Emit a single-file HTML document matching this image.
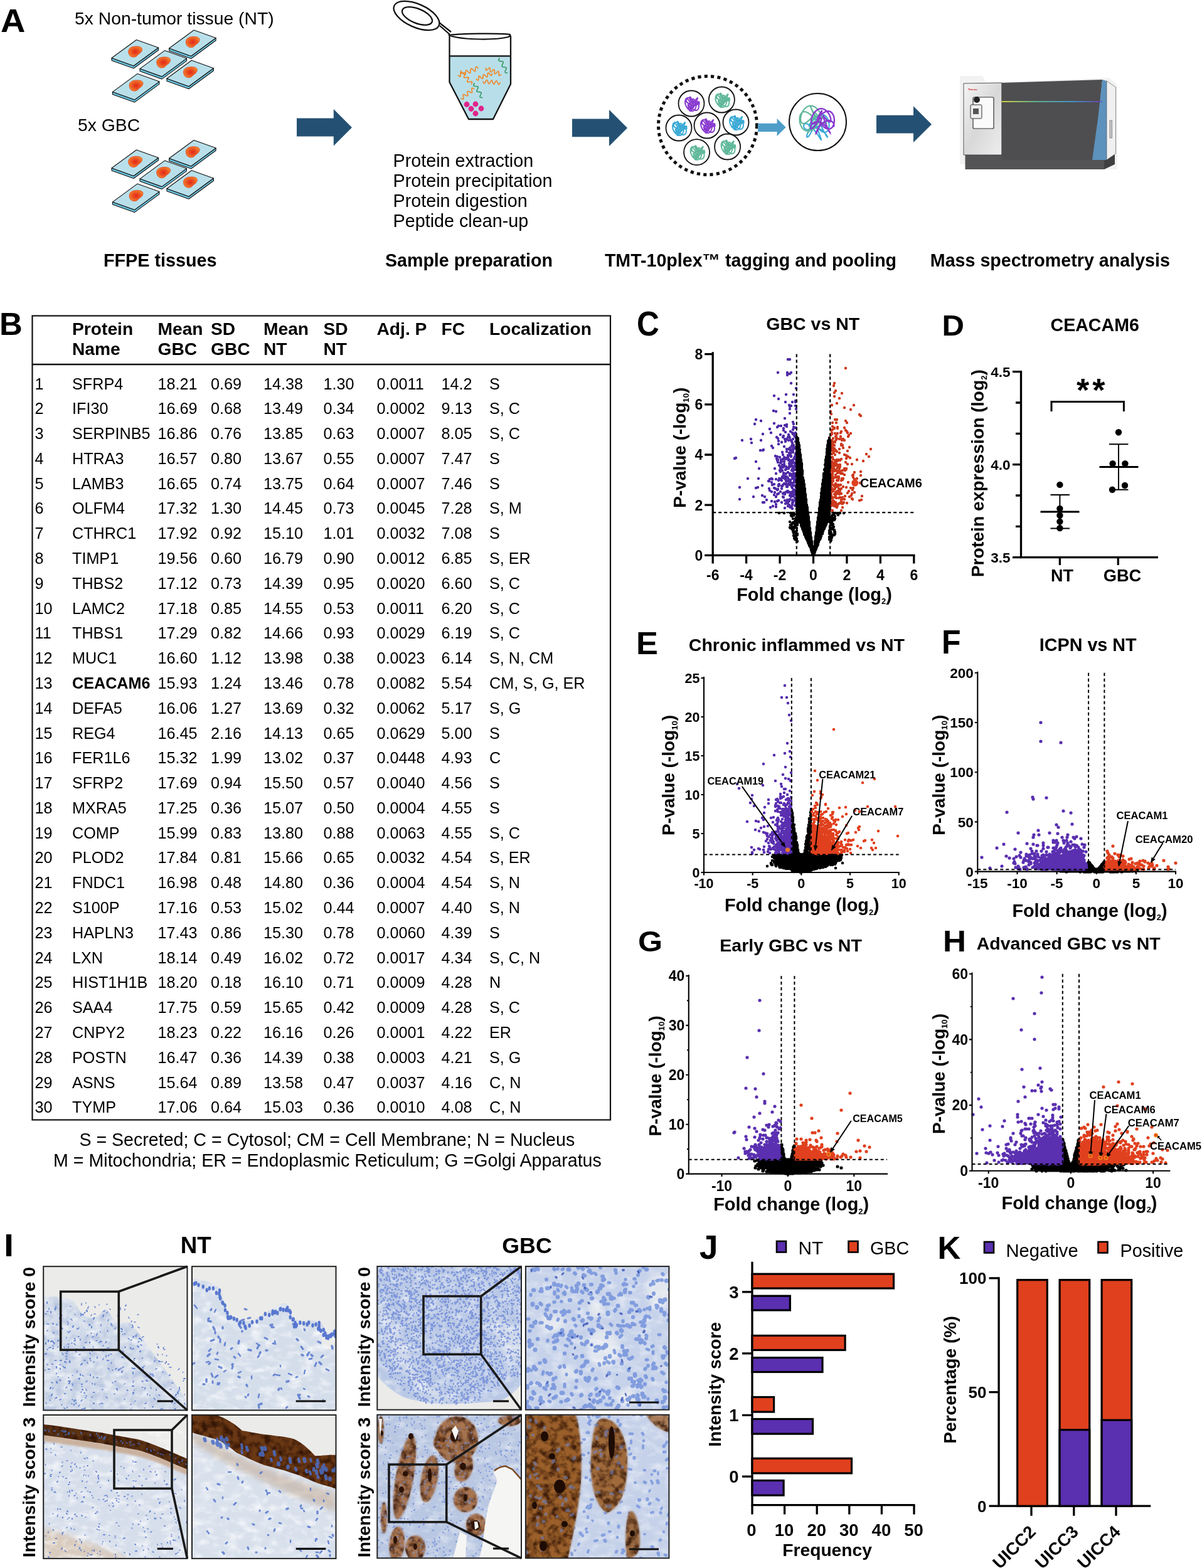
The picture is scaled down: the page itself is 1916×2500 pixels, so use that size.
<!DOCTYPE html>
<html><head><meta charset="utf-8"><title>Figure</title><style>html,body{margin:0;padding:0;background:#fff;}svg{display:block;}text{font-family:"Liberation Sans",Arial,sans-serif;}</style></head><body>
<svg width="1916" height="2500" viewBox="0 0 1916 2500" font-family="Liberation Sans, Arial, sans-serif">
<rect width="1916" height="2500" fill="#fff"/>
<text transform="translate(1.0,51.2) scale(1.071,1)" font-size="50.9" font-weight="bold">A</text>
<text x="119" y="38.6" font-size="28.3">5x Non-tumor tissue (NT)</text>
<text x="124" y="208.6" font-size="28.3">5x GBC</text>
<defs><radialGradient id="blobg" cx="0.5" cy="0.5" r="0.6"><stop offset="0" stop-color="#e3261c"/><stop offset="0.55" stop-color="#ec5a22"/><stop offset="1" stop-color="#f39a35"/></radialGradient></defs>
<polygon points="178.0,92.5 213.0,105.0 252.5,76.0 252.5,80.0 213.0,109.0 178.0,96.5" fill="#6cc3de" stroke="#111" stroke-width="1.1" stroke-linejoin="round"/>
<polygon points="178.0,92.5 217.5,63.5 252.5,76.0 213.0,105.0" fill="#b9e0ea" stroke="#111" stroke-width="1.1" stroke-linejoin="round"/>
<path transform="translate(215.8,82.5)" d="M-11,1 C-12,-6 -5,-9 3,-8.5 C10,-8 12,-5 10,-1 C8,3 5,3 3,6 C0,10 -10,10 -11,1 Z" fill="url(#blobg)" stroke="#e8401c" stroke-width="0.9"/>
<polygon points="269.6,77.0 304.6,89.5 344.1,60.5 344.1,64.5 304.6,93.5 269.6,81.0" fill="#6cc3de" stroke="#111" stroke-width="1.1" stroke-linejoin="round"/>
<polygon points="269.6,77.0 309.1,48.0 344.1,60.5 304.6,89.5" fill="#b9e0ea" stroke="#111" stroke-width="1.1" stroke-linejoin="round"/>
<path transform="translate(307.4,67.0)" d="M-11,1 C-12,-6 -5,-9 3,-8.5 C10,-8 12,-5 10,-1 C8,3 5,3 3,6 C0,10 -10,10 -11,1 Z" fill="url(#blobg)" stroke="#e8401c" stroke-width="0.9"/>
<polygon points="223.0,109.6 258.0,122.1 297.5,93.1 297.5,97.1 258.0,126.1 223.0,113.6" fill="#6cc3de" stroke="#111" stroke-width="1.1" stroke-linejoin="round"/>
<polygon points="223.0,109.6 262.5,80.6 297.5,93.1 258.0,122.1" fill="#b9e0ea" stroke="#111" stroke-width="1.1" stroke-linejoin="round"/>
<path transform="translate(260.8,99.5)" d="M-11,1 C-12,-6 -5,-9 3,-8.5 C10,-8 12,-5 10,-1 C8,3 5,3 3,6 C0,10 -10,10 -11,1 Z" fill="url(#blobg)" stroke="#e8401c" stroke-width="0.9"/>
<polygon points="265.9,125.2 300.9,137.7 340.4,108.7 340.4,112.7 300.9,141.7 265.9,129.2" fill="#6cc3de" stroke="#111" stroke-width="1.1" stroke-linejoin="round"/>
<polygon points="265.9,125.2 305.4,96.2 340.4,108.7 300.9,137.7" fill="#b9e0ea" stroke="#111" stroke-width="1.1" stroke-linejoin="round"/>
<path transform="translate(303.6,115.2)" d="M-11,1 C-12,-6 -5,-9 3,-8.5 C10,-8 12,-5 10,-1 C8,3 5,3 3,6 C0,10 -10,10 -11,1 Z" fill="url(#blobg)" stroke="#e8401c" stroke-width="0.9"/>
<polygon points="179.4,146.6 214.4,159.1 253.9,130.1 253.9,134.1 214.4,163.1 179.4,150.6" fill="#6cc3de" stroke="#111" stroke-width="1.1" stroke-linejoin="round"/>
<polygon points="179.4,146.6 218.9,117.6 253.9,130.1 214.4,159.1" fill="#b9e0ea" stroke="#111" stroke-width="1.1" stroke-linejoin="round"/>
<path transform="translate(217.2,136.5)" d="M-11,1 C-12,-6 -5,-9 3,-8.5 C10,-8 12,-5 10,-1 C8,3 5,3 3,6 C0,10 -10,10 -11,1 Z" fill="url(#blobg)" stroke="#e8401c" stroke-width="0.9"/>
<polygon points="178.0,268.0 213.0,280.5 252.5,251.5 252.5,255.5 213.0,284.5 178.0,272.0" fill="#6cc3de" stroke="#111" stroke-width="1.1" stroke-linejoin="round"/>
<polygon points="178.0,268.0 217.5,239.0 252.5,251.5 213.0,280.5" fill="#b9e0ea" stroke="#111" stroke-width="1.1" stroke-linejoin="round"/>
<path transform="translate(215.8,257.9)" d="M-11,1 C-12,-6 -5,-9 3,-8.5 C10,-8 12,-5 10,-1 C8,3 5,3 3,6 C0,10 -10,10 -11,1 Z" fill="url(#blobg)" stroke="#e8401c" stroke-width="0.9"/>
<polygon points="269.6,252.5 304.6,265.0 344.1,236.0 344.1,240.0 304.6,269.0 269.6,256.5" fill="#6cc3de" stroke="#111" stroke-width="1.1" stroke-linejoin="round"/>
<polygon points="269.6,252.5 309.1,223.5 344.1,236.0 304.6,265.0" fill="#b9e0ea" stroke="#111" stroke-width="1.1" stroke-linejoin="round"/>
<path transform="translate(307.4,242.4)" d="M-11,1 C-12,-6 -5,-9 3,-8.5 C10,-8 12,-5 10,-1 C8,3 5,3 3,6 C0,10 -10,10 -11,1 Z" fill="url(#blobg)" stroke="#e8401c" stroke-width="0.9"/>
<polygon points="223.0,285.1 258.0,297.6 297.5,268.6 297.5,272.6 258.0,301.6 223.0,289.1" fill="#6cc3de" stroke="#111" stroke-width="1.1" stroke-linejoin="round"/>
<polygon points="223.0,285.1 262.5,256.1 297.5,268.6 258.0,297.6" fill="#b9e0ea" stroke="#111" stroke-width="1.1" stroke-linejoin="round"/>
<path transform="translate(260.8,275.1)" d="M-11,1 C-12,-6 -5,-9 3,-8.5 C10,-8 12,-5 10,-1 C8,3 5,3 3,6 C0,10 -10,10 -11,1 Z" fill="url(#blobg)" stroke="#e8401c" stroke-width="0.9"/>
<polygon points="265.9,300.7 300.9,313.2 340.4,284.2 340.4,288.2 300.9,317.2 265.9,304.7" fill="#6cc3de" stroke="#111" stroke-width="1.1" stroke-linejoin="round"/>
<polygon points="265.9,300.7 305.4,271.7 340.4,284.2 300.9,313.2" fill="#b9e0ea" stroke="#111" stroke-width="1.1" stroke-linejoin="round"/>
<path transform="translate(303.6,290.6)" d="M-11,1 C-12,-6 -5,-9 3,-8.5 C10,-8 12,-5 10,-1 C8,3 5,3 3,6 C0,10 -10,10 -11,1 Z" fill="url(#blobg)" stroke="#e8401c" stroke-width="0.9"/>
<polygon points="179.4,322.1 214.4,334.6 253.9,305.6 253.9,309.6 214.4,338.6 179.4,326.1" fill="#6cc3de" stroke="#111" stroke-width="1.1" stroke-linejoin="round"/>
<polygon points="179.4,322.1 218.9,293.1 253.9,305.6 214.4,334.6" fill="#b9e0ea" stroke="#111" stroke-width="1.1" stroke-linejoin="round"/>
<path transform="translate(217.2,312.1)" d="M-11,1 C-12,-6 -5,-9 3,-8.5 C10,-8 12,-5 10,-1 C8,3 5,3 3,6 C0,10 -10,10 -11,1 Z" fill="url(#blobg)" stroke="#e8401c" stroke-width="0.9"/>
<polygon points="473,188.6 531.8,188.6 531.8,174 561,203.25 531.8,232.5 531.8,217.5 473,217.5" fill="#245173"/>
<polygon points="912,189.6 971,189.6 971,175 1000,204.0 971,233 971,218.2 912,218.2" fill="#245173"/>
<polygon points="1397,183.7 1456,183.7 1456,169.3 1485,198.15 1456,227 1456,212.5 1397,212.5" fill="#245173"/>
<g fill="none" stroke="#111" stroke-width="2.3"><ellipse cx="664" cy="25" rx="39" ry="18.5" transform="rotate(24 664 25)"/><ellipse cx="665" cy="25.5" rx="25.5" ry="11.5" transform="rotate(22 665 25.5)"/><path d="M700,36 L719,51 M701,41 L717,55" /></g>
<path d="M716.5,89 L814,89 L814,134 L786,190 L747,190 L716.5,131 Z" fill="#b8dfe9"/>
<path d="M716.5,56 L716.5,131 L747,190 L786,190 L814,134 L814,57" fill="none" stroke="#111" stroke-width="2.3" stroke-linejoin="round"/>
<path d="M716.5,56 C740,53 800,53 813,55 C814,57 812,58 810,59 C790,64 740,64 718,57 Z" fill="#fff" stroke="#111" stroke-width="2.2"/>
<line x1="716.5" y1="89.3" x2="814" y2="89.3" stroke="#111" stroke-width="2.2"/>
<path d="M730.3,120.0 732.1,121.8 733.4,122.3 734.0,121.1 734.3,118.6 734.5,116.1 735.2,114.9 736.5,115.4 738.2,117.2 740.0,118.9 741.3,119.4 742.0,118.2 742.2,115.7 742.4,113.2 743.1,112.0 744.4,112.5 746.1,114.3 747.9,116.1 749.2,116.6 749.9,115.4 750.1,112.9 750.3,110.4 751.0,109.2 752.3,109.7 754.1,111.4 755.8,113.2 757.1,113.7 757.8,112.5 758.0,110.0 758.3,107.5 758.9,106.3 760.2,106.8 762.0,108.6" fill="none" stroke="#ee8a2e" stroke-width="1.7" stroke-linecap="round" stroke-linejoin="round"/>
<path d="M735.0,113.0 734.0,115.2 734.0,116.6 735.4,116.9 737.7,116.5 740.1,116.1 741.5,116.4 741.5,117.8 740.5,120.0 739.5,122.2 739.5,123.6 740.8,123.9 743.2,123.5 745.6,123.1 746.9,123.4 746.9,124.8 745.9,127.0 744.9,129.2 744.9,130.6 746.3,130.9 748.7,130.5 751.0,130.1 752.4,130.4 752.4,131.8 751.4,134.0" fill="none" stroke="#ee8a2e" stroke-width="1.7" stroke-linecap="round" stroke-linejoin="round"/>
<path d="M759.3,126.0 760.9,127.7 762.1,128.2 762.7,127.0 762.9,124.7 763.0,122.4 763.6,121.2 764.8,121.8 766.4,123.4 768.1,125.1 769.2,125.6 769.8,124.5 770.0,122.1 770.2,119.8 770.8,118.7 772.0,119.2 773.6,120.9 775.2,122.5 776.4,123.0 777.0,121.9 777.2,119.6 777.3,117.3 777.9,116.1 779.1,116.6 780.7,118.3 782.3,120.0 783.5,120.5 784.1,119.3 784.3,117.0" fill="none" stroke="#ee8a2e" stroke-width="1.7" stroke-linecap="round" stroke-linejoin="round"/>
<path d="M774.3,108.6 774.4,110.9 774.9,112.1 776.1,111.6 777.8,110.0 779.4,108.4 780.6,108.0 781.2,109.1 781.2,111.5 781.3,113.8 781.8,114.9 783.0,114.5 784.7,112.9 786.4,111.3 787.6,110.8 788.1,112.0 788.2,114.3 788.2,116.6 788.8,117.8 790.0,117.3 791.7,115.7 793.3,114.1 794.5,113.7 795.1,114.9 795.1,117.2 795.2,119.5 795.7,120.7 796.9,120.2 798.6,118.6" fill="none" stroke="#ee8a2e" stroke-width="1.7" stroke-linecap="round" stroke-linejoin="round"/>
<path d="M770.0,130.0 770.8,132.2 771.7,133.1 772.7,132.3 773.9,130.3 775.0,128.2 776.0,127.4 776.9,128.4 777.7,130.6 778.5,132.8 779.4,133.7 780.5,132.9 781.6,130.9 782.7,128.8 783.7,128.0 784.6,129.0 785.4,131.1 786.2,133.3 787.1,134.3 788.2,133.5 789.3,131.4 790.4,129.4 791.4,128.6 792.3,129.5 793.1,131.7 794.0,133.9 794.8,134.8 795.9,134.0 797.0,132.0" fill="none" stroke="#ee8a2e" stroke-width="1.7" stroke-linecap="round" stroke-linejoin="round"/>
<path d="M735.0,157.0 737.1,158.0 738.5,158.1 738.9,156.7 738.5,154.4 738.0,152.1 738.4,150.7 739.8,150.8 741.9,151.8 744.0,152.8 745.4,152.9 745.8,151.5 745.4,149.2 744.9,146.9 745.3,145.5 746.7,145.6 748.8,146.6 750.9,147.6 752.3,147.7 752.7,146.3 752.2,144.0 751.8,141.7 752.2,140.3 753.6,140.4 755.7,141.4" fill="none" stroke="#ee8a2e" stroke-width="1.7" stroke-linecap="round" stroke-linejoin="round"/>
<path d="M796.0,93.0 795.0,95.0 795.0,96.6 796.3,97.4 798.5,97.7 800.8,98.0 802.1,98.8 802.0,100.3 801.0,102.4 800.1,104.4 800.0,105.9 801.3,106.7 803.6,107.0 805.8,107.3 807.1,108.1 807.1,109.7 806.1,111.7 805.1,113.8 805.1,115.3 806.4,116.1 808.6,116.4" fill="none" stroke="#3d9a6a" stroke-width="1.7" stroke-linecap="round" stroke-linejoin="round"/>
<path d="M756.0,133.0 755.0,135.0 755.0,136.5 756.3,137.3 758.5,137.5 760.8,137.8 762.1,138.5 762.0,140.1 761.0,142.1 760.1,144.1 760.0,145.6 761.3,146.4 763.6,146.6 765.8,146.9 767.1,147.6 767.1,149.1 766.1,151.2 765.1,153.2 765.1,154.7 766.4,155.5 768.6,155.7" fill="none" stroke="#3d9a6a" stroke-width="1.7" stroke-linecap="round" stroke-linejoin="round"/>
<circle cx="744" cy="166.5" r="4.4" fill="#e0248a"/>
<circle cx="758" cy="166" r="4.4" fill="#e0248a"/>
<circle cx="751" cy="173.5" r="4.4" fill="#e0248a"/>
<circle cx="767" cy="173" r="4.4" fill="#e0248a"/>
<circle cx="758" cy="181" r="4.4" fill="#e0248a"/>
<text x="626.5" y="266.2" font-size="28.75">Protein extraction</text>
<text x="626.5" y="297.9" font-size="28.75">Protein precipitation</text>
<text x="626.5" y="330" font-size="28.75">Protein digestion</text>
<text x="626.5" y="362" font-size="28.75">Peptide clean-up</text>
<circle cx="1128" cy="200" r="78.5" fill="none" stroke="#111" stroke-width="5" stroke-dasharray="5.2 5.2"/>
<circle cx="1102" cy="165" r="20.5" fill="#fff" stroke="#111" stroke-width="1.8"/>
<path d="M1111.1,161.2 1111.9,162.2 1112.6,163.4 1113.2,164.8 1113.6,166.4 1113.9,168.0 1113.9,169.7 1113.8,171.2 1113.4,172.6 1112.9,173.9 1112.2,174.8 1111.3,175.5 1110.2,175.9 1109.1,175.9 1107.9,175.7 1106.6,175.2 1105.2,174.4 1103.9,173.5 1102.6,172.4 1101.4,171.3 1100.3,170.2 1099.3,169.2 1098.4,168.4 1097.7,167.7 1097.2,167.2 1096.8,167.1 1096.6,167.1 1096.6,167.4 1096.7,168.0 1097.0,168.7 1097.4,169.6 1097.9,170.6 1098.4,171.5 1099.0,172.4 1099.6,173.2 1100.2,173.8 1100.8,174.2 1101.3,174.3 1101.6,174.1 1101.9,173.7 1102.1,172.9 1102.1,171.8 1102.0,170.5 1101.7,169.0 1101.3,167.4 1100.8,165.8 1100.1,164.1 1099.4,162.5 1098.7,161.1 1097.9,159.9 1097.1,159.0 1096.3,158.3 1095.6,157.9 1095.0,157.8 1094.5,158.0 1094.1,158.5 1093.9,159.2 1093.8,160.0 1094.0,161.0 1094.3,161.9 1094.8,162.8 1095.5,163.7 1096.4,164.3 1097.4,164.8 1098.5,165.0 1099.8,164.9 1101.1,164.6 1102.5,164.1 1103.8,163.3 1105.2,162.4 1106.5,161.3 1107.7,160.2 1108.8,159.1 1109.8,158.1 1110.6,157.2 1111.3,156.5 1111.7,156.1 1112.0,156.0 1112.1,156.1 1112.0,156.6 1111.7,157.4 1111.3,158.5 1110.8,159.7 1110.1,161.2 1109.4,162.8 1108.6,164.4 1107.8,166.1 1107.0,167.6 1106.3,168.9 1105.6,170.1 1105.1,171.0 1104.6,171.6 1104.2,171.9 1104.0,172.0 1103.9,171.8 1104.0,171.3 1104.2,170.7 1104.5,169.9 1105.0,169.0 1105.5,168.2 1106.0,167.4 1106.7,166.8 1107.3,166.3 1107.9,166.1 1108.4,166.1 1108.9,166.4 1109.2,166.9 1109.5,167.7 1109.6,168.7 1109.5,169.8 1109.2,171.0 1108.8,172.3 1108.2,173.6 1107.5,174.7 1106.6,175.7 1105.5,176.5 1104.4,176.9 1103.1,177.1 1101.8,177.0 1100.5,176.6 1099.1,175.8 1097.9,174.8 1096.6,173.6 1095.5,172.2 1094.5,170.7 1093.7,169.1 1093.0,167.6 1092.5,166.2 1092.2,164.9 1092.1,163.9 1092.2,163.1 1092.5,162.6 1093.0,162.3 1093.6,162.4 1094.4,162.7 1095.2,163.2 1096.2,163.8 1097.1,164.6 1098.1,165.4 1099.1,166.1 1100.1,166.8 1100.9,167.3 1101.7,167.6 1102.4,167.7 1102.9,167.5 1103.3,167.0 1103.6,166.2 1103.7,165.3 1103.6,164.1 1103.5,162.8 1103.2,161.4 1102.8,159.9 1102.4,158.5 1101.9,157.3 1101.4,156.2 1100.9,155.3 1100.4,154.8 1100.0,154.5 1099.7,154.6 1099.5,154.9 1099.5,155.6 1099.6,156.6 1099.8,157.7 1100.2,159.0 1100.8,160.4 1101.5,161.8 1102.4,163.2 1103.3,164.5 1104.4,165.6 1105.5,166.4 1106.7,167.1 1107.9,167.4 1109.1,167.5 1110.3,167.3 1111.3,166.9 1112.2,166.4 1113.0,165.7 1113.7,164.9 1114.2,164.1 1114.4,163.4 1114.5,162.8 1114.4,162.3 1114.0,162.2 1113.5,162.2 1112.8,162.6 1112.0,163.2 1111.0,164.1 1110.0,165.2 1108.8,166.6 1107.6,168.0 1106.4,169.6 1105.3,171.1 1104.2,172.6 1103.1,174.0 1102.2,175.2 1101.4,176.1 1100.7,176.7 1100.2,177.0 1099.8,177.0 1099.6,176.7 1099.6,176.2 1099.7,175.3 1099.9,174.3 1100.3,173.1 1100.7,171.8 1101.2,170.6 1101.7,169.4 1102.2,168.3 1102.6,167.4 1103.1,166.7 1103.4,166.3 1103.7,166.2 1103.8,166.3 1103.8,166.6 1103.6,167.1 1103.3,167.9 1102.9,168.7 1102.3,169.5 1101.6,170.4 1100.7,171.1 1099.8,171.7 1098.9,172.0 1097.8,172.2 1096.8,172.0 1095.9,171.6 1094.9,170.8 1094.1,169.8 1093.4,168.6 1092.8,167.2 1092.4,165.6 1092.1,164.0 1092.1,162.3 1092.2,160.8 1092.6,159.4 1093.1,158.1 1093.8,157.2 1094.7,156.5 1095.8,156.1 1096.9,156.1 1098.1,156.3 1099.4,156.8 1100.8,157.6 1102.1,158.5 1103.4,159.6 1104.6,160.7 1105.7,161.8 1106.7,162.8 1107.6,163.6 1108.3,164.3 1108.8,164.8 1109.2,164.9 1109.4,164.9 1109.4,164.6 1109.3,164.0 1109.0,163.3 1108.6,162.4 1108.1,161.4 1107.6,160.5 1107.0,159.6 1106.4,158.8 1105.8,158.2 1105.2,157.8 1104.7,157.7 1104.4,157.9 1104.1,158.3 1103.9,159.1 1103.9,160.2 1104.0,161.5 1104.3,163.0 1104.7,164.6 1105.2,166.2" fill="none" stroke="#8a3ad0" stroke-width="2.0" stroke-linejoin="round"/>
<path d="M1106,164 l9,1.5" stroke="#8a3ad0" stroke-width="2" stroke-linecap="round"/>
<circle cx="1150.4" cy="159" r="20.5" fill="#fff" stroke="#111" stroke-width="1.8"/>
<path d="M1159.5,155.2 1160.3,156.2 1161.0,157.4 1161.6,158.8 1162.0,160.4 1162.3,162.0 1162.3,163.7 1162.2,165.2 1161.8,166.6 1161.3,167.9 1160.6,168.8 1159.7,169.5 1158.6,169.9 1157.5,169.9 1156.3,169.7 1155.0,169.2 1153.6,168.4 1152.3,167.5 1151.0,166.4 1149.8,165.3 1148.7,164.2 1147.7,163.2 1146.8,162.4 1146.1,161.7 1145.6,161.2 1145.2,161.1 1145.0,161.1 1145.0,161.4 1145.1,162.0 1145.4,162.7 1145.8,163.6 1146.3,164.6 1146.8,165.5 1147.4,166.4 1148.0,167.2 1148.6,167.8 1149.2,168.2 1149.7,168.3 1150.0,168.1 1150.3,167.7 1150.5,166.9 1150.5,165.8 1150.4,164.5 1150.1,163.0 1149.7,161.4 1149.2,159.8 1148.5,158.1 1147.8,156.5 1147.1,155.1 1146.3,153.9 1145.5,153.0 1144.7,152.3 1144.0,151.9 1143.4,151.8 1142.9,152.0 1142.5,152.5 1142.3,153.2 1142.2,154.0 1142.4,155.0 1142.7,155.9 1143.2,156.8 1143.9,157.7 1144.8,158.3 1145.8,158.8 1146.9,159.0 1148.2,158.9 1149.5,158.6 1150.9,158.1 1152.2,157.3 1153.6,156.4 1154.9,155.3 1156.1,154.2 1157.2,153.1 1158.2,152.1 1159.0,151.2 1159.7,150.5 1160.1,150.1 1160.4,150.0 1160.5,150.1 1160.4,150.6 1160.1,151.4 1159.7,152.5 1159.2,153.7 1158.5,155.2 1157.8,156.8 1157.0,158.4 1156.2,160.1 1155.4,161.6 1154.7,162.9 1154.0,164.1 1153.5,165.0 1153.0,165.6 1152.6,165.9 1152.4,166.0 1152.3,165.8 1152.4,165.3 1152.6,164.7 1152.9,163.9 1153.4,163.0 1153.9,162.2 1154.4,161.4 1155.1,160.8 1155.7,160.3 1156.3,160.1 1156.8,160.1 1157.3,160.4 1157.6,160.9 1157.9,161.7 1158.0,162.7 1157.9,163.8 1157.6,165.0 1157.2,166.3 1156.6,167.6 1155.9,168.7 1155.0,169.7 1153.9,170.5 1152.8,170.9 1151.5,171.1 1150.2,171.0 1148.9,170.6 1147.5,169.8 1146.3,168.8 1145.0,167.6 1143.9,166.2 1142.9,164.7 1142.1,163.1 1141.4,161.6 1140.9,160.2 1140.6,158.9 1140.5,157.9 1140.6,157.1 1140.9,156.6 1141.4,156.3 1142.0,156.4 1142.8,156.7 1143.6,157.2 1144.6,157.8 1145.5,158.6 1146.5,159.4 1147.5,160.1 1148.5,160.8 1149.3,161.3 1150.1,161.6 1150.8,161.7 1151.3,161.5 1151.7,161.0 1152.0,160.2 1152.1,159.3 1152.0,158.1 1151.9,156.8 1151.6,155.4 1151.2,153.9 1150.8,152.5 1150.3,151.3 1149.8,150.2 1149.3,149.3 1148.8,148.8 1148.4,148.5 1148.1,148.6 1147.9,148.9 1147.9,149.6 1148.0,150.6 1148.2,151.7 1148.6,153.0 1149.2,154.4 1149.9,155.8 1150.8,157.2 1151.7,158.5 1152.8,159.6 1153.9,160.4 1155.1,161.1 1156.3,161.4 1157.5,161.5 1158.7,161.3 1159.7,160.9 1160.6,160.4 1161.4,159.7 1162.1,158.9 1162.6,158.1 1162.8,157.4 1162.9,156.8 1162.8,156.3 1162.4,156.2 1161.9,156.2 1161.2,156.6 1160.4,157.2 1159.4,158.1 1158.4,159.2 1157.2,160.6 1156.0,162.0 1154.8,163.6 1153.7,165.1 1152.6,166.6 1151.5,168.0 1150.6,169.2 1149.8,170.1 1149.1,170.7 1148.6,171.0 1148.2,171.0 1148.0,170.7 1148.0,170.2 1148.1,169.3 1148.3,168.3 1148.7,167.1 1149.1,165.8 1149.6,164.6 1150.1,163.4 1150.6,162.3 1151.0,161.4 1151.5,160.7 1151.8,160.3 1152.1,160.2 1152.2,160.3 1152.2,160.6 1152.0,161.1 1151.7,161.9 1151.3,162.7 1150.7,163.5 1150.0,164.4 1149.1,165.1 1148.2,165.7 1147.3,166.0 1146.2,166.2 1145.2,166.0 1144.3,165.6 1143.3,164.8 1142.5,163.8 1141.8,162.6 1141.2,161.2 1140.8,159.6 1140.5,158.0 1140.5,156.3 1140.6,154.8 1141.0,153.4 1141.5,152.1 1142.2,151.2 1143.1,150.5 1144.2,150.1 1145.3,150.1 1146.5,150.3 1147.8,150.8 1149.2,151.6 1150.5,152.5 1151.8,153.6 1153.0,154.7 1154.1,155.8 1155.1,156.8 1156.0,157.6 1156.7,158.3 1157.2,158.8 1157.6,158.9 1157.8,158.9 1157.8,158.6 1157.7,158.0 1157.4,157.3 1157.0,156.4 1156.5,155.4 1156.0,154.5 1155.4,153.6 1154.8,152.8 1154.2,152.2 1153.6,151.8 1153.1,151.7 1152.8,151.9 1152.5,152.3 1152.3,153.1 1152.3,154.2 1152.4,155.5 1152.7,157.0 1153.1,158.6 1153.6,160.2" fill="none" stroke="#5fb89a" stroke-width="2.0" stroke-linejoin="round"/>
<path d="M1154.4,158 l9,1.5" stroke="#5fb89a" stroke-width="2" stroke-linecap="round"/>
<circle cx="1082" cy="204" r="20.5" fill="#fff" stroke="#111" stroke-width="1.8"/>
<path d="M1091.1,200.2 1091.9,201.2 1092.6,202.4 1093.2,203.8 1093.6,205.4 1093.9,207.0 1093.9,208.7 1093.8,210.2 1093.4,211.6 1092.9,212.9 1092.2,213.8 1091.3,214.5 1090.2,214.9 1089.1,214.9 1087.9,214.7 1086.6,214.2 1085.2,213.4 1083.9,212.5 1082.6,211.4 1081.4,210.3 1080.3,209.2 1079.3,208.2 1078.4,207.4 1077.7,206.7 1077.2,206.2 1076.8,206.1 1076.6,206.1 1076.6,206.4 1076.7,207.0 1077.0,207.7 1077.4,208.6 1077.9,209.6 1078.4,210.5 1079.0,211.4 1079.6,212.2 1080.2,212.8 1080.8,213.2 1081.3,213.3 1081.6,213.1 1081.9,212.7 1082.1,211.9 1082.1,210.8 1082.0,209.5 1081.7,208.0 1081.3,206.4 1080.8,204.8 1080.1,203.1 1079.4,201.5 1078.7,200.1 1077.9,198.9 1077.1,198.0 1076.3,197.3 1075.6,196.9 1075.0,196.8 1074.5,197.0 1074.1,197.5 1073.9,198.2 1073.8,199.0 1074.0,200.0 1074.3,200.9 1074.8,201.8 1075.5,202.7 1076.4,203.3 1077.4,203.8 1078.5,204.0 1079.8,203.9 1081.1,203.6 1082.5,203.1 1083.8,202.3 1085.2,201.4 1086.5,200.3 1087.7,199.2 1088.8,198.1 1089.8,197.1 1090.6,196.2 1091.3,195.5 1091.7,195.1 1092.0,195.0 1092.1,195.1 1092.0,195.6 1091.7,196.4 1091.3,197.5 1090.8,198.7 1090.1,200.2 1089.4,201.8 1088.6,203.4 1087.8,205.1 1087.0,206.6 1086.3,207.9 1085.6,209.1 1085.1,210.0 1084.6,210.6 1084.2,210.9 1084.0,211.0 1083.9,210.8 1084.0,210.3 1084.2,209.7 1084.5,208.9 1085.0,208.0 1085.5,207.2 1086.0,206.4 1086.7,205.8 1087.3,205.3 1087.9,205.1 1088.4,205.1 1088.9,205.4 1089.2,205.9 1089.5,206.7 1089.6,207.7 1089.5,208.8 1089.2,210.0 1088.8,211.3 1088.2,212.6 1087.5,213.7 1086.6,214.7 1085.5,215.5 1084.4,215.9 1083.1,216.1 1081.8,216.0 1080.5,215.6 1079.1,214.8 1077.9,213.8 1076.6,212.6 1075.5,211.2 1074.5,209.7 1073.7,208.1 1073.0,206.6 1072.5,205.2 1072.2,203.9 1072.1,202.9 1072.2,202.1 1072.5,201.6 1073.0,201.3 1073.6,201.4 1074.4,201.7 1075.2,202.2 1076.2,202.8 1077.1,203.6 1078.1,204.4 1079.1,205.1 1080.1,205.8 1080.9,206.3 1081.7,206.6 1082.4,206.7 1082.9,206.5 1083.3,206.0 1083.6,205.2 1083.7,204.3 1083.6,203.1 1083.5,201.8 1083.2,200.4 1082.8,198.9 1082.4,197.5 1081.9,196.3 1081.4,195.2 1080.9,194.3 1080.4,193.8 1080.0,193.5 1079.7,193.6 1079.5,193.9 1079.5,194.6 1079.6,195.6 1079.8,196.7 1080.2,198.0 1080.8,199.4 1081.5,200.8 1082.4,202.2 1083.3,203.5 1084.4,204.6 1085.5,205.4 1086.7,206.1 1087.9,206.4 1089.1,206.5 1090.3,206.3 1091.3,205.9 1092.2,205.4 1093.0,204.7 1093.7,203.9 1094.2,203.1 1094.4,202.4 1094.5,201.8 1094.4,201.3 1094.0,201.2 1093.5,201.2 1092.8,201.6 1092.0,202.2 1091.0,203.1 1090.0,204.2 1088.8,205.6 1087.6,207.0 1086.4,208.6 1085.3,210.1 1084.2,211.6 1083.1,213.0 1082.2,214.2 1081.4,215.1 1080.7,215.7 1080.2,216.0 1079.8,216.0 1079.6,215.7 1079.6,215.2 1079.7,214.3 1079.9,213.3 1080.3,212.1 1080.7,210.8 1081.2,209.6 1081.7,208.4 1082.2,207.3 1082.6,206.4 1083.1,205.7 1083.4,205.3 1083.7,205.2 1083.8,205.3 1083.8,205.6 1083.6,206.1 1083.3,206.9 1082.9,207.7 1082.3,208.5 1081.6,209.4 1080.7,210.1 1079.8,210.7 1078.9,211.0 1077.8,211.2 1076.8,211.0 1075.9,210.6 1074.9,209.8 1074.1,208.8 1073.4,207.6 1072.8,206.2 1072.4,204.6 1072.1,203.0 1072.1,201.3 1072.2,199.8 1072.6,198.4 1073.1,197.1 1073.8,196.2 1074.7,195.5 1075.8,195.1 1076.9,195.1 1078.1,195.3 1079.4,195.8 1080.8,196.6 1082.1,197.5 1083.4,198.6 1084.6,199.7 1085.7,200.8 1086.7,201.8 1087.6,202.6 1088.3,203.3 1088.8,203.8 1089.2,203.9 1089.4,203.9 1089.4,203.6 1089.3,203.0 1089.0,202.3 1088.6,201.4 1088.1,200.4 1087.6,199.5 1087.0,198.6 1086.4,197.8 1085.8,197.2 1085.2,196.8 1084.7,196.7 1084.4,196.9 1084.1,197.3 1083.9,198.1 1083.9,199.2 1084.0,200.5 1084.3,202.0 1084.7,203.6 1085.2,205.2" fill="none" stroke="#3aaad6" stroke-width="2.0" stroke-linejoin="round"/>
<path d="M1086,203 l9,1.5" stroke="#3aaad6" stroke-width="2" stroke-linecap="round"/>
<circle cx="1127" cy="200" r="20.5" fill="#fff" stroke="#111" stroke-width="1.8"/>
<path d="M1136.1,196.2 1136.9,197.2 1137.6,198.4 1138.2,199.8 1138.6,201.4 1138.9,203.0 1138.9,204.7 1138.8,206.2 1138.4,207.6 1137.9,208.9 1137.2,209.8 1136.3,210.5 1135.2,210.9 1134.1,210.9 1132.9,210.7 1131.6,210.2 1130.2,209.4 1128.9,208.5 1127.6,207.4 1126.4,206.3 1125.3,205.2 1124.3,204.2 1123.4,203.4 1122.7,202.7 1122.2,202.2 1121.8,202.1 1121.6,202.1 1121.6,202.4 1121.7,203.0 1122.0,203.7 1122.4,204.6 1122.9,205.6 1123.4,206.5 1124.0,207.4 1124.6,208.2 1125.2,208.8 1125.8,209.2 1126.3,209.3 1126.6,209.1 1126.9,208.7 1127.1,207.9 1127.1,206.8 1127.0,205.5 1126.7,204.0 1126.3,202.4 1125.8,200.8 1125.1,199.1 1124.4,197.5 1123.7,196.1 1122.9,194.9 1122.1,194.0 1121.3,193.3 1120.6,192.9 1120.0,192.8 1119.5,193.0 1119.1,193.5 1118.9,194.2 1118.8,195.0 1119.0,196.0 1119.3,196.9 1119.8,197.8 1120.5,198.7 1121.4,199.3 1122.4,199.8 1123.5,200.0 1124.8,199.9 1126.1,199.6 1127.5,199.1 1128.8,198.3 1130.2,197.4 1131.5,196.3 1132.7,195.2 1133.8,194.1 1134.8,193.1 1135.6,192.2 1136.3,191.5 1136.7,191.1 1137.0,191.0 1137.1,191.1 1137.0,191.6 1136.7,192.4 1136.3,193.5 1135.8,194.7 1135.1,196.2 1134.4,197.8 1133.6,199.4 1132.8,201.1 1132.0,202.6 1131.3,203.9 1130.6,205.1 1130.1,206.0 1129.6,206.6 1129.2,206.9 1129.0,207.0 1128.9,206.8 1129.0,206.3 1129.2,205.7 1129.5,204.9 1130.0,204.0 1130.5,203.2 1131.0,202.4 1131.7,201.8 1132.3,201.3 1132.9,201.1 1133.4,201.1 1133.9,201.4 1134.2,201.9 1134.5,202.7 1134.6,203.7 1134.5,204.8 1134.2,206.0 1133.8,207.3 1133.2,208.6 1132.5,209.7 1131.6,210.7 1130.5,211.5 1129.4,211.9 1128.1,212.1 1126.8,212.0 1125.5,211.6 1124.1,210.8 1122.9,209.8 1121.6,208.6 1120.5,207.2 1119.5,205.7 1118.7,204.1 1118.0,202.6 1117.5,201.2 1117.2,199.9 1117.1,198.9 1117.2,198.1 1117.5,197.6 1118.0,197.3 1118.6,197.4 1119.4,197.7 1120.2,198.2 1121.2,198.8 1122.1,199.6 1123.1,200.4 1124.1,201.1 1125.1,201.8 1125.9,202.3 1126.7,202.6 1127.4,202.7 1127.9,202.5 1128.3,202.0 1128.6,201.2 1128.7,200.3 1128.6,199.1 1128.5,197.8 1128.2,196.4 1127.8,194.9 1127.4,193.5 1126.9,192.3 1126.4,191.2 1125.9,190.3 1125.4,189.8 1125.0,189.5 1124.7,189.6 1124.5,189.9 1124.5,190.6 1124.6,191.6 1124.8,192.7 1125.2,194.0 1125.8,195.4 1126.5,196.8 1127.4,198.2 1128.3,199.5 1129.4,200.6 1130.5,201.4 1131.7,202.1 1132.9,202.4 1134.1,202.5 1135.3,202.3 1136.3,201.9 1137.2,201.4 1138.0,200.7 1138.7,199.9 1139.2,199.1 1139.4,198.4 1139.5,197.8 1139.4,197.3 1139.0,197.2 1138.5,197.2 1137.8,197.6 1137.0,198.2 1136.0,199.1 1135.0,200.2 1133.8,201.6 1132.6,203.0 1131.4,204.6 1130.3,206.1 1129.2,207.6 1128.1,209.0 1127.2,210.2 1126.4,211.1 1125.7,211.7 1125.2,212.0 1124.8,212.0 1124.6,211.7 1124.6,211.2 1124.7,210.3 1124.9,209.3 1125.3,208.1 1125.7,206.8 1126.2,205.6 1126.7,204.4 1127.2,203.3 1127.6,202.4 1128.1,201.7 1128.4,201.3 1128.7,201.2 1128.8,201.3 1128.8,201.6 1128.6,202.1 1128.3,202.9 1127.9,203.7 1127.3,204.5 1126.6,205.4 1125.7,206.1 1124.8,206.7 1123.9,207.0 1122.8,207.2 1121.8,207.0 1120.9,206.6 1119.9,205.8 1119.1,204.8 1118.4,203.6 1117.8,202.2 1117.4,200.6 1117.1,199.0 1117.1,197.3 1117.2,195.8 1117.6,194.4 1118.1,193.1 1118.8,192.2 1119.7,191.5 1120.8,191.1 1121.9,191.1 1123.1,191.3 1124.4,191.8 1125.8,192.6 1127.1,193.5 1128.4,194.6 1129.6,195.7 1130.7,196.8 1131.7,197.8 1132.6,198.6 1133.3,199.3 1133.8,199.8 1134.2,199.9 1134.4,199.9 1134.4,199.6 1134.3,199.0 1134.0,198.3 1133.6,197.4 1133.1,196.4 1132.6,195.5 1132.0,194.6 1131.4,193.8 1130.8,193.2 1130.2,192.8 1129.7,192.7 1129.4,192.9 1129.1,193.3 1128.9,194.1 1128.9,195.2 1129.0,196.5 1129.3,198.0 1129.7,199.6 1130.2,201.2" fill="none" stroke="#8a3ad0" stroke-width="2.0" stroke-linejoin="round"/>
<path d="M1131,199 l9,1.5" stroke="#8a3ad0" stroke-width="2" stroke-linecap="round"/>
<circle cx="1173" cy="195" r="20.5" fill="#fff" stroke="#111" stroke-width="1.8"/>
<path d="M1182.1,191.2 1182.9,192.2 1183.6,193.4 1184.2,194.8 1184.6,196.4 1184.9,198.0 1184.9,199.7 1184.8,201.2 1184.4,202.6 1183.9,203.9 1183.2,204.8 1182.3,205.5 1181.2,205.9 1180.1,205.9 1178.9,205.7 1177.6,205.2 1176.2,204.4 1174.9,203.5 1173.6,202.4 1172.4,201.3 1171.3,200.2 1170.3,199.2 1169.4,198.4 1168.7,197.7 1168.2,197.2 1167.8,197.1 1167.6,197.1 1167.6,197.4 1167.7,198.0 1168.0,198.7 1168.4,199.6 1168.9,200.6 1169.4,201.5 1170.0,202.4 1170.6,203.2 1171.2,203.8 1171.8,204.2 1172.3,204.3 1172.6,204.1 1172.9,203.7 1173.1,202.9 1173.1,201.8 1173.0,200.5 1172.7,199.0 1172.3,197.4 1171.8,195.8 1171.1,194.1 1170.4,192.5 1169.7,191.1 1168.9,189.9 1168.1,189.0 1167.3,188.3 1166.6,187.9 1166.0,187.8 1165.5,188.0 1165.1,188.5 1164.9,189.2 1164.8,190.0 1165.0,191.0 1165.3,191.9 1165.8,192.8 1166.5,193.7 1167.4,194.3 1168.4,194.8 1169.5,195.0 1170.8,194.9 1172.1,194.6 1173.5,194.1 1174.8,193.3 1176.2,192.4 1177.5,191.3 1178.7,190.2 1179.8,189.1 1180.8,188.1 1181.6,187.2 1182.3,186.5 1182.7,186.1 1183.0,186.0 1183.1,186.1 1183.0,186.6 1182.7,187.4 1182.3,188.5 1181.8,189.7 1181.1,191.2 1180.4,192.8 1179.6,194.4 1178.8,196.1 1178.0,197.6 1177.3,198.9 1176.6,200.1 1176.1,201.0 1175.6,201.6 1175.2,201.9 1175.0,202.0 1174.9,201.8 1175.0,201.3 1175.2,200.7 1175.5,199.9 1176.0,199.0 1176.5,198.2 1177.0,197.4 1177.7,196.8 1178.3,196.3 1178.9,196.1 1179.4,196.1 1179.9,196.4 1180.2,196.9 1180.5,197.7 1180.6,198.7 1180.5,199.8 1180.2,201.0 1179.8,202.3 1179.2,203.6 1178.5,204.7 1177.6,205.7 1176.5,206.5 1175.4,206.9 1174.1,207.1 1172.8,207.0 1171.5,206.6 1170.1,205.8 1168.9,204.8 1167.6,203.6 1166.5,202.2 1165.5,200.7 1164.7,199.1 1164.0,197.6 1163.5,196.2 1163.2,194.9 1163.1,193.9 1163.2,193.1 1163.5,192.6 1164.0,192.3 1164.6,192.4 1165.4,192.7 1166.2,193.2 1167.2,193.8 1168.1,194.6 1169.1,195.4 1170.1,196.1 1171.1,196.8 1171.9,197.3 1172.7,197.6 1173.4,197.7 1173.9,197.5 1174.3,197.0 1174.6,196.2 1174.7,195.3 1174.6,194.1 1174.5,192.8 1174.2,191.4 1173.8,189.9 1173.4,188.5 1172.9,187.3 1172.4,186.2 1171.9,185.3 1171.4,184.8 1171.0,184.5 1170.7,184.6 1170.5,184.9 1170.5,185.6 1170.6,186.6 1170.8,187.7 1171.2,189.0 1171.8,190.4 1172.5,191.8 1173.4,193.2 1174.3,194.5 1175.4,195.6 1176.5,196.4 1177.7,197.1 1178.9,197.4 1180.1,197.5 1181.3,197.3 1182.3,196.9 1183.2,196.4 1184.0,195.7 1184.7,194.9 1185.2,194.1 1185.4,193.4 1185.5,192.8 1185.4,192.3 1185.0,192.2 1184.5,192.2 1183.8,192.6 1183.0,193.2 1182.0,194.1 1181.0,195.2 1179.8,196.6 1178.6,198.0 1177.4,199.6 1176.3,201.1 1175.2,202.6 1174.1,204.0 1173.2,205.2 1172.4,206.1 1171.7,206.7 1171.2,207.0 1170.8,207.0 1170.6,206.7 1170.6,206.2 1170.7,205.3 1170.9,204.3 1171.3,203.1 1171.7,201.8 1172.2,200.6 1172.7,199.4 1173.2,198.3 1173.6,197.4 1174.1,196.7 1174.4,196.3 1174.7,196.2 1174.8,196.3 1174.8,196.6 1174.6,197.1 1174.3,197.9 1173.9,198.7 1173.3,199.5 1172.6,200.4 1171.7,201.1 1170.8,201.7 1169.9,202.0 1168.8,202.2 1167.8,202.0 1166.9,201.6 1165.9,200.8 1165.1,199.8 1164.4,198.6 1163.8,197.2 1163.4,195.6 1163.1,194.0 1163.1,192.3 1163.2,190.8 1163.6,189.4 1164.1,188.1 1164.8,187.2 1165.7,186.5 1166.8,186.1 1167.9,186.1 1169.1,186.3 1170.4,186.8 1171.8,187.6 1173.1,188.5 1174.4,189.6 1175.6,190.7 1176.7,191.8 1177.7,192.8 1178.6,193.6 1179.3,194.3 1179.8,194.8 1180.2,194.9 1180.4,194.9 1180.4,194.6 1180.3,194.0 1180.0,193.3 1179.6,192.4 1179.1,191.4 1178.6,190.5 1178.0,189.6 1177.4,188.8 1176.8,188.2 1176.2,187.8 1175.7,187.7 1175.4,187.9 1175.1,188.3 1174.9,189.1 1174.9,190.2 1175.0,191.5 1175.3,193.0 1175.7,194.6 1176.2,196.2" fill="none" stroke="#3aaad6" stroke-width="2.0" stroke-linejoin="round"/>
<path d="M1177,194 l9,1.5" stroke="#3aaad6" stroke-width="2" stroke-linecap="round"/>
<circle cx="1110.6" cy="242.7" r="20.5" fill="#fff" stroke="#111" stroke-width="1.8"/>
<path d="M1119.7,238.9 1120.5,239.9 1121.2,241.1 1121.8,242.5 1122.2,244.1 1122.5,245.7 1122.5,247.4 1122.4,248.9 1122.0,250.3 1121.5,251.6 1120.8,252.5 1119.9,253.2 1118.8,253.6 1117.7,253.6 1116.5,253.4 1115.2,252.9 1113.8,252.1 1112.5,251.2 1111.2,250.1 1110.0,249.0 1108.9,247.9 1107.9,246.9 1107.0,246.1 1106.3,245.4 1105.8,244.9 1105.4,244.8 1105.2,244.8 1105.2,245.1 1105.3,245.7 1105.6,246.4 1106.0,247.3 1106.5,248.3 1107.0,249.2 1107.6,250.1 1108.2,250.9 1108.8,251.5 1109.4,251.9 1109.9,252.0 1110.2,251.8 1110.5,251.4 1110.7,250.6 1110.7,249.5 1110.6,248.2 1110.3,246.7 1109.9,245.1 1109.4,243.5 1108.7,241.8 1108.0,240.2 1107.3,238.8 1106.5,237.6 1105.7,236.7 1104.9,236.0 1104.2,235.6 1103.6,235.5 1103.1,235.7 1102.7,236.2 1102.5,236.9 1102.4,237.7 1102.6,238.7 1102.9,239.6 1103.4,240.5 1104.1,241.4 1105.0,242.0 1106.0,242.5 1107.1,242.7 1108.4,242.6 1109.7,242.3 1111.1,241.8 1112.4,241.0 1113.8,240.1 1115.1,239.0 1116.3,237.9 1117.4,236.8 1118.4,235.8 1119.2,234.9 1119.9,234.2 1120.3,233.8 1120.6,233.7 1120.7,233.8 1120.6,234.3 1120.3,235.1 1119.9,236.2 1119.4,237.4 1118.7,238.9 1118.0,240.5 1117.2,242.1 1116.4,243.8 1115.6,245.3 1114.9,246.6 1114.2,247.8 1113.7,248.7 1113.2,249.3 1112.8,249.6 1112.6,249.7 1112.5,249.5 1112.6,249.0 1112.8,248.4 1113.1,247.6 1113.6,246.7 1114.1,245.9 1114.6,245.1 1115.3,244.5 1115.9,244.0 1116.5,243.8 1117.0,243.8 1117.5,244.1 1117.8,244.6 1118.1,245.4 1118.2,246.4 1118.1,247.5 1117.8,248.7 1117.4,250.0 1116.8,251.3 1116.1,252.4 1115.2,253.4 1114.1,254.2 1113.0,254.6 1111.7,254.8 1110.4,254.7 1109.1,254.3 1107.7,253.5 1106.5,252.5 1105.2,251.3 1104.1,249.9 1103.1,248.4 1102.3,246.8 1101.6,245.3 1101.1,243.9 1100.8,242.6 1100.7,241.6 1100.8,240.8 1101.1,240.3 1101.6,240.0 1102.2,240.1 1103.0,240.4 1103.8,240.9 1104.8,241.5 1105.7,242.3 1106.7,243.1 1107.7,243.8 1108.7,244.5 1109.5,245.0 1110.3,245.3 1111.0,245.4 1111.5,245.2 1111.9,244.7 1112.2,243.9 1112.3,243.0 1112.2,241.8 1112.1,240.5 1111.8,239.1 1111.4,237.6 1111.0,236.2 1110.5,235.0 1110.0,233.9 1109.5,233.0 1109.0,232.5 1108.6,232.2 1108.3,232.3 1108.1,232.6 1108.1,233.3 1108.2,234.3 1108.4,235.4 1108.8,236.7 1109.4,238.1 1110.1,239.5 1111.0,240.9 1111.9,242.2 1113.0,243.3 1114.1,244.1 1115.3,244.8 1116.5,245.1 1117.7,245.2 1118.9,245.0 1119.9,244.6 1120.8,244.1 1121.6,243.4 1122.3,242.6 1122.8,241.8 1123.0,241.1 1123.1,240.5 1123.0,240.0 1122.6,239.9 1122.1,239.9 1121.4,240.3 1120.6,240.9 1119.6,241.8 1118.6,242.9 1117.4,244.3 1116.2,245.7 1115.0,247.3 1113.9,248.8 1112.8,250.3 1111.7,251.7 1110.8,252.9 1110.0,253.8 1109.3,254.4 1108.8,254.7 1108.4,254.7 1108.2,254.4 1108.2,253.9 1108.3,253.0 1108.5,252.0 1108.9,250.8 1109.3,249.5 1109.8,248.3 1110.3,247.1 1110.8,246.0 1111.2,245.1 1111.7,244.4 1112.0,244.0 1112.3,243.9 1112.4,244.0 1112.4,244.3 1112.2,244.8 1111.9,245.6 1111.5,246.4 1110.9,247.2 1110.2,248.1 1109.3,248.8 1108.4,249.4 1107.5,249.7 1106.4,249.9 1105.4,249.7 1104.5,249.3 1103.5,248.5 1102.7,247.5 1102.0,246.3 1101.4,244.9 1101.0,243.3 1100.7,241.7 1100.7,240.0 1100.8,238.5 1101.2,237.1 1101.7,235.8 1102.4,234.9 1103.3,234.2 1104.4,233.8 1105.5,233.8 1106.7,234.0 1108.0,234.5 1109.4,235.3 1110.7,236.2 1112.0,237.3 1113.2,238.4 1114.3,239.5 1115.3,240.5 1116.2,241.3 1116.9,242.0 1117.4,242.5 1117.8,242.6 1118.0,242.6 1118.0,242.3 1117.9,241.7 1117.6,241.0 1117.2,240.1 1116.7,239.1 1116.2,238.2 1115.6,237.3 1115.0,236.5 1114.4,235.9 1113.8,235.5 1113.3,235.4 1113.0,235.6 1112.7,236.0 1112.5,236.8 1112.5,237.9 1112.6,239.2 1112.9,240.7 1113.3,242.3 1113.8,243.9" fill="none" stroke="#5fb89a" stroke-width="2.0" stroke-linejoin="round"/>
<path d="M1114.6,241.7 l9,1.5" stroke="#5fb89a" stroke-width="2" stroke-linecap="round"/>
<circle cx="1159.6" cy="234" r="20.5" fill="#fff" stroke="#111" stroke-width="1.8"/>
<path d="M1168.7,230.2 1169.5,231.2 1170.2,232.4 1170.8,233.8 1171.2,235.4 1171.5,237.0 1171.5,238.7 1171.4,240.2 1171.0,241.6 1170.5,242.9 1169.8,243.8 1168.9,244.5 1167.8,244.9 1166.7,244.9 1165.5,244.7 1164.2,244.2 1162.8,243.4 1161.5,242.5 1160.2,241.4 1159.0,240.3 1157.9,239.2 1156.9,238.2 1156.0,237.4 1155.3,236.7 1154.8,236.2 1154.4,236.1 1154.2,236.1 1154.2,236.4 1154.3,237.0 1154.6,237.7 1155.0,238.6 1155.5,239.6 1156.0,240.5 1156.6,241.4 1157.2,242.2 1157.8,242.8 1158.4,243.2 1158.9,243.3 1159.2,243.1 1159.5,242.7 1159.7,241.9 1159.7,240.8 1159.6,239.5 1159.3,238.0 1158.9,236.4 1158.4,234.8 1157.7,233.1 1157.0,231.5 1156.3,230.1 1155.5,228.9 1154.7,228.0 1153.9,227.3 1153.2,226.9 1152.6,226.8 1152.1,227.0 1151.7,227.5 1151.5,228.2 1151.4,229.0 1151.6,230.0 1151.9,230.9 1152.4,231.8 1153.1,232.7 1154.0,233.3 1155.0,233.8 1156.1,234.0 1157.4,233.9 1158.7,233.6 1160.1,233.1 1161.4,232.3 1162.8,231.4 1164.1,230.3 1165.3,229.2 1166.4,228.1 1167.4,227.1 1168.2,226.2 1168.9,225.5 1169.3,225.1 1169.6,225.0 1169.7,225.1 1169.6,225.6 1169.3,226.4 1168.9,227.5 1168.4,228.7 1167.7,230.2 1167.0,231.8 1166.2,233.4 1165.4,235.1 1164.6,236.6 1163.9,237.9 1163.2,239.1 1162.7,240.0 1162.2,240.6 1161.8,240.9 1161.6,241.0 1161.5,240.8 1161.6,240.3 1161.8,239.7 1162.1,238.9 1162.6,238.0 1163.1,237.2 1163.6,236.4 1164.3,235.8 1164.9,235.3 1165.5,235.1 1166.0,235.1 1166.5,235.4 1166.8,235.9 1167.1,236.7 1167.2,237.7 1167.1,238.8 1166.8,240.0 1166.4,241.3 1165.8,242.6 1165.1,243.7 1164.2,244.7 1163.1,245.5 1162.0,245.9 1160.7,246.1 1159.4,246.0 1158.1,245.6 1156.7,244.8 1155.5,243.8 1154.2,242.6 1153.1,241.2 1152.1,239.7 1151.3,238.1 1150.6,236.6 1150.1,235.2 1149.8,233.9 1149.7,232.9 1149.8,232.1 1150.1,231.6 1150.6,231.3 1151.2,231.4 1152.0,231.7 1152.8,232.2 1153.8,232.8 1154.7,233.6 1155.7,234.4 1156.7,235.1 1157.7,235.8 1158.5,236.3 1159.3,236.6 1160.0,236.7 1160.5,236.5 1160.9,236.0 1161.2,235.2 1161.3,234.3 1161.2,233.1 1161.1,231.8 1160.8,230.4 1160.4,228.9 1160.0,227.5 1159.5,226.3 1159.0,225.2 1158.5,224.3 1158.0,223.8 1157.6,223.5 1157.3,223.6 1157.1,223.9 1157.1,224.6 1157.2,225.6 1157.4,226.7 1157.8,228.0 1158.4,229.4 1159.1,230.8 1160.0,232.2 1160.9,233.5 1162.0,234.6 1163.1,235.4 1164.3,236.1 1165.5,236.4 1166.7,236.5 1167.9,236.3 1168.9,235.9 1169.8,235.4 1170.6,234.7 1171.3,233.9 1171.8,233.1 1172.0,232.4 1172.1,231.8 1172.0,231.3 1171.6,231.2 1171.1,231.2 1170.4,231.6 1169.6,232.2 1168.6,233.1 1167.6,234.2 1166.4,235.6 1165.2,237.0 1164.0,238.6 1162.9,240.1 1161.8,241.6 1160.7,243.0 1159.8,244.2 1159.0,245.1 1158.3,245.7 1157.8,246.0 1157.4,246.0 1157.2,245.7 1157.2,245.2 1157.3,244.3 1157.5,243.3 1157.9,242.1 1158.3,240.8 1158.8,239.6 1159.3,238.4 1159.8,237.3 1160.2,236.4 1160.7,235.7 1161.0,235.3 1161.3,235.2 1161.4,235.3 1161.4,235.6 1161.2,236.1 1160.9,236.9 1160.5,237.7 1159.9,238.5 1159.2,239.4 1158.3,240.1 1157.4,240.7 1156.5,241.0 1155.4,241.2 1154.4,241.0 1153.5,240.6 1152.5,239.8 1151.7,238.8 1151.0,237.6 1150.4,236.2 1150.0,234.6 1149.7,233.0 1149.7,231.3 1149.8,229.8 1150.2,228.4 1150.7,227.1 1151.4,226.2 1152.3,225.5 1153.4,225.1 1154.5,225.1 1155.7,225.3 1157.0,225.8 1158.4,226.6 1159.7,227.5 1161.0,228.6 1162.2,229.7 1163.3,230.8 1164.3,231.8 1165.2,232.6 1165.9,233.3 1166.4,233.8 1166.8,233.9 1167.0,233.9 1167.0,233.6 1166.9,233.0 1166.6,232.3 1166.2,231.4 1165.7,230.4 1165.2,229.5 1164.6,228.6 1164.0,227.8 1163.4,227.2 1162.8,226.8 1162.3,226.7 1162.0,226.9 1161.7,227.3 1161.5,228.1 1161.5,229.2 1161.6,230.5 1161.9,232.0 1162.3,233.6 1162.8,235.2" fill="none" stroke="#5fb89a" stroke-width="2.0" stroke-linejoin="round"/>
<path d="M1163.6,233 l9,1.5" stroke="#5fb89a" stroke-width="2" stroke-linecap="round"/>
<polygon points="1208,196.8 1238.5,196.8 1238.5,189 1252.7,203 1238.5,217 1238.5,210 1208,210" fill="#4f9ec9"/>
<circle cx="1303.5" cy="194.6" r="45.5" fill="#fff" stroke="#111" stroke-width="2"/>
<path d="M1306.9,196.3 1308.1,199.0 1309.6,202.0 1311.0,205.0 1312.5,208.0 1314.0,210.8 1315.4,213.3 1316.6,215.4 1317.6,217.1 1318.4,218.2 1318.9,218.8 1319.1,218.8 1319.0,218.2 1318.6,217.2 1317.7,215.8 1316.6,214.2 1315.1,212.3 1313.4,210.4 1311.4,208.6 1309.2,207.0 1306.8,205.6 1304.3,204.7 1301.8,204.2 1299.3,204.1 1296.9,204.6 1294.6,205.4 1292.5,206.7 1290.6,208.3 1289.0,210.0 1287.7,211.9 1286.8,213.8 1286.2,215.5 1285.9,216.9 1285.9,218.0 1286.3,218.6 1286.9,218.7 1287.8,218.2 1288.9,217.2 1290.2,215.6 1291.5,213.6 1292.9,211.1 1294.3,208.3 1295.7,205.4 1296.9,202.4 1298.0,199.4 1298.9,196.6 1299.5,194.1 1300.0,192.0 1300.1,190.4 1300.0,189.4 1299.7,188.8 1299.2,188.8 1298.4,189.3 1297.5,190.3 1296.4,191.6 1295.3,193.1 1294.1,194.7 1293.0,196.3 1292.0,197.9 1291.0,199.1 1290.3,200.1 1289.8,200.6 1289.5,200.7 1289.5,200.3 1289.9,199.5 1290.5,198.2 1291.5,196.5 1292.8,194.6 1294.4,192.5 1296.2,190.3 1298.3,188.2 1300.6,186.3 1302.9,184.7 1305.4,183.5 1307.8,182.8 1310.2,182.6 1312.5,183.0 1314.6,184.0 1316.5,185.5 1318.2,187.6 1319.5,190.0 1320.6,192.7 1321.2,195.6 1321.6,198.5 1321.5,201.3 1321.1,204.0 1320.4,206.3 1319.4,208.2 1318.1,209.7 1316.7,210.6 1315.0,211.0 1313.3,211.0 1311.5,210.4 1309.7,209.5 1308.0,208.2 1306.4,206.8 1305.0,205.3 1303.7,203.9 1302.7,202.6 1301.9,201.6 1301.4,201.0 1301.2,200.8 1301.2,201.1 1301.5,201.9 1302.0,203.2 1302.6,204.9 1303.4,206.9 1304.3,209.2 1305.3,211.6 1306.2,214.1 1307.1,216.4 1307.8,218.6 1308.4,220.3 1308.8,221.7 1309.0,222.5 1308.9,222.8 1308.5,222.5 1307.9,221.6 1306.9,220.2 1305.7,218.3 1304.2,216.0 1302.4,213.5 1300.5,210.8 1298.4,208.0 1296.2,205.4 1294.0,203.0 1291.8,200.9 1289.6,199.2 1287.6,198.0 1285.8,197.3 1284.2,197.1 1282.9,197.4 1282.0,198.1 1281.3,199.1 1281.0,200.4 1281.1,201.8 1281.6,203.2 1282.4,204.5 1283.5,205.6 1284.9,206.4 1286.6,206.7 1288.4,206.6 1290.4,206.0 1292.6,204.9 1294.7,203.3 1296.8,201.3 1298.9,198.9 1300.8,196.3 1302.5,193.6 1304.1,190.9 1305.3,188.3 1306.4,186.0 1307.1,184.0 1307.5,182.5 1307.7,181.6 1307.5,181.2 1307.2,181.4 1306.6,182.1 1305.9,183.4 1305.1,185.1 1304.2,187.2 1303.3,189.5 1302.4,192.0 1301.6,194.5 1300.9,196.8 1300.4,198.9 1300.2,200.6 1300.1,202.0 1300.4,202.9 1300.9,203.2 1301.6,203.2 1302.7,202.6 1303.9,201.7 1305.4,200.5 1307.1,199.1 1308.8,197.6 1310.7,196.1 1312.6,194.9 1314.4,193.9 1316.2,193.2 1317.8,193.1" fill="none" stroke="#3aaad6" stroke-width="2.1"/>
<path d="M1303.5,189.2 1302.0,192.4 1300.6,195.5 1299.4,198.3 1298.4,200.9 1297.6,203.0 1297.2,204.6 1296.9,205.6 1297.0,206.0 1297.3,205.9 1297.9,205.2 1298.6,204.1 1299.5,202.6 1300.5,200.9 1301.6,199.1 1302.7,197.2 1303.7,195.5 1304.6,194.0 1305.4,192.9 1306.0,192.2 1306.3,192.0 1306.3,192.3 1306.0,193.1 1305.5,194.3 1304.6,195.9 1303.3,197.8 1301.8,199.8 1300.0,201.9 1298.0,204.0 1295.8,205.8 1293.4,207.3 1290.9,208.3 1288.5,208.9 1286.0,208.8 1283.7,208.2 1281.5,207.0 1279.6,205.2 1277.9,203.0 1276.5,200.3 1275.5,197.4 1274.8,194.3 1274.5,191.1 1274.6,188.1 1275.0,185.3 1275.8,182.9 1277.0,180.9 1278.4,179.4 1280.1,178.4 1281.9,178.1 1283.9,178.2 1285.9,178.9 1288.0,180.0 1290.0,181.3 1291.9,182.9 1293.7,184.5 1295.3,186.1 1296.6,187.5 1297.7,188.6 1298.4,189.4 1298.9,189.6 1299.2,189.4 1299.1,188.7 1298.8,187.5 1298.2,185.8 1297.5,183.8 1296.7,181.6 1295.8,179.2 1294.8,176.8 1293.9,174.5 1293.0,172.5 1292.3,170.8 1291.8,169.6 1291.5,169.0 1291.4,168.9 1291.6,169.4 1292.2,170.6 1293.0,172.3 1294.1,174.4 1295.4,177.0 1297.0,179.8 1298.9,182.8 1300.8,185.8 1302.9,188.6 1305.1,191.2 1307.3,193.4 1309.4,195.2 1311.3,196.5 1313.1,197.3 1314.7,197.5 1316.0,197.2 1317.0,196.5 1317.6,195.4 1317.8,194.0 1317.7,192.5 1317.2,191.0 1316.3,189.6 1315.1,188.4 1313.5,187.6 1311.7,187.2 1309.6,187.3 1307.4,187.9 1305.0,189.0 1302.6,190.6 1300.3,192.7 1297.9,195.0 1295.7,197.6 1293.7,200.3 1291.9,203.0 1290.4,205.5 1289.1,207.8 1288.2,209.6 1287.6,211.0 1287.3,211.8 1287.3,212.0 1287.5,211.6 1288.0,210.6 1288.7,209.0 1289.6,207.0 1290.6,204.6 1291.6,202.0 1292.6,199.2 1293.6,196.5 1294.4,193.9 1295.1,191.6 1295.6,189.7 1295.9,188.2 1295.9,187.2 1295.6,186.7 1295.1,186.8 1294.3,187.3 1293.2,188.2 1291.9,189.4 1290.5,190.9 1288.8,192.4 1287.1,193.8 1285.3,195.1 1283.6,196.1 1281.9,196.8 1280.3,196.9 1278.9,196.5 1277.8,195.6 1276.9,194.2 1276.4,192.3 1276.2,189.9 1276.3,187.3 1276.9,184.4 1277.8,181.4 1279.0,178.5 1280.6,175.8 1282.5,173.4 1284.7,171.4 1287.0,169.9 1289.5,169.0 1292.1,168.6 1294.7,168.9 1297.2,169.8 1299.7,171.2 1302.0,173.0 1304.1,175.2 1305.9,177.6 1307.5,180.0 1308.7,182.4 1309.6,184.6 1310.2,186.6 1310.4,188.1 1310.3,189.2 1309.9,189.9 1309.2,190.0 1308.3,189.6 1307.2,188.8 1306.0,187.6 1304.7,186.1 1303.5,184.5 1302.2,182.9 1301.1,181.4 1300.1,180.1 1299.2,179.2 1298.6,178.7 1298.3,178.7 1298.2,179.3 1298.3,180.4" fill="none" stroke="#5fb89a" stroke-width="2.1"/>
<path d="M1327.2,201.8 1328.2,201.8 1329.0,201.4 1329.4,200.6 1329.5,199.5 1329.3,198.1 1328.7,196.7 1327.8,195.3 1326.6,194.1 1325.1,193.0 1323.3,192.3 1321.4,192.0 1319.2,192.2 1317.0,192.8 1314.8,193.9 1312.6,195.4 1310.4,197.2 1308.3,199.3 1306.5,201.6 1304.8,203.9 1303.4,206.2 1302.2,208.3 1301.4,210.1 1300.8,211.5 1300.5,212.4 1300.6,212.8 1300.8,212.6 1301.3,211.9 1302.0,210.7 1302.8,209.0 1303.7,206.9 1304.7,204.5 1305.7,201.9 1306.6,199.3 1307.5,196.8 1308.2,194.4 1308.7,192.3 1309.0,190.6 1309.1,189.3 1308.9,188.5 1308.5,188.2 1307.9,188.3 1307.0,188.9 1306.0,189.8 1304.7,190.9 1303.3,192.2 1301.9,193.6 1300.4,194.9 1298.9,196.0 1297.4,196.8 1296.1,197.3 1295.0,197.3 1294.0,196.8 1293.4,195.9 1293.0,194.5 1292.9,192.7 1293.1,190.5 1293.7,188.1 1294.6,185.6 1295.8,183.0 1297.3,180.5 1299.1,178.2 1301.1,176.3 1303.3,174.7 1305.6,173.7 1308.0,173.2 1310.3,173.2 1312.7,173.8 1314.9,174.9 1317.0,176.5 1318.9,178.4 1320.6,180.6 1322.0,182.9 1323.0,185.3 1323.8,187.6 1324.3,189.6 1324.4,191.4 1324.2,192.8 1323.8,193.8 1323.1,194.3 1322.2,194.3 1321.1,193.9 1320.0,193.1 1318.7,192.1 1317.5,190.8 1316.2,189.4 1315.1,188.0 1314.1,186.7 1313.2,185.7 1312.6,185.0 1312.2,184.7 1312.0,184.9 1312.0,185.6 1312.3,186.7 1312.8,188.4 1313.6,190.4 1314.5,192.8 1315.5,195.4 1316.6,198.2 1317.8,201.0 1318.9,203.6 1320.0,206.0 1321.0,208.1 1321.8,209.8 1322.5,210.9 1322.9,211.5 1323.0,211.6 1322.9,211.1 1322.4,210.1 1321.6,208.8 1320.5,207.0 1319.1,205.1 1317.5,203.0 1315.6,200.9 1313.5,199.0 1311.3,197.2 1309.0,195.8 1306.6,194.8 1304.3,194.2 1302.0,194.1 1299.8,194.4 1297.9,195.1 1296.1,196.2 1294.7,197.5 1293.5,199.0 1292.6,200.6 1292.1,202.1 1291.9,203.4 1292.1,204.4 1292.6,205.1 1293.3,205.3 1294.3,205.0 1295.6,204.2 1297.0,202.9 1298.5,201.1 1300.1,198.9 1301.7,196.3 1303.3,193.6 1304.8,190.7 1306.2,187.9 1307.4,185.1 1308.4,182.6 1309.1,180.5 1309.7,178.8 1309.9,177.6 1310.0,177.0 1309.8,176.8 1309.3,177.2 1308.7,178.1 1308.0,179.3 1307.1,180.9 1306.2,182.6 1305.3,184.4 1304.4,186.2 1303.6,187.8 1302.9,189.2 1302.4,190.2 1302.2,190.8 1302.1,191.0 1302.4,190.7 1302.9,190.0 1303.7,188.9 1304.8,187.5 1306.2,185.9 1307.8,184.1 1309.6,182.3 1311.6,180.7 1313.7,179.2 1315.8,178.1 1318.0,177.4 1320.2,177.2 1322.2,177.5 1324.1,178.4 1325.8,179.7 1327.2,181.6 1328.4,183.8 1329.2,186.4 1329.7,189.2 1329.9,192.1 1329.7,195.0 1329.1,197.7 1328.3,200.1 1327.2,202.2 1325.7,203.8 1324.1,205.0 1322.3,205.6 1320.4,205.8 1318.5,205.4 1316.5,204.6 1314.6,203.5 1312.7,202.1 1311.1,200.5 1309.6,198.9 1308.3,197.4 1307.3,196.1 1306.5,195.1 1306.0,194.5 1305.8,194.3 1305.8,194.5" fill="none" stroke="#8a3ad0" stroke-width="2.4"/>
<polygon points="1530,121 1566,121 1572,132 1768,124 1781,135 1781,270 1597,270 1588,262 1530,262" fill="#f2f2f2"/>
<rect x="1538.5" y="246" width="222" height="24" fill="#545456"/>
<polygon points="1760,246 1777,245 1777,262 1760,270" fill="#3f3f41"/>
<defs><linearGradient id="silv" x1="0" y1="0" x2="1" y2="1"><stop offset="0" stop-color="#f4f4f4"/><stop offset="0.5" stop-color="#d8d8d8"/><stop offset="1" stop-color="#eeeeee"/></linearGradient><linearGradient id="rainb" x1="0" x2="1"><stop offset="0" stop-color="#f0f040"/><stop offset="0.35" stop-color="#60c8a0"/><stop offset="0.7" stop-color="#40a0e0"/><stop offset="1" stop-color="#7040c0"/></linearGradient></defs>
<polygon points="1536,133 1597,132 1597,247 1536,247" fill="url(#silv)" stroke="#333" stroke-width="0.8"/>
<polygon points="1596.5,132 1757,127 1757,129 1745,255 1596.5,255" fill="#4e4e50"/>
<polygon points="1757,127 1764,129 1764,255 1741,255 1750,190" fill="#5d92bd"/>
<polygon points="1764,129 1778.5,139 1778.5,245 1764,255" fill="#f0f0f0" stroke="#444" stroke-width="0.6"/>
<rect x="1769" y="192" width="3.5" height="28" fill="#c8c8c8" stroke="#555" stroke-width="0.6"/>
<rect x="1596.5" y="161.2" width="160" height="1.6" fill="url(#rainb)"/>
<rect x="1551" y="155" width="33" height="50" rx="2" fill="#fafafa" stroke="#333" stroke-width="1.2"/>
<rect x="1547" y="167" width="18" height="22" rx="2" fill="#eee" stroke="#333" stroke-width="1"/>
<rect x="1551" y="173" width="9" height="9" fill="#555"/>
<circle cx="1557" cy="159" r="5" fill="#222"/>
<text x="1543" y="144" font-size="4" fill="#d02020" font-weight="bold">Thermo</text>
<text x="165" y="425" font-size="28.75" font-weight="bold">FFPE tissues</text>
<text x="614" y="425" font-size="28.6" font-weight="bold">Sample preparation</text>
<text x="963.9" y="425" font-size="28.58" font-weight="bold">TMT-10plex™ tagging and pooling</text>
<text x="1482.8" y="425" font-size="28.65" font-weight="bold">Mass spectrometry analysis</text>
<text transform="translate(-1.0,533.8) scale(1.012,1)" font-size="50.4" font-weight="bold">B</text>
<rect x="51.5" y="503.5" width="921.5" height="1282" fill="none" stroke="#111" stroke-width="2.2"/>
<line x1="51.5" y1="581" x2="973" y2="581" stroke="#111" stroke-width="2.4"/>
<text x="115" y="534.3" font-size="28.2" font-weight="bold">Protein</text>
<text x="115" y="566" font-size="28.2" font-weight="bold">Name</text>
<text x="251.5" y="534.3" font-size="28.2" font-weight="bold">Mean</text>
<text x="251.5" y="566" font-size="28.2" font-weight="bold">GBC</text>
<text x="336" y="534.3" font-size="28.2" font-weight="bold">SD</text>
<text x="336" y="566" font-size="28.2" font-weight="bold">GBC</text>
<text x="420" y="534.3" font-size="28.2" font-weight="bold">Mean</text>
<text x="420" y="566" font-size="28.2" font-weight="bold">NT</text>
<text x="515.5" y="534.3" font-size="28.2" font-weight="bold">SD</text>
<text x="515.5" y="566" font-size="28.2" font-weight="bold">NT</text>
<text x="600.5" y="534.3" font-size="28.2" font-weight="bold">Adj. P</text>
<text x="703.5" y="534.3" font-size="28.2" font-weight="bold">FC</text>
<text x="780" y="534.3" font-size="28.2" font-weight="bold">Localization</text>
<g font-size="25.2">
<text x="55.5" y="620.5">1</text>
<text x="115" y="620.5">SFRP4</text>
<text x="251.5" y="620.5">18.21</text>
<text x="336" y="620.5">0.69</text>
<text x="420" y="620.5">14.38</text>
<text x="515.5" y="620.5">1.30</text>
<text x="600.5" y="620.5">0.0011</text>
<text x="703.5" y="620.5">14.2</text>
<text x="780" y="620.5">S</text>
<text x="55.5" y="660.3">2</text>
<text x="115" y="660.3">IFI30</text>
<text x="251.5" y="660.3">16.69</text>
<text x="336" y="660.3">0.68</text>
<text x="420" y="660.3">13.49</text>
<text x="515.5" y="660.3">0.34</text>
<text x="600.5" y="660.3">0.0002</text>
<text x="703.5" y="660.3">9.13</text>
<text x="780" y="660.3">S, C</text>
<text x="55.5" y="700.1">3</text>
<text x="115" y="700.1">SERPINB5</text>
<text x="251.5" y="700.1">16.86</text>
<text x="336" y="700.1">0.76</text>
<text x="420" y="700.1">13.85</text>
<text x="515.5" y="700.1">0.63</text>
<text x="600.5" y="700.1">0.0007</text>
<text x="703.5" y="700.1">8.05</text>
<text x="780" y="700.1">S, C</text>
<text x="55.5" y="739.9">4</text>
<text x="115" y="739.9">HTRA3</text>
<text x="251.5" y="739.9">16.57</text>
<text x="336" y="739.9">0.80</text>
<text x="420" y="739.9">13.67</text>
<text x="515.5" y="739.9">0.55</text>
<text x="600.5" y="739.9">0.0007</text>
<text x="703.5" y="739.9">7.47</text>
<text x="780" y="739.9">S</text>
<text x="55.5" y="779.6">5</text>
<text x="115" y="779.6">LAMB3</text>
<text x="251.5" y="779.6">16.65</text>
<text x="336" y="779.6">0.74</text>
<text x="420" y="779.6">13.75</text>
<text x="515.5" y="779.6">0.64</text>
<text x="600.5" y="779.6">0.0007</text>
<text x="703.5" y="779.6">7.46</text>
<text x="780" y="779.6">S</text>
<text x="55.5" y="819.4">6</text>
<text x="115" y="819.4">OLFM4</text>
<text x="251.5" y="819.4">17.32</text>
<text x="336" y="819.4">1.30</text>
<text x="420" y="819.4">14.45</text>
<text x="515.5" y="819.4">0.73</text>
<text x="600.5" y="819.4">0.0045</text>
<text x="703.5" y="819.4">7.28</text>
<text x="780" y="819.4">S, M</text>
<text x="55.5" y="859.2">7</text>
<text x="115" y="859.2">CTHRC1</text>
<text x="251.5" y="859.2">17.92</text>
<text x="336" y="859.2">0.92</text>
<text x="420" y="859.2">15.10</text>
<text x="515.5" y="859.2">1.01</text>
<text x="600.5" y="859.2">0.0032</text>
<text x="703.5" y="859.2">7.08</text>
<text x="780" y="859.2">S</text>
<text x="55.5" y="899.0">8</text>
<text x="115" y="899.0">TIMP1</text>
<text x="251.5" y="899.0">19.56</text>
<text x="336" y="899.0">0.60</text>
<text x="420" y="899.0">16.79</text>
<text x="515.5" y="899.0">0.90</text>
<text x="600.5" y="899.0">0.0012</text>
<text x="703.5" y="899.0">6.85</text>
<text x="780" y="899.0">S, ER</text>
<text x="55.5" y="938.8">9</text>
<text x="115" y="938.8">THBS2</text>
<text x="251.5" y="938.8">17.12</text>
<text x="336" y="938.8">0.73</text>
<text x="420" y="938.8">14.39</text>
<text x="515.5" y="938.8">0.95</text>
<text x="600.5" y="938.8">0.0020</text>
<text x="703.5" y="938.8">6.60</text>
<text x="780" y="938.8">S, C</text>
<text x="55.5" y="978.6">10</text>
<text x="115" y="978.6">LAMC2</text>
<text x="251.5" y="978.6">17.18</text>
<text x="336" y="978.6">0.85</text>
<text x="420" y="978.6">14.55</text>
<text x="515.5" y="978.6">0.53</text>
<text x="600.5" y="978.6">0.0011</text>
<text x="703.5" y="978.6">6.20</text>
<text x="780" y="978.6">S, C</text>
<text x="55.5" y="1018.4">11</text>
<text x="115" y="1018.4">THBS1</text>
<text x="251.5" y="1018.4">17.29</text>
<text x="336" y="1018.4">0.82</text>
<text x="420" y="1018.4">14.66</text>
<text x="515.5" y="1018.4">0.93</text>
<text x="600.5" y="1018.4">0.0029</text>
<text x="703.5" y="1018.4">6.19</text>
<text x="780" y="1018.4">S, C</text>
<text x="55.5" y="1058.1">12</text>
<text x="115" y="1058.1">MUC1</text>
<text x="251.5" y="1058.1">16.60</text>
<text x="336" y="1058.1">1.12</text>
<text x="420" y="1058.1">13.98</text>
<text x="515.5" y="1058.1">0.38</text>
<text x="600.5" y="1058.1">0.0023</text>
<text x="703.5" y="1058.1">6.14</text>
<text x="780" y="1058.1">S, N, CM</text>
<text x="55.5" y="1097.9">13</text>
<text x="115" y="1097.9" font-weight="bold">CEACAM6</text>
<text x="251.5" y="1097.9">15.93</text>
<text x="336" y="1097.9">1.24</text>
<text x="420" y="1097.9">13.46</text>
<text x="515.5" y="1097.9">0.78</text>
<text x="600.5" y="1097.9">0.0082</text>
<text x="703.5" y="1097.9">5.54</text>
<text x="780" y="1097.9">CM, S, G, ER</text>
<text x="55.5" y="1137.7">14</text>
<text x="115" y="1137.7">DEFA5</text>
<text x="251.5" y="1137.7">16.06</text>
<text x="336" y="1137.7">1.27</text>
<text x="420" y="1137.7">13.69</text>
<text x="515.5" y="1137.7">0.32</text>
<text x="600.5" y="1137.7">0.0062</text>
<text x="703.5" y="1137.7">5.17</text>
<text x="780" y="1137.7">S, G</text>
<text x="55.5" y="1177.5">15</text>
<text x="115" y="1177.5">REG4</text>
<text x="251.5" y="1177.5">16.45</text>
<text x="336" y="1177.5">2.16</text>
<text x="420" y="1177.5">14.13</text>
<text x="515.5" y="1177.5">0.65</text>
<text x="600.5" y="1177.5">0.0629</text>
<text x="703.5" y="1177.5">5.00</text>
<text x="780" y="1177.5">S</text>
<text x="55.5" y="1217.3">16</text>
<text x="115" y="1217.3">FER1L6</text>
<text x="251.5" y="1217.3">15.32</text>
<text x="336" y="1217.3">1.99</text>
<text x="420" y="1217.3">13.02</text>
<text x="515.5" y="1217.3">0.37</text>
<text x="600.5" y="1217.3">0.0448</text>
<text x="703.5" y="1217.3">4.93</text>
<text x="780" y="1217.3">C</text>
<text x="55.5" y="1257.1">17</text>
<text x="115" y="1257.1">SFRP2</text>
<text x="251.5" y="1257.1">17.69</text>
<text x="336" y="1257.1">0.94</text>
<text x="420" y="1257.1">15.50</text>
<text x="515.5" y="1257.1">0.57</text>
<text x="600.5" y="1257.1">0.0040</text>
<text x="703.5" y="1257.1">4.56</text>
<text x="780" y="1257.1">S</text>
<text x="55.5" y="1296.9">18</text>
<text x="115" y="1296.9">MXRA5</text>
<text x="251.5" y="1296.9">17.25</text>
<text x="336" y="1296.9">0.36</text>
<text x="420" y="1296.9">15.07</text>
<text x="515.5" y="1296.9">0.50</text>
<text x="600.5" y="1296.9">0.0004</text>
<text x="703.5" y="1296.9">4.55</text>
<text x="780" y="1296.9">S</text>
<text x="55.5" y="1336.7">19</text>
<text x="115" y="1336.7">COMP</text>
<text x="251.5" y="1336.7">15.99</text>
<text x="336" y="1336.7">0.83</text>
<text x="420" y="1336.7">13.80</text>
<text x="515.5" y="1336.7">0.88</text>
<text x="600.5" y="1336.7">0.0063</text>
<text x="703.5" y="1336.7">4.55</text>
<text x="780" y="1336.7">S, C</text>
<text x="55.5" y="1376.4">20</text>
<text x="115" y="1376.4">PLOD2</text>
<text x="251.5" y="1376.4">17.84</text>
<text x="336" y="1376.4">0.81</text>
<text x="420" y="1376.4">15.66</text>
<text x="515.5" y="1376.4">0.65</text>
<text x="600.5" y="1376.4">0.0032</text>
<text x="703.5" y="1376.4">4.54</text>
<text x="780" y="1376.4">S, ER</text>
<text x="55.5" y="1416.2">21</text>
<text x="115" y="1416.2">FNDC1</text>
<text x="251.5" y="1416.2">16.98</text>
<text x="336" y="1416.2">0.48</text>
<text x="420" y="1416.2">14.80</text>
<text x="515.5" y="1416.2">0.36</text>
<text x="600.5" y="1416.2">0.0004</text>
<text x="703.5" y="1416.2">4.54</text>
<text x="780" y="1416.2">S, N</text>
<text x="55.5" y="1456.0">22</text>
<text x="115" y="1456.0">S100P</text>
<text x="251.5" y="1456.0">17.16</text>
<text x="336" y="1456.0">0.53</text>
<text x="420" y="1456.0">15.02</text>
<text x="515.5" y="1456.0">0.44</text>
<text x="600.5" y="1456.0">0.0007</text>
<text x="703.5" y="1456.0">4.40</text>
<text x="780" y="1456.0">S, N</text>
<text x="55.5" y="1495.8">23</text>
<text x="115" y="1495.8">HAPLN3</text>
<text x="251.5" y="1495.8">17.43</text>
<text x="336" y="1495.8">0.86</text>
<text x="420" y="1495.8">15.30</text>
<text x="515.5" y="1495.8">0.78</text>
<text x="600.5" y="1495.8">0.0060</text>
<text x="703.5" y="1495.8">4.39</text>
<text x="780" y="1495.8">S</text>
<text x="55.5" y="1535.6">24</text>
<text x="115" y="1535.6">LXN</text>
<text x="251.5" y="1535.6">18.14</text>
<text x="336" y="1535.6">0.49</text>
<text x="420" y="1535.6">16.02</text>
<text x="515.5" y="1535.6">0.72</text>
<text x="600.5" y="1535.6">0.0017</text>
<text x="703.5" y="1535.6">4.34</text>
<text x="780" y="1535.6">S, C, N</text>
<text x="55.5" y="1575.4">25</text>
<text x="115" y="1575.4">HIST1H1B</text>
<text x="251.5" y="1575.4">18.20</text>
<text x="336" y="1575.4">0.18</text>
<text x="420" y="1575.4">16.10</text>
<text x="515.5" y="1575.4">0.71</text>
<text x="600.5" y="1575.4">0.0009</text>
<text x="703.5" y="1575.4">4.28</text>
<text x="780" y="1575.4">N</text>
<text x="55.5" y="1615.2">26</text>
<text x="115" y="1615.2">SAA4</text>
<text x="251.5" y="1615.2">17.75</text>
<text x="336" y="1615.2">0.59</text>
<text x="420" y="1615.2">15.65</text>
<text x="515.5" y="1615.2">0.42</text>
<text x="600.5" y="1615.2">0.0009</text>
<text x="703.5" y="1615.2">4.28</text>
<text x="780" y="1615.2">S, C</text>
<text x="55.5" y="1654.9">27</text>
<text x="115" y="1654.9">CNPY2</text>
<text x="251.5" y="1654.9">18.23</text>
<text x="336" y="1654.9">0.22</text>
<text x="420" y="1654.9">16.16</text>
<text x="515.5" y="1654.9">0.26</text>
<text x="600.5" y="1654.9">0.0001</text>
<text x="703.5" y="1654.9">4.22</text>
<text x="780" y="1654.9">ER</text>
<text x="55.5" y="1694.7">28</text>
<text x="115" y="1694.7">POSTN</text>
<text x="251.5" y="1694.7">16.47</text>
<text x="336" y="1694.7">0.36</text>
<text x="420" y="1694.7">14.39</text>
<text x="515.5" y="1694.7">0.38</text>
<text x="600.5" y="1694.7">0.0003</text>
<text x="703.5" y="1694.7">4.21</text>
<text x="780" y="1694.7">S, G</text>
<text x="55.5" y="1734.5">29</text>
<text x="115" y="1734.5">ASNS</text>
<text x="251.5" y="1734.5">15.64</text>
<text x="336" y="1734.5">0.89</text>
<text x="420" y="1734.5">13.58</text>
<text x="515.5" y="1734.5">0.47</text>
<text x="600.5" y="1734.5">0.0037</text>
<text x="703.5" y="1734.5">4.16</text>
<text x="780" y="1734.5">C, N</text>
<text x="55.5" y="1774.3">30</text>
<text x="115" y="1774.3">TYMP</text>
<text x="251.5" y="1774.3">17.06</text>
<text x="336" y="1774.3">0.64</text>
<text x="420" y="1774.3">15.03</text>
<text x="515.5" y="1774.3">0.36</text>
<text x="600.5" y="1774.3">0.0010</text>
<text x="703.5" y="1774.3">4.08</text>
<text x="780" y="1774.3">C, N</text>
</g>
<text x="521.3" y="1827" font-size="28.6" text-anchor="middle">S = Secreted; C = Cytosol; CM = Cell Membrane; N = Nucleus</text>
<text x="521.95" y="1860" font-size="28.62" text-anchor="middle">M = Mitochondria; ER = Endoplasmic Reticulum; G =Golgi Apparatus</text>
<text transform="translate(1014.9,535.1) scale(0.906,1)" font-size="54.8" font-weight="bold">C</text>
<text x="1295.8" y="526" font-size="28.5" font-weight="bold" text-anchor="middle">GBC vs NT</text>
<path d="M1264 736h0m-10 24h0m10-49h0m1 50h0m-9-64h0m10 67h0m-19-14h0m17-29h0m-24 16h0m8-12h0m-3 8h0m14 57h0m-32-8h0m37 19h0m-20-49h0m22-3h0m-1 6h0m-6-96h0m-3 103h0m-25 11h0m36-35h0m-5 32h0m5-88h0m-1 84h0m1-35h0m-1 14h0m-8-19h0m0 41h0m-39 25h0m42-34h0m6-67h0m2 39h0m-2-2h0m-19-31h0m-8-103h0m19 128h0m-18-86h0m20 101h0m-11-1h0m-5-1h0m7 14h0m12 9h0m-7 26h0m-11-5h0m-5-6h0m11 30h0m11-59h0m0 45h0m0-11h0m-11-46h0m4 21h0m-8 20h0m-12 6h0m21-86h0m12 6h0m-15 68h0m-2-126h0m-5 134h0m9-202h0m2 166h0m9 16h0m-4 6h0m-5 9h0m-7-92h0m7 127h0m-53-69h0m58-25h0m1 5h0m-23-8h0m16 39h0m-5 25h0m14-42h0m-4 6h0m-54 41h0m26 12h0m25-141h0m2 80h0m-12 26h0m10-158h0m-25 176h0m29-51h0m2-45h0m-5 110h0m-23-130h0m28 103h0m-50 15h0m35-45h0m1 58h0m-19 20h0m22-31h0m2 22h0m3-33h0m-9-53h0m-11-31h0m-60 115h0m55-165h0m29 117h0m6 54h0m-64-133h0m59 88h0m-1 6h0m2-134h0m-38 135h0m11-33h0m25 55h0m-22-83h0m26 103h0m-23-60h0m-7 58h0m28-14h0m3-149h0m-17 26h0m18 70h0m-3-24h0m-12 33h0m13 52h0m-14-31h0m-26-83h0m3 27h0m36 56h0m-24-25h0m12-65h0m9 32h0m-22-30h0m23 54h0m2 5h0m-18 7h0m-23 22h0m38-77h0m-33 109h0m38-109h0m-10 6h0m10-57h0m-19 56h0m-15 83h0m-21-76h0m31 63h0m25-41h0m-4-14h0m-17 82h0m21-37h0m0-58h0m-47 100h0m48-57h0m-2-45h0m0 29h0m-6-12h0m-1-65h0m-16 32h0m8 82h0m7 7h0m-22-71h0m15 34h0m11 20h0m5-23h0m-51 73h0m37-3h0m1-15h0m-47-20h0m37 12h0m20-10h0m-4-9h0m-9-55h0m15 60h0m-27 37h0m23-28h0m-9 6h0m-1-46h0m13 44h0m-12 23h0m13-12h0m-13-11h0m-27 35h0m38-66h0m-50-25h0m46 24h0m-13 20h0m-15-87h0m5 113h0m12 0h0m-1-48h0m6-8h0m-8 0h0m21-17h0m-5-42h0m-1 138h0m-23-31h0m24-80h0m3-4h0m-21 40h0m20 53h0m-68-83h0m71-54h0m-18 107h0m1-57h0m15 54h0m-18 1h0m5 15h0m-38 29h0m44 8h0m8-105h0m-15 40h0m-16 11h0m20-53h0m-60-2h0m16-29h0m45 72h0m-32 36h0m-34-16h0m63-169h0m12 187h0m1-49h0m-8-44h0m-13 72h0m10 7h0m-74-65h0m81-17h0m-5-112h0m0 125h0m-6-69h0m-7 172h0m13-32h0m-5-49h0m0-40h0m13 62h0m-9 57h0m1-42h0m10 19h0m-6 12h0m6-30h0m-3 24h0m-31-35h0m26-153h0m-4 178h0m2-58h0m-19-15h0m23 7h0m2-25h0m-2 76h0m-7 9h0m-21 34h0m24-27h0m-16-23h0m8 48h0m17-41h0m-65-81h0m9 42h0m56 57h0m-28-42h0m15-137h0m14 153h0m-2 20h0m-4 15h0m-62 8h0m51-103h0m11 113h0m-92-71h0m71 41h0m2-79h0m5-7h0m-6 43h0m16-77h0m-5 64h0m9-75h0m-17 104h0m22 21h0m-29-38h0m30-6h0m-11 23h0m-19-11h0m12 29h0m18 25h0m-7-38h0m-5 49h0m-10-78h0m16 76h0m-21-34h0m7 23h0m-1 1h0m16-95h0m-3 10h0m-17 42h0m19 28h0m-8-174h0m4 198h0m1-58h0m-23 26h0m28 17h0m-9 4h0m13-8h0m-7-66h0m-8-11h0m7 71h0m-4-37h0m12 63h0m-14-51h0m14-21h0m-30 56h0m14-26h0m12 2h0m-6-22h0m-3 68h0m8-83h0m3 74h0m-10-78h0m-4 55h0m-12 16h0m15-61h0m3 29h0m-42-38h0m46 0h0m-22 49h0m0 9h0m18-17h0m8 27h0m-35-71h0m28 52h0m-6 35h0m-10-63h0m-34 9h0m37-4h0m11-21h0m-79 55h0m80-33h0m-24 41h0m12-44h0m15-2h0m-12 3h0m6 30h0m-27-82h0m20-7h0m18 100h0m-7-49h0m-16 50h0m-7 8h0m27-1h0m0-17h0m-4-51h0m0 62h0m0-67h0m-1 90h0m-29-39h0m3-114h0m18 45h0m1 85h0m14-23h0m-1-17h0m-10 38h0m7-79h0m-6 103h0m7-9h0m-90-68h0m89-13h0m-17 46h0m23-7h0m-19 37h0m13 14h0m1-3h0m-17-38h0m7-18h0m-4-4h0m-12 64h0m15-104h0m17 53h0m0-138h0m-43 148h0m35 25h0m-31-8h0m36-16h0m-24 5h0m24-79h0m-5 47h0m-25-14h0m-5 37h0m21-2h0m2-15h0m-49 31h0m25-15h0m24 21h0m7-48h0m-1 52h0m5-72h0m4-34h0m-7 94h0m-46-84h0m52-45h0m-11 85h0m-12 16h0m1-43h0m10 24h0m-17 70h0m22-188h0m5 146h0m3-117h0m-2 142h0m-17-11h0m0-13h0m11-31h0m-3-81h0m-43 144h0m37-26h0m-1 46h0" stroke="#4f2aa6" stroke-width="4.4" stroke-linecap="round" fill="none"/>
<path d="M1344 700h0m5 47h0m17 16h0m-6-6h0m-33-44h0m5 88h0m9-93h0m-18 24h0m36 64h0m-28-91h0m-2 43h0m19-11h0m22 61h0m2-40h0m-1 12h0m-37-9h0m-7-81h0m-1 126h0m34-45h0m-34 23h0m16-82h0m-16 34h0m18 27h0m-11 45h0m-7 6h0m-1-33h0m5-99h0m-6-26h0m4 53h0m0 74h0m2-8h0m18-26h0m-24 39h0m3-28h0m5 29h0m18-61h0m22-65h0m-22 11h0m9 107h0m29-65h0m-44 60h0m-20-16h0m4 33h0m6-20h0m-1 12h0m2-2h0m50-55h0m-42 81h0m6-78h0m-14 10h0m9 61h0m-1-37h0m-9 39h0m-9-53h0m2-45h0m2 13h0m-1 86h0m4-32h0m0-16h0m2-6h0m-10 0h0m22-4h0m8 45h0m-4-104h0m-20 112h0m-6-28h0m0 2h0m2-70h0m6 14h0m9-8h0m-16 30h0m9-71h0m-1 80h0m12 52h0m-15-21h0m5-89h0m-10 87h0m15-23h0m33 42h0m-21-28h0m-25-22h0m3 60h0m-5-44h0m17 0h0m-16-61h0m-1-16h0m1 82h0m6 3h0m0-33h0m9 76h0m-14-140h0m-1 50h0m11 70h0m0-52h0m-4-23h0m5 3h0m-6 39h0m17 16h0m-11 3h0m-4-81h0m3 61h0m10-10h0m-20-39h0m-3-3h0m8 85h0m-6-147h0m32 149h0m-4-82h0m-25 25h0m2 4h0m1 7h0m4 11h0m-12 17h0m10 32h0m8-6h0m-3-52h0m-4 24h0m-8-33h0m15-115h0m4 23h0m-7 132h0m-11-43h0m-2 6h0m7-50h0m37-34h0m-42 102h0m6 44h0m-8-58h0m-1-32h0m-1 12h0m5 15h0m17 52h0m-15-127h0m5 114h0m-5-79h0m15 21h0m-20 57h0m12-35h0m-6 39h0m19-67h0m0 67h0m-21-35h0m0-36h0m3 79h0m-7-104h0m13 51h0m0-7h0m-13-16h0m6 73h0m30-27h0m-36 15h0m-2-64h0m15 71h0m-9 2h0m2 4h0m1-91h0m1-58h0m-9 146h0m5-157h0m5 174h0m-7-8h0m0-66h0m0 70h0m0-35h0m0-16h0m31 7h0m-31 45h0m18-101h0m-21-42h0m15 113h0m3-23h0m10-56h0m3-41h0m-29 108h0m7 5h0m8-66h0m-1-12h0m8 60h0m-12 35h0m-13 17h0m3-43h0m8-11h0m-9 24h0m-3 43h0m14-80h0m2 11h0m-14 12h0m-1 39h0m0-101h0m0 71h0m14-49h0m-11 37h0m16 50h0m-5-15h0m0-153h0m10 36h0m10 69h0m-10-153h0m-18 24h0m1 80h0m-3 8h0m11 103h0m-16-36h0m5-24h0m-1 31h0m0-18h0m-2 2h0m2 57h0m29-123h0m-5 49h0m-26 62h0m5-92h0m26 68h0m-12-64h0m-9-33h0m8 29h0m14 80h0m-31-98h0m11 61h0m35-1h0m-42-126h0m0 57h0m13 72h0m-16-26h0m11 45h0m-9-53h0m23 7h0m-15 75h0m-13-17h0m14-86h0m3 79h0m-8 5h0m-8 1h0m11-34h0m1 35h0m37 5h0m-23-101h0m-10 76h0m-15-50h0m-2 87h0m17-6h0m11-101h0m-21 38h0m4 53h0m-9-76h0m5 93h0m9-108h0m-11-81h0m2 158h0m22 10h0m-22-22h0m6 13h0m-4-34h0m48-16h0m-52 23h0m47-12h0m-52 45h0m36-2h0m1-132h0m-12 80h0m-24-8h0m6 7h0m-5 53h0m3 21h0m4-24h0m2-30h0m1 21h0m22 21h0m-21-24h0m-12 2h0m30-35h0m-24 49h0m1 9h0m7 5h0m11 9h0m-22-56h0m4-123h0m34 110h0m-34-37h0m-7 96h0m3-70h0m4 15h0m-5 57h0m14-62h0m-8 2h0m-8-20h0m9 62h0m12-19h0m-19-72h0m8-2h0m27 102h0m0-32h0m-36-5h0m8-28h0m-1-20h0m2 54h0m-7-36h0m20-32h0m-6 110h0m-17 9h0m15-52h0m-17 20h0m2 27h0m9-67h0m13 58h0m-6 9h0m-17-19h0m16-91h0m-8 52h0m1-68h0m-1 111h0m11 8h0m-17 9h0m9-67h0m-11 69h0m13-25h0m-1-6h0m-6-69h0m16-22h0m-14 90h0m9 15h0" stroke="#cc3a1e" stroke-width="4.4" stroke-linecap="round" fill="none"/>
<path d="M1312 786h0m-10 85h0m6-24h0m-33-108h0m28 106h0m19-113h0m-30 136h0m-16-114h0m45 11h0m-15 53h0m-26-50h0m26 79h0m17-116h0m-42 109h0m34-15h0m-8-22h0m-25 28h0m-2-26h0m41-1h0m-33 23h0m5 45h0m12-19h0m-35-51h0m14 46h0m11 29h0m15-58h0m-8 22h0m-9 24h0m-13-50h0m32 30h0m-32-31h0m28 34h0m-12 37h0m3-17h0m-9-20h0m-9-10h0m-2-26h0m25 35h0m-19-27h0m-14-99h0m9 119h0m39-35h0m-11 46h0m-7 19h0m-10-21h0m22-14h0m-29-42h0m20 43h0m-34-40h0m34 66h0m18-69h0m-14 40h0m-34-27h0m27 58h0m-14-16h0m32-73h0m-48-21h0m-1-55h0m5 35h0m13 109h0m29-42h0m-17 72h0m5-12h0m-33-124h0m7 83h0m11 34h0m13-2h0m7-13h0m-10 23h0m-15-57h0m-6 11h0m13 43h0m-9-60h0m27 22h0m8 11h0m-5-43h0m-37-9h0m36 38h0m-41-96h0m6 28h0m30 92h0m-20-16h0m27-45h0m-7 36h0m-5 33h0m17-132h0m-5 43h0m-43 36h0m51-20h0m-29 99h0m-7-62h0m30-66h0m3 81h0m-8-28h0m-3 31h0m-38-21h0m15 33h0m28-38h0m10-91h0m-38 137h0m25-35h0m-34-23h0m34 21h0m-21 22h0m-15-27h0m5-20h0m21 76h0m-5 9h0m12-63h0m-19 16h0m14 34h0m-12-20h0m21-3h0m-41-129h0m31 155h0m0-9h0m-28-49h0m38 43h0m-7 3h0m17-137h0m-41 128h0m12 23h0m24-46h0m4 7h0m-14 9h0m-17 2h0m21-54h0m-16 83h0m4 5h0m8-54h0m13-25h0m-12 25h0m12-6h0m-29 26h0m-8 4h0m18 17h0m-29-36h0m42 20h0m-17 39h0m9-43h0m6-69h0m-40-24h0m9 42h0m12 66h0m10 13h0m-13-10h0m-4-23h0m-14-102h0m22 137h0m27-92h0m-49 11h0m31 68h0m-21-44h0m41 2h0m-41-34h0m41-23h0m-36 78h0m21 9h0m-23-51h0m1 28h0m-12-98h0m-2 7h0m-1-22h0m0 5h0m47 56h0m-25 84h0m27-77h0m-24 105h0m5-18h0m-10-9h0m21-26h0m-23 20h0m25-62h0m-22 81h0m-14-50h0m15 39h0m-21-47h0m19 35h0m0-2h0m18-15h0m15-120h0m-45 49h0m24 87h0m13-12h0m-9 9h0m-24-58h0m10 89h0m28-127h0m-22 134h0m8-51h0m-20-11h0m26 29h0m-12 22h0m12-21h0m-30-32h0m-3 2h0m23 46h0m-28-108h0m14 92h0m17 0h0m-20-45h0m-1 10h0m-2 23h0m13 44h0m15-50h0m-26-30h0m14 76h0m25-152h0m-26 162h0m-13-49h0m31-20h0m3-18h0m-8 25h0m-23 5h0m0 7h0m32-77h0m-49 58h0m46 13h0m-32-21h0m-6-1h0m37-38h0m-3 24h0m-40-36h0m14 95h0m-11-51h0m35 44h0m8-18h0m-33 22h0m4 12h0m-17-102h0m3 73h0m-2-115h0m35 80h0m-27 11h0m14 70h0m-11-72h0m14 74h0m1-16h0m-11-34h0m-4 19h0m34-118h0m2 74h0m-29 55h0m6 19h0m2-2h0m22-99h0m-28 89h0m-5-21h0m33-21h0m-17 3h0m-27-56h0m22 107h0m15-81h0m-14 71h0m-16-55h0m5 43h0m20-2h0m-9 17h0m-13-33h0m22-31h0m-36-8h0m18 51h0m9 14h0m-14-50h0m20 21h0m-33-58h0m47-63h0m-10 75h0m7-54h0m-19 146h0m-3-10h0m-9-48h0m-11-20h0m22 79h0m-11-23h0m30-122h0m-37 58h0m-7-5h0m40-15h0m10-70h0m-29 154h0m23-101h0m-8 91h0m4-25h0m-11 44h0m-4 15h0m6-26h0m18-121h0m-4-8h0m-8 106h0m10-71h0m-48-32h0m-1 80h0m13-18h0m17 80h0m-20-91h0m37 31h0m-42-32h0m36 13h0m-38-81h0m47 97h0m-31 27h0m-2-24h0m20-3h0m9 24h0m-10 8h0m-29-40h0m13 60h0m6 18h0m-12-77h0m36-87h0m-12 127h0m-1-28h0m-24 11h0m15 50h0m-16-53h0m5 17h0m24-59h0m-28 11h0m23 33h0m-23-30h0m29 5h0m-34-15h0m39 44h0m-44-47h0m8 61h0m24-8h0m-16 15h0m-11-56h0m0-54h0m8 110h0m32-123h0m-8 90h0m-5 40h0m-23-82h0m11 81h0m20-87h0m5-20h0m-40 12h0m33 56h0m-26-17h0m-10-28h0m39 21h0m-38-30h0m30 52h0m-31-70h0m9 44h0m35-9h0m-43-24h0m36 34h0m2-4h0m-26 52h0m11 36h0m14-35h0m-38-112h0m43 79h0m-34-16h0m16 80h0m18-40h0m1-107h0m-46 81h0m47-7h0m-28 66h0m29-144h0m-43 53h0m31 27h0m-5 38h0m16-72h0m-33 50h0m16 27h0m-25-26h0m4-22h0m22 62h0m17-105h0m-49 60h0m45-46h0m-26 87h0m-20-31h0m20 22h0m11 12h0m-13 3h0m24-63h0m8-82h0m-37 78h0m-9-63h0m34 68h0m-20 57h0m-6-20h0m31-46h0m-13 70h0m-10-3h0m14-29h0m5 15h0m-36-41h0m48-53h0m-29 117h0m1 10h0m2 10h0m13-74h0m-14 66h0m-9-29h0m-3-9h0m14 43h0m-21-145h0m-4 30h0m36 36h0m-30 8h0m25 28h0m16-30h0m-5-1h0m-39 19h0m24 47h0m-10-11h0m32-91h0m-6 58h0m-3-23h0m-32 2h0m10 24h0m28-86h0m-48 39h0m48 8h0m-45-63h0m13 97h0m-16-36h0m52-18h0m-1 1h0m-28 84h0m15-37h0m-36-93h0m16 98h0m-2 31h0m19-2h0m-17 10h0m16-15h0m-27-87h0m28 88h0m-25-18h0m24 12h0m5-41h0m3 28h0m11-65h0m-6-3h0m-31 66h0m34-60h0m-28 101h0m-16-82h0m20 93h0m-12-67h0m-6 17h0m9 5h0m34-129h0m-14 121h0m-17 35h0m-5-37h0m-8-66h0m22 106h0m-28-129h0m10 74h0m-2-28h0m-1 35h0m7 6h0m17 18h0m-18-9h0m5-5h0m32-40h0m-1-12h0m-39 28h0m14 76h0m5-14h0m-12-6h0m1 5h0m32-119h0m-1-10h0m-32 100h0m16 0h0m8-10h0m-31-30h0m-9-82h0m41 104h0m4 15h0m-45-129h0m45 99h0m-43 7h0m9-1h0m-4-15h0m19 83h0m25-140h0m-32 109h0m16 8h0m-30-104h0m45-2h0m-5-21h0m-42 3h0m8 98h0m16 51h0m11-89h0m-38-10h0m12 74h0m16 21h0m16-95h0m-45-68h0m37 90h0m-21 15h0m-15 4h0m39 24h0m-25 2h0m-10-119h0m16 132h0m-7-23h0m-3-52h0m20 72h0m-30-117h0m36 104h0m-27-10h0m-9-81h0m44 48h0m-1 4h0m-27 35h0m27-23h0m-33-29h0m-2 24h0m28-2h0m-31-56h0m12 92h0m15-17h0m-34-29h0m48-79h0m-31 135h0m-3-27h0m30 10h0m-2-62h0m10-38h0m-19 106h0m10-47h0m-31 39h0m0-1h0m-7-48h0m7 5h0m31-35h0m8-3h0m-45 71h0m29 10h0m18-92h0m-4 55h0m-38-21h0m20 92h0m5-60h0m-35-109h0m3 35h0m32 92h0m-30-42h0m4 3h0m32 0h0m-1 25h0m-37-86h0m2 8h0m29 93h0m-18 17h0m23-39h0m6 15h0m-33-39h0m26 49h0m-28-5h0m14 52h0m14-67h0m-22 32h0m16 19h0m-19-33h0m19 4h0m-13 16h0m22-48h0m-33 1h0m32 34h0m3-4h0m5-13h0m-22 61h0m2-6h0m17-98h0m-5-5h0m-40-6h0m48 35h0m-29 57h0m18-43h0m-27-18h0m2 9h0m-1 19h0m26-26h0m15-20h0m-6 19h0m4-61h0m-11 82h0m-6 7h0m-18-20h0m5 60h0m31-169h0m-46 133h0m37-4h0m-19 48h0m14-49h0m-34-73h0m24 123h0m9-24h0m-30-51h0m43-51h0m3-16h0m-42 66h0m-7-3h0m19 65h0m29-75h0m-14 27h0m0 1h0m10-81h0m-30 108h0m-11-21h0m7 33h0m18 15h0m-20-57h0m25 46h0m6-77h0m-28 66h0m35-66h0m-9 56h0m-22 7h0m-12-10h0m35-34h0m7-58h0m-44 14h0m45-26h0m-32 115h0m-2-33h0m14 63h0m5-13h0m-14-3h0m31-97h0m-14 39h0m2-1h0m9-13h0m-9 49h0m-2 17h0m-36-59h0m-1-55h0m8 47h0m28 49h0m6-78h0m-40-49h0m9 115h0m25 23h0m-13 20h0m22-38h0m-3-25h0m-7 48h0m-23-60h0m7 44h0m-20-123h0m37 122h0m-33-77h0m-4 46h0m3-93h0m38 133h0m-9 24h0m-13-31h0m32-88h0m-32 101h0m1-2h0m28-114h0m-26 120h0m22-63h0m-33-13h0m2 25h0m28-16h0m-4 39h0m-26 17h0m27-22h0m-21 14h0m20 14h0m-12 25h0m-10-62h0m-14-20h0m1-23h0m22 110h0m18-113h0m9 23h0m-41 42h0m16 49h0m20-107h0m-32 55h0m3 3h0m13 47h0m-6 2h0m21-113h0m-18 114h0m16-119h0m6-11h0m-26 116h0m20-100h0m6 43h0m-8-7h0m-38-49h0m36 77h0m-16 31h0m27-74h0m-11 51h0m2 3h0m-5-14h0m17-103h0m-49-14h0m43 76h0m-42-5h0m12 41h0m16 34h0m-22-50h0m10 40h0m-14-42h0m33-3h0m-33-28h0m-7-70h0m15 127h0m22 10h0m11-88h0m-5 84h0m-4-33h0m-39-65h0m45 25h0m-40 60h0m42 3h0m-26 19h0m13-1h0m-27-48h0m-5-1h0m29 58h0m-7 23h0m-11-78h0m31-25h0m8-58h0m-18 118h0m-24-33h0m-9-15h0m42 16h0m2 16h0m-2-45h0m-33 30h0m40-86h0m-45 104h0m40 2h0m-13 32h0m-1 21h0m-31-175h0m33 162h0m11-65h0m-13 58h0m-8 19h0m18-64h0m-33 10h0m37-20h0m2-61h0m-30 122h0m-3-61h0m23 44h0m0-8h0m15-99h0m-37 72h0m23-10h0m13-33h0m-1-19h0m-26 130h0m16-70h0m-4 14h0m4-9h0m-8 53h0m13-29h0m4-11h0m-45-60h0m1 21h0m15 75h0m-16-54h0m7-41h0m28 35h0m-31-52h0m32 30h0m-3 34h0m-37-16h0m13-11h0m-13-27h0m14 80h0m36-16h0m-1-104h0m-40 106h0m5 20h0m-8-98h0m42 27h0m-43 48h0m48-52h0m-6 12h0m-44 31h0m47-42h0m-26 92h0m19-41h0m-35-51h0m6 47h0m19 39h0m5-48h0m-22-4h0m18 26h0m-1 2h0m3 28h0m-1-20h0m9-4h0m-3 10h0m-1-50h0m-3 24h0m-24 16h0m23 22h0m16-160h0m-11 106h0m10-99h0m-20 161h0m15-72h0m-35-4h0m-10 24h0m11-33h0m35 45h0m-31 8h0m7 33h0m-12-73h0m6 47h0m-17-127h0m31 146h0m-2 10h0m0 3h0m21-118h0m-49-7h0m37 85h0m-29-78h0m-6 69h0m41-61h0m-31 47h0m36 0h0m-31 42h0m0-28h0m25 12h0m0-49h0m7-13h0m-41 59h0m24 7h0m18-40h0m-49 16h0m20 32h0m25-61h0m-45-75h0m14 116h0m-8-23h0m34 9h0m-29-6h0m34-4h0m-37-18h0m40-35h0m-11 79h0m-37-92h0m2 82h0m7 24h0m17 29h0m21-81h0m-3 32h0m5-40h0m-48 4h0m18 74h0m28-75h0m-37 34h0m33-63h0m-3 9h0m-5 92h0m8-119h0m-12 124h0m2-19h0m-4 28h0m22-117h0m-12 27h0m-38-73h0m14 132h0m31-72h0m-34 85h0m30-27h0m2-66h0m-7 63h0m2 16h0m-24 16h0m14 15h0m-28-116h0m41 2h0m-27 87h0m5 5h0m24-96h0m-36 15h0m22 78h0m18-54h0m-2-71h0m-47-20h0m8 62h0m-3 30h0m39 14h0m-24 43h0m31-125h0m-44 94h0m2-4h0m-7-101h0m2 43h0m-5-55h0m42 78h0m-32-11h0m2 81h0m4-42h0m36-28h0m-45-29h0m-3-35h0m45 98h0m-38 32h0m32-43h0m-41 0h0m46-57h0m4 70h0m-2-91h0m-33 85h0m33-21h0m-3 27h0m-39-37h0m28 39h0m-25-51h0m42-52h0m-45 60h0m41-39h0m-5 61h0m-38-74h0m16 137h0m10-13h0m8-18h0m-4 3h0m-31-110h0m11 116h0m27-26h0m6-80h0m-2 79h0m-40-13h0m45 6h0m-18 33h0m9-84h0m6-6h0m-7 60h0m-24 15h0m-9-61h0m-2 34h0m45-58h0m-10 63h0m-35-42h0m30 71h0m-7 27h0m-22-27h0m42-6h0m-41-31h0m39-54h0m-46 34h0m1-20h0m48 0h0m-42-2h0m-4-2h0m11 78h0m34-14h0m-1-8h0m-3 28h0m-7-10h0m13-120h0m-22 157h0m-12-39h0m2 38h0m27-51h0m-11 39h0m8-18h0m-2 0h0m-18 34h0m11-14h0m-1-4h0m-24-51h0m-1 44h0m-2-48h0m-4-20h0m6 6h0m12 87h0m23-75h0m-19 82h0m-6-19h0m32-128h0m-18 139h0m-8 11h0m22-115h0m-45-15h0m0 75h0m50-65h0m-30 104h0m24-115h0m-4 78h0m-39-42h0m17 91h0m0-18h0m8 29h0m-12-50h0m-8-84h0m40-26h0m-15 129h0m-29-135h0m31 124h0m-31-37h0m19 71h0m-19-141h0m48 14h0m-30 106h0m12-4h0m-33-78h0m7-22h0m41 26h0m-4 40h0m-26 39h0m-4-39h0m-12-55h0m-2-43h0m8 117h0m40-29h0m-33 21h0m18 24h0m-18-43h0m-7 16h0m11 43h0m-18-55h0m40 0h0m9-80h0m-15 124h0m6-65h0m-1-1h0m3 17h0m-10 37h0m13-112h0m-41 18h0m26 105h0m-11 13h0m32-67h0m-32 57h0m-14-31h0m0-17h0m9 31h0m-1 15h0m21-37h0m3 15h0m-21 25h0m-10-42h0m13 56h0m-1-31h0m-18-141h0m2 18h0m10 79h0m2 54h0m29-85h0m-45-58h0m8 32h0m-4 2h0m1 4h0m7 39h0m-11 37h0m40-44h0m-18 92h0m21-76h0m-37-54h0m36 56h0m9-4h0m1 0h0m-42 26h0m34-19h0m-32 49h0m2-11h0m4-5h0m-4-27h0m2 50h0m-15-136h0m29 148h0m-13-2h0m13-1h0m-21-22h0m25-18h0m-16 37h0m0 3h0m-8-29h0m6-3h0m-14-3h0m33 4h0m-19-17h0m22 34h0m2-24h0m-35-87h0m41 10h0m-23 125h0m-7-50h0m31-103h0m-48-14h0m23 169h0m6 3h0m12-85h0m-2 46h0m-36-81h0m26 111h0m7-23h0m-2-6h0m-26-86h0m26 105h0m-16-38h0m-12-33h0m1-24h0m-2-16h0m3 2h0m-4-4h0m31 83h0m5-46h0m8 26h0m2 12h0m-19 31h0m2 17h0m-27-46h0m35-1h0m-30-35h0m27 37h0m-37-25h0m46-62h0m-32 81h0m-9-41h0m16 73h0m-13-52h0m40 30h0m-36-9h0m31-45h0m-35 39h0m-4-60h0m-1 3h0m2 74h0m33-24h0m-33-73h0m29 102h0m16-41h0m-44-38h0m6 39h0m-2 30h0m31-18h0m-42-89h0m1 83h0m3-43h0m14 71h0m14 30h0m15-82h0m-39 63h0m41-43h0m-47-66h0m6 66h0m44 7h0m-14-6h0m-36-58h0m40 57h0m-27 37h0m30-80h0m-43 49h0m15 26h0m23-35h0m-16 76h0m22-121h0m-33 38h0m-7 12h0m31 48h0m-26-67h0m-2-2h0m27 64h0m11-47h0m-39 34h0m39 7h0m1-16h0m-7-31h0m2 37h0m-27 0h0m-2-28h0m-14-24h0m20 70h0m28-93h0m-44 80h0m39-22h0m8-27h0m-14 42h0m12-44h0m-41 3h0m45 14h0m-46 22h0m-4-18h0m15 61h0m-16-136h0m49 13h0m-20 133h0m-17-35h0m-3 0h0m21 14h0m7-31h0m-32 12h0m13 2h0m28-87h0m-44 34h0m2 17h0m27 49h0m-18-51h0m31-43h0m7 20h0m-38 73h0m23 6h0m-24-19h0m17 24h0m18-33h0m-10-15h0m-3 21h0m-36-74h0m45 77h0m-38-28h0m-7-66h0m11 65h0m23 56h0m13-36h0m2-78h0m-36 43h0m39-54h0m-9 106h0m-33-42h0m32 43h0m9-72h0m-32 76h0m-5-2h0m-7-98h0m8 86h0m-15-77h0m7-14h0m1 33h0m35 24h0m5-74h0m-15 120h0m-31-44h0m49-79h0m-49 13h0m0 44h0m43 43h0m-25 29h0m-18-139h0m39 80h0m-3 32h0m-28-37h0m31 28h0m-29 36h0m-3-74h0m34 45h0m3-47h0m-11 89h0m-33-101h0m0 13h0m0-61h0m4 61h0m3 68h0m-8-131h0m29 143h0m22-87h0m-15 39h0m-32 11h0m13 18h0m-4-41h0m31-19h0m6 8h0m-5-23h0m-24 104h0m-22-73h0m38 57h0m-27-42h0m4 26h0m27-21h0m5 11h0m-14 38h0m-30-74h0m38 5h0m-37 35h0m15 6h0m0 1h0m11 36h0m22-119h0m-30 118h0m-20-76h0m47 2h0m-42 31h0m5-33h0m18 66h0m11-65h0m-26 29h0m34-84h0m3 5h0m-17 87h0m-32-92h0m13 72h0m19 17h0m-29-24h0m9 24h0m-1 1h0m-12-18h0m5-31h0m35 42h0m-34-8h0m33-27h0m6-13h0m-14 92h0m14-125h0m-2 66h0m-9 33h0m-28-24h0m16 51h0m0 5h0m22-62h0m-32 22h0m38-72h0m-29 111h0m-12-56h0m-10-65h0m50-8h0m-50 34h0m5 21h0m4-35h0m39-15h0m-5 79h0m3-77h0m1 27h0m-5 36h0m-37-81h0m2 49h0m33 46h0m-8 42h0m15-76h0m-39-7h0m0-31h0m-2-14h0m-1 53h0m0-67h0m46-1h0m-39 127h0m-6-41h0m45-13h0m-42-7h0m21 69h0m-21-39h0m36-23h0m-39-27h0m17 94h0m-2-2h0m-18-70h0m-1-11h0m41 32h0m-9 40h0m-3-2h0m14-34h0m-42-94h0m-1-18h0m37 96h0m-23 49h0m31-41h0m-44-19h0m15 51h0m26-12h0m-4-58h0m-38-7h0m1 33h0m1-75h0m47-14h0m-41 76h0m0 16h0m1 1h0m25 51h0m6-28h0m-1-21h0m8-50h0m-45 42h0m7 13h0m7 36h0m-17-29h0m43-44h0m-2 4h0m6-33h0m-41 87h0m2-33h0m27 57h0m10-64h0m-33 63h0m20 12h0m11-105h0m4-33h0m-45 8h0m47-3h0m-51 51h0m45-35h0m-31 78h0m-8-71h0m45-9h0m0-2h0m-14 88h0m9-29h0m-8 26h0m13-124h0m-50 12h0m0 88h0m-1-97h0m49 27h0m1 69h0m-45-42h0m46 56h0m-12 35h0m-23-12h0m-3 8h0m28-52h0m1-9h0m-38 16h0m-2-56h0m1-30h0m11 71h0m25 5h0m-35-7h0m38-15h0m7-59h0m-35 112h0m25-11h0m-38-103h0m41 129h0m-7 19h0m-3-4h0m9-59h0m-9 64h0m-22-29h0m23 1h0m-20-10h0m35 0h0m-42-17h0m42 13h0m3-65h0m-31 105h0m3 5h0m10-24h0m4 4h0m-22 15h0m35-101h0m0 12h0m-43 7h0m14 81h0m-8-18h0m-8-26h0m3-1h0m42-106h0m-36 118h0m1-9h0m-5-4h0m30 11h0m7-75h0m-35 87h0m-3-16h0m-4-53h0m44 2h0m-36 73h0m-5-58h0m45-70h0m-52 3h0m8 93h0m38-28h0m-6-4h0m-21 86h0m18-16h0m8-61h0m4-67h0m-7 66h0m1 57h0m8-31h0m-23 60h0m-26-64h0m8-32h0m33 68h0m0-77h0m-2 69h0m-37-80h0m41-14h0m-14 130h0m-22-97h0m-4 46h0m0-35h0m43-48h0m-4 60h0m-2 24h0m-27 24h0m29-42h0m7-102h0m-6 91h0m-33 39h0m25-23h0m-20 33h0m33-138h0m-10 114h0m-34-57h0m3 61h0m-2-52h0m-2-23h0m-4 32h0m1 47h0m3-45h0m-2 15h0m36-6h0m-32 2h0m36 42h0m-1-64h0m-2 83h0m10-136h0m-48 101h0m23 64h0m23-91h0m-45-10h0m27 89h0m-28-136h0m35 126h0m-33-34h0m-1 8h0m42-17h0m-30-6h0m2 35h0m25-84h0m5 54h0m-2-1h0m-44-11h0m1-61h0m41 65h0m-38-25h0m40 35h0m6-32h0m0-1h0m-43 32h0m4-11h0m-6-68h0m38 51h0m-32 49h0m7 2h0m19-9h0m-32-40h0m29 56h0m-15 25h0m-10-80h0m29-6h0m-29 48h0m-2-33h0m0 29h0m39-17h0m4-93h0m-10 93h0m-41-16h0m8-27h0m11 85h0m25-75h0m6-15h0m-8 50h0m-27 46h0m19-34h0m11-50h0m-13 78h0m-4 10h0m-14-22h0m38-137h0m-42 126h0m7-11h0m-9-49h0m0 37h0m-2 28h0m-4-120h0m46 64h0m-14 48h0m15-96h0m3 77h0m-44-21h0m32 43h0m-34-65h0m44-47h0m-5 39h0m-3 16h0m-31 7h0m-11-8h0m0-28h0m14 104h0m-1-35h0m-13-115h0m44 51h0m-11 86h0m-18-12h0m23-12h0m-27 9h0m-4-18h0m31 14h0m-5 18h0m15-62h0m-42 14h0m9 35h0m16 25h0m5-9h0m5 1h0m-6-16h0m-22 21h0m-3-34h0m-3-9h0m5 32h0m-9-61h0m-3 27h0m42-34h0m-43-40h0m49 67h0m-39 37h0m3-43h0m-3-21h0m38 38h0m-30 48h0m19-36h0m15 6h0m-2 0h0m1-110h0m-47 98h0m43 23h0m-30-18h0m-9-44h0m42-49h0m-40 125h0m23 3h0m3-4h0m-2 19h0m-33-144h0m4 78h0m1 6h0m-2-43h0m44-18h0m-38 25h0m38 39h0m-8-24h0m-35 27h0m27 52h0m18-77h0m-35 23h0m-3-33h0m9 88h0m-14-124h0m26 99h0m13-41h0m-17 70h0m-29-161h0m11 124h0m26 22h0m-13 18h0m29-155h0m-52 89h0m51 21h0m-47-103h0m4 68h0m30 29h0m-30 19h0m43-62h0m-47 53h0m28 21h0m-23-55h0m34-39h0m-6 58h0m-16 57h0m22-86h0m-41-71h0m43 106h0m-10 37h0m-1 4h0m18-117h0m-41 97h0m3 11h0m29-27h0m-36-52h0m33 60h0m-23 20h0m-8-42h0m29 11h0m-24-23h0m-10-65h0m18 144h0m29-118h0m-4 35h0m-7 14h0m-39-16h0m6 2h0m8 40h0m-15-42h0m7-40h0m44-30h0m-48 77h0m5-25h0m36 39h0m-30 13h0m37-93h0m0-21h0m-6 78h0m-41-6h0m-2 7h0m46-54h0m2 6h0m-4 11h0m0 52h0m6 5h0m-3-87h0m-4 83h0m-14 40h0m-18-30h0m35-48h0m-9 41h0m-30 9h0m8 13h0m-4-27h0m33-26h0m0-24h0m-43 20h0m39 64h0m8-13h0m0-107h0m-2-3h0m-29 120h0m16-12h0m-1 18h0m-22-42h0m30 42h0m-11 3h0m12-85h0m-41 4h0m48 46h0m-47 20h0m34 24h0m7-71h0m2 46h0m5-59h0m-40 15h0m0 57h0m-8-90h0m28 112h0m12-89h0m-38-19h0m35 47h0m7 23h0m-45-17h0m39 15h0m-30 22h0m30-10h0m6-15h0m-44-5h0m36 34h0m13-55h0m-49-7h0m14 35h0m-17-99h0m49-11h0m-8 67h0m-33-29h0m39 72h0m-6-4h0m4-55h0m-27 103h0m25-34h0m8-30h0m-6-58h0m-41 70h0m1-33h0m7 31h0m-7-40h0m8 34h0m3 49h0m22-2h0m14-83h0m-11 66h0m7-52h0m-4-32h0m-5 50h0m3 26h0m-3-40h0m11-85h0m-22 168h0m-29-65h0m36 32h0m-14 34h0m-21-150h0m49 6h0m-42 15h0m5 74h0m25 23h0m-26-35h0m35-41h0m-6 79h0m-34-111h0m1 56h0m7 40h0m1 14h0m36-63h0m-28 91h0m12-38h0m-17 7h0m29-76h0m-31 45h0m0 18h0m35-116h0m-6 120h0m-33-8h0m25 32h0m-21-15h0m19 18h0m-17-3h0m-15-125h0m37 98h0m9-48h0m-6 6h0m-40-63h0m9 78h0m38 5h0m2-19h0m-17 25h0m-25 14h0m26 24h0m-1-36h0m-32 8h0m49-60h0m-50-2h0m6 15h0m6 80h0m32-36h0m-41-79h0m33 47h0m-18 78h0m-20-112h0m4 17h0m-4 5h0m10 24h0m1 28h0m-12-83h0m1 4h0m36 60h0m-36-39h0m32 98h0m16-81h0m-4-24h0m-30 91h0m-4-77h0m-7-31h0m9 80h0m40-83h0m-16 88h0m-30 6h0m46-42h0m-16 63h0m-22-1h0m-6-24h0m-6-101h0m43 73h0m4-83h0m-34 92h0m19 31h0m11-18h0m-43-104h0m13 136h0m-5-22h0m7-1h0m24 8h0m-23-17h0m-15-90h0m33 105h0m-37-59h0m2 45h0m17 23h0m-19-62h0m11 28h0m26 23h0m-26 8h0m35-38h0m-44 11h0m2-77h0m14 117h0m-16-159h0m0 8h0m17 139h0m-6-32h0m-5-7h0m-3-92h0m29 115h0m6-36h0m-26 51h0m28-76h0m2 6h0m-25 55h0m30-71h0m-14 103h0m3-45h0m-24-8h0m25 25h0m-5 28h0m16-124h0m-14 112h0m-35-111h0m43 62h0m-8 20h0m-24-24h0m-12 21h0m2-22h0m45-63h0m0 100h0m-44-99h0m45-7h0m-9 117h0m-35-95h0m13 93h0m20-22h0m-31-11h0m38-48h0m-11 73h0m-22-43h0m-1 14h0m36-8h0m-8 23h0m-31-54h0m7 41h0m30-39h0m-40 22h0m0-70h0m35 80h0m-30 24h0m5-5h0m35-50h0m-7 46h0m-31-35h0m-7-18h0m17 94h0m22-100h0m-40-23h0m46 27h0m-7 25h0m-33-27h0m44 1h0m-13 43h0m-33-52h0m36 17h0m-36 25h0m37-25h0m-43-63h0m46 28h0m-6 111h0m2-55h0m8-35h0m-4-4h0m-39 84h0m13 8h0m18-21h0m-28-50h0m29 76h0m-23-23h0m4 23h0m14-30h0m-26-13h0m-1-4h0m-2-27h0m42 13h0m-12 23h0m-29-56h0m39-4h0m-12 108h0m18-66h0m0 22h0m-5-11h0m-19 80h0m10-43h0m-28-77h0m2 70h0m26-25h0m-29-35h0m34 55h0m-36-91h0m20 141h0m25-170h0m-16 141h0m10-11h0m-29-5h0m17 33h0m-24-34h0m35-85h0m4-6h0m-49-25h0m28 156h0m-14-69h0m-9-54h0m10 48h0m-7-51h0m-2 21h0m41 20h0m3-19h0m-49-61h0m10 95h0m-6-8h0m44-42h0m-27 104h0m23-77h0m-10 66h0m-25-9h0m29 9h0m10-53h0m-45-30h0m48-41h0m-4 84h0m-7 18h0m-37-40h0m36 9h0m4 16h0m-40 12h0m44-60h0m3-9h0m-1-44h0m-35 92h0m10 84h0m22-150h0m1 29h0m3-29h0m-1 25h0m-13 57h0m4-30h0m6 31h0m-46-14h0m0-92h0m45 23h0m6 79h0m-6-26h0m-1 6h0m-42-26h0m40 52h0m-42-104h0m39 137h0m1-39h0m-26 9h0m-6-10h0m1-45h0m-3 72h0m29 22h0m14-52h0m-48-52h0m49 53h0m-35 28h0m23-41h0m5-40h0m1 71h0m-44-92h0m47 45h0m-41 10h0m46-84h0m-5 24h0m-17 129h0m6-10h0m5-68h0m1 21h0m-1-18h0m-1 35h0m-33-1h0m40-40h0m-30 85h0m34-89h0m-2 28h0m0 20h0m-35-14h0m32-77h0m4 74h0m-2 9h0m-38 8h0m28 5h0m-28-9h0m3 28h0m20 22h0m5-82h0m-35-1h0m3 37h0m41-5h0m4-65h0m-49 0h0m41 27h0m-34-14h0m39 66h0m-43-88h0m43-22h0m-44 70h0m34 37h0m-34-67h0m8 36h0m-11-67h0m-1 34h0m44 31h0m-40-48h0m-1-35h0m6 72h0m37-12h0m-42 61h0m39-84h0m-22 111h0m-6-11h0m-16-101h0m51-39h0m-34 111h0m36-117h0m-20 156h0m-26-110h0m45 39h0m0-72h0m-50 5h0m7 46h0m-2 42h0m37 10h0m-24 37h0m4 24h0m10-54h0m19-105h0m-45 24h0m44 57h0m-33 41h0m-12-101h0m42 59h0m-28 68h0m-17-52h0m-2-48h0m51-3h0m-40 65h0m0-14h0m20 38h0m4 1h0m-11 22h0m25-106h0m-44 11h0m45-27h0m-45 51h0m42 12h0m-45-69h0m36 99h0m10-124h0m0-22h0m-14 150h0m16-42h0m-34 43h0m-13-43h0m42-55h0m-16 93h0m-29-62h0m1 7h0m9 34h0m37-99h0m-5 92h0m4-80h0m3 0h0m-40 34h0m-6-3h0m7 29h0m39-37h0m-12 76h0m-36-65h0m7 21h0m-9 11h0m5-31h0m39-21h0m0 85h0m-2-8h0m7-84h0m-46 66h0m35-22h0m9-65h0m-1 26h0m3 33h0m-38 1h0m40-82h0m-9 118h0m-6 10h0m5-66h0m-22 102h0m-17-84h0m39-10h0m-26 78h0m-13-141h0m46 87h0m3-33h0m-18 88h0m11-97h0m-2 6h0m-25 54h0m-7-49h0m-6 19h0m45-14h0m-3-13h0m-30 95h0m-2-45h0m20 11h0m-1 20h0m-31-104h0m35 119h0m-26-68h0m41-69h0m-9 108h0m-5-12h0m2 18h0m9-74h0m-2 53h0m-44-70h0m41 32h0m-12 80h0m11-23h0m5-87h0m-38 70h0m29-27h0m-34-22h0m11 97h0m12 3h0m-22-103h0m34 74h0m-25-17h0m36 2h0m-41-11h0m-8-15h0m2-69h0m2 90h0m0-41h0m-6 43h0m48-70h0m-15 95h0m13-21h0m-43-68h0m-3 12h0m47 63h0m2-57h0m-1-9h0m-13 62h0m-24-25h0m31-15h0m-42 26h0m38 30h0m-23-33h0m5 34h0m23-30h0m-4 2h0m2-35h0m-41 41h0m50-59h0m-11 48h0m-26-21h0m-5-38h0m-4 18h0m32 37h0m15-5h0m-15 38h0m-27-60h0m34 33h0m-36-19h0m3-21h0m22 69h0m-21-68h0m40-58h0m-6 110h0m-45-43h0m30 73h0m-26-111h0m41 9h0m-14 88h0m21-110h0m-39 122h0m-10-24h0m0-19h0m-4-40h0m2 17h0m1 4h0m13 30h0m25-11h0m-39-82h0m16 106h0m29-57h0m-43 2h0m8 36h0m38-103h0m-11 101h0m-37 11h0m37-18h0m-29-7h0m33 12h0m5-66h0m-1 58h0m4-23h0m-32 48h0m-5 8h0m-10-17h0m-2 0h0m11 23h0m28-14h0m-29-10h0m27-22h0m-31-53h0m3 91h0m2-43h0m32 41h0m-32-50h0m-4-9h0m36 10h0m-13 84h0m-12-20h0m27-88h0m-43 47h0m-4-82h0m4 51h0m14 60h0m-13-92h0m37 78h0m4-6h0m4-106h0m-37 98h0m-5-15h0m22 72h0m-18-72h0m30 4h0m-8 66h0m14-126h0m-8 71h0m-19 48h0m-16-27h0m37-61h0m-8 59h0m-22-18h0m-1 39h0m3-44h0m39-26h0m-9-10h0m-39 19h0m34 6h0m-27 54h0m-12-40h0m47-62h0m-2 8h0m3 10h0m2 40h0m-5-31h0m4 8h0m-40 14h0m29 44h0m14-72h0m-50-44h0m37 114h0m11-95h0m-44 10h0m39 18h0m-33 44h0m32-16h0m-32-14h0m19 70h0m19-141h0m2 68h0m-46 44h0m31 1h0m-5 49h0m-13-48h0m-9-43h0m30 62h0m-25 7h0m-12-123h0m7 85h0m-4-22h0m2-29h0m-8-27h0m33 108h0m3-29h0m17-10h0m-8 2h0m0-17h0m-1 51h0m5-129h0m-48 15h0m2 79h0m6-40h0m4 48h0m-12-66h0m52-17h0m-51 26h0m3 19h0m33 83h0m-38-80h0m44 27h0m0 39h0m0-21h0m-36-63h0m31 58h0m-21 41h0m-5-30h0m-9-97h0m35 106h0m-21 22h0m-13-129h0m11 116h0m-14-122h0m-1 90h0m-1-112h0m2 21h0m3 69h0m-4 24h0m47-100h0m2 16h0m-5 102h0m-3-5h0m-29-50h0m7 78h0m32-156h0m-49 20h0m47 12h0m-2 100h0m-40-93h0m40 15h0m-44-42h0m46 61h0m-47 46h0m17 21h0m-17-30h0m1-83h0m39 46h0m-26 47h0m31-55h0m-41 0h0m-4 57h0m37 14h0m12-48h0m-5 31h0m2 6h0m-44-50h0m-3-60h0m46 49h0m-11 36h0m-31-29h0m-6-7h0m53 27h0m-36 57h0m26-58h0m3-45h0m-46-49h0m4 116h0m42-31h0m-44-79h0m38 95h0m7-30h0m-4 48h0m-3-35h0m-32 55h0m-1-66h0m39-1h0m0 32h0m-32 21h0m-9 8h0m9-14h0m39-107h0m-41 69h0m24 79h0m6-18h0m-36-78h0m-4 11h0m4-28h0m14 122h0m23-51h0m9-34h0m-32 86h0m31-45h0m-16 35h0m-29-42h0m-5-87h0m12 125h0m37-117h0m-7 44h0m-31-7h0m-7-29h0m41-9h0m-2 50h0m8 34h0m-17 37h0m-28-121h0m38 75h0m-37-52h0m1 42h0m-5-53h0m35 46h0m-37 4h0m20 69h0m18-28h0m-37-23h0m41 5h0m-40-81h0m-3 40h0m14 58h0m34-104h0m-29 135h0m33-87h0m-9 36h0m-3-19h0m-34 31h0m36 2h0m-9 21h0m-32-27h0m40-9h0m-36-8h0m0 21h0m0-94h0m6 84h0m40-62h0m-6 79h0m-41-59h0m45-12h0m-3 50h0m-32 42h0m33-84h0m-42-45h0m1 87h0m39-57h0m-33 87h0m37-126h0m-39 48h0m31 31h0m1 35h0m-22 28h0m-13-50h0m42 8h0m-12 23h0m-25-28h0m-9-95h0m11 98h0m1 25h0m17 28h0m17-161h0m-39 87h0m40 0h0m-34 28h0m-13-40h0m41-28h0m-42 62h0m43-47h0m-44-46h0m7 110h0m37-70h0m-34 64h0m5 23h0m-17-1h0m60-2h0m-2-23h0m-57 2h0m60-5h0m-6 29h0m-57 2h0m58-21h0m-61 21h0m5-8h0m52 14h0m3-27h0m-60 1h0m-3-11h0m65 7h0m-58-3h0m-10 5h0m73-14h0m-2 0h0m-4 19h0m-2 5h0m-55 6h0m59-12h0m1 9h0m-63-5h0m4-9h0m75-13h0m-17 23h0m-5 16h0m4-36h0m11-3h0m-73 0h0m-5 19h0m69 3h0m-2-14h0m-63-8h0m5 34h0m-6-12h0m5 15h0m54-6h0m5-14h0m-1-11h0m-66 18h0m71 7h0m-5-17h0m-57 3h0m56 7h0m1 15h0m-56-5h0m0 7h0m0 3h0m-2-14h0m-1 12h0m57 3h0m1-2h0m-58-24h0m-2 4h0m6-8h0m53 16h0m-57-18h0m55 1h0m-59-11h0m61 26h0m0-4h0m-55-6h0m66-18h0m-9 24h0m-58 14h0m57-20h0m-59 21h0m5-7h0m52-20h0m2 19h0m-58-1h0m-2-3h0m-3-3h0m69-16h0m8-9h0m-75 15h0m61 25h0m5-13h0m-63 10h0m57-21h0m-53 2h0m55 6h0m-55-12h0m-7 17h0m5-22h0m60-7h0m-59 24h0m-5 8h0m3-23h0m54 30h0m1-29h0m-56-8h0m64 31h0m-60-19h0m51 19h0m2 4h0m-59-33h0m71-1h0m-76-3h0m63 29h0m6-26h0m-5 31h0m1-27h0m-54 28h0m-4 3h0m64-8h0m-4 6h0m-59-13h0m60 12h0m-59-2h0m61-22h0m-67 15h0m-13-26h0m12 18h0m61 6h0m-1 14h0m-63-15h0m10-12h0m53 17h0m-60-28h0m-1 4h0m65 4h0m-3 19h0m-58-1h0m59 4h0m-1-7h0m-52 22h0m-1 1h0m54-34h0m-1 9h0m-60-5h0m1-7h0m-22-9h0m83 6h0m5 29h0m-59-16h0" stroke="#000" stroke-width="4.4" stroke-linecap="round" fill="none"/>
<path d="M1269.8 564.6V885.4M1323.2 564.6V885.4M1136.2 817.2H1456.8" stroke="#000" stroke-width="2.2" stroke-dasharray="5 4" fill="none"/>
<path d="M1136.2 562.9V885.4H1456.8" fill="none" stroke="#000" stroke-width="3.3" stroke-linejoin="miter" stroke-linecap="square"/>
<path d="M1123.2 885.4H1136.2M1123.2 805.2H1136.2M1123.2 725H1136.2M1123.2 644.8H1136.2M1123.2 564.6H1136.2M1136.2 885.4V898.4M1189.6 885.4V898.4M1243.1 885.4V898.4M1296.5 885.4V898.4M1349.9 885.4V898.4M1403.4 885.4V898.4M1456.8 885.4V898.4" stroke="#000" stroke-width="3.3" fill="none"/>
<text x="1120.2" y="893.7" font-size="23" font-weight="bold" text-anchor="end">0</text>
<text x="1120.2" y="813.5" font-size="23" font-weight="bold" text-anchor="end">2</text>
<text x="1120.2" y="733.3" font-size="23" font-weight="bold" text-anchor="end">4</text>
<text x="1120.2" y="653.1" font-size="23" font-weight="bold" text-anchor="end">6</text>
<text x="1120.2" y="572.9" font-size="23" font-weight="bold" text-anchor="end">8</text>
<text x="1136.2" y="925.2" font-size="23" font-weight="bold" text-anchor="middle">-6</text>
<text x="1189.6" y="925.2" font-size="23" font-weight="bold" text-anchor="middle">-4</text>
<text x="1243.1" y="925.2" font-size="23" font-weight="bold" text-anchor="middle">-2</text>
<text x="1296.5" y="925.2" font-size="23" font-weight="bold" text-anchor="middle">0</text>
<text x="1349.9" y="925.2" font-size="23" font-weight="bold" text-anchor="middle">2</text>
<text x="1403.4" y="925.2" font-size="23" font-weight="bold" text-anchor="middle">4</text>
<text x="1456.8" y="925.2" font-size="23" font-weight="bold" text-anchor="middle">6</text>
<circle cx="1362.8" cy="770" r="5.5" fill="#e0401e"/>
<text x="1371" y="777.4" font-size="20" font-weight="bold">CEACAM6</text>
<text transform="translate(1093.2,713.7) rotate(-90)" font-size="28" font-weight="bold" text-anchor="middle">P-value (-log<tspan font-size="13.2" dy="4.8">10</tspan><tspan dy="-4.8">)</tspan></text>
<text x="1298.0" y="958" font-size="28.85" font-weight="bold" text-anchor="middle">Fold change (log<tspan font-size="13.0" dy="5.2">2</tspan><tspan dy="-5.2">)</tspan></text>
<text transform="translate(1501.5,535.0) scale(1.076,1)" font-size="45.7" font-weight="bold">D</text>
<text x="1745.2" y="527.5" font-size="28.6" font-weight="bold" text-anchor="middle">CEACAM6</text>
<path d="M1627.5 591.1V888.6H1846" fill="none" stroke="#000" stroke-width="3.3"/>
<path d="M1614 888.6H1627.5M1614 740.7H1627.5M1614 592.7H1627.5M1619 839.3H1627.5M1619 790H1627.5M1619 691.3H1627.5M1619 642H1627.5M1689.4 888.6V901M1782.3 888.6V901" stroke="#000" stroke-width="3.3" fill="none"/>
<text x="1610.5" y="896.6" font-size="22.5" font-weight="bold" text-anchor="end">3.5</text>
<text x="1610.5" y="748.7" font-size="22.5" font-weight="bold" text-anchor="end">4.0</text>
<text x="1610.5" y="600.7" font-size="22.5" font-weight="bold" text-anchor="end">4.5</text>
<text x="1693" y="927" font-size="27" font-weight="bold" text-anchor="middle">NT</text>
<text x="1789" y="927" font-size="27.3" font-weight="bold" text-anchor="middle">GBC</text>
<circle cx="1689.4" cy="772.9" r="5.2" fill="#000"/>
<circle cx="1689.4" cy="811" r="5.2" fill="#000"/>
<circle cx="1689.4" cy="821.7" r="5.2" fill="#000"/>
<circle cx="1689.4" cy="831.6" r="5.2" fill="#000"/>
<circle cx="1689.4" cy="842" r="5.2" fill="#000"/>
<circle cx="1783" cy="689.2" r="5.2" fill="#000"/>
<circle cx="1773.6" cy="739.2" r="5.2" fill="#000"/>
<circle cx="1793.4" cy="739.2" r="5.2" fill="#000"/>
<circle cx="1793" cy="774" r="5.2" fill="#000"/>
<circle cx="1773" cy="780.8" r="5.2" fill="#000"/>
<path d="M1658.5 816H1720.5M1752.5 744.5H1814.5" stroke="#000" stroke-width="3.2"/>
<path d="M1689.4 789V842.6M1674.5 789H1705M1674.5 842.6H1705M1783 708.3V780.8M1768 708.3H1798.4M1768 780.8H1798.4" stroke="#000" stroke-width="2"/>
<path d="M1676 656V640.5H1791.4V656" fill="none" stroke="#000" stroke-width="3"/>
<text x="1741.3" y="640" font-size="52" font-weight="bold" text-anchor="middle" letter-spacing="5">**</text>
<text transform="translate(1567.8,754.7) rotate(-90)" font-size="28.3" font-weight="bold" text-anchor="middle">Protein expression (log<tspan font-size="13" dy="5">2</tspan><tspan dy="-5">)</tspan></text>
<text transform="translate(1014.0,1042.6) scale(1.051,1)" font-size="49.8" font-weight="bold">E</text>
<text x="1269.9" y="1038.2" font-size="28.55" font-weight="bold" text-anchor="middle">Chronic inflammed vs NT</text>
<path d="M1287 1378h0m-14-4h0m2 13h0m-41-22h0m86 1h0m-13-3h0m-30 18h0m22 1h0m-10-13h0m-17-4h0m31 14h0m-26-3h0m0 1h0m-9-10h0m25-3h0m-11-2h0m13 15h0m-24 9h0m15-16h0m-20-6h0m35 14h0m-14-14h0m3 7h0m2 10h0m-29-4h0m36-11h0m26 1h0m-75 4h0m-1 7h0m4-6h0m48 2h0m-15 0h0m19 2h0m-7-2h0m-10-1h0m1 15h0m-9-1h0m21-18h0m-40-6h0m14 1h0m13 0h0m32-1h0m-52 7h0m-6 9h0m10 5h0m31-10h0m-24 5h0m31-15h0m-64 12h0m60-2h0m-2-1h0m-49-3h0m32 2h0m21-3h0m-23-1h0m19 14h0m28-6h0m-43 0h0m-11-13h0m-10 15h0m29-3h0m-17-8h0m0 17h0m1-21h0m16 3h0m-35 9h0m-9-1h0m-19-1h0m74 2h0m-23-6h0m29-3h0m-31 0h0m-14 6h0m24 9h0m-11 6h0m-24-8h0m8-10h0m53 5h0m-28-9h0m1 4h0m-14 18h0m-8 2h0m32-16h0m-34 4h0m13-3h0m-16-7h0m22 0h0m19-4h0m-39 21h0m45-20h0m-42 7h0m17-8h0m-20 9h0m12 11h0m6 1h0m-10-6h0m-6-12h0m1 1h0m-3-4h0m-15 2h0m26 20h0m14-8h0m10 2h0m-5-6h0m36 1h0m-43 8h0m-16-8h0m47-7h0m-18 2h0m-39 15h0m27-12h0m-47 5h0m58-5h0m-38-1h0m53 6h0m-18-3h0m-15 4h0m-15-10h0m14 1h0m-3 5h0m18 1h0m2-4h0m-30 5h0m2-9h0m1 8h0m-17-10h0m16 22h0m10-13h0m16-9h0m12 8h0m-43 12h0m28 0h0m-20-14h0m50 6h0m-42-4h0m11 1h0m-29-2h0m2 9h0m21 3h0m-12-6h0m15 6h0m-39-17h0m13 4h0m53-5h0m-40 6h0m28-8h0m-51 4h0m37-2h0m-26 6h0m8 6h0m10-9h0m-7 4h0m12 5h0m10-2h0m-17-12h0m-26 7h0m11 7h0m13 8h0m-39-23h0m58 2h0m-20 8h0m-1 2h0m25-2h0m-6-3h0m-9-7h0m-25 0h0m27 24h0m1-23h0m-25 6h0m39 4h0m-11-1h0m-50-2h0m42 5h0m21-6h0m-7-5h0m-39 4h0m5 5h0m20 4h0m-7 2h0m20 0h0m-21-16h0m17 7h0m-52 4h0m47-1h0m-10 2h0m-11 10h0m26-10h0m28 0h0m-35 6h0m-27-7h0m52-1h0m-67 4h0m48 7h0m-22-5h0m30-5h0m-12 11h0m-41-18h0m-5 7h0m33-5h0m33 13h0m-24-8h0m-7 14h0m19-20h0m-7 17h0m-2-12h0m-25 4h0m44-15h0m3 16h0m-54-14h0m73 11h0m-32-13h0m-53 13h0m52 3h0m-2 1h0m-23-5h0m-25-8h0m59 5h0m-34 2h0m2 5h0m67-13h0m-14 10h0m-30 7h0m-60-8h0m49 9h0m-18-5h0m-10 5h0m-6-3h0m42-17h0m-9 10h0m-19 3h0m-7 8h0m-11-22h0m29 20h0m4-4h0m16-8h0m-37 10h0m14 5h0m-16-15h0m63 2h0m-53 1h0m0 1h0m14-8h0m-28-2h0m38 5h0m-35-2h0m19 14h0m-13-4h0m11-8h0m-22 12h0m12-5h0m6-8h0m15 10h0m29-7h0m-14 10h0m-22-14h0m20-1h0m-28 5h0m25-6h0m-39-2h0m43 5h0m1 7h0m-71 1h0m39-1h0m6-9h0m-29-1h0m17 18h0m2 4h0m30-5h0m43-16h0m-61 8h0m31-6h0m-22-3h0m4 0h0m-29 3h0m-15 5h0m23 6h0m48-5h0m-20 5h0m-2-17h0m-27 1h0m48 4h0m-4 2h0m-48-6h0m29 15h0m0-8h0m0-8h0m-17 25h0m-17-5h0m0-17h0m-10 11h0m45-2h0m35-1h0m-79 1h0m43 12h0m-28-19h0m24 17h0m-27-17h0m47 0h0m-36 18h0m14-21h0m-11 21h0m-28-15h0m35 4h0m-20-12h0m22 8h0m38 6h0m-43 11h0m-28-12h0m56-9h0m-25 9h0m22-7h0m-11 9h0m23-13h0m-7 1h0m-20-1h0m16 16h0m-46 1h0m54-16h0m-5 7h0m-5-5h0m-23 12h0m10-15h0m-29 19h0m24-7h0m4-6h0m18-5h0m-5 15h0m-59-13h0m-3 7h0m41-5h0m3 5h0m9-10h0m-43-2h0m36 18h0m23-17h0m-28 23h0m-17-7h0m16-2h0m-5-11h0m23 5h0m-34-6h0m3 0h0m53 1h0m-29 11h0m-14-10h0m29 0h0m13 0h0m-29 17h0m-26-15h0m-6 3h0m42 8h0m-41-2h0m61-7h0m-31 13h0m-7-3h0m-38-4h0m40-13h0m-53 14h0m64-10h0m1 6h0m-22 9h0m12-15h0m-8 5h0m-11 3h0m9 4h0m35-10h0m-57 6h0m34-8h0m-1 10h0m-18-2h0m-14 0h0m11 5h0m24-10h0m-25 14h0m7-1h0m14-23h0m-7 5h0m-4 16h0m35-12h0m-36-6h0m37 9h0m-49 2h0m42 2h0m-34-3h0m69-7h0m-63-4h0m-11 4h0m-20 3h0m27-2h0m-9 16h0m-4-11h0m11-8h0m9 5h0m34 6h0m-64-4h0m23-5h0m-8 19h0m-11-3h0m5-16h0m7 11h0m33 6h0m-18-19h0m-7 14h0m23 1h0m-5 1h0m5 1h0m-37-18h0m55 11h0m-29-9h0m-15 16h0m31-19h0m-26 25h0m14-6h0m11-19h0m-33 10h0m15 6h0m5-5h0m9-2h0m8 1h0m-4 0h0m-11-6h0m-12 1h0m-16 5h0m8 11h0m4-12h0m24 4h0m-21-12h0m-18 5h0m38 4h0m-29 12h0m1 0h0m11-20h0m14 19h0m-58-10h0m52-10h0m-11 5h0m-3 8h0m39-9h0m-38 8h0m24-13h0m2-2h0m-26 7h0m-3 16h0m30-20h0m-25 25h0m-15-20h0m59 5h0m-21-2h0m-18-4h0m-11-4h0m19 21h0m0-5h0m-34-17h0m9 15h0m8-16h0m3 21h0m6 6h0m-31-18h0m63-7h0m-23 18h0m19-11h0m0 4h0m-30 11h0m11-9h0m8-5h0m1-10h0m-19 9h0m4 9h0m-21-9h0m19 13h0m40-10h0m-34 6h0m-33-7h0m17 8h0m-2 6h0m-1-14h0m4 3h0m-26-14h0m23 0h0m13 25h0m25-6h0m-30 6h0m-2-22h0m18 14h0m22-4h0m-21-12h0m-12 15h0m28-15h0m3 6h0m-40 6h0m13-8h0m-37 0h0m29 1h0m-5 6h0m6-12h0m1 19h0m13-12h0m-6 0h0m-16 13h0m-14-9h0m51 0h0m-35-11h0m21 7h0m-43-1h0m61-2h0m-51 4h0m5 8h0m49-13h0m-19-3h0m-4 4h0m-14 7h0m8 13h0m50-25h0m-60 28h0m2-6h0m-23-5h0m60-8h0m-28-6h0m-40 3h0m44 6h0m-38-1h0m28-2h0m7 1h0m2 5h0m30-13h0m20 3h0m-61-3h0m-21 17h0m42-15h0m-21 3h0m-6 14h0m44-11h0m-43-2h0m-20-1h0m20 5h0m-15-8h0m15-3h0m-13 3h0m34 0h0m-25 12h0m38 0h0m-38 3h0m17 5h0m-4 0h0m2-23h0m-3 22h0m7-8h0m6-7h0m-22 17h0m10 2h0m-14-19h0m13-3h0m-12 4h0m-3 13h0m51-14h0m-52 6h0m54-13h0m-7 6h0m-7 11h0m-53-2h0m30 2h0m-38 3h0m22-15h0m38-3h0m-34-1h0m44 10h0m-59 1h0m25-12h0m-6 6h0m34 1h0m-23 12h0m-20-9h0m65-10h0m-39 6h0m4 13h0m-10 3h0m8-12h0m-13 8h0m-27 2h0m24-6h0m1 5h0m0-17h0m-9 2h0m39 2h0m5-2h0m-76 2h0m45 4h0m-15 10h0m-38-17h0m45 7h0m30-2h0m-8 8h0m-17 2h0m-12-17h0m0 11h0m31 8h0m-10-16h0m48 5h0m-97-5h0m15 10h0m29-14h0m-14 5h0m-35 0h0m41-5h0m-13 1h0m26 4h0m-20 16h0m-30-7h0m10-13h0m29 14h0m32-16h0m-3 14h0m-21 0h0m33-8h0m-49 20h0m4-15h0m3-2h0m17 11h0m9-3h0m6 0h0m-74-9h0m13 10h0m38 4h0m-5 4h0m45-11h0m-44 9h0m-4-4h0m-18-3h0m47-5h0m-53-3h0m47-4h0m-5 11h0m2 3h0m3-13h0m-62 5h0m31 9h0m-10-10h0m15 2h0m34-12h0m-56 19h0m42-9h0m-55 1h0m49 11h0m-38-8h0m53-4h0m-60-2h0m52 16h0m-24-16h0m12-6h0m16 8h0m-25-5h0m14 21h0m-6-12h0m-5 0h0m9 4h0m13-9h0m-15 9h0m-28-15h0m23 1h0m-35 0h0m52 20h0m12-18h0m-18-3h0m-20 14h0m-5-9h0m28-3h0m17 3h0m-21-3h0m-38 10h0m10-9h0m48 4h0m-21-6h0m3 8h0m-1 6h0m11-14h0m-43 13h0m7 9h0m35-10h0m-12-8h0m21 10h0m-45 8h0m28-11h0m11 3h0m-8 0h0m6-8h0m-10 1h0m-27-2h0m18 8h0m11-7h0m-21-10h0m-23 5h0m38 8h0m44-6h0m-75 12h0m77-9h0m-16 6h0m-2 0h0m-31 1h0m17-3h0m-34-13h0m16 8h0m-22-4h0m15 9h0m-8-8h0m39 1h0m-24 11h0m2-9h0m-37 13h0m34-7h0m-1-13h0m-22 0h0m-17 3h0m46 12h0m21-12h0m-20 9h0m11 0h0m36-10h0m-70-3h0m10 17h0m-13-11h0m46-4h0m-26 13h0m-10-1h0m21-12h0m-21 0h0m14-1h0m-7 19h0m11 0h0m38-16h0m-30 3h0m-28 18h0m3-9h0m39-10h0m-16 6h0m-62-3h0m49 1h0m6-9h0m-30 14h0m-12-4h0m80-7h0m-81 7h0m48 10h0m-27-20h0m45-1h0m-46 24h0m35-7h0m-49 4h0m62-11h0m-45-7h0m28 14h0m-37 1h0m15-14h0m9 14h0m28-7h0m-24-8h0m7 14h0m-31 0h0m42-10h0m-28 1h0m26-6h0m-50 16h0m3-7h0m38-4h0m1-3h0m-16 4h0m38-5h0m-56-2h0m9 7h0m2 5h0m-42-8h0m70-1h0m-16 7h0m-23 7h0m33 2h0m-4-15h0m30 7h0m-55-6h0m7 11h0m9-5h0m-34 3h0m43 1h0m-32-7h0m38-6h0m-18-1h0m-32 17h0m-10-4h0m68-6h0m-26-4h0m-38 14h0m6-17h0m35 11h0m30-1h0m-38 14h0m18-11h0m4 5h0m-11 0h0m-13-17h0m17 9h0m-13 15h0m1-15h0m6-9h0m43-2h0m-51 18h0m-16 1h0m-4-16h0m-13 13h0m43-14h0m-4-2h0m-31-1h0m23 20h0m10-16h0m24 10h0m-14-9h0m-18 2h0m12-6h0m-37 12h0m42-11h0m-6 12h0m35 0h0m-77-1h0m32 5h0m24 1h0m-46-3h0m19 7h0m27-21h0m9 6h0m-18-2h0m-40 16h0m-3-3h0m36-9h0m0-7h0m4 2h0m3 7h0m-27 8h0m32-19h0m-39 14h0m28 0h0m-44-6h0m43-3h0m-4 20h0m-31-14h0m19-12h0m20 20h0m-23-19h0m9 14h0m7 5h0m-15-7h0m2 13h0m26-22h0m-45 7h0m72-2h0m-43-7h0m45 11h0m-21 3h0m-32-14h0m25 3h0m-25-1h0m-19 15h0m32-18h0m0 13h0m-1-4h0m12 1h0m-57-11h0m34 1h0m8 15h0m-44-14h0m75 7h0m-50 3h0m-25-6h0m12 14h0m1-11h0m16-1h0m-29 0h0m46-3h0m-16 3h0m-17 6h0m26 8h0m19-16h0m-16 1h0m45-8h0m-14 14h0m-28 5h0m-21-7h0m6 8h0m12-1h0m-25-2h0m49-7h0m-48 4h0m42-10h0m-29 13h0m6-7h0m-1 16h0m-28-6h0m20-17h0m19 7h0m-34 1h0m42-7h0m-33 9h0m-14-10h0m20 10h0m14-2h0m0 12h0m-9-15h0m52-1h0m-70-1h0m19 3h0m-4 2h0m38 3h0m-23 1h0m22-13h0m0 3h0m-39 9h0m42-10h0m-8 3h0m-39-4h0m20 23h0m-25-8h0m9-2h0m34 1h0m-35-16h0m41 7h0m1 0h0m2 9h0m-12-12h0m-30 19h0m-18-5h0m52-13h0m4-4h0m-50 4h0m38 18h0m-41-2h0m4-4h0m33-4h0m-23-1h0m43-5h0m-34 3h0m-32 7h0m59-7h0m-37 8h0m66-6h0m-85-3h0m-15 6h0m84-14h0m8 3h0m-10-2h0m-31 8h0m-11 4h0m-16 2h0m39 5h0m-24-4h0m7-18h0m25 15h0m16 4h0m-57-9h0m-2 0h0m3 13h0m39-13h0m2 2h0m-11 11h0m-17-5h0m49-7h0m0-1h0m-30-4h0m19 7h0m-55-8h0m-20 12h0m73-7h0m-33-7h0m37 0h0m6-1h0m-61 6h0m-9-1h0m26 19h0m-21-21h0m53 4h0m-25 9h0m-24-2h0m55 1h0m-63-5h0m30 1h0m27-11h0m-27 16h0m-16-17h0m12 24h0m25-23h0m-47 17h0m46-18h0m-53 11h0m75 4h0m-62-7h0m1 9h0m33-17h0m-6 16h0m-46-6h0m14-10h0m70 0h0m-33 23h0m-57-18h0m91 8h0m-75-3h0m34 15h0m-10-8h0m46-3h0m-31-1h0m-42 3h0m59 2h0m-73-10h0m68 5h0m13-12h0m-48 7h0m-21 2h0m46 11h0m-37-12h0m14-3h0m10-1h0m-4-4h0m9 23h0m-15-8h0m41-13h0m-59 4h0m18 17h0m17-20h0m1 0h0m-31 13h0m-9 2h0m17-3h0m16 5h0m-4-11h0m-19 11h0m42-9h0m-33-3h0m-29-2h0m54 6h0m38-6h0m-68 6h0m17-5h0m32 11h0m19-4h0m-32 0h0m6 0h0m2-4h0m-19 3h0m18-15h0m-15 19h0m15-15h0m-52 5h0m-12 10h0m20-8h0m56 4h0m-57 6h0m65-10h0m-47 12h0m-15-12h0m50-6h0m-33 0h0m-28 18h0m4-2h0m64-5h0m-49 3h0m23-2h0m-52-16h0m42 23h0m-1-1h0m7-5h0m-16 1h0m-9-13h0m6 4h0m10 0h0m-25-6h0m46 11h0m-52-15h0m44 6h0m10 7h0m-60-7h0m51 17h0m-23-17h0m13 15h0m13 1h0m-4-1h0m3-7h0m23-2h0m3-1h0m-49 17h0m22-21h0m-29 0h0m-26 6h0m40-6h0m12 3h0m-33 4h0m24 9h0m-8-18h0m-11 6h0m42 7h0m-11-18h0m-18 1h0m-33 11h0m48 13h0m12-14h0m-35 1h0m-15 1h0m-11 7h0m20-6h0m26 3h0m-49-5h0m12-4h0m41 4h0m19 0h0m-13 2h0m1 7h0m-34 5h0m-8-18h0m11-5h0m44 5h0m-32-5h0m-13 17h0m7-3h0m12 5h0m27-2h0m-38 2h0m9 2h0m-17-7h0m11 7h0m-17-12h0m30 2h0m11-3h0m-14-4h0m21 4h0m-74-7h0m66 5h0m-48 7h0m30 10h0m19-22h0m-4 19h0m-7-20h0m6 8h0m-20-11h0m-5 7h0m21 15h0m-41-2h0m59-19h0m-23 7h0m-2 3h0m15-5h0m-13-5h0m-31 21h0m-13-4h0m49-18h0m-30 23h0m-4 1h0m16-17h0m49 10h0m-27-2h0m-41 0h0m11-4h0m-24 4h0m64-11h0m-13 6h0m-31-9h0m-7 4h0m39 17h0m-41-11h0m21 16h0m6-1h0m-18-7h0m-28-17h0m6 1h0m42 3h0m-12 4h0m43 8h0m-13-5h0m-42-6h0m44 11h0m-43 6h0m20-16h0m-17 14h0m13-20h0m-11 21h0m-13-9h0m46 7h0m-35-5h0m17-15h0m11 3h0m-1 11h0m-9-14h0m-8 0h0m17 7h0m12 13h0m18-20h0m-70 19h0m-23-3h0m49-7h0m21-9h0m-15 25h0m5-13h0m15-12h0m-59 17h0m6-17h0m-4 9h0m40-1h0m-41 4h0m45 9h0m-59-20h0m41 2h0m33 15h0m-66-5h0m51-9h0m-13 19h0m-39-10h0m71 1h0m-51 0h0m-11-12h0m8 5h0m60 4h0m-7 2h0m-10-9h0m8 0h0m14 1h0m-15 8h0m24-3h0m-32 12h0m-23-14h0m64 0h0m-84-8h0m18 5h0m25 4h0m-36-7h0m29 17h0m-3-19h0m16 6h0m-36 15h0m72-16h0m-57 2h0m48-2h0m-51 17h0m25-2h0m-70-4h0m69-11h0m-8 0h0m4-1h0m1 2h0m-19-1h0m-5 13h0m11-1h0m-2-10h0m33 6h0m-17 4h0m20-10h0m-61 12h0m-11-18h0m6 14h0m-11-8h0m65 11h0m2-1h0m-7 1h0m0 1h0m-41-9h0m-5 3h0m9-6h0m-9-7h0m47 12h0m-17-6h0m-25 8h0m-5 8h0m49-12h0m-53-5h0m-12 12h0m8 3h0m-6-16h0m14-5h0m-5 11h0m-4-3h0m0 11h0m25 3h0m48-13h0m-30-4h0m-35 2h0m19 10h0m47-9h0m-54-4h0m10 17h0m-40-8h0m21 10h0m18-8h0m-5 2h0m18 1h0m-11-3h0m-4-11h0m0 24h0m45-25h0m-2 11h0m-22-6h0m-26 16h0m-6-11h0m16 0h0m-14-2h0m4 6h0m-8 6h0m-15-10h0m8-6h0m4-5h0m-8 12h0m22 9h0m2 1h0m-18-13h0m22 13h0m29-23h0m9 7h0m-69-7h0m40 8h0m-42 0h0m45 7h0m-4-2h0m6 3h0m-41-1h0m50 4h0m20-8h0m-51 16h0m23-9h0m-4-2h0m40-16h0m-37 13h0m-8-1h0m-41-10h0m62 3h0m29-5h0m-71 4h0m-3 8h0m57-13h0m-2 2h0m-9-1h0m-26 3h0m18-3h0m-33 4h0m49-4h0m-69 21h0m-4-7h0m24 12h0m4-4h0m-14-22h0m44 7h0m-29 15h0m1-9h0m37-13h0m-70-1h0m23 22h0m13-19h0m-47 7h0m78 11h0m-22-6h0m-49-5h0m69 10h0m-7-3h0m-4-15h0m-18 14h0m7 9h0m-8-16h0m40-4h0m-64 11h0m20-14h0m-19-1h0m2 6h0m25 9h0m40-8h0m-48 14h0m20-12h0m-19 17h0m42-11h0m-60-6h0m75-6h0m-5 8h0m-79-6h0m30 14h0m17-11h0m-57 2h0m65 12h0m-57-12h0m54 4h0m-43-10h0m8 0h0m-5 9h0m28 4h0m42-14h0m-48 10h0m32-6h0m-52-4h0m38 5h0m-38 15h0m27-7h0m-31-3h0m74-13h0m-102 13h0m13-8h0m6 10h0m77-9h0m-7 1h0m-54 2h0m58-2h0m-18 11h0m-15 6h0m23-19h0m-5 16h0m-35-7h0m-32-5h0m56-9h0m15 3h0m-54 8h0m67 5h0m-6-4h0m-69 2h0m-9-11h0m52 12h0m4 4h0m-23-19h0m9 3h0m34 3h0m-1-5h0m-29 21h0m-10-17h0m47 7h0m-10 1h0m-45-11h0m67 1h0m-51 6h0m3 2h0m31-7h0m-80 8h0m76 0h0m-12 5h0m-23-15h0m28-3h0m-73 13h0m50-8h0m-17 2h0m6 12h0m-26 2h0m62-12h0m30-4h0m-47 6h0m-38-1h0m41 14h0m8-8h0m-3-3h0m14-2h0m-37-7h0m26-3h0m-51 14h0m46 1h0m-2 0h0m-33-7h0m44 1h0m-44 2h0m-3-6h0m23 16h0m-13-4h0m-30-15h0m45 0h0m-29 1h0m8 3h0m22 3h0m-3 2h0m-34-11h0m78 3h0m-44 12h0m-15 5h0m49-18h0m-19 16h0m15-12h0m-61 1h0m32 14h0m-7 2h0m-27-10h0m20-14h0m31 19h0m-43 1h0m38-11h0m12-6h0m-1 3h0m-2 9h0m19-14h0m4 8h0m14-8h0m-106 14h0m69-12h0m-60 10h0m3-9h0m74-4h0m-19 9h0m24-1h0m-12 2h0m-69 9h0m53-13h0m-50 1h0m17 11h0m62-7h0m-44 14h0m-5-17h0m-17 11h0m56-8h0m-9 9h0m-46-9h0m-16 8h0m39-10h0m16 13h0m-59-6h0m68-5h0m8 3h0m8-1h0m-44 8h0m-3 6h0m29-10h0m-74-16h0m23 0h0m3 18h0m4-16h0m7 5h0m47 10h0m-46-14h0m37 12h0m-28 11h0m-27-24h0m-9 3h0m7 11h0m-9-10h0m19 18h0m56-15h0m-73 1h0m43-3h0m19 8h0m12 0h0m-64 7h0m36-17h0m24 11h0m-28-11h0m42 1h0m-27-5h0m-41 13h0m13-9h0m56-4h0m-24 7h0m-55 2h0m56 8h0m-2-6h0m-69 6h0m73-6h0m-37 1h0m35 1h0m12-3h0m-37-2h0m-31 12h0m-4-20h0m50 18h0m23-10h0m-35 14h0m-27-6h0m65-4h0m-42 2h0m34-1h0m-5-9h0m-18 14h0m11-16h0m-41 0h0m48 12h0m6-9h0m-21 8h0m-32-15h0m37 17h0m-46-4h0m72-3h0m-50 2h0m62-5h0m-69 16h0m-4-18h0m47-4h0m-52 15h0m65-9h0m-67 2h0m55 6h0m21-7h0m-96-2h0m12-2h0m77 0h0m-48 22h0m20-10h0m-40 2h0m3 2h0m3-16h0m61 8h0m-76 5h0m6 5h0m38 0h0m-41-18h0m63 9h0m-2-9h0m-52 3h0m37 1h0m-25 10h0m27-15h0m-5-1h0m-58 10h0m78-11h0m-27 18h0m-47 2h0m34 5h0m-16-6h0m4-16h0m28 5h0m20-7h0m13 1h0m-14 18h0m-40-7h0m26-5h0m-28 7h0m19-38h0m1-6h0m0-4h0m-8 31h0m-19-61h0m11 81h0m-11-79h0m-1 11h0m8 42h0m-2 1h0m14 17h0m-1-1h0m-18-34h0m5 12h0m19-16h0m5-30h0m-4 35h0m3 3h0m-5-5h0m-22-12h0m-2 20h0m3 13h0m-2-31h0m20 29h0m2-9h0m-19-15h0m5 41h0m18-13h0m-25-13h0m1-21h0m3 35h0m2-10h0m-2 0h0m0 4h0m20-5h0m-13 32h0m17-37h0m-1 7h0m-3-19h0m3-23h0m-25 13h0m1 5h0m24 8h0m-19 26h0m13-13h0m1 12h0m1-20h0m-20-3h0m6 33h0m17-52h0m-26 3h0m13 69h0m-13-6h0m27-42h0m-29-44h0m3 19h0m26 27h0m-23-6h0m1 10h0m24 38h0m-1-62h0m-7 31h0m-18-20h0m-5 32h0m7-34h0m-2 6h0m25-29h0m-30 12h0m26 8h0m-1 31h0m-25-7h0m5-9h0m-2 10h0m26-51h0m-22 45h0m-4 24h0m19-19h0m-14-10h0m22-13h0m-24 8h0m17 43h0m-15-33h0m15 10h0m-19-12h0m21-5h0m-17 1h0m22 8h0m-24 2h0m25-61h0m-25 66h0m13 30h0m-10-33h0m-1-3h0m22 5h0m-30-12h0m3 11h0m-1-48h0m25 43h0m-2-14h0m-16 12h0m15-1h0m7-23h0m-4-11h0m-3 35h0m5-25h0m-28 31h0m28-27h0m-23 14h0m-2 47h0m19-49h0m7 31h0m-2-35h0m-6 23h0m6-9h0m-28-23h0m28-1h0m3-37h0m-6 56h0m3-31h0m1 17h0m-1-16h0m2-10h0m-8 50h0m-21 27h0m24-32h0m-14 11h0m-4-5h0m0-10h0m24-32h0m-30 22h0m28-22h0m-1-5h0m-27 0h0m24 45h0m-16 9h0m19-58h0m1 10h0m0 11h0m1 56h0m-22-22h0m-4-34h0m0-6h0m-2 36h0m27-35h0m-5 20h0m-14 16h0m-7-3h0m22-23h0m-21-7h0m21 19h0m5-48h0m-1 15h0m-29 21h0m1-19h0m29-18h0m-24 47h0m8 47h0m-6-37h0m-3 13h0m16-8h0m-19 8h0m4-33h0m12 47h0m-8-18h0m-9-27h0m18 50h0m-1-1h0m8-62h0m-18 38h0m16-15h0m-21-14h0m-2-34h0m5 38h0m2 22h0m-7-52h0m24 50h0m-16 4h0m22-44h0m-27 27h0m2-12h0m-1 32h0m21-8h0m-5 5h0m-13-11h0m1 14h0m22-54h0m-21 49h0m13-1h0m-21-41h0m29 37h0m-21 8h0m19 16h0m-22-15h0m-7-45h0m0-13h0m26 41h0m1-24h0m-13 72h0m-13-60h0m22 13h0m4 6h0m-18 10h0m-5-32h0m25-11h0m-28 15h0m0 14h0m2-1h0m20 8h0m-18-16h0m-5-31h0m24 33h0m-24-22h0m27 18h0m-6 25h0m5-26h0m1 27h0m-25-40h0m0 29h0m0-37h0m22 22h0m7 14h0m-27-34h0m19 36h0m-22-31h0m6 17h0m-7-13h0m6 7h0m-3 31h0m0-40h0m25 11h0m-24 6h0m18 19h0m-19-25h0m25-22h0m2 46h0m1-37h0m-30-12h0m29 10h0m-26 44h0m25 12h0m-2-31h0m-26-44h0m8 76h0m18-28h0m-18 7h0m-3-13h0m23-4h0m2-36h0m-1 9h0m-28 42h0m26-20h0m1-18h0m0 33h0m2-22h0m-8 37h0m-1-10h0m-18-23h0m-4-37h0m25 47h0m-16 8h0m0 25h0m-7-12h0m0-7h0m26-28h0m-5 17h0m0 28h0m0-12h0m-23-18h0m27 1h0m-23 3h0m-2-12h0m-2 6h0m3-15h0m6 39h0m18-31h0m-27-38h0m25 66h0m-4 2h0m7-8h0m-14 34h0m9-30h0m-22-38h0m25 4h0m-15 37h0m-4-12h0m-5-24h0m0-21h0m5 59h0m-5-20h0m-2-20h0m21 37h0m5-17h0m-17 7h0m-9-55h0m6 36h0m21-7h0m-25 21h0m24-18h0m-24 7h0m23 3h0m3 0h0m-28 0h0m30-12h0m-27 24h0m3-12h0m21 18h0m-25-16h0m4 8h0m1 5h0m15 23h0m7-26h0m-8 14h0m-11 11h0m19-54h0m-6 62h0m3-46h0m-2-1h0m-17 27h0m-4 21h0m25-77h0m-19 54h0m22-23h0m-29-8h0m28-13h0m-25 14h0m23 25h0m-22-1h0m-6-35h0m25 15h0m-21 19h0m-3-28h0m29-10h0m-29 2h0m26 2h0m-18 39h0m-5-20h0m20 20h0m-15-5h0m-6-27h0m-2-22h0m29 10h0m-4 48h0m-4-15h0m3 2h0m2-20h0m-16 44h0m2 13h0m-2-2h0m18-33h0m-28-35h0m29-15h0m-20 55h0m19-42h0m-2 7h0m0 9h0m-26-32h0m27 44h0m-20 2h0m20 18h0m1-27h0m-27-18h0m26 43h0m-1-23h0m-22 17h0m-3-47h0m22 52h0m7-67h0m-2 44h0m-24 23h0m24-27h0m-7 20h0m-61 30h0m109 3h0m11-8h0" stroke="#000" stroke-width="4.6" stroke-linecap="round" fill="none"/>
<path d="M1258 1355h0m3 4h0m-2-13h0m-34-2h0m13-13h0m21 19h0m-9 5h0m-10-17h0m15-16h0m-1 28h0m7-16h0m-11 19h0m11 1h0m-9-10h0m3 4h0m6 1h0m-24-1h0m5-2h0m-16 3h0m35-17h0m-5-15h0m-2 10h0m-10-61h0m16 73h0m0-9h0m-7-19h0m-2-20h0m-42 62h0m52-18h0m-4-29h0m-12 37h0m11-62h0m-11 48h0m-20 5h0m33-12h0m-2 25h0m-17-11h0m-14 18h0m35-4h0m-15-50h0m8 45h0m6-18h0m-12 29h0m-13-2h0m18-54h0m-2 54h0m-17-51h0m-12 38h0m36 2h0m-2-12h0m-18 2h0m23 24h0m-7-4h0m3-55h0m-9 8h0m6 16h0m-11-2h0m-15 30h0m30-16h0m0 6h0m-4-6h0m4-21h0m-34 16h0m34 26h0m0-13h0m1-4h0m-1-20h0m-16-30h0m18 55h0m-8-44h0m1 49h0m-10 4h0m18-43h0m-3-11h0m-1 1h0m-24 42h0m24 1h0m3 7h0m0-5h0m-11 2h0m4 5h0m4 2h0m-15-4h0m14 7h0m-1-73h0m-4 52h0m8 19h0m-7-3h0m6-6h0m2 11h0m-5-33h0m-14 33h0m21-124h0m-7 111h0m-13 5h0m20-64h0m-25 53h0m23-13h0m-6 22h0m-6 3h0m3-12h0m4 12h0m-1-66h0m7 76h0m-8-22h0m9 14h0m-31-8h0m26-29h0m-3 16h0m-22-3h0m18-11h0m11 0h0m-7 26h0m-11 1h0m7-5h0m4 16h0m-3-12h0m-11-36h0m17-33h0m-7 10h0m-4 38h0m-3 38h0m17-42h0m2 11h0m0 33h0m-2-66h0m-3 24h0m2 38h0m0-32h0m-7 20h0m10-1h0m-10 5h0m2 9h0m4-5h0m2-6h0m-6-49h0m-13 60h0m3-3h0m18-78h0m-4 72h0m-21 11h0m2-9h0m20-11h0m-1-5h0m-1 17h0m-16-26h0m18 11h0m-13-6h0m12 8h0m-17 11h0m3-20h0m3 15h0m9-34h0m-18-30h0m14 75h0m10-45h0m-2 49h0m0-29h0m-3-23h0m-4 20h0m-1 8h0m-6 8h0m8-11h0m7-8h0m-5-33h0m4 41h0m-22-7h0m12-31h0m-3 21h0m9-49h0m-1 91h0m-5-8h0m7-14h0m-2 5h0m1-67h0m-9 61h0m5 22h0m4-61h0m-32 42h0m19-7h0m13-12h0m-1-24h0m2 9h0m0 37h0m-9-19h0m-6 30h0m14 8h0m-2-12h0m7 0h0m-2-27h0m1-13h0m-17 39h0m-10-36h0m20-9h0m4 27h0m-9-10h0m0-29h0m-3 40h0m16 8h0m-2 5h0m0-4h0m-11 2h0m-16 12h0m20-41h0m9 35h0m-26-17h0m10 21h0m15-25h0m-2 28h0m-35-24h0m23 22h0m5-22h0m4 5h0m7-8h0m-10 12h0m9 2h0m-9-140h0m2 150h0m-4-4h0m11 8h0m-9-30h0m-36-21h0m35 40h0m-32 6h0m32-60h0m-41 20h0m48 23h0m-1-23h0m-11 0h0m-2 34h0m3-4h0m12 6h0m-4-44h0m-2 31h0m3 14h0m-5-89h0m7 83h0m-3 1h0m3-37h0m-9 51h0m-30 3h0m33 0h0m-3-60h0m-11 56h0m19-9h0m-11-4h0m4-25h0m-5 29h0m11-1h0m4-23h0m-17 12h0m9 26h0m10-42h0m-14 16h0m-29-16h0m28 23h0m3-4h0m1 4h0m-3 3h0m13-2h0m-21-68h0m5 63h0m8 6h0m-7 5h0m12-27h0m-8-30h0m9 39h0m-9 21h0m3 3h0m4-26h0m-3 28h0m-9-25h0m-5-14h0m7-46h0m8 47h0m-11 18h0m15-50h0m-17 21h0m9 51h0m9-46h0m-1-22h0m-6 27h0m-1 12h0m9 5h0m-1-20h0m-6 36h0m-26 2h0m23-12h0m-10-64h0m0 68h0m19-46h0m-17 40h0m-18 20h0m29-83h0m3 82h0m-4-10h0m-7-51h0m4 40h0m9-38h0m-5 45h0m-2-47h0m4-1h0m-10 43h0m-5-32h0m1 38h0m14-11h0m3-4h0m-2 9h0m-3-2h0m-3-72h0m-7 25h0m-3-11h0m4 67h0m10-13h0m4 16h0m-2 6h0m1-3h0m-6-40h0m6 4h0m-9 46h0m0-45h0m-12 12h0m19 16h0m0-23h0m1 23h0m-11 6h0m-4-28h0m9 10h0m6 29h0m-2-17h0m1 10h0m-1-1h0m-2-13h0m2 16h0m1-53h0m-3 4h0m3 50h0m1 3h0m3-45h0m1 17h0m-20-28h0m9 30h0m-9 11h0m-1-54h0m0 55h0m9 2h0m12 12h0m-9-62h0m8 60h0m-1-2h0m-6 1h0m-7-62h0m-7 53h0m15-20h0m-2 25h0m7-17h0m1 0h0m-26 9h0m23 11h0m4-70h0m-12 54h0m-7-14h0m-17-9h0m36 20h0m-15 9h0m-7-10h0m12-23h0m-10 33h0m17 11h0m-20-1h0m12-3h0m-44-44h0m50 40h0m-16 2h0m16-17h0m2 13h0m3 14h0m-23-14h0m-1-54h0m-4 59h0m21-13h0m-7-3h0m0-12h0m3-4h0m3 15h0m6-1h0m2-127h0m-4 133h0m-7 4h0m-20-8h0m25 15h0m-11-2h0m15-25h0m-3-34h0m-10 57h0m-5 4h0m20 3h0m-30-24h0m22-5h0m-14 1h0m22-4h0m-7 30h0m4-52h0m-21 15h0m4-21h0m11 38h0m10 6h0m-25-54h0m4 1h0m16 37h0m-2-14h0m5-20h0m-20 57h0m6-15h0m1 17h0m14-30h0m-62 34h0m48 4h0m0-83h0m-5 59h0m12 7h0m7-38h0m-22 40h0m-27 14h0m27 6h0m-10-6h0m23-20h0m-23-3h0m31 11h0m-1-37h0m-6 33h0m7 10h0m-7 5h0m5-22h0m-1 4h0m-7-8h0m2 13h0m6-64h0m-2 40h0m3-6h0m-5 7h0m1 5h0m-14 25h0m-1 3h0m13 10h0m-18-31h0m26 17h0m-2-65h0m-8 65h0m2 6h0m-14-44h0m5-28h0m11 77h0m7-11h0m-14-23h0m7 36h0m-17-24h0m0-60h0m20 49h0m-17 24h0m16-68h0m-8 64h0m-2 4h0m15 12h0m-11-15h0m-9 8h0m17-22h0m-18-21h0m8 35h0m10 0h0m3 11h0m-12-86h0m-2 78h0m-1-5h0m-18-3h0m5 4h0m1 6h0m16-69h0m8 61h0m1 13h0m0-17h0m-8-12h0m4 32h0m3-8h0m-11-56h0m-4 46h0m-12-5h0m30-6h0m-17-34h0m6 43h0m-5 17h0m2-55h0m12 52h0m-15-79h0m16 71h0m-10-42h0m4 22h0m-2-23h0m-17 26h0m4-14h0m15-15h0m-1 49h0m8-10h0m-1-40h0m-12 29h0m-3 10h0m16-65h0m-8 23h0m-13 27h0m5-41h0m6 50h0m7 21h0m-6-66h0m5 52h0m-9 12h0m6-35h0m5 20h0m-6-33h0m7 39h0m-1-1h0m-5-39h0m-1-11h0m-17-3h0m15 56h0m5-33h0m5 32h0m-12-13h0m-50-60h0m61 17h0m-31 69h0m7 1h0m12-120h0m-57 75h0m40 28h0m-29-53h0m32-81h0m-35 155h0m5-36h0m-26-66h0m39 70h0m-21-47h0m31 80h0m-7-32h0m24 19h0m-17 7h0m15-68h0m-3 28h0m-14-39h0m22 37h0m5-71h0m-35 66h0m30 53h0m5-44h0m-8-46h0m-31 50h0m29-2h0m-9 24h0m18-9h0m-34-115h0m1 78h0m-43-46h0m27 105h0m14-103h0m29-2h0m-4 96h0m16-21h0m-28-21h0m-10-17h0m-20 74h0m54-4h0m-55-83h0m50 77h0m-25-18h0m25 6h0m-31 16h0m36-51h0m0 3h0m-22 25h0m24 11h0m-45-18h0m33 17h0m15 7h0m-4-53h0m-29-15h0m11-36h0m4 77h0m6 4h0m15-177h0m-15 105h0m14-9h0m-8 13h0m1 38h0m8 4h0m-2-102h0m-1 76h0m2 49h0m-3-31h0m4-48h0m-7 46h0m6 17h0m-3-65h0m4 47h0m0 37h0m-9-103h0m3-38h0m4 76h0m2 46h0m-3-167h0m-1 140h0m-3-168h0m2 9h0m-10-9h0m5-19h0" stroke="#5a2fb0" stroke-width="4.6" stroke-linecap="round" fill="none"/>
<path d="M1317 1311h0m-11 40h0m17-13h0m-20 17h0m54-15h0m-21-12h0m-29 31h0m-9-19h0m-2 18h0m-1-11h0m-1 0h0m2-19h0m14 27h0m22-30h0m-16 14h0m20 9h0m0-11h0m-28 16h0m15-13h0m-11 5h0m-15-14h0m2 22h0m14-18h0m-6 4h0m11 4h0m-13-17h0m7 30h0m-8-22h0m-6 25h0m18-76h0m12 12h0m-2 36h0m-26 14h0m9 15h0m-6-10h0m14-15h0m12-22h0m-30 25h0m11 10h0m-2-5h0m-1 8h0m43-22h0m-39 19h0m-2 7h0m9 6h0m-5-2h0m-16-23h0m0-12h0m9 21h0m-9-29h0m41-28h0m-44 6h0m26 35h0m-21 25h0m8 0h0m5 3h0m-10-22h0m25 14h0m-10-7h0m8-7h0m-23-38h0m41 61h0m-38-4h0m-7-15h0m0 7h0m35-15h0m-39 20h0m21-4h0m2-53h0m-21 46h0m7-18h0m2 39h0m19-8h0m3 6h0m-24 1h0m-3-14h0m7 2h0m4 5h0m0-86h0m-9 74h0m2 4h0m-4-25h0m3 15h0m24 22h0m-27-23h0m16 8h0m-13 6h0m38 12h0m-39-2h0m6-6h0m-14-6h0m10 9h0m-2-5h0m-7-11h0m49 18h0m-42-9h0m-2 4h0m-3 2h0m0-42h0m29 42h0m-6-37h0m-14 37h0m23-18h0m-26 20h0m16 2h0m-16-51h0m-2 39h0m0 15h0m-3-3h0m9-55h0m-7 39h0m-4 11h0m12-31h0m13 20h0m-7 16h0m-13-3h0m-5 0h0m13-44h0m-1 40h0m47-11h0m-41 1h0m-9 17h0m-3-7h0m7-26h0m7 20h0m-14-64h0m10 72h0m-17-47h0m14 55h0m9-45h0m-14 35h0m-8-21h0m4 19h0m14 7h0m-11-28h0m-4 19h0m0-12h0m-2-14h0m8 25h0m-11 10h0m32-20h0m-25 9h0m15-20h0m-19 24h0m8-10h0m-4 10h0m-2 1h0m22 4h0m-5-11h0m9 10h0m-3 1h0m-20-10h0m13-13h0m9 19h0m-21-8h0m19-24h0m-26 34h0m2-17h0m9 15h0m84 5h0m-86-4h0m8 1h0m-5-31h0m2 8h0m-14 15h0m2 12h0m9-3h0m2-12h0m22 20h0m-32-2h0m30-36h0m-32 24h0m18-11h0m57 16h0m-54 5h0m2-44h0m-4 41h0m0 4h0m3-14h0m-2 6h0m1-12h0m-7 19h0m-15-12h0m9 11h0m-7-3h0m37 1h0m-17 4h0m12-5h0m-15-13h0m12 13h0m-20-21h0m-13 29h0m34-32h0m-18 21h0m31 9h0m-44-13h0m15-31h0m-3 38h0m-4-18h0m3-73h0m1 80h0m-4-13h0m-5 30h0m-3-20h0m31 1h0m-27-7h0m20 25h0m58-18h0m-76 17h0m4 0h0m39-1h0m-39 4h0m-5-11h0m5 7h0m0 5h0m28-23h0m-16 22h0m36-13h0m-56 4h0m-5 2h0m23-28h0m11 20h0m-22 14h0m23-6h0m-32-12h0m17 13h0m-15-8h0m28 6h0m-7-15h0m14-10h0m-27-12h0m26 0h0m-27 33h0m30 12h0m-40-14h0m14-11h0m-8 18h0m39-11h0m-32 4h0m-14 5h0m58-12h0m-44-5h0m29-8h0m-30 23h0m23-4h0m-27-8h0m-10 4h0m62 19h0m-36-3h0m-17-34h0m0 2h0m33-18h0m-14 17h0m-2 8h0m-24 3h0m13 19h0m3-50h0m5 25h0m-1 7h0m-17 21h0m11-15h0m-4-16h0m9 17h0m-13 2h0m6-19h0m-12 25h0m0 9h0m20-5h0m2-21h0m-14-36h0m8 41h0m0-2h0m-6 6h0m-6-26h0m7 41h0m13-28h0m-16 9h0m4-74h0m1 79h0m4 6h0m-14-65h0m-1 49h0m17 21h0m-11-23h0m2 18h0m22 6h0m-27 1h0m1-5h0m-6-11h0m26-9h0m-21-3h0m1 32h0m18-26h0m-20 5h0m-3-43h0m2 39h0m10-27h0m-9 39h0m-3-8h0m0-3h0m18-25h0m-15 39h0m21-17h0m-12 9h0m8-3h0m-4-18h0m-13 7h0m21 23h0m-21 8h0m4-13h0m7-2h0m7-38h0m-17 44h0m8-35h0m-1 19h0m-9-1h0m7-7h0m6 22h0m2 2h0m-3 10h0m-6-12h0m18 6h0m-18 0h0m18-12h0m-23-49h0m5 37h0m29 22h0m-10-35h0m-26-56h0m22 27h0m-16 6h0m7 46h0m-17-41h0m4 10h0m-4 39h0m19-13h0m5-11h0m-12 13h0m-3 21h0m29-11h0m-23-16h0m41 15h0m-19 3h0m-25-11h0m-9 16h0m25 1h0m-20 3h0m5-29h0m-5 26h0m-5-22h0m13 4h0m-1 0h0m7 19h0m-4 2h0m5-4h0m-12 5h0m-4-16h0m22 0h0m24 7h0m-49-10h0m21-21h0m-8 23h0m13 15h0m2-13h0m-15-25h0m-6 22h0m6 4h0m-8 8h0m-3-36h0m28 35h0m-14-10h0m7-7h0m-6-6h0m17 31h0m-38-21h0m29-16h0m-24 28h0m3 5h0m-3-13h0m-2-26h0m24 27h0m-22-3h0m-1 5h0m17 11h0m-2-3h0m-9 1h0m22-6h0m-29-5h0m9 15h0m14 0h0m-15-10h0m16-1h0m2-3h0m4-43h0m-5 49h0m-27-19h0m34 9h0m4 3h0m-5-13h0m-23 1h0m36 22h0m22-63h0m-45 56h0m-21 2h0m35-43h0m-17 17h0m15 31h0m-12-16h0m-7 19h0m13-21h0m-24-2h0m6 14h0m-11 3h0m15-6h0m11 5h0m-9-31h0m16 28h0m-18-21h0m16 21h0m43-25h0m-61-29h0m-7 58h0m2-108h0m12 116h0m-15-4h0m-4-32h0m24-15h0m44 18h0m-56 34h0m-5-8h0m-5 7h0m2-17h0m29 15h0m-9-14h0m2-25h0m-19 39h0m-6-32h0m5-1h0m0 2h0m20 31h0m-16-16h0m1-8h0m2 24h0m16-8h0m35-11h0m-56-3h0m18 17h0m-15-8h0m-7-57h0m12 35h0m-18 16h0m6-38h0m10 55h0m-11-50h0m-4 8h0m-1 18h0m26 20h0m-7-25h0m-13 31h0m32-4h0m-33-30h0m1 9h0m24-19h0m-21 48h0m25-8h0m-17-4h0m0-52h0m6 50h0m-1-10h0m-19 5h0m16 11h0m-13-4h0m19 2h0m7 7h0m10-16h0m-12-8h0m25 12h0m-55 3h0m12-31h0m-7 21h0m30 1h0m-33 20h0m1-9h0m26-36h0m1-16h0m-27 59h0m24-13h0m29 7h0m-33-10h0m7 4h0m-17-25h0m4 38h0m-11-21h0m20-11h0m15 17h0m-21-17h0m3 11h0m24 7h0m11-18h0m-38 22h0m-15 6h0m45 0h0m-26-35h0m-22 29h0m4 11h0m-4-29h0m27 29h0m-26-17h0m18-11h0m-6 3h0m3 11h0m4 3h0m-14 10h0m8-48h0m-13 41h0m16-19h0m-9 26h0m6-47h0m15 2h0m-26 15h0m5 18h0m-2-11h0m-7 18h0m6-19h0m-2 5h0m9 13h0m-12-11h0m9 2h0m-3 10h0m16-20h0m-15-52h0m14 74h0m-17-16h0m83-55h0m-79 47h0m-3 10h0m-6 6h0m3-30h0m15 27h0m-9 11h0m0-40h0m22-12h0m-11 41h0m10 11h0m-21-26h0m17 9h0m-27 5h0m4-23h0m31 32h0m-23-44h0m29 49h0m-11-31h0m28 19h0m-33 7h0m-10-4h0m1-9h0m0 19h0m-8-54h0m19 37h0m-13-15h0m11-10h0m-19 4h0m6-15h0m6 37h0m-7-14h0m21-7h0m-17-52h0m1 60h0m-13-25h0m1 55h0m10-58h0m11 52h0m-6 3h0m-18-39h0m22 8h0m32-11h0m-51 38h0m18 2h0m-6-11h0m-7-27h0m21 38h0m-16 4h0m27-11h0m-24-14h0m-16-67h0m9 90h0m-8-24h0m30 0h0m11 16h0m-41-11h0m19 20h0m-9 2h0m2-6h0m21-18h0m-17-1h0m5 17h0m4-27h0m-15 6h0m6 19h0m-1-28h0m3 10h0m-10 2h0m-5-9h0m-3 28h0m9-46h0m11 32h0m-21 5h0m62 2h0m-59-4h0m17 18h0m12-18h0m-17-19h0m-15 12h0m34 9h0m-18 4h0m15 3h0m-10-46h0m-14 32h0m-3 5h0m21 5h0m-16 2h0m20-2h0m-27-28h0m1-2h0m31-10h0m11 41h0m-34-44h0m-12 50h0m53-3h0m-44-16h0m-5 14h0m8-30h0m-6 11h0m16-24h0m-17 25h0m10-33h0m-6 52h0m39-4h0m-33-43h0m-11 48h0m9-25h0m4 24h0m-8-12h0m11 5h0m-16-28h0m-2 26h0m21 12h0m17 2h0m-19-39h0m-19-17h0m3 31h0m31 29h0m-19-4h0m7 3h0m-21-40h0m-2 19h0m13 21h0m17-3h0m26 1h0m-35-10h0m-11-13h0m3 6h0m7 1h0m8-7h0m-17-6h0m-2 33h0m9-8h0m-1-3h0m-10-14h0m30-12h0m-16 2h0m1 34h0m10-65h0m-2 59h0m-17-4h0m28-16h0m-28-26h0m28 53h0m-38-31h0m24 14h0m26 8h0m29-11h0m-46 17h0m-22-18h0m87 12h0m-58 3h0m-30-82h0m39 66h0m21-19h0m-25-18h0m-50 42h0m16-11h0m81 6h0m-67-27h0m1 32h0m9-7h0m34 12h0m-42 2h0m-1-8h0m7-33h0m-4 28h0m-8-9h0m51-35h0m-61 45h0m1 20h0m17-61h0m22 0h0m82 35h0m-115-5h0m-20-38h0m30 54h0m67 0h0m-86-6h0m93-13h0m-94 12h0m5 3h0m37-53h0m4 54h0m-24 16h0m-30-9h0m16-53h0m113-9h0m-81 72h0m-29-17h0m23 3h0m-30-16h0m34 23h0m-25-24h0m5 0h0m-26 28h0m30-24h0m-11-9h0m17 20h0m-30-2h0m1 8h0m-6-119h0m53 117h0m18-28h0m-54-36h0m11 72h0m-10-10h0m10 4h0m62 4h0m-87-48h0m53 50h0m-61 5h0m22-38h0m-2 24h0m-4-23h0m0 21h0m2-34h0m-12 28h0m12 4h0m-11-61h0m28-117h0m65 79h0m-19 6h0" stroke="#e0401e" stroke-width="4.6" stroke-linecap="round" fill="none"/>
<path d="M1261.8 1081V1391M1292.9 1081V1391M1122 1362.4H1432.7" stroke="#000" stroke-width="2.0" stroke-dasharray="5 4" fill="none"/>
<path d="M1122 1080V1391H1432.7" fill="none" stroke="#000" stroke-width="2.1" stroke-linejoin="miter" stroke-linecap="square"/>
<path d="M1117.5 1391H1122M1117.5 1329H1122M1117.5 1267H1122M1117.5 1205H1122M1117.5 1143H1122M1117.5 1081H1122M1122 1391V1395.5M1199.7 1391V1395.5M1277.3 1391V1395.5M1355 1391V1395.5M1432.7 1391V1395.5" stroke="#000" stroke-width="2.1" fill="none"/>
<text x="1115.5" y="1398.7" font-size="21.5" font-weight="bold" text-anchor="end">0</text>
<text x="1115.5" y="1336.7" font-size="21.5" font-weight="bold" text-anchor="end">5</text>
<text x="1115.5" y="1274.7" font-size="21.5" font-weight="bold" text-anchor="end">10</text>
<text x="1115.5" y="1212.7" font-size="21.5" font-weight="bold" text-anchor="end">15</text>
<text x="1115.5" y="1150.7" font-size="21.5" font-weight="bold" text-anchor="end">20</text>
<text x="1115.5" y="1088.7" font-size="21.5" font-weight="bold" text-anchor="end">25</text>
<text x="1122" y="1416.4" font-size="21.5" font-weight="bold" text-anchor="middle">-10</text>
<text x="1199.7" y="1416.4" font-size="21.5" font-weight="bold" text-anchor="middle">-5</text>
<text x="1277.3" y="1416.4" font-size="21.5" font-weight="bold" text-anchor="middle">0</text>
<text x="1355" y="1416.4" font-size="21.5" font-weight="bold" text-anchor="middle">5</text>
<text x="1432.7" y="1416.4" font-size="21.5" font-weight="bold" text-anchor="middle">10</text>
<circle cx="1255.5" cy="1355" r="3.5" fill="#e87722"/>
<text x="1127.5" y="1251" font-size="16.3" font-weight="bold">CEACAM19</text>
<text x="1305.2" y="1240.5" font-size="16.4" font-weight="bold">CEACAM21</text>
<text x="1359.3" y="1300" font-size="16.4" font-weight="bold">CEACAM7</text>
<line x1="1182.8" y1="1253.9" x2="1247.2" y2="1344.3" stroke="#000" stroke-width="2.0"/>
<polygon points="1252.4,1351.6 1244.3,1346.3 1250,1342.2" fill="#000"/>
<line x1="1311.4" y1="1241.8" x2="1300.2" y2="1348" stroke="#000" stroke-width="2.0"/>
<polygon points="1299.3,1357 1296.8,1347.7 1303.7,1348.4" fill="#000"/>
<line x1="1358.2" y1="1300.7" x2="1329.4" y2="1348.8" stroke="#000" stroke-width="2.0"/>
<polygon points="1324.8,1356.5 1326.4,1347 1332.4,1350.6" fill="#000"/>
<text transform="translate(1075.3,1235.9) rotate(-90)" font-size="28" font-weight="bold" text-anchor="middle">P-value (-log<tspan font-size="13.2" dy="4.8">10</tspan><tspan dy="-4.8">)</tspan></text>
<text x="1278.3" y="1453.3" font-size="28.75" font-weight="bold" text-anchor="middle">Fold change (log<tspan font-size="12.9" dy="5.2">2</tspan><tspan dy="-5.2">)</tspan></text>
<text transform="translate(1501.0,1041.8) scale(0.938,1)" font-size="53.3" font-weight="bold">F</text>
<text x="1734.2" y="1038.3" font-size="28.75" font-weight="bold" text-anchor="middle">ICPN vs NT</text>
<path d="M1797 1389h0m-105-3h0m68 2h0m-23 1h0m3 0h0m5-2h0m-41 1h0m41 1h0m-14 0h0m24-2h0m-13 2h0m2 0h0m-9-2h0m-9 2h0m15 0h0m20-2h0m11 2h0m-26 0h0m5-2h0m34 0h0m-22 1h0m-24 1h0m7-2h0m48 2h0m-50-1h0m1 0h0m28 0h0m-43 1h0m40-1h0m-18-1h0m14 1h0m7-1h0m-45 2h0m-16-2h0m45 0h0m-31 0h0m23 2h0m33-2h0m-15 2h0m9 0h0m-30 1h0m-17-3h0m35 0h0m0 1h0m-32-1h0m23 2h0m-61-1h0m72-1h0m-53 1h0m39-2h0m15 2h0m-63 1h0m25-1h0m37 1h0m11 0h0m-76-1h0m57-1h0m-22 0h0m50 1h0m-63 1h0m35 0h0m-32-1h0m56 0h0m-32 1h0m-39-1h0m78 1h0m-22-2h0m9 1h0m-18 0h0m-22 0h0m-4 0h0m49-1h0m-64 2h0m20-2h0m6 1h0m20-1h0m-41 1h0m-11-1h0m67 0h0m-9 0h0m-37 2h0m21-2h0m-5-1h0m7 2h0m53-1h0m-24 1h0m0-2h0m-80 1h0m39 0h0m19 0h0m-64 1h0m79 0h0m-2-1h0m-54-1h0m7 1h0m23 2h0m14 0h0m32-1h0m-29 1h0m-14-1h0m36-1h0m-9 1h0m-55-2h0m20 0h0m-14 0h0m33 2h0m-25 0h0m-6 0h0m-5-2h0m32 3h0m45-1h0m-68 0h0m-14 1h0m-4 0h0m42-1h0m8-1h0m-20 1h0m3 0h0m-37 0h0m24-1h0m13 2h0m-14-1h0m2-1h0m6-1h0m22 2h0m20 0h0m-86-1h0m67 2h0m-31-2h0m36 2h0m-1-1h0m-20-2h0m33 2h0m-40 0h0m21-1h0m-30 0h0m61 1h0m1 0h0m-58 0h0m12-1h0m13-1h0m-8 3h0m28-2h0m-52 1h0m39 1h0m-38 0h0m-8-3h0m6 1h0m40 0h0m-20 2h0m2-1h0m-42 1h0m54-1h0m-58 1h0m40-3h0m26 0h0m-27 2h0m-11 1h0m8-1h0m5 0h0m-49 1h0m45-2h0m-24 0h0m53 0h0m3 0h0m-73-1h0m41 3h0m15 0h0m-22-3h0m24 0h0m-40 2h0m11 1h0m2-1h0m-10-1h0m22 0h0m53 0h0m-40-1h0m40 2h0m-78-1h0m66-1h0m-42 2h0m-19 1h0m34 0h0m10 0h0m5 0h0m-14 0h0m16-1h0m-24 2h0m37-1h0m-45 0h0m30-1h0m-69 0h0m68-1h0m-62 0h0m77-1h0m-62 0h0m62 2h0m-93 0h0m38-2h0m22 2h0m-47 0h0m23-2h0m37 1h0m13 1h0m-60-2h0m-4 1h0m29 0h0m6 2h0m1-1h0m-14 1h0m-22 0h0m-6-1h0m10 0h0m46 1h0m-38-1h0m-10 0h0m62-2h0m-2 3h0m-30-3h0m16 0h0m34 2h0m-46 1h0m-9-2h0m-56 2h0m38-2h0m35 0h0m25 1h0m-30-1h0m21 2h0m-12 0h0m-62-1h0m76 0h0m-49 1h0m49-2h0m-27 0h0m40 2h0m-54-3h0m37 2h0m-27 1h0m-27-2h0m-15 1h0m4-2h0m47 2h0m-27-2h0m43 0h0m3 3h0m29-1h0m-111 1h0m24 0h0m52-3h0m-55 2h0m-1-1h0m26-1h0m15 0h0m32 2h0m-25-2h0m-44 1h0m48 3h0m18-2h0m-57-2h0m58 1h0m-45 0h0m43 2h0m-8-3h0m-8 2h0m-40-1h0m11 0h0m38 0h0m-17-1h0m-63 3h0m109-2h0m-76 2h0m18-3h0m-31 2h0m68-1h0m17 2h0m-75-1h0m-33 1h0m34-1h0m24-2h0m5 3h0m-41-2h0m-2 0h0m-14-1h0m84 0h0m-15 0h0m31 1h0m-60-1h0m-25 0h0m0 2h0m72 1h0m-89-3h0m58 1h0m-50 0h0m82 2h0m7-2h0m-75-1h0m58 0h0m-40 2h0m30-1h0m-33 3h0m7-4h0m-18 2h0m57-1h0m-59 2h0m14-3h0m-23 1h0m36 1h0m-14-2h0m58 1h0m-21 1h0m-21 2h0m-46-3h0m84 0h0m8 0h0m-87 2h0m3 0h0m-9-3h0m63 0h0m-42 2h0m24 2h0m30-1h0m-62-2h0m-20 0h0m19 2h0m18 1h0m47-1h0m14 0h0m-7-2h0m-58 0h0m-19 0h0m96 0h0m-30-1h0m-53 3h0m61 0h0m-15-3h0m-40 0h0m39 2h0m-67 0h0m-7-1h0m15 0h0m48-1h0m-45 0h0m62 0h0m-57 2h0m-18 0h0m92-1h0m-1 1h0m-14 2h0m-4 0h0m-58-1h0m86-1h0m-98 1h0m3-3h0m84 0h0m-7 1h0m-50-1h0m59 0h0m15 3h0m-61-3h0m30 3h0m27-2h0m-110 0h0m31-1h0m-20 3h0m67 1h0m-14-4h0m26 3h0m-14 1h0m23-1h0m-27-3h0m-77 1h0m26-1h0m78 2h0m-73-2h0m63 3h0m-55 1h0m-21-1h0m-16 0h0m21-1h0m57-2h0m30 3h0m-2-2h0m6 0h0m-12 0h0m3 1h0m-101 1h0m60 1h0m43-2h0m-102-2h0m28 0h0m80 0h0m-39 0h0m-50 3h0m-2-3h0m-1 3h0m-6-1h0m-1 1h0m107-2h0m-108-1h0m54 0h0m-8 4h0m44-4h0m6 0h0m-43 0h0m-64 1h0m9 0h0m79 3h0m-84-2h0m102-2h0m-6 2h0m7 1h0m-59-3h0m-30 3h0m-19-2h0m13 0h0m86-1h0m-95 3h0m11-2h0m-16 2h0m108 0h0m-91-1h0m40 2h0m-48 0h0m113-3h0m-38 3h0m-69-3h0m4 0h0m46-1h0m-55 1h0m87 3h0m-30 0h0m-30 0h0m54-4h0m-74 0h0m9 2h0m-21 0h0m87-2h0m-50 4h0m64-3h0m-89 2h0m14 1h0m91-4h0m-68 4h0m-25-4h0m14 4h0m-31-1h0m-3-1h0m-5 0h0m103-2h0m7 2h0m-68-10h0m0 2h0m15 5h0m-14 0h0m19-7h0m-15 7h0m1-1h0m11-1h0m4 2h0m-22-2h0m1-4h0m2 0h0m15 6h0m-12-2h0m18-4h0m-8 5h0m6-7h0m-22-1h0m2 5h0m-3 0h0m20 2h0m4-5h0m-4 7h0m-16-4h0m2 4h0m15-2h0m-16-3h0m-4 5h0m7 0h0m12-4h0m-17 2h0m18-1h0m2 0h0m-5 1h0m4 1h0m0-4h0m0-1h0m-2 3h0m-2 3h0m7-11h0m-21 6h0m19 3h0m-17-2h0m16 0h0m1-1h0m-14 5h0m16-10h0m-25 0h0m1 4h0m1-3h0m2 6h0m21 0h0m-5 2h0m4 1h0m-22-1h0m22-7h0m0 4h0m-19 2h0m17-1h0m-19 2h0m2-2h0m7 8h0m-10-5h0m19-4h0m4 0h0m0-3h0m-24 4h0m24 3h0m-2-1h0m-17-2h0m18-3h0m-19 6h0m19-9h0m-5 6h0m-1 2h0m-15-4h0m-2 4h0m0-9h0m21 10h0m-17-4h0m19-1h0m-24-3h0m23 1h0m-19 7h0m18-2h0m-16 0h0m1 1h0m18-7h0m-20 7h0m16 0h0m-20-3h0m1 2h0m21-2h0m2-1h0m-23-3h0m1 1h0m0 1h0m1 4h0m15 1h0m4-5h0m-22-1h0m20 2h0m-21-2h0m21 1h0m4 4h0m-24-6h0m5 7h0m-5-4h0m-1 4h0m4 0h0m20-2h0m1-6h0" stroke="#000" stroke-width="5.2" stroke-linecap="round" fill="none"/>
<path d="M1702 1385h0m-15-25h0m-54 9h0m64-2h0m9 14h0m8 0h0m-60-9h0m74-1h0m-26 10h0m-2-8h0m-27 7h0m45-13h0m-35-5h0m22 24h0m-64-23h0m54 23h0m15-4h0m-4-4h0m-14 3h0m-5-3h0m-36 7h0m43-3h0m-9 4h0m-37-4h0m80-7h0m-3 7h0m-19-13h0m2-11h0m-27 24h0m-6 1h0m40-10h0m-2-7h0m-34 17h0m4-1h0m28-2h0m-9 2h0m11-11h0m5 0h0m-13-11h0m14 14h0m-21 3h0m1 8h0m1-22h0m0 20h0m-12 3h0m16-13h0m-14 4h0m30 5h0m-1 0h0m-33-1h0m24-4h0m-10-8h0m16 15h0m-17 2h0m12-14h0m3 11h0m-24-1h0m5 3h0m-11-3h0m14-8h0m-32-2h0m57 12h0m-33-12h0m31 11h0m-16 1h0m3-4h0m4 5h0m-5 0h0m21-12h0m-41 0h0m38-1h0m-46 1h0m24-13h0m4 9h0m-6 15h0m13-15h0m-16 17h0m-4 0h0m34-2h0m-28 0h0m8-22h0m-44 12h0m-2 10h0m7-8h0m35 3h0m10 3h0m0-27h0m-5 23h0m-82-19h0m50 13h0m40-7h0m-32 17h0m27-14h0m-26 3h0m28-11h0m-25 20h0m-11-2h0m39-14h0m-58 16h0m51-15h0m-8 4h0m-20 3h0m39 14h0m-67-38h0m21 37h0m33-10h0m-16 2h0m23-1h0m-51 4h0m50-12h0m0 9h0m-61 0h0m45-1h0m26 9h0m-31-19h0m4 5h0m13 12h0m-54-2h0m51 3h0m23-2h0m-24 3h0m9-4h0m-46 2h0m20 2h0m44-4h0m-12 4h0m-18-14h0m17-5h0m-19 9h0m19 10h0m-1-4h0m-65-17h0m27 15h0m12 0h0m31-6h0m-78 10h0m72 3h0m-26-8h0m28 3h0m-15-15h0m-29 7h0m16 2h0m24 3h0m-62 4h0m65-7h0m-27 10h0m29-6h0m-25 1h0m29 3h0m-41-14h0m31-5h0m-3 11h0m-1-1h0m7-12h0m8 21h0m-7-4h0m8 6h0m-76-14h0m72-13h0m-10-11h0m-33 38h0m44-3h0m-88-10h0m11-26h0m6 29h0m20 1h0m12 8h0m30 1h0m-68-50h0m25 31h0m31 15h0m-24-15h0m51 18h0m-24-4h0m3-7h0m-28 10h0m32-27h0m-19 29h0m22-18h0m-11-4h0m-20-16h0m8 37h0m29-2h0m-35-6h0m20 6h0m14-8h0m-25 7h0m-21 0h0m26 0h0m-5-6h0m0 8h0m-11 2h0m4-8h0m21 3h0m9-29h0m-5 25h0m3-27h0m-40 32h0m4-38h0m15 26h0m22-10h0m-28 26h0m21-3h0m-7-34h0m1 21h0m-26-17h0m40 28h0m-2 6h0m-38-46h0m12 45h0m34 0h0m-29-27h0m-12 23h0m-17 2h0m21-13h0m-45-3h0m7 14h0m63 4h0m-38-6h0m41 0h0m2-6h0m6 3h0m-8-42h0m-21 33h0m18 7h0m1 10h0m-32-3h0m-15-2h0m8-9h0m-14-6h0m55-16h0m-21 27h0m17 6h0m-9-13h0m16 1h0m-30 7h0m1 5h0m-4-37h0m-10 41h0m14-1h0m35-38h0m-64 30h0m60 2h0m-32-4h0m32 8h0m-7-3h0m12-9h0m-18-6h0m-3 8h0m15-18h0m7 29h0m-23 2h0m-20-11h0m25 7h0m-14 1h0m-18-7h0m11-6h0m11 15h0m23-6h0m-21 7h0m16-15h0m-63-8h0m40 17h0m26-4h0m-21 5h0m-29-4h0m53 7h0m-10-18h0m-15 20h0m-21-22h0m20 23h0m-4-1h0m19-6h0m0-2h0m14-14h0m-74 19h0m45 3h0m-5-19h0m10 18h0m-18-17h0m8 5h0m19-10h0m11 18h0m-7 4h0m-16-1h0m22-16h0m-19 3h0m-2 15h0m-8-9h0m-1-2h0m-13-4h0m17 1h0m-20 11h0m-71-17h0m115 3h0m-12 3h0m1 7h0m-13 6h0m9-24h0m-6 20h0m29-14h0m-51 9h0m35 8h0m-20-4h0m34-3h0m-102 9h0m95-10h0m5-14h0m-35 2h0m-16 12h0m-36-10h0m50-8h0m2 27h0m34-5h0m-6-4h0m-26 11h0m35-9h0m-24 2h0m14-7h0m-1 14h0m-48-3h0m40-9h0m-52-8h0m59 15h0m4-5h0m-44-9h0m37 17h0m2-2h0m-62-7h0m62-13h0m-1 24h0m-7 0h0m0-11h0m-11-5h0m17-2h0m-26 9h0m31 5h0m-6-12h0m5 1h0m6 13h0m-1-12h0m-41 12h0m37 2h0m-24-15h0m20 7h0m-114 3h0m109-11h0m-16 5h0m15-1h0m-4-25h0m16 32h0m-28 3h0m19 1h0m13-8h0m-17 1h0m12-10h0m-33 16h0m11-9h0m32 5h0m-14-2h0m-54 0h0m16 7h0m-4-34h0m0 27h0m48-4h0m-9-13h0m8 23h0m-34-14h0m-15 15h0m31-21h0m-33 0h0m29 2h0m-58 20h0m95-3h0m-28 1h0m16-29h0m-9 22h0m-10-4h0m17 6h0m-22-1h0m2 6h0m2-13h0m26-14h0m-62 28h0m3-1h0m35-1h0m14-1h0m-23-4h0m-4 4h0m-63 4h0m-6-20h0m65 12h0m0 3h0m-17-18h0m12 18h0m27 0h0m20-4h0m-16-7h0m-15-28h0m27 36h0m-34 0h0m14-15h0m-18 14h0m26-9h0m-12 2h0m-44-4h0m29-3h0m-12 8h0m36-2h0m16 12h0m-16 3h0m-8-5h0m10-21h0m-13 26h0m6-7h0m27 8h0m-26-4h0m24-17h0m-64 7h0m29-7h0m-8 12h0m22 3h0m11 3h0m-32-3h0m31 4h0m-31-6h0m-9-4h0m10-12h0m38 13h0m-98-7h0m69 10h0m-14 1h0m32-19h0m-1 8h0m0 17h0m-1-25h0m-9 27h0m-18-11h0m-120-8h0m110 0h0m42 7h0m-37 1h0m43 10h0m-23-17h0m-50 1h0m48 6h0m6-12h0m-27 13h0m43 0h0m-28 8h0m28 2h0m-101-3h0m104-11h0m1 2h0m-38-4h0m-23-22h0m30 29h0m11-6h0m0 12h0m-4-7h0m-13 10h0m20-9h0m2-15h0m-41 11h0m-4 9h0m16-2h0m36-24h0m-138 28h0m127 1h0m19 1h0m-7-4h0m-15-2h0m21-1h0m0-12h0m-10-30h0m11 21h0m-54 26h0m38-1h0m10-19h0m-21-8h0m-5 26h0m-30-8h0m42-8h0m-31 17h0m-22-7h0m44-8h0m-12-7h0m-10 1h0m-17 18h0m41-7h0m-7 6h0m-2 4h0m31 2h0m-4-18h0m-42-3h0m18 3h0m12 6h0m13 12h0m2-5h0m-55-1h0m48-14h0m-14 13h0m-14-3h0m-5 11h0m4-3h0m29-7h0m-102-8h0m91 9h0m-34 9h0m42-20h0m-12 1h0m2 6h0m-27 6h0m41-16h0m-60-6h0m41 18h0m-34 10h0m42-2h0m-26-5h0m54 7h0m-86-10h0m52 2h0m36 2h0m-23-12h0m14 10h0m-17 6h0m-16-11h0m37-8h0m-17 20h0m11-4h0m-39 1h0m40-6h0m-18 8h0m4-5h0m-39-20h0m25 16h0m12 6h0m-23-19h0m19 5h0m18 12h0m-12 5h0m-2-5h0m-27-4h0m39-1h0m-18 5h0m20-15h0m-103 13h0m64-24h0m-37 1h0m58-5h0m1 27h0m4 9h0m-2-14h0m-1 12h0m-3-8h0m7-1h0m-37 6h0m19-25h0m-22 31h0m56-5h0m-16-8h0m10 13h0m-54-41h0m50 35h0m-14 0h0m-38-1h0m48 1h0m-27-10h0m32 16h0m-23-8h0m9-16h0m-48 22h0m59-16h0m3-6h0m-1 21h0m-28-2h0m-27 5h0m31-10h0m13-1h0m-14 4h0m-9 4h0m35-2h0m-82 3h0m90-11h0m-50 10h0m6-11h0m0 6h0m44 8h0m-76-16h0m78 14h0m1-4h0m-45 5h0m17-1h0m-26-10h0m-53 4h0m97 6h0m-99-14h0m75 15h0m-28-4h0m-3-23h0m38 9h0m25 5h0m-37 12h0m24-36h0m-9 33h0m-45 3h0m18-4h0m-11-1h0m33-14h0m15 20h0m-9-5h0m14-15h0m-17 4h0m19 4h0m-6 14h0m-38-18h0m2 16h0m9-1h0m7 3h0m-21-17h0m15 9h0m-19-9h0m47-19h0m-30 29h0m14-1h0m-58 1h0m63 1h0m-12-28h0m-19 33h0m50-18h0m-26-4h0m16 21h0m-9-8h0m-21 4h0m1-14h0m-34-1h0m40 21h0m15-4h0m-45-5h0m44-12h0m10-8h0m-20 23h0m-11-5h0m8-4h0m-24 10h0m-3-28h0m48 18h0m17-20h0m-22 28h0m3-22h0m-13 17h0m4-8h0m-14 7h0m-6-16h0m-49 18h0m50 9h0m-36-23h0m42 18h0m8 4h0m35-4h0m-73-7h0m27-22h0m10 24h0m1-2h0m-14 13h0m38-20h0m-36-1h0m12-5h0m15 0h0m12 7h0m-98 17h0m92-6h0m-36 9h0m16-4h0m-21-14h0m24-17h0m23 32h0m-16-31h0m-44 23h0m21-21h0m10 29h0m-13-1h0m7 0h0m-15 1h0m51-23h0m-30 22h0m-14-4h0m7 2h0m5-7h0m7-10h0m8 9h0m4 4h0m-23-11h0m6 8h0m23 7h0m0-8h0m-29 8h0m-3-40h0m27 19h0m-47 22h0m-39-17h0m96 8h0m-7-15h0m-31 28h0m-20-18h0m53 9h0m3 7h0m-6-11h0m-23-14h0m10 12h0m-8 13h0m-4-1h0m21-10h0m-28-3h0m-16 16h0m16-9h0m34 1h0m-56-9h0m51 18h0m-5-15h0m-7-3h0m-34 11h0m43 1h0m18 6h0m-1-2h0m-4-17h0m-40-5h0m48 17h0m-17-4h0m-10-16h0m4 16h0m-48 3h0m57-3h0m-59-3h0m29 14h0m-11-18h0m36 14h0m20-1h0m-25-4h0m-20-1h0m20-2h0m17-13h0m-29 13h0m-49 3h0m63 9h0m-5-51h0m-20 30h0m8-6h0m1 19h0m11-4h0m10 11h0m-14-21h0m8 18h0m-16-11h0m17 6h0m7-2h0m2-9h0m-9 10h0m-10-3h0m-31 13h0m28-30h0m26 2h0m-26 7h0m1 19h0m-16-17h0m-7 14h0m25-37h0m1 33h0m1 5h0m-7-2h0m21-4h0m-7 5h0m-23 3h0m-5-2h0m35-11h0m-51 15h0m-1-12h0m25 5h0m12-25h0m30 28h0m-90 3h0m68-23h0m-48 19h0m23-5h0m27-34h0m-58 34h0m-26 5h0m70-5h0m-20 5h0m-7-5h0m3 8h0m4-11h0m1-10h0m32 20h0m9-14h0m-29 17h0m-13-7h0m27-4h0m3-5h0m-63 4h0m39 3h0m29-1h0m12 7h0m-2 0h0m-11-8h0m-5 3h0m-62-12h0m69 5h0m-28-9h0m-3-4h0m-21 26h0m54-28h0m-31 27h0m-13-9h0m56 2h0m-43-3h0m1-9h0m-18 12h0m44-15h0m0-3h0m9 25h0m-37 2h0m45-6h0m-51-51h0m-18 57h0m-20-3h0m68-8h0m-18-5h0m10 7h0m-4-4h0m5-1h0m27-6h0m-3 7h0m-11 4h0m17-3h0m-43 3h0m-11 3h0m29-9h0m22 5h0m-54 11h0m52-17h0m10-11h0m-44 25h0m22 3h0m-56-38h0m54 2h0m18 23h0m-21-4h0m-10 11h0m37-3h0m-31 3h0m14-8h0m-1 6h0m9 6h0m-20 2h0m-65-41h0m57 32h0m-23-26h0m15 17h0m35 16h0m-22-3h0m-28-9h0m45 9h0m-29-15h0m34 7h0m7 13h0m-13-12h0m3 4h0m-27-3h0m-7-10h0m-40 3h0m48-3h0m11 19h0m13-27h0m-4 15h0m-12 6h0m7-11h0m4-32h0m-29 31h0m13-26h0m16 33h0m-30-1h0m18 5h0m2-1h0m-52 5h0m24-6h0m28-6h0m-1-13h0m6 15h0m-18 14h0m8-1h0m21-18h0m-15-3h0m-14 9h0m10 7h0m-13-7h0m-29 12h0m26 2h0m24-18h0m-24 6h0m18-2h0m18-11h0m4 25h0m-3 0h0m-12-10h0m-47 9h0m53-17h0m-65-37h0m84 51h0m-70-11h0m51-13h0m-32 22h0m-18-17h0m24-44h0m-51 43h0m42 21h0m44-28h0m-105 19h0m74-8h0m-27 11h0m-19-20h0m60 1h0m16 23h0m2-44h0m-21-6h0m-47-7h0m73 48h0m-28-32h0m9-26h0m-14 60h0m28 3h0m-28 4h0m-49-110h0m10 60h0m-7 30h0m32-2h0m21-15h0m-12 32h0m-90-30h0m129 1h0m-88 23h0m52-35h0m-61 37h0m73-8h0m21 21h0m-108-31h0m66-39h0m-95 37h0m90-9h0m7-14h0m-27-177h0m0 30h0m32 2h0m-44 90h0m21-2h0m-63 23h0m90-2h0m12 3h0m-84 32h0" stroke="#5a2fb0" stroke-width="5.2" stroke-linecap="round" fill="none"/>
<path d="M1762 1380h0m30-2h0m-24-1h0m3 5h0m24 2h0m-19-1h0m-7 1h0m63-2h0m-38 3h0m-11-1h0m-9-16h0m8 14h0m28 3h0m-42-20h0m10 14h0m27 4h0m-38-10h0m-4 13h0m27-2h0m-21 1h0m18-12h0m-13 6h0m-5 7h0m29-5h0m4-1h0m-41 2h0m14 1h0m-6-4h0m15 5h0m-9-4h0m4-1h0m-14 3h0m30 3h0m-27-4h0m72 3h0m-54-5h0m2 4h0m-11 2h0m-12-28h0m48 25h0m-35 3h0m16-10h0m-22 9h0m2-35h0m29 32h0m-23 3h0m-5-9h0m-3 8h0m8-1h0m13-9h0m-24 8h0m-7 1h0m41-13h0m-15 15h0m-11-9h0m5 5h0m-10 0h0m-5-1h0m40 7h0m-35-12h0m5-13h0m-8 16h0m53-5h0m-48-1h0m42 5h0m1 3h0m-26 2h0m-25-6h0m15 9h0m-8-9h0m-2 10h0m30-4h0m-22 5h0m-16-3h0m1-9h0m23 10h0m27-7h0m-27 5h0m-1 3h0m-9-6h0m38 5h0m-51-8h0m1 9h0m16-2h0m-3-10h0m15 6h0m-23 2h0m0-2h0m0-13h0m7 11h0m-14 8h0m4-15h0m24 14h0m26-11h0m-44 8h0m52-7h0m-60-6h0m17 15h0m-7 2h0m-7 0h0m34-2h0m-17 2h0m2-10h0m0 6h0m23 5h0m53-1h0m-79-4h0m-13 2h0m-4-1h0m-4-2h0m24 3h0m-13-9h0m0 8h0m-8 4h0m6-13h0m11 2h0m21 4h0m-15-1h0m42 6h0m-49-6h0m-9 7h0m5 1h0m29-4h0m-28-8h0m7 2h0m11 9h0m-5 0h0m-14-3h0m41-3h0m-19 7h0m-11-6h0m36-7h0m-45 12h0m43 1h0m-26-4h0m-30 1h0m32-5h0m-9 8h0m-24-9h0m6 9h0m11-1h0m47-9h0m-42 9h0m-3-5h0m35-1h0m-48-13h0m-4 5h0m55 10h0m-56-14h0m29 17h0m-13-12h0m54 7h0m-38 6h0m12 0h0m-33-2h0m-3 3h0m23 0h0m57-14h0m-85 14h0m14-3h0m-15-3h0m21-9h0m-8 10h0m-14-18h0m5 15h0m-7 7h0m4-7h0m31 6h0m3 1h0m-35-11h0m7 11h0m60-9h0m-56-2h0m10 11h0m2-1h0m70-2h0m-81-3h0m22 3h0m-37-22h0m8 25h0m-8-3h0m6-15h0m18 12h0m28 6h0m-30-4h0m-2-18h0m-12 21h0m-12 0h0m11-4h0m-4-2h0m8 2h0m2 0h0m35 3h0m-49-3h0m19-14h0m3 13h0m49 2h0m-43 4h0m-7 1h0m-8-8h0m7 5h0m-17 3h0m5-9h0m6-2h0m31 2h0m-17 7h0m-1-3h0m82-5h0m-98 5h0m0-4h0m8 2h0m55 7h0m-60-2h0m6-8h0m15-6h0m4 10h0m-13-7h0m11 11h0m-40-1h0m30-8h0m-7 7h0m-19-15h0m96 19h0m-80-23h0m51 15h0m-28-3h0m8 1h0m-21 0h0m-14 5h0m66-1h0m-54-15h0m32 21h0" stroke="#e0401e" stroke-width="5.2" stroke-linecap="round" fill="none"/>
<path d="M1735.1 1072.8V1389.6M1760.4 1072.8V1389.6M1558.3 1386.3H1874" stroke="#000" stroke-width="2.0" stroke-dasharray="5 4" fill="none"/>
<path d="M1558.3 1071.8V1389.6H1874" fill="none" stroke="#000" stroke-width="2.1" stroke-linejoin="miter" stroke-linecap="square"/>
<path d="M1553.8 1389.6H1558.3M1553.8 1310.4H1558.3M1553.8 1231.2H1558.3M1553.8 1152H1558.3M1553.8 1072.8H1558.3M1558.3 1389.6V1394.1M1621.5 1389.6V1394.1M1684.6 1389.6V1394.1M1747.8 1389.6V1394.1M1810.9 1389.6V1394.1M1874 1389.6V1394.1" stroke="#000" stroke-width="2.1" fill="none"/>
<text x="1551.8" y="1397.7" font-size="22.5" font-weight="bold" text-anchor="end">0</text>
<text x="1551.8" y="1318.5" font-size="22.5" font-weight="bold" text-anchor="end">50</text>
<text x="1551.8" y="1239.3" font-size="22.5" font-weight="bold" text-anchor="end">100</text>
<text x="1551.8" y="1160.1" font-size="22.5" font-weight="bold" text-anchor="end">150</text>
<text x="1551.8" y="1080.9" font-size="22.5" font-weight="bold" text-anchor="end">200</text>
<text x="1558.3" y="1416.2" font-size="22.5" font-weight="bold" text-anchor="middle">-15</text>
<text x="1621.5" y="1416.2" font-size="22.5" font-weight="bold" text-anchor="middle">-10</text>
<text x="1684.6" y="1416.2" font-size="22.5" font-weight="bold" text-anchor="middle">-5</text>
<text x="1747.8" y="1416.2" font-size="22.5" font-weight="bold" text-anchor="middle">0</text>
<text x="1810.9" y="1416.2" font-size="22.5" font-weight="bold" text-anchor="middle">5</text>
<text x="1874" y="1416.2" font-size="22.5" font-weight="bold" text-anchor="middle">10</text>
<text x="1779.5" y="1306.2" font-size="16.6" font-weight="bold">CEACAM1</text>
<text x="1809.7" y="1344.2" font-size="16.7" font-weight="bold">CEACAM20</text>
<line x1="1798" y1="1309" x2="1784.8" y2="1373.4" stroke="#000" stroke-width="2.0"/>
<polygon points="1783,1382.2 1781.4,1372.7 1788.2,1374.1" fill="#000"/>
<line x1="1853.6" y1="1344" x2="1838.7" y2="1368.3" stroke="#000" stroke-width="2.0"/>
<polygon points="1834,1376 1835.7,1366.5 1841.7,1370.2" fill="#000"/>
<text transform="translate(1505.5,1235.7) rotate(-90)" font-size="28" font-weight="bold" text-anchor="middle">P-value (-log<tspan font-size="13.2" dy="4.8">10</tspan><tspan dy="-4.8">)</tspan></text>
<text x="1737.0" y="1461.6" font-size="28.8" font-weight="bold" text-anchor="middle">Fold change (log<tspan font-size="13.0" dy="5.2">2</tspan><tspan dy="-5.2">)</tspan></text>
<text transform="translate(1017.1,1516.5) scale(1.078,1)" font-size="46.6" font-weight="bold">G</text>
<text x="1260.6" y="1516.5" font-size="28.5" font-weight="bold" text-anchor="middle">Early GBC vs NT</text>
<path d="M1247 1860h0m9-1h0m35 0h0m-19 5h0m-44-12h0m31 7h0m-12-2h0m15 11h0m-33-2h0m35-4h0m0 3h0m25-3h0m-24 4h0m4-4h0m-38-11h0m71 12h0m-79-5h0m57 3h0m-27-9h0m-11 9h0m5-5h0m-1 13h0m20-14h0m-9 8h0m30-10h0m-63 13h0m18-10h0m32 8h0m-55-15h0m34 6h0m10 2h0m-32 9h0m47 3h0m-16 2h0m16-12h0m-1-9h0m-37 0h0m4 9h0m11-6h0m18 9h0m2-13h0m-29 5h0m2 13h0m-4-12h0m4-2h0m7 5h0m2 3h0m41-7h0m-49 8h0m5-4h0m14-6h0m-27 13h0m11-16h0m7 0h0m15 17h0m-40 2h0m51-7h0m-33-1h0m10 0h0m13-2h0m-3-8h0m7 5h0m-17 2h0m-3-4h0m6 11h0m-25 3h0m42-10h0m-47 1h0m63 8h0m-42 2h0m-19-11h0m57 3h0m-41 2h0m26-8h0m-36 13h0m11-1h0m-27-9h0m14 5h0m17 4h0m47-12h0m-66 4h0m39 3h0m-30-1h0m8-6h0m-25 4h0m0-2h0m13 12h0m-8-12h0m23 0h0m-13-6h0m37 1h0m-21 2h0m0 6h0m19 2h0m-12-5h0m-11 5h0m-1 1h0m0-10h0m22 12h0m-5-4h0m-8 6h0m8-14h0m-25 15h0m20-4h0m-37 0h0m53-4h0m-24 11h0m2-17h0m7 16h0m-11-8h0m-5 9h0m28-15h0m-21-4h0m-19 4h0m25 5h0m-40 3h0m63-10h0m-30 2h0m42 10h0m-2-10h0m-39 13h0m10-6h0m9 1h0m11 4h0m-34-14h0m5 16h0m20-10h0m-18 0h0m9-1h0m-35-1h0m5 12h0m-34-5h0m75-6h0m-46 0h0m40 4h0m-20-13h0m1 5h0m2 7h0m-18-3h0m11 1h0m4 12h0m13-15h0m3-6h0m-29 12h0m30-2h0m-31-8h0m22 5h0m-7-7h0m-2 20h0m7-4h0m-15-12h0m-2 13h0m8-12h0m22-1h0m18 1h0m-32 0h0m-12 9h0m40 0h0m-40 4h0m-9-9h0m42 7h0m-6-17h0m-6 9h0m-5 7h0m19-2h0m-11-9h0m-39 11h0m38-10h0m-12-1h0m12 2h0m-71-5h0m86 8h0m-10-2h0m-22 14h0m-5-6h0m11-9h0m-28 0h0m30-3h0m-10 18h0m-13-4h0m4 0h0m34-12h0m-11-6h0m-11 18h0m15-17h0m17 5h0m-62 5h0m53-9h0m-63-2h0m35 0h0m13 16h0m-33-2h0m-3-5h0m33 9h0m13-5h0m-26-11h0m-6-1h0m48 6h0m-31-3h0m3 10h0m7-5h0m-6 7h0m29-8h0m7 1h0m-32-6h0m-13 4h0m-19-4h0m8 1h0m14 4h0m-2-7h0m1 2h0m10 15h0m-35 2h0m7-14h0m40-5h0m-5 5h0m-26 11h0m35-16h0m-9 6h0m4 9h0m-18-8h0m1-5h0m20 12h0m-26 2h0m5-6h0m16 6h0m19-9h0m-38-7h0m26 7h0m-37 11h0m24-9h0m22 0h0m-22-4h0m-20-4h0m20 9h0m-5 3h0m-12-10h0m0 8h0m-12 2h0m70-5h0m-74-3h0m1-2h0m18 2h0m18-4h0m-34 3h0m29 11h0m-27-9h0m34-4h0m-10 14h0m0-17h0m-4 1h0m17 10h0m-42 0h0m22 3h0m-13-4h0m26-4h0m0-2h0m36 3h0m-23-2h0m-32 14h0m9 2h0m-46-11h0m74-9h0m-51 1h0m11 1h0m25-3h0m7 6h0m-30 14h0m-12-16h0m22 9h0m-3-12h0m-30 3h0m50 5h0m-50-2h0m34-1h0m-20 10h0m2-8h0m-10-6h0m20 14h0m33 2h0m-43-8h0m13-8h0m13 1h0m-24 6h0m-1-5h0m26 3h0m-12 3h0m-19-10h0m44 4h0m-28 12h0m-4-5h0m-12-8h0m8 11h0m8-7h0m-24-4h0m19-2h0m29 2h0m-19 7h0m27-10h0m-24 13h0m2 7h0m25-18h0m-14 8h0m-33 1h0m24-4h0m-33 6h0m43 5h0m-8-11h0m-16 11h0m-4-4h0m-27 2h0m49 2h0m-17-18h0m16 14h0m-26 6h0m-1-13h0m-13-5h0m72 1h0m-29 6h0m-18-5h0m-17 14h0m27-16h0m-48 4h0m39 10h0m16 4h0m-59-5h0m15-11h0m14-4h0m19 2h0m-2 11h0m-31-7h0m1-1h0m-15 11h0m-7-14h0m66 16h0m-22-2h0m39 3h0m-65-3h0m21-12h0m13 8h0m-9 7h0m-41-18h0m26 15h0m51-14h0m-44 8h0m8-8h0m-13-2h0m24 8h0m1 4h0m25-9h0m-49 8h0m30-3h0m-41-3h0m18 8h0m7-12h0m4 8h0m29-1h0m-32 3h0m-22-10h0m7 1h0m6 13h0m9 0h0m13-3h0m-26-1h0m26 5h0m21 3h0m-62 0h0m55-10h0m15-2h0m-52-4h0m-15 8h0m32-6h0m-12 2h0m12 4h0m-22-10h0m7 13h0m-5 3h0m2-12h0m-10 0h0m19 17h0m12-1h0m-54-16h0m48 10h0m-18-13h0m0 2h0m21-4h0m-31 8h0m8-4h0m29 1h0m8 6h0m-44 0h0m43-3h0m-28 2h0m20-6h0m-13 3h0m-1-5h0m-6 6h0m23 11h0m4-3h0m4-13h0m-7 17h0m-27-9h0m50-9h0m-11 2h0m-66 10h0m20-2h0m12-1h0m32 1h0m-29 2h0m10-12h0m-10 15h0m9-1h0m-25-6h0m3-2h0m20-4h0m-6 16h0m25-18h0m-43 7h0m45 7h0m-12-6h0m2 5h0m-15-12h0m23 6h0m-25-1h0m10 12h0m-24-11h0m21-8h0m-8 3h0m13 11h0m28-9h0m10 9h0m-25 3h0m-20-15h0m-11-2h0m10 8h0m-10-4h0m1 6h0m1-3h0m23 2h0m-36-3h0m6-4h0m25 8h0m-2-7h0m-1 2h0m-15 1h0m26 14h0m-21 0h0m-21-15h0m18 6h0m4-4h0m27 6h0m-78-4h0m80-2h0m-42 5h0m22-8h0m10 16h0m-17-7h0m-12-8h0m16 8h0m-31-14h0m54 16h0m-21-13h0m-50 10h0m30 1h0m46-5h0m-25 2h0m-37-1h0m27 3h0m12-7h0m8 4h0m-19 2h0m35-10h0m-28 7h0m-37-7h0m55 2h0m-4 6h0m-17-1h0m-43-4h0m32-3h0m12 11h0m39-8h0m-29-4h0m4 18h0m0-5h0m-31-12h0m-7 2h0m25 17h0m-22-5h0m21 6h0m39-21h0m-50 4h0m58-3h0m-17 6h0m-54-3h0m41 2h0m-48 13h0m41 0h0m-28-19h0m24 4h0m-11-4h0m-15 18h0m25-19h0m-55 12h0m77 3h0m-27-8h0m-25-6h0m67 13h0m-65-1h0m30 0h0m17-12h0m-52 7h0m-20 2h0m76-4h0m-38-5h0m-2 9h0m-15-1h0m21 8h0m7-16h0m12 8h0m-34 11h0m-12-5h0m46 4h0m12-12h0m-20 5h0m23-5h0m3 7h0m-73-9h0m20-3h0m10 19h0m6-19h0m-9 7h0m-25 1h0m41-8h0m-25 10h0m7 0h0m49-8h0m-14 13h0m1-1h0m-8-6h0m-10-1h0m-13-8h0m21 16h0m-15 1h0m21-12h0m-35 8h0m66-13h0m-56 4h0m26 11h0m-34-16h0m17 10h0m-6-9h0m15 8h0m2-6h0m17 16h0m-1-17h0m-29 8h0m21 9h0m8-12h0m-55 0h0m16 14h0m28-20h0m-5 11h0m9-12h0m-55 4h0m10 0h0m25 3h0m6-5h0m-9 7h0m13 5h0m-34 6h0m32-5h0m-5 2h0m-34-7h0m7 2h0m40-8h0m-51-4h0m20 6h0m27-6h0m-8 0h0m0 9h0m-13 2h0m-1-8h0m14 9h0m-24-2h0m39 2h0m-72-11h0m33 6h0m30-4h0m-39 12h0m52-8h0m-16 6h0m-17-7h0m37-1h0m-21 4h0m3 8h0m17-17h0m-51 13h0m51-2h0m4 0h0m-38-1h0m-22 0h0m12 9h0m6-17h0m16 2h0m-19 13h0m-17-3h0m5 2h0m51-16h0m-49 1h0m39 3h0m-34 11h0m3-10h0m-21-5h0m48 15h0m-26-15h0m13 8h0m17 12h0m-33-10h0m55-6h0m-21 11h0m-17 4h0m15-11h0m-1 4h0m23 2h0m-21 0h0m-23 7h0m37-20h0m-36 2h0m13 17h0m-8-18h0m-20 9h0m6-1h0m9-4h0m-37 1h0m77 10h0m4-10h0m11-1h0m-59 9h0m16-8h0m13-5h0m2 18h0m0-6h0m-23-1h0m-28-7h0m24-2h0m7 2h0m7 12h0m-16-3h0m-4-2h0m38-2h0m-63-11h0m41 17h0m-36 0h0m46-9h0m-21 9h0m32-13h0m-45-3h0m6 4h0m6 14h0m-1-13h0m28 13h0m-20-1h0m-7-2h0m-8-5h0m-14-10h0m-10 8h0m49-7h0m-7 0h0m40 1h0m-69 11h0m41-10h0m-31 8h0m5 2h0m30 2h0m-25-3h0m16-10h0m10 5h0m-16 1h0m16-9h0m-16 0h0m-23 3h0m-2 15h0m27-15h0m-27 3h0m59 3h0m-71 9h0m46-14h0m12 5h0m-9 9h0m-14-3h0m-9-11h0m18-3h0m-34 3h0m28 14h0m21-5h0m-15-7h0m-17 6h0m16 0h0m30-4h0m-8-3h0m-51 9h0m-25-12h0m70 15h0m-15-8h0m-48-6h0m83 5h0m-36-1h0m1 9h0m-33 1h0m18-12h0m39-2h0m-18 2h0m-41-5h0m48 1h0m-30 19h0m-25-6h0m-9-7h0m46 8h0m11-3h0m-52 7h0m15 2h0m11-14h0m-15 3h0m25 5h0m1-1h0m21 5h0m-12-5h0m-21-1h0m6-6h0m20 10h0m-25-1h0m-37-8h0m32-2h0m6 2h0m59 3h0m-76-9h0m28 15h0m-8 4h0m7-8h0m-29 3h0m-17-10h0m44 4h0m-26-2h0m57-3h0m0 9h0m-27-11h0m-22 5h0m-8 5h0m16-13h0m59 10h0m-48-4h0m10 2h0m-33 3h0m-2 1h0m19 1h0m-8-2h0m41-8h0m-66-2h0m31 0h0m42 17h0m-16-16h0m-17 16h0m30-6h0m-39-2h0m11-4h0m-43 6h0m76-9h0m-69 10h0m31-11h0m-11 0h0m-8 13h0m62-8h0m-20-6h0m-19 10h0m31 0h0m-52-8h0m9 9h0m28-9h0m-12 2h0m-18 11h0m50 1h0m-12-15h0m-39 1h0m15 13h0m10-11h0m-49 7h0m65-3h0m-47 11h0m57-5h0m-13-10h0m-15 12h0m10-13h0m-45-3h0m20 10h0m-33-1h0m-3 4h0m57-6h0m-16-6h0m15 18h0m-18 0h0m-31-16h0m27 0h0m29 13h0m-18-10h0m-5 8h0m-13-6h0m12-5h0m43 5h0m-64 9h0m49-11h0m-35 5h0m2-12h0m32 8h0m-27 1h0m-13 6h0m31-2h0m-27-4h0m24 5h0m-40-11h0m45 9h0m-14 3h0m-46-12h0m65 8h0m4 9h0m21-4h0m-35-14h0m-38 2h0m4-3h0m9 16h0m30-10h0m-45-2h0m29 3h0m-15-7h0m22 8h0m-2 4h0m21-1h0m-19 3h0m12-15h0m6 18h0m-2-6h0m-11-7h0m-17 9h0m28-11h0m-29-3h0m17 0h0m38 0h0m-76 15h0m7-2h0m19 8h0m34-14h0m-48 5h0m9-5h0m0 7h0m39-11h0m-47 9h0m-8-8h0m29 4h0m-1-1h0m23-3h0m-70 8h0m75 6h0m-65-12h0m61 9h0m-6-3h0m-25 7h0m25-6h0m-36 4h0m-13-9h0m40 5h0m5-5h0m-55 3h0m9-6h0m19 4h0m12-8h0m-10 14h0m-20-12h0m42 3h0m-10 12h0m-20-16h0m-25 4h0m71-6h0m-43 18h0m35-9h0m-15-7h0m-15 9h0m17 8h0m-29-5h0m26-3h0m1 0h0m-54 7h0m21-18h0m20 5h0m14 12h0m-3-17h0m21 11h0m-31 0h0m0-3h0m2-8h0m-26 8h0m-24 3h0m46-5h0m8 9h0m-27 3h0m12-18h0m32 5h0m-26 3h0m-16-2h0m22 9h0m-1 4h0m-33-3h0m38-8h0m32-8h0m-26 21h0m-13-1h0m27-14h0m-16-5h0m-45 5h0m59-5h0m-32 15h0m21-3h0m10-2h0m0-9h0m3 0h0m-24 3h0m-22-4h0m15 4h0m-7 11h0m-17 2h0m60-11h0m4-3h0m-13 2h0m-52-3h0m62-3h0m-15 11h0m-11-11h0m8 12h0m-13 0h0m-9-4h0m-11-5h0m-5 13h0m-7-16h0m-2 10h0m66 0h0m6 5h0m-45-3h0m-6 0h0m33-2h0m23-1h0m-55 10h0m-1 2h0m29-2h0m-37-4h0m31-5h0m-27 6h0m38-1h0m5-13h0m-53 4h0m55-6h0m-65 6h0m16 8h0m19-9h0m34 1h0m-62 6h0m63 2h0m-47-10h0m20 1h0m-14 0h0m3 5h0m20-6h0m2 0h0m-8 15h0m-4 2h0m-6-10h0m13 3h0m7-10h0m-7 7h0m-36-6h0m33-1h0m16 0h0m-62 9h0m13-3h0m59-2h0m-9 7h0m15-9h0m-33-1h0m3 11h0m-50-9h0m73 10h0m-27-16h0m-45 3h0m24-4h0m31 13h0m21-2h0m-27 7h0m-30-1h0m29-8h0m-26 4h0m24-6h0m-38-6h0m64 6h0m-42 12h0m-3-12h0m16 3h0m-13 7h0m49-9h0m-28-3h0m-47-1h0m2 0h0m33 10h0m11-12h0m16 14h0m4-11h0m-43 11h0m36-5h0m-28 0h0m-7 6h0m47-5h0m-49-6h0m34-5h0m-42 16h0m25-10h0m-5 13h0m17-5h0m-38 2h0m-4-5h0m51-6h0m-14 10h0m-26-1h0m39-15h0m-29 0h0m-25 1h0m61 10h0m-55 5h0m37-14h0m-43 16h0m39-6h0m-20 8h0m-16-10h0m4-8h0m46 8h0m-32 10h0m-7-5h0m37 2h0m-16-6h0m-36-8h0m9 8h0m17 9h0m-4-19h0m18 7h0m-6 10h0m26-8h0m20-5h0m-43 5h0m0 4h0m9 0h0m-34-1h0m-3-3h0m14 0h0m-38-10h0m67 18h0m-29-3h0m-8-8h0m-13 4h0m18 2h0m34 2h0m-39-7h0m9 10h0m-28-7h0m26-4h0m-28-4h0m25 0h0m1-3h0m45 0h0m-47 3h0m25 8h0m-9 0h0m-44-2h0m74 5h0m-73-5h0m26 5h0m-20-13h0m19 18h0m-2-4h0m34-12h0m-29 17h0m-23-7h0m70-12h0m-43 7h0m15 2h0m-8 8h0m-16 0h0m-24-17h0m88 6h0m-63 7h0m29-4h0m-18 11h0m26-2h0m-44-12h0m1-2h0m53 11h0m-15-9h0m7 13h0m-48-16h0m-13 6h0m6-1h0m40-7h0m-51 5h0m33 2h0m30 9h0m-35 3h0m-36-21h0m31 3h0m-1 8h0m-29-6h0m18 13h0m47-8h0m2-4h0m-70-5h0m47 11h0m-14-4h0m10-2h0m6 10h0m-15-1h0m46-8h0m-49 9h0m43 4h0m-12-2h0m21-15h0m-59 7h0m52-7h0m-14-2h0m-15-1h0m11 20h0m-51-7h0m18-8h0m34 15h0m-18-5h0m17-12h0m-21 6h0m21-8h0m-28 9h0m-2 3h0m-6-5h0m35 1h0m13 0h0m11-1h0m-2 9h0m-33-4h0m22-8h0m2-4h0m7 18h0m6-15h0m-59 5h0m44 6h0m2-13h0m11 1h0m-37-1h0m30 5h0m-4 8h0m-66-4h0m56 8h0m-1-15h0m28 6h0m-68-1h0m54 5h0m-53 3h0m69-15h0m-17 3h0m16-2h0m-27 3h0m-37 10h0m68 0h0m-43 3h0m-10-14h0m-4 16h0m12-16h0m-8-2h0m-43 10h0m74-2h0m-17 9h0m-38-18h0m41 20h0m19-3h0m18-15h0m-58 8h0m16 5h0m-12 0h0m-36-17h0m30 0h0m20 18h0m-22-18h0m39 8h0m-26 14h0m-33-9h0m85-7h0m-11 11h0m-23-4h0m7 7h0m-2-8h0m4-5h0m-53 8h0m62-11h0m-47 11h0m-7 2h0m42 3h0m-45-10h0m43 6h0m14-4h0m-64-5h0m39 12h0m-27-11h0m47 8h0m-42-10h0m-16 8h0m-5-9h0m31 13h0m39-2h0m-40-7h0m16 1h0m9-7h0m15 11h0m-65 5h0m-17-12h0m1 3h0m81-9h0m-6 4h0m-48 9h0m48 5h0m-11-4h0m-39-8h0m4 8h0m-6 0h0m11-11h0m51 6h0m-58 5h0m22 6h0m7-19h0m-17-2h0m23 5h0m-41 8h0m-1-12h0m-2 4h0m19-23h0m18 6h0m-8 34h0m-7-31h0m-2-5h0m16 13h0m-16-1h0m17 3h0m-1-10h0m2 0h0m-2 5h0m3-16h0m-13 38h0m-5-20h0m16-6h0m-14 5h0m15 1h0m-16-5h0m-1-6h0m9 33h0m9-37h0m-12 32h0m-6-21h0m-1 2h0m-1-15h0m19 14h0m-2-3h0m1 4h0m-6 17h0m-11-31h0m1 8h0m15 7h0m-17-13h0m2 8h0m0-4h0m-2 0h0m16 7h0m4-4h0m-20-14h0m18 13h0m-9 29h0m7-23h0m-1 20h0m1-10h0m2-20h0m2-2h0m-2 5h0m-15 7h0m11 25h0m5-41h0m-9 43h0m9-42h0m-19 6h0m4 11h0m-2-7h0m-2-8h0m2 1h0m18 13h0m0 1h0m-19-7h0m16 4h0m-6 22h0m-5 1h0m12-33h0m-18 13h0m-1 0h0m7 11h0m10-12h0m-15 2h0m18-15h0m-19-8h0m20 17h0m-2 2h0m-15-3h0m14 2h0m-10 22h0m-6-29h0m19 1h0m0 11h0m-14 16h0m13-30h0m-18 12h0m6 25h0m-6-33h0m19 0h0m-19 1h0m4 20h0m-4-15h0m19-17h0m-4 20h0m-14 22h0m16-33h0m1 12h0m-17-2h0m14 3h0m4-15h0m-21-2h0m5 38h0m2-13h0m1 13h0m-7-29h0m18 29h0m-5-1h0m-13-21h0m3-4h0m-2-1h0m88 17h0m6 2h0" stroke="#000" stroke-width="5.2" stroke-linecap="round" fill="none"/>
<path d="M1205 1827h0m13 7h0m20 13h0m-20-12h0m4-21h0m1 27h0m-12-26h0m10 30h0m-6-7h0m14-23h0m-6 23h0m-7-1h0m-5 11h0m25-22h0m-6-6h0m-9 20h0m19-2h0m-8 9h0m6-3h0m-22 1h0m9 0h0m5-6h0m-8-7h0m-2 9h0m-9-66h0m23 65h0m-20-4h0m-1 4h0m14-22h0m-1 9h0m-15-13h0m8 24h0m13-26h0m-20-3h0m26 33h0m-6 6h0m-8-22h0m-22 3h0m13 2h0m-9 3h0m35 5h0m-22-14h0m9 9h0m-4 6h0m0 4h0m16-4h0m-6 3h0m-13-17h0m12 13h0m-39 8h0m43-3h0m-4-1h0m-3-2h0m-21-6h0m8-25h0m7 29h0m13-27h0m5 17h0m-20 14h0m14-48h0m-13 49h0m6-11h0m-2 13h0m15-10h0m-1 9h0m-13-22h0m10 15h0m-35-25h0m-10 25h0m45-20h0m4-18h0m-7 41h0m-3-1h0m11-2h0m-22 8h0m3-4h0m-3 6h0m22-11h0m-7-9h0m-14 13h0m1-16h0m16 19h0m1-38h0m-21 35h0m-15-8h0m27 1h0m-45-3h0m8-34h0m44 38h0m-24-3h0m25 2h0m2 10h0m-22-4h0m4 5h0m13 1h0m-1-29h0m-16 16h0m-3-1h0m22-17h0m-6 29h0m8 1h0m-14-13h0m7-3h0m0 2h0m-4 16h0m12-21h0m-29 12h0m20-3h0m0-5h0m7 1h0m-6 4h0m-9 10h0m11-5h0m-5 4h0m11-13h0m-35-27h0m36 39h0m-46 2h0m42-15h0m3-3h0m-36 16h0m31 0h0m-7-20h0m7 14h0m-2 0h0m-2 8h0m-9-3h0m9-17h0m2 7h0m2 6h0m8 6h0m-8-21h0m-2 19h0m-8-17h0m-25 21h0m32-4h0m-3-27h0m-36 20h0m24 9h0m19-19h0m-19 20h0m-8-2h0m3 2h0m25-31h0m-22 33h0m16-23h0m4 6h0m6 15h0m-29-1h0m-17 3h0m40-28h0m-19 21h0m16-10h0m-2 16h0m3-5h0m2-25h0m3-19h0m-37 31h0m16 8h0m8-5h0m6 3h0m10 10h0m-3 2h0m-1-55h0m-1 48h0m-35 2h0m28-11h0m12 12h0m-10-23h0m-4 22h0m5-15h0m-30 5h0m34 15h0m-23-2h0m15-6h0m0 1h0m-59-33h0m59 37h0m8-13h0m-15-3h0m15-8h0m-7 29h0m7-21h0m-26 16h0m20-27h0m-33 24h0m37 3h0m-3-47h0m-3 29h0m-7 12h0m4-8h0m7-16h0m-13 13h0m-8 8h0m17 7h0m14-5h0m-41 6h0m8-7h0m-20 1h0m41 0h0m-8-3h0m2 13h0m-35-29h0m51 20h0m-25-36h0m3 42h0m-3 3h0m19-14h0m-9 14h0m9-17h0m-14-4h0m23-27h0m-17 46h0m-3-6h0m2 7h0m-26 1h0m25-7h0m5-7h0m-37 10h0m38 0h0m-9-22h0m6 22h0m-30-14h0m29-1h0m4 4h0m5 14h0m-9-20h0m-11 9h0m-3-12h0m3 17h0m12 5h0m-19-14h0m22 3h0m4-23h0m7 27h0m-2 9h0m-2 0h0m-50-10h0m33-1h0m5 12h0m12-8h0m-17 3h0m21-4h0m-7-1h0m-5 0h0m12-6h0m-6 5h0m-17-6h0m9 6h0m5-11h0m11 20h0m-34-20h0m19 11h0m-9 10h0m21-10h0m-16 8h0m-18-13h0m3 11h0m0-10h0m19 16h0m14-9h0m-7 8h0m1-26h0m-13 26h0m16-14h0m-13 15h0m-10-14h0m12 12h0m11-20h0m-2 15h0m-3-7h0m5-14h0m1 27h0m-30-19h0m16 19h0m5-5h0m-6 2h0m-17-2h0m20 3h0m-12-7h0m16 9h0m-16-16h0m18 5h0m-27 0h0m9 6h0m-9-1h0m19-7h0m1 9h0m-1-22h0m8-27h0m3 32h0m-11 12h0m9 2h0m7 4h0m-20-5h0m15 6h0m-2-1h0m2-1h0m-12-28h0m0-22h0m14 46h0m-2-5h0m-18-24h0m16-8h0m-25 42h0m21-7h0m-10-7h0m7 12h0m12 0h0m-3-2h0m2 7h0m-1-11h0m-16 11h0m0-33h0m14 27h0m-32 4h0m22 0h0m6-39h0m-4 23h0m14 19h0m-47-7h0m18-12h0m23-18h0m-9 28h0m5 2h0m-22 6h0m27-38h0m-7-2h0m-15 29h0m19 10h0m-5-4h0m-42-3h0m28-9h0m-7-12h0m30 0h0m-20-59h0m0 43h0m-4 41h0m-38 3h0m67-58h0m-40-52h0m-1 93h0m34-22h0m-33 18h0m12-9h0m22-20h0m-13 1h0m-4 41h0m1-44h0m-18 49h0m-1-44h0m-1-18h0m33-17h0m-23 46h0m-41-5h0m47 28h0m-29-21h0m35 21h0m-20-6h0m22 15h0m-30-9h0m34 7h0m1-67h0m10 13h0m-4 4h0m-26-195h0m-1 48h0m-19 43h0m26 26h0m-28 23h0m17 14h0m13 7h0" stroke="#5a2fb0" stroke-width="5.2" stroke-linecap="round" fill="none"/>
<path d="M1275 1834h0m2 7h0m-4 2h0m30 3h0m-20 1h0m-1-2h0m-11 3h0m15-6h0m-7 5h0m-9 1h0m59 0h0m-49-11h0m37 6h0m-44 1h0m25 4h0m-28-8h0m22 8h0m7-5h0m-22 4h0m48 0h0m-17 1h0m-31-15h0m6 15h0m10-6h0m-26 4h0m18 2h0m42-10h0m-6 2h0m-20 3h0m4 4h0m-1-4h0m-23-3h0m-11-2h0m-2-2h0m21 9h0m-16 1h0m14 1h0m2-17h0m-9 9h0m9 3h0m30 4h0m-36-9h0m11 11h0m10 0h0m-30-3h0m1-5h0m45 6h0m-45-16h0m1 17h0m40-4h0m-14-4h0m-24 1h0m1 8h0m4-7h0m-14-1h0m19 7h0m17-10h0m-10 5h0m10-1h0m10-8h0m50 3h0m-74 12h0m-1-12h0m16-5h0m-20 9h0m-1-22h0m28 16h0m-33 0h0m4 2h0m18 10h0m-8-5h0m-14 4h0m-9-1h0m85 1h0m-79 3h0m-4-3h0m47-10h0m-39 13h0m-10-3h0m37 1h0m-18 1h0m-15 0h0m32-4h0m-33 5h0m30-8h0m38 3h0m-55-9h0m-17 13h0m21-11h0m13 10h0m-23 1h0m47-2h0m-53 0h0m5-15h0m-6 12h0m-5 3h0m32 1h0m-5 2h0m4-4h0m-13 4h0m-13-2h0m14 2h0m-15-20h0m-1 15h0m15-2h0m-15-8h0m4 6h0m5 2h0m12 4h0m-23-2h0m2-1h0m18-3h0m15 7h0m-31-9h0m25-1h0m-31 2h0m7 3h0m5 5h0m-9-9h0m6 8h0m-3-7h0m11 4h0m-17-3h0m27 9h0m17-3h0m-36-2h0m11-4h0m-3 7h0m-13-10h0m13 7h0m1 1h0m-6-2h0m-8 5h0m24-1h0m30 2h0m-37-3h0m-2 3h0m-2-17h0m12 9h0m2-3h0m-22 7h0m-7 2h0m1 0h0m0-2h0m26-3h0m-18-11h0m-2 6h0m1-20h0m94 30h0m-98 2h0m3-2h0m5-1h0m1 2h0m20-4h0m-16-5h0m10-9h0m-20 12h0m102-14h0m-102 21h0m33-4h0m-34 2h0m17-5h0m-10-4h0m20 7h0m-7-4h0m-15 0h0m-7-3h0m5 9h0m0-14h0m32-7h0m-38 15h0m12 8h0m-16-2h0m15-3h0m18-9h0m-18 4h0m-8 5h0m-3 1h0m68 1h0m-72 2h0m3-1h0m7-8h0m7 3h0m15 4h0m-12-9h0m31-4h0m-32 13h0m9-3h0m48-2h0m-69 8h0m-7-6h0m1-18h0m2 16h0m20 1h0m-5 0h0m14 1h0m-10-1h0m-8 5h0m16-11h0m-29 4h0m5 8h0m-3-4h0m3-13h0m-5 13h0m3-14h0m10-6h0m4 22h0m5 1h0m-3-16h0m-7 5h0m-2 10h0m-9-3h0m44-3h0m-45-2h0m8 1h0m1 3h0m32-13h0m-9 10h0m27 8h0m-39 0h0m4 2h0m-15-3h0m0-2h0m1 3h0m-7-10h0m10 8h0m-6-2h0m36 5h0m-23-13h0m-19 5h0m-1 9h0m30-11h0m-11 6h0m10-13h0m-22 4h0m2 14h0m-9-17h0m0-8h0m6 16h0m30-3h0m-21 11h0m3-7h0m-16 2h0m14-17h0m16-7h0m-32 29h0m3 1h0m25-4h0m-28-12h0m27 14h0m-22-7h0m11-18h0m-16 17h0m37 2h0m-13 1h0m-13 1h0m-1-7h0m-12-3h0m14 14h0m1-3h0m11-15h0m-11 4h0m0 10h0m1 3h0m1-6h0m20 5h0m-2-4h0m1 1h0m-31 6h0m76-5h0m-49-1h0m-7 3h0m15-4h0m-5-12h0m-26 12h0m-4 5h0m25-2h0m16-3h0m6 1h0m-30-6h0m18 2h0m-15 3h0m9 5h0m-28-4h0m17-3h0m-15 6h0m-2 3h0m56-2h0m-29-15h0m-19-5h0m8 18h0m-12-6h0m-4 1h0m17 7h0m-3-10h0m4 0h0m-7 5h0m41 0h0m-43-6h0m15 14h0m-13-11h0m10 0h0m-17-1h0m-1-8h0m34 13h0m-39 0h0m14-3h0m-5 5h0m4 1h0m-3-1h0m43 1h0m-52-3h0m18 3h0m-21-2h0m33-4h0m-28 6h0m43 4h0m-37-26h0m14 23h0m33-1h0m-41-12h0m-8 2h0m4 1h0m10 10h0m-11-3h0m11 5h0m19 0h0m-41-2h0m20 1h0m7-12h0m-18-7h0m23 8h0m3 7h0m-3-22h0m7 9h0m-25 0h0m97 7h0m-47 11h0m15-2h0m-20-4h0m-15 3h0m-17-8h0m-7-6h0m34 3h0m0 3h0m-29-30h0m-1-23h0m5 23h0m19 34h0m17-33h0m-30 33h0m-35-24h0m13 7h0m9 3h0m42-6h0m-57-58h0m32 52h0m15 29h0m-33-26h0m44 26h0m-30-40h0m-22 43h0m-4-12h0m92 1h0m-16-92h0m-14 27h0m45 59h0m-18-11h0" stroke="#e0401e" stroke-width="5.2" stroke-linecap="round" fill="none"/>
<path d="M1245.4 1556V1871.6M1266.4 1556V1871.6M1097.8 1848.7H1414" stroke="#000" stroke-width="2.0" stroke-dasharray="5 4" fill="none"/>
<path d="M1097.8 1555V1871.6H1414" fill="none" stroke="#000" stroke-width="2.1" stroke-linejoin="miter" stroke-linecap="square"/>
<path d="M1093.3 1871.6H1097.8M1093.3 1792.7H1097.8M1093.3 1713.8H1097.8M1093.3 1634.9H1097.8M1093.3 1556H1097.8M1095.1 1832.1H1097.8M1095.1 1753.2H1097.8M1095.1 1674.3H1097.8M1095.1 1595.4H1097.8M1150.5 1871.6V1876.1M1255.9 1871.6V1876.1M1361.3 1871.6V1876.1" stroke="#000" stroke-width="2.1" fill="none"/>
<text x="1091.3" y="1879.9" font-size="23" font-weight="bold" text-anchor="end">0</text>
<text x="1091.3" y="1801" font-size="23" font-weight="bold" text-anchor="end">10</text>
<text x="1091.3" y="1722.1" font-size="23" font-weight="bold" text-anchor="end">20</text>
<text x="1091.3" y="1643.2" font-size="23" font-weight="bold" text-anchor="end">30</text>
<text x="1091.3" y="1564.3" font-size="23" font-weight="bold" text-anchor="end">40</text>
<text x="1150.5" y="1898.8" font-size="23" font-weight="bold" text-anchor="middle">-10</text>
<text x="1255.9" y="1898.8" font-size="23" font-weight="bold" text-anchor="middle">0</text>
<text x="1361.3" y="1898.8" font-size="23" font-weight="bold" text-anchor="middle">10</text>
<text x="1359.2" y="1789.2" font-size="16.1" font-weight="bold">CEACAM5</text>
<line x1="1356.8" y1="1787" x2="1327.8" y2="1830.8" stroke="#000" stroke-width="2.0"/>
<polygon points="1322.8,1838.3 1324.9,1828.9 1330.7,1832.7" fill="#000"/>
<circle cx="1321" cy="1840" r="2.8" fill="#e2441b" stroke="#f0901e" stroke-width="1.4"/>
<text transform="translate(1053.8,1715.4) rotate(-90)" font-size="28" font-weight="bold" text-anchor="middle">P-value (-log<tspan font-size="13.2" dy="4.8">10</tspan><tspan dy="-4.8">)</tspan></text>
<text x="1261.2" y="1930.3" font-size="28.9" font-weight="bold" text-anchor="middle">Fold change (log<tspan font-size="13.0" dy="5.2">2</tspan><tspan dy="-5.2">)</tspan></text>
<text transform="translate(1503.1,1516.8) scale(1.078,1)" font-size="47.5" font-weight="bold">H</text>
<text x="1703.2" y="1514" font-size="28.5" font-weight="bold" text-anchor="middle">Advanced GBC vs NT</text>
<path d="M1693 1859h0m-13-1h0m27 0h0m17 6h0m18-5h0m-26 0h0m-16 0h0m-6-2h0m38 8h0m22-9h0m-34 3h0m-37-1h0m7 3h0m63-3h0m-34 4h0m-49-3h0m41 1h0m-27-3h0m14 8h0m3-6h0m-5-2h0m31 9h0m-15-9h0m-13 1h0m25-1h0m10 2h0m-61-2h0m16 6h0m20-2h0m-28 4h0m33 0h0m-1-9h0m-7 5h0m-19-4h0m17 2h0m-18 1h0m-6 4h0m39-5h0m-33-3h0m57 2h0m-12 6h0m-67-8h0m56 4h0m-34 4h0m28-1h0m1 1h0m-51-3h0m44 0h0m-1 1h0m30 3h0m-5-2h0m-27 2h0m-12-8h0m57 5h0m-22 3h0m46-9h0m-45 6h0m6 0h0m-1-5h0m-22 2h0m35-1h0m-43-2h0m14 5h0m-5 5h0m-9-8h0m6 2h0m9 3h0m-3-1h0m-24-4h0m44 2h0m-55 2h0m3 1h0m-3-7h0m57 5h0m-34-1h0m-15-2h0m-4 1h0m39 0h0m-37 2h0m-5-3h0m47 0h0m-45 4h0m21-6h0m8 8h0m-11 2h0m10-1h0m35-9h0m-46 2h0m-19 6h0m-14-1h0m40-1h0m-3 0h0m15-5h0m-18 0h0m0 7h0m-7 0h0m22 0h0m-13-7h0m57 8h0m-36-6h0m-51 0h0m83-2h0m-35 2h0m-32-2h0m46 5h0m-38-3h0m0 7h0m17-10h0m25 5h0m20-3h0m-77 1h0m23 7h0m-19-8h0m1 1h0m25 0h0m-13 2h0m15 5h0m16-7h0m-10-3h0m14 11h0m-10-5h0m1-3h0m33 7h0m-30-7h0m-12-1h0m14 7h0m-40-3h0m14-3h0m28 0h0m-4 1h0m23-2h0m-38 6h0m-37-6h0m85 4h0m-21-4h0m7 7h0m-34-6h0m-46 5h0m35-4h0m-2 6h0m52-9h0m-59 7h0m13-5h0m-16 1h0m28 5h0m21-2h0m-11 0h0m-39-7h0m-5 0h0m11 3h0m2 3h0m-26 0h0m90-4h0m-73-1h0m47 0h0m-82 7h0m46-4h0m30 0h0m-20-3h0m50 0h0m7-1h0m-77 3h0m91-1h0m-92 4h0m10 4h0m15-6h0m12 6h0m13-1h0m-16-7h0m-31 8h0m34-1h0m34-5h0m-47 0h0m-33 3h0m70 3h0m-50-8h0m-39 4h0m38 1h0m14-6h0m30 6h0m-55-2h0m42 5h0m3-4h0m-24 3h0m49-9h0m-2 7h0m-21-6h0m-13 5h0m20-5h0m-32 2h0m1 4h0m-19-4h0m19 6h0m72 0h0m-74-5h0m36-3h0m1 0h0m-3 2h0m-84 6h0m57 0h0m-62-7h0m31 3h0m55 6h0m-33-7h0m-3 6h0m28 0h0m-26-7h0m-9-2h0m49 5h0m-24-2h0m7 1h0m-19 0h0m-29 0h0m49 1h0m-14-4h0m-43 7h0m43-1h0m-11-7h0m0 6h0m16-2h0m16 1h0m0-5h0m10 6h0m-13-5h0m-29 0h0m21-1h0m1 6h0m-34 3h0m-24-10h0m45 1h0m17 1h0m26 6h0m-25 3h0m-22-11h0m-5 10h0m11 0h0m-7-8h0m-2-1h0m38 2h0m-33 5h0m3-1h0m1 0h0m-61 1h0m72-8h0m-22 8h0m1-1h0m9-4h0m-26 5h0m7-4h0m-5-1h0m1 6h0m25-4h0m15-1h0m-56-2h0m11 4h0m56 3h0m-47 0h0m29-1h0m11-8h0m-27 3h0m28 2h0m28 2h0m-57-5h0m-23 8h0m2-7h0m-8-2h0m19 0h0m-3 5h0m32-5h0m-79-1h0m33 3h0m83 0h0m-25-3h0m-13 4h0m-1 6h0m33-9h0m-75 4h0m29-5h0m0 6h0m23-4h0m-26-2h0m51 11h0m-46-1h0m28-8h0m4 7h0m-67-5h0m28-4h0m-32 5h0m27-1h0m-20 5h0m-10-6h0m18 7h0m10-4h0m4 0h0m-1-3h0m0-3h0m20 6h0m3-4h0m-4-2h0m-25 3h0m1-1h0m26 0h0m-12 2h0m-61-3h0m-5-1h0m76 5h0m0 3h0m26-7h0m-17 5h0m-12-5h0m-41 8h0m57 1h0m-17-1h0m2-7h0m16 0h0m-35 5h0m-9-1h0m63-1h0m-12 1h0m-9 0h0m-2-3h0m1-1h0m-45 5h0m35-3h0m30 6h0m-41-5h0m-16-5h0m25 1h0m33 0h0m-50 4h0m-29-2h0m83-1h0m-20 4h0m-12-1h0m1 1h0m-19-3h0m24 5h0m-30-6h0m39 1h0m8 5h0m-4-2h0m-14 1h0m0-2h0m-27 3h0m15 0h0m-48 2h0m74-2h0m-61-3h0m63-4h0m-73 7h0m47-6h0m10 8h0m13-9h0m-25 3h0m45-2h0m-30 3h0m12-1h0m-49 6h0m37 0h0m-22-8h0m21 3h0m-32-4h0m-4 5h0m18 0h0m44-2h0m-71 0h0m52 5h0m18-6h0m-1 0h0m-31 5h0m-6 0h0m-45-6h0m75-1h0m-16 3h0m-8 7h0m3-2h0m-38 2h0m32-11h0m-27 10h0m12-9h0m17 8h0m5-1h0m16 0h0m-69-3h0m60-3h0m-3 6h0m-43-1h0m-4 2h0m34 1h0m-2-10h0m-31 1h0m19 4h0m-17 4h0m61-9h0m-74 4h0m-5 0h0m0 6h0m91-7h0m-56 5h0m-17-2h0m-27-2h0m55-3h0m2-1h0m-56 3h0m23 1h0m8 0h0m25 3h0m27-1h0m-7 2h0m7-3h0m-63-5h0m16 0h0m42 7h0m-21-4h0m-7-1h0m-50 4h0m3-1h0m55 2h0m-16-1h0m-3 1h0m-33 0h0m69-3h0m15-2h0m-46 6h0m-22 1h0m58-7h0m12 7h0m-58-5h0m23 4h0m-70-4h0m78 6h0m-52-4h0m16 0h0m52 3h0m-30-8h0m-8 8h0m10-5h0m35 3h0m-54-2h0m-13-3h0m40 0h0m-14 3h0m22 2h0m5 0h0m-27-4h0m-3 6h0m35-1h0m21-7h0m-69 4h0m24-3h0m-18 4h0m-16 3h0m8-7h0m42-2h0m16 6h0m-76-5h0m59 8h0m-16-7h0m57 8h0m-32-10h0m-21 1h0m-4 5h0m-59-3h0m57-2h0m21 3h0m27 0h0m-26 5h0m7-2h0m-37 0h0m-30-6h0m86 7h0m-82-7h0m72 6h0m12-6h0m-68 6h0m93-6h0m-127 3h0m99 0h0m-33-1h0m2-1h0m12 2h0m-70-2h0m51 2h0m32 0h0m-30-2h0m5-1h0m-51 6h0m37-4h0m38-2h0m-24 5h0m-38-4h0m3 3h0m-35 3h0m92-2h0m-43-4h0m-6 9h0m-6-3h0m0-7h0m19 7h0m-34-5h0m-14 3h0m-7 0h0m7-6h0m60 2h0m-39-1h0m67 4h0m-34 0h0m20 0h0m-54 3h0m10 0h0m41-8h0m-12 8h0m19-4h0m6 6h0m-67-10h0m33 5h0m21 4h0m24-1h0m-49-8h0m-11 5h0m11 0h0m12 1h0m31 0h0m-96-4h0m73 8h0m5-6h0m-50-4h0m27 4h0m27 0h0m-100 4h0m45-6h0m-12 1h0m23 5h0m5-8h0m41 8h0m-72-8h0m73 5h0m-10-3h0m-50-2h0m102 7h0m-102-1h0m49 1h0m3-6h0m3 3h0m-47 2h0m44-2h0m-1-1h0m35 5h0m-66-4h0m-1 6h0m14-3h0m-37-3h0m39 4h0m13-1h0m-69-1h0m6-3h0m50 0h0m-42 1h0m30-3h0m50-1h0m-95 6h0m58-6h0m-1 7h0m-20-1h0m26-5h0m-56 1h0m1 4h0m11-2h0m16 0h0m72-1h0m-84 2h0m-32-1h0m33 3h0m-15 0h0m-19 1h0m131-6h0m-74 5h0m26-2h0m-63-1h0m3 3h0m32-1h0m12 4h0m-57-2h0m77-7h0m-70 3h0m84 1h0m-70 5h0m30-9h0m-14 4h0m49-1h0m-37 1h0m24-4h0m-74 1h0m45 6h0m46-6h0m-25-1h0m-51 8h0m80-4h0m-13-2h0m-100 1h0m90 4h0m-27-2h0m-10 4h0m50-7h0m-40 4h0m-36-3h0m70 6h0m-27-3h0m19-2h0m33-3h0m-52 8h0m18-5h0m2-2h0m12 1h0m-3 6h0m2-10h0m-9 7h0m-44 2h0m40-1h0m-38-6h0m29 5h0m14 3h0m10-1h0m-31-4h0m-28 4h0m-41-2h0m47 2h0m9-1h0m9-6h0m-21 1h0m5 3h0m-30-1h0m59-4h0m-30-1h0m61 7h0m-94-3h0m11 5h0m30-7h0m43 4h0m-37 1h0m13-2h0m3 2h0m11-5h0m9 1h0m-39 3h0m26-3h0m-26 7h0m4-1h0m-17-4h0m-18-1h0m60 4h0m13-3h0m-85 4h0m5-6h0m53 3h0m-6 1h0m-38-7h0m22 5h0m38 1h0m-37 4h0m14-4h0m56-5h0m-59 5h0m61-4h0m-73 1h0m-9 2h0m42 4h0m-40 1h0m51-7h0m9 1h0m-42-2h0m-46 1h0m50-3h0m-50 4h0m29 3h0m0 1h0m-1-1h0m14 0h0m4-2h0m-22-3h0m-5 0h0m55 8h0m3-4h0m21 0h0m-27-5h0m-41 3h0m62 1h0m-58-5h0m24 1h0m-23 8h0m-14 1h0m63-8h0m-33 8h0m15-9h0m-58 5h0m85 3h0m-80-8h0m14 8h0m30-5h0m24 4h0m-67 0h0m8-8h0m50 8h0m-40-3h0m23 4h0m8-2h0m12 1h0m0-3h0m-41 0h0m-19 5h0m-2-5h0m67 5h0m-7-8h0m-61 1h0m25 4h0m23-2h0m-11-1h0m20 5h0m-15-3h0m7 4h0m16-10h0m-38 1h0m0 3h0m3 7h0m-28-9h0m54 2h0m-7-4h0m2 0h0m-28 0h0m26 4h0m-5 1h0m-43 5h0m-15-1h0m73-6h0m4-3h0m29 9h0m-58 2h0m-29-9h0m-13 5h0m14-1h0m27 4h0m29-9h0m-54 7h0m61-1h0m-20-2h0m-35 2h0m63-4h0m-35 1h0m18 2h0m-11-3h0m-8 8h0m55-2h0m-20-7h0m-86 2h0m49 7h0m15-7h0m26 5h0m-93-7h0m31 6h0m27 1h0m-56 1h0m5-2h0m90-7h0m-72 7h0m-6-1h0m-3-2h0m33-1h0m-11 5h0m-6-1h0m63-7h0m-9 5h0m-51 5h0m22-10h0m-58 5h0m66-6h0m-64 8h0m0 1h0m17 1h0m65-8h0m-76-2h0m86 3h0m-107 3h0m89 0h0m-4-6h0m-44 4h0m-29-2h0m72 6h0m-82-3h0m43 6h0m53-6h0m-30 1h0m-25-3h0m-36 5h0m107-6h0m-100-2h0m27 8h0m10-7h0m79 3h0m-71 4h0m-52-7h0m115 3h0m-104 1h0m68 5h0m-69-4h0m9-1h0m52-4h0m-3 2h0m-56 1h0m40 6h0m33-3h0m-74 1h0m41 3h0m-42-10h0m9 7h0m14 0h0m-25-1h0m55 3h0m24-5h0m-69 5h0m54-6h0m-31 3h0m15 2h0m-13-2h0m22 0h0m-4 3h0m-67-5h0m120 1h0m12 2h0m-88-8h0m-15 3h0m78-3h0m-66 5h0m-31 4h0m17-5h0m62 5h0m-15 0h0m-10 0h0m-35-5h0m27 4h0m53-4h0m-70-3h0m49 7h0m-42 1h0m76-6h0m-35 0h0m-32-3h0m-14 10h0m49 0h0m-15-2h0m-53-4h0m14 6h0m-3-9h0m79 0h0m-32 7h0m35 2h0m-73 1h0m62 0h0m-30-7h0m-58 3h0m57-7h0m7 9h0m-23 0h0m48-5h0m-50 6h0m-47 1h0m17-1h0m16-3h0m-13 3h0m22-8h0m-26-1h0m-2 9h0m-9-6h0m79 1h0m6-1h0m1 5h0m-64 0h0m44-4h0m-49 3h0m54 2h0m-10-2h0m-10-5h0m13 8h0m-16-6h0m-55-3h0m-11 3h0m127-5h0m-64 0h0m-25 5h0m1 2h0m-2-6h0m-9-1h0m-5 5h0m7 2h0m65-2h0m-72 1h0m35 3h0m-1-5h0m-6-4h0m60 2h0m-13 0h0m-74 7h0m107-8h0m-96 3h0m-10 1h0m104 5h0m-25-9h0m0 7h0m-50-2h0m53 2h0m-52 1h0m52 0h0m-5-2h0m-47 1h0m-55-4h0m17 1h0m101-2h0m-45 6h0m9 0h0m6-6h0m-35 6h0m45-2h0m3-6h0m7 3h0m-30 2h0m55-6h0m-87 4h0m-25 6h0m24-1h0m73-3h0m-44-4h0m28-2h0m-58 4h0m-32-2h0m12-1h0m-16 5h0m22 0h0m-10-2h0m8 2h0m-25-3h0m84 4h0m7-1h0m-79-3h0m-8 3h0m109-1h0m-78-2h0m-10 0h0m87-1h0m-84-2h0m93 11h0m-98-4h0m67 4h0m-28-5h0m-34-1h0m59-5h0m-20 0h0m67 6h0m-38-2h0m-15-4h0m-56 8h0m-19-8h0m84 5h0m20 1h0m-109 5h0m92-8h0m-79 4h0m-3-2h0m63 2h0m29-4h0m-54-2h0m-20 5h0m30 4h0m-36-9h0m22 1h0m69 1h0m-3 6h0m-93 0h0m-8-7h0m-4-1h0m3 4h0m13 2h0m97-3h0m-82-2h0m85 2h0m-78-2h0m57 3h0m7-4h0m-20 10h0m-29-9h0m-27 4h0m72 5h0m-61-11h0m98 0h0m-72 9h0m-28-2h0m68 3h0m-109-1h0m-6-9h0m150 10h0m-22-8h0m-91 4h0m32-6h0m-35 8h0m-24-1h0m14-4h0m30 1h0m-43 5h0m82-5h0m-59-2h0m10 1h0m-24 5h0m103-6h0m-23 8h0m5-6h0m-53 3h0m-44-4h0m17 6h0m119-3h0m-60 5h0m42-1h0m-88-3h0m0 2h0m65 2h0m18-6h0m-13-5h0m-75 2h0m17-2h0m56 8h0m-105-6h0m11 4h0m34-1h0m38-5h0m5 7h0m32 1h0m-5 2h0m-100 0h0m28-6h0m69 5h0m-73-1h0m-12 2h0m-6 1h0m5-9h0m-1-1h0m70 6h0m21-6h0m-18 10h0m-88-6h0m104 2h0m-74 0h0m58 1h0m-41 3h0m44-2h0m-78-1h0m-13-4h0m96-1h0m12 3h0m3-2h0m-67 5h0m34-9h0m22 0h0m-99 5h0m35 0h0m41-5h0m24 2h0m-5-2h0m-54 11h0m-29-9h0m8 6h0m45 3h0m2-1h0m-1-1h0m30-5h0m-75-4h0m39-9h0m-3-7h0m-15 2h0m-3-10h0m2 13h0m17-5h0m-18-10h0m21 9h0m-2-7h0m-14 20h0m-7-24h0m23 1h0m-24 10h0m0-8h0m2-5h0m24 7h0m-1 13h0m-12 21h0m-7-25h0m-3-5h0m17 15h0m-12 3h0m0-6h0m-5 1h0m3-4h0m-2 2h0m-4-1h0m6 5h0m13-2h0m5-10h0m-21 14h0m5-4h0m17-18h0m-21 22h0m-3 1h0m20-16h0m-20-3h0m20 17h0m-17-15h0m17 7h0m1-6h0m-2 8h0m-14 0h0m-1 7h0m20-26h0m-22 7h0m20 2h0m-21-8h0m20 7h0m-14 18h0m0-7h0m-7 7h0m22-21h0m0-3h0m-3 16h0m6-3h0m-8 7h0m2-5h0m-17 8h0m21-9h0m-19-1h0m13 12h0m0-1h0m-11-4h0m11-2h0m-12-8h0m1 15h0m10-2h0m8-31h0m-15 33h0m-10-18h0m19 11h0m-16-19h0m1 24h0m21-35h0m-20 28h0m14 0h0m2 1h0m1 0h0m-1-12h0m2 15h0m2 1h0m-6-4h0m-14-7h0m20-5h0m-5 13h0m-11 5h0m1 1h0m11-12h0m-17 10h0m1-2h0m14 1h0m4-17h0m-4 19h0m-16-15h0m-2-13h0m17 28h0m-16-2h0m-1-12h0m25-21h0m-22 15h0m20-7h0m-20 9h0m-2-11h0m5 27h0m-5-23h0m16 23h0m-16-15h0m18 13h0m-13-5h0m12 5h0m-18 4h0m6-10h0m2 8h0m13-13h0m-16 13h0m19-4h0m1-18h0m-19 24h0m-7-30h0m23 13h0m1 15h0m-16-3h0m14 0h0m-21-24h0m8 28h0m17-10h0m0 6h0m-3-16h0m-2 12h0m-20-23h0m8 33h0m15-20h0m-24-15h0m3 15h0m4 13h0m-1 7h0m12-2h0m2-2h0m-12 1h0m-5-18h0m17 21h0m-19-31h0m3 32h0m17 0h0m4-32h0m-1 20h0m-15 12h0m-6-13h0m-3 10h0m20 1h0m2-23h0m-21 3h0m0-3h0m6 18h0m19-31h0m-23 27h0m23 0h0m-10 11h0m-14-32h0m23 8h0m1 15h0m-26-3h0m0-8h0m20 3h0m5 16h0m-21-13h0m15 11h0m-13 1h0m19-27h0m-20 15h0m18 5h0m-17 3h0m1-4h0m-7-11h0m2 18h0m2-15h0m2 18h0m18-30h0m-21 6h0m-1 11h0m23 8h0m-1-20h0m-7 24h0m-16-32h0m7 45h0m-7-24h0m23-2h0m-2 11h0m-2-8h0m3-6h0m-18 11h0m21-10h0m-1-20h0m-25 17h0m26 19h0m0-29h0m-3 25h0m-22-10h0m4 10h0m0 4h0m19-1h0m-5-13h0m-18-15h0m16 26h0m-13-8h0m-1 8h0m1-16h0m3 10h0m12 8h0m6-6h0m-4-11h0m0 11h0m-16-13h0m-5-17h0m23 13h0m-22 7h0m21-4h0m-6 20h0m5-2h0m0-9h0m-5 10h0m-10-14h0m17 10h0m-11 18h0m-12-46h0m23 23h0m0-5h0m-21 8h0m0-7h0m-1 17h0m24-30h0m-23 4h0m18 11h0m-20-17h0m26-4h0m-24 9h0m23 0h0m-4 8h0m3-11h0m-20 13h0m15 3h0m6-22h0m-21 26h0m13 8h0m5-13h0m-21 6h0m5-5h0m1 6h0m17-25h0m-1 5h0m-1 11h0m-3 4h0m5-8h0m-24-19h0m5 22h0m19 9h0m-22 2h0" stroke="#000" stroke-width="5.2" stroke-linecap="round" fill="none"/>
<path d="M1690 1836h0m-46 12h0m14-4h0m19-1h0m-31 10h0m25-13h0m-12-17h0m13 27h0m13-6h0m1 5h0m-49-3h0m32-4h0m1 3h0m8 6h0m2-2h0m5-23h0m-31 25h0m31 5h0m-12-1h0m-10-6h0m-6 4h0m11-3h0m-6 5h0m6-44h0m-3 24h0m1 6h0m23-1h0m-10 8h0m6-27h0m-4 17h0m-9-21h0m16 27h0m-5 4h0m0 1h0m2-25h0m5 28h0m-29-2h0m28-6h0m-26-11h0m23 15h0m-5 2h0m5 0h0m-24-1h0m24-3h0m-6-5h0m-2-6h0m14-7h0m-24 16h0m-19 7h0m28-18h0m2 11h0m-40 2h0m33-5h0m-6 8h0m6-4h0m-3 5h0m13-13h0m-7-5h0m9 19h0m6 2h0m-23-9h0m4-34h0m-22 25h0m12 18h0m-16-15h0m29 16h0m12-19h0m-11 20h0m1-18h0m9 15h0m-1-4h0m3 3h0m-23 1h0m-13-12h0m31 2h0m-6 5h0m-13-67h0m22 68h0m-29-5h0m33 4h0m-28-5h0m0-8h0m-2 17h0m-7 4h0m22-5h0m-3 5h0m-11-33h0m8 18h0m14 11h0m-1-6h0m8-14h0m-12-8h0m-3 10h0m6 9h0m8 9h0m-9-10h0m4 9h0m7-38h0m-63 37h0m62-11h0m-22 10h0m10-10h0m11 2h0m-23 14h0m16-7h0m-17-12h0m-9 20h0m32-10h0m-30 5h0m31-3h0m3 6h0m-54-15h0m21 14h0m17 2h0m-43-16h0m-22 11h0m81-7h0m-1 6h0m-11-3h0m-6 5h0m-1 3h0m3-19h0m14 17h0m-3-34h0m-11 31h0m2-3h0m-28-2h0m23 11h0m-27-10h0m32-2h0m7 1h0m7 7h0m-43-48h0m23 30h0m0 22h0m-26-12h0m29 6h0m-25 4h0m27 0h0m3-14h0m0 12h0m-15-37h0m10 31h0m-9 8h0m20 2h0m-9 0h0m-17-14h0m6 0h0m22 7h0m-21 1h0m13 6h0m-5-18h0m-13 12h0m23-6h0m-18 10h0m14-12h0m1 13h0m-28 0h0m32-16h0m-2-3h0m-5-6h0m0-4h0m-41 17h0m54-17h0m-42 30h0m28-30h0m-14 20h0m-6-3h0m10 2h0m15 6h0m-40-2h0m35 4h0m9-7h0m-6 2h0m-31 4h0m-15-6h0m13-1h0m24 2h0m-13-27h0m-4 21h0m27-9h0m-45 16h0m48-2h0m-11 3h0m-66-4h0m63 7h0m-16-7h0m5-6h0m8 15h0m-48-14h0m67 4h0m-18-14h0m10 21h0m-5 0h0m-27-8h0m42 9h0m5-13h0m-20 14h0m-20-16h0m-1 2h0m10-12h0m15 28h0m-72-11h0m52 10h0m16-13h0m-11-8h0m7 17h0m-6-18h0m-5 10h0m-4 7h0m23 5h0m14-6h0m-58-11h0m-7-4h0m45 10h0m-15-4h0m29 8h0m-40 6h0m25-5h0m-14-19h0m3 21h0m-9-4h0m26-9h0m-7-16h0m17 21h0m2 6h0m1 4h0m-15-24h0m-14 5h0m-5 22h0m6-20h0m-14 13h0m16 7h0m13-11h0m11-3h0m-20 1h0m12 0h0m-39 14h0m29-15h0m-8 8h0m-9 7h0m26 1h0m-102-16h0m110 14h0m-45 2h0m5-20h0m33 1h0m-42 7h0m49-25h0m-32 34h0m23 2h0m10-18h0m-6 5h0m-43-4h0m35-1h0m9 16h0m-10-16h0m18-14h0m-27 24h0m-5 0h0m21-21h0m-31 21h0m32-9h0m9 11h0m-18-27h0m13 11h0m-13 18h0m9-16h0m-18 5h0m9-3h0m-1 11h0m-20-23h0m18 17h0m9-37h0m-42 37h0m38 13h0m-15-12h0m20 8h0m-28-2h0m17-10h0m7 8h0m2 7h0m-30-7h0m41-3h0m-20 7h0m21-7h0m4-26h0m0 25h0m-32 9h0m-8-17h0m27 17h0m-5-27h0m-5 28h0m17-7h0m-24 0h0m6-11h0m-61 19h0m-16-25h0m96 21h0m-27-33h0m-4 12h0m6 14h0m23-7h0m-19 4h0m9 12h0m-8-19h0m-2 18h0m-21 0h0m11-12h0m35-3h0m-23-5h0m16 10h0m-16 1h0m20-16h0m-6-3h0m0 20h0m-1-26h0m12 39h0m-45-52h0m34 7h0m-17 37h0m-21-28h0m17 35h0m-51-5h0m83-9h0m-7 15h0m-31-9h0m34-14h0m-28 14h0m16 5h0m-18 0h0m-27-40h0m59 36h0m-55-3h0m-20-37h0m45 45h0m23 1h0m-3-9h0m-13-5h0m15 14h0m-22 2h0m18-8h0m-38-12h0m23-7h0m-14 20h0m6-1h0m18-32h0m-4 34h0m10-20h0m-52 12h0m39-7h0m-11 16h0m17-21h0m19 26h0m-18-21h0m16-14h0m-25 30h0m15-8h0m-37 1h0m24 11h0m15-35h0m-4 36h0m-58-15h0m64 6h0m-7-18h0m-4 11h0m0-16h0m-36 30h0m26-34h0m14 29h0m-52-4h0m4-19h0m28 7h0m-22 9h0m48-5h0m-22 13h0m20-24h0m-20-8h0m28 22h0m-17-2h0m17 0h0m-23-21h0m15 38h0m-38 0h0m37-50h0m7 22h0m0 26h0m-8-15h0m4 9h0m-30-7h0m19 14h0m7-71h0m-30 72h0m42-5h0m-37-9h0m-8 13h0m-16-2h0m-25-26h0m78 2h0m-8 5h0m-59 5h0m60-14h0m7 32h0m-90-13h0m93 7h0m-53 2h0m46 1h0m-7-10h0m5-4h0m5-7h0m-1 22h0m7-18h0m1 20h0m-25-29h0m28 9h0m-70 5h0m52 2h0m-16-4h0m16 15h0m2-58h0m9 52h0m-7-28h0m-18 23h0m-27-15h0m51 27h0m3-13h0m-38 11h0m33-18h0m1-4h0m-12 13h0m-3-1h0m-26 12h0m52-33h0m-44 24h0m25 8h0m6-3h0m5 1h0m-21-8h0m17 9h0m-6-14h0m14 14h0m-17-27h0m-17 23h0m5-1h0m24-7h0m-29 14h0m-15-8h0m32 6h0m0-14h0m-18 11h0m-25-38h0m36 28h0m-3-2h0m8-12h0m-2 13h0m12 10h0m-4-18h0m-6 10h0m10 7h0m-29 3h0m31-48h0m-2 16h0m8 23h0m-61 2h0m51 10h0m4-21h0m1-4h0m-6 8h0m13-36h0m-60 53h0m27-18h0m26 6h0m-24 6h0m13-38h0m-11-1h0m28 6h0m-33 37h0m19 2h0m-42-11h0m13 8h0m24-16h0m-24 9h0m-7 4h0m46-7h0m-24-13h0m24 11h0m-34-16h0m-3 23h0m34-1h0m-45-2h0m49 5h0m-12-10h0m1 15h0m-19 3h0m3-35h0m7 20h0m20 15h0m-60-18h0m64 14h0m-40-13h0m15-20h0m-23 31h0m40-2h0m7 6h0m-27-15h0m-25 12h0m24-35h0m20 13h0m-7 23h0m-16-12h0m33 13h0m-46-5h0m-12-22h0m54 29h0m-59-2h0m10-13h0m44-1h0m-6-6h0m-20 3h0m22 19h0m3-6h0m-11 5h0m-23-1h0m34-16h0m4 17h0m-25-14h0m6-25h0m-3 41h0m0-30h0m-49 28h0m35-9h0m2-7h0m35 6h0m-13 9h0m-49-2h0m29-2h0m18-21h0m-22 22h0m28-15h0m5 5h0m-51 7h0m56-4h0m-36 9h0m19-41h0m-5 4h0m-3 39h0m12-11h0m6-4h0m-3 8h0m-13 8h0m11-47h0m3-29h0m-6 66h0m-30-4h0m45-12h0m-28 18h0m8 1h0m20-9h0m-46-21h0m30 34h0m8 2h0m-13-2h0m-35 2h0m57-5h0m-47-2h0m20-17h0m-7 16h0m30-25h0m-10 29h0m8-18h0m-4-6h0m-5 12h0m0-10h0m-23 26h0m9-12h0m1 4h0m-1-16h0m4 18h0m2 1h0m9-1h0m-20-27h0m30 4h0m-9 25h0m-29-20h0m29 17h0m10-7h0m-7-10h0m-39 16h0m32 3h0m13-12h0m-4 3h0m-8 3h0m1 6h0m10-32h0m-64 23h0m70 4h0m-29 10h0m17-46h0m-32 48h0m22-63h0m-24 62h0m10-7h0m2 4h0m-18 3h0m28-12h0m0-35h0m20 1h0m-1 19h0m-5 20h0m-3 2h0m-42-13h0m18 13h0m11-7h0m17-9h0m-11-3h0m-6 6h0m27-19h0m-32 30h0m-9-19h0m30 0h0m-36 15h0m10 0h0m32 0h0m-61 9h0m25-29h0m16 15h0m-14 3h0m36-8h0m-19 15h0m11-14h0m-19 1h0m3 13h0m6-35h0m22 20h0m-27 13h0m16-15h0m4 24h0m-8-12h0m-24-25h0m31 25h0m-82-4h0m42 1h0m41-1h0m-1-13h0m0 21h0m-37-16h0m40 8h0m-23-20h0m12 3h0m-29 5h0m8 4h0m2 15h0m23-7h0m-13-1h0m-7-6h0m31-40h0m-36 49h0m29 3h0m0-41h0m-31 39h0m-23-15h0m32 19h0m-61-3h0m64-2h0m13 3h0m9 7h0m-16-10h0m-4-4h0m2 18h0m8-42h0m-16 27h0m-17-6h0m14 14h0m27 1h0m-28-37h0m4 36h0m-14 7h0m25-3h0m-35-4h0m18-39h0m20 21h0m-49 7h0m19 1h0m17 7h0m24 1h0m-4 3h0m7-27h0m0-57h0m-4 49h0m-12 7h0m-10 5h0m17-19h0m-24 42h0m34-3h0m-33-32h0m6 38h0m11-12h0m-10 3h0m15 3h0m10 6h0m-13-10h0m4 13h0m5-14h0m3 7h0m-36-6h0m34 0h0m-9-18h0m15 10h0m-33-11h0m28-26h0m-24 38h0m10-9h0m4 20h0m-13-1h0m13-18h0m-60 23h0m19-12h0m14-12h0m29 1h0m9 19h0m-16 3h0m2-16h0m-44 7h0m49-45h0m-22 50h0m-35 7h0m51-38h0m19 24h0m-81 9h0m37-14h0m3 9h0m-93-3h0m126-4h0m-12 3h0m4 6h0m-13 3h0m12-16h0m-10-1h0m19 6h0m-26-8h0m25-3h0m-34 24h0m19-29h0m10 20h0m-26 5h0m13-6h0m21-5h0m-16 0h0m18 6h0m-18 7h0m11-25h0m-63 22h0m41 1h0m26 0h0m-1 7h0m6 2h0m-15-31h0m-26-17h0m22 13h0m8 24h0m-10-6h0m-17 12h0m22-17h0m-12 9h0m-9 11h0m-19-12h0m33 7h0m9-12h0m-33 0h0m41 4h0m-14-4h0m-14 11h0m12-23h0m-43 25h0m41-4h0m2-11h0m17 20h0m-34-13h0m34 10h0m-24-9h0m6 14h0m8-21h0m15 1h0m-9 16h0m-57-4h0m-3-26h0m65 15h0m2 16h0m-31-45h0m30 24h0m-17 24h0m19-67h0m-13 52h0m-42 3h0m36 10h0m8-23h0m-13 19h0m21-56h0m-18 31h0m11-7h0m-34 19h0m17-10h0m-36 21h0m57-18h0m7 4h0m-70 11h0m55-26h0m10-1h0m-54 38h0m37-18h0m-34-10h0m28 24h0m-2-32h0m-9 33h0m-40-15h0m74-4h0m-19 22h0m23-21h0m-36 13h0m-10 6h0m6-15h0m41-22h0m-49 29h0m26-22h0m21 6h0m-7 16h0m-39 0h0m44-15h0m-17 19h0m10-9h0m2-5h0m-23 9h0m30-3h0m-25 7h0m-27-34h0m37 20h0m-93 3h0m106 10h0m-62 1h0m37-12h0m-15-15h0m33-8h0m-11 36h0m-16 3h0m-15-7h0m19-13h0m13 10h0m-11-17h0m15 31h0m21-5h0m-18-14h0m-6 9h0m17-48h0m-14 48h0m4-7h0m6 15h0m-26-30h0m16 27h0m-1-34h0m17 7h0m-24 20h0m-44-9h0m59 11h0m-73-11h0m5-21h0m72 13h0m-26 0h0m14 20h0m-42 8h0m2-10h0m39-3h0m18 0h0m-9 7h0m-32 4h0m-1-2h0m19 0h0m4-13h0m1-44h0m13 36h0m-40-2h0m35 3h0m11-10h0m-65 34h0m22-22h0m-6 5h0m20 12h0m-10-45h0m25 38h0m2 4h0m-1-18h0m-2-28h0m-73-14h0m48 35h0m18 24h0m-3-6h0m-8 4h0m4-6h0m12 5h0m21-15h0m-16 21h0m11-32h0m-30 37h0m6-6h0m-21-31h0m32 24h0m-2-18h0m18 31h0m-2-20h0m-3 2h0m-67 15h0m-27 2h0m101-6h0m-21-19h0m5-2h0m-8-14h0m-4 29h0m15-12h0m-16-14h0m-15 14h0m15 16h0m-23-5h0m40-29h0m1 30h0m-40 5h0m22-9h0m-5 7h0m-22-4h0m13 10h0m5 2h0m29-37h0m-18 31h0m13-3h0m-5-29h0m-63 38h0m64-56h0m-13 54h0m-4-9h0m-45 3h0m75-17h0m-16 21h0m6-3h0m-15-18h0m-2 8h0m-22 8h0m33-12h0m1-9h0m-37 20h0m37-18h0m-13 18h0m9 9h0m-5-18h0m7 13h0m11-23h0m-59 26h0m45-26h0m2 12h0m-1 9h0m10-18h0m6-21h0m-36 48h0m21-32h0m20 17h0m-18-3h0m-13 20h0m28-5h0m-7 5h0m-21-3h0m-24-4h0m-2 1h0m33-31h0m-31 15h0m39-13h0m-61 32h0m-10-2h0m81-24h0m-14-26h0m-13 47h0m20-34h0m-23 24h0m12 5h0m-38-3h0m-17 0h0m-14 11h0m91-12h0m-6-4h0m2 18h0m-74-16h0m54 0h0m-7 9h0m-4 10h0m20-24h0m-14 19h0m-11-24h0m-35 17h0m68-29h0m-13 19h0m-34-8h0m42-26h0m4 44h0m-10 9h0m-19-4h0m1-8h0m26-2h0m-15 13h0m23-17h0m-55 8h0m-3 9h0m27-7h0m27-4h0m-30 5h0m2-26h0m-11 29h0m14-5h0m13-28h0m-2 39h0m-28-54h0m-6 47h0m35 7h0m19-33h0m-76 27h0m21 4h0m24-12h0m-22-16h0m33 22h0m10 2h0m-51 4h0m43-57h0m20 38h0m-47 11h0m28-40h0m7 35h0m12 5h0m-7-19h0m-23 8h0m-51 0h0m50-30h0m2 51h0m3-29h0m13 25h0m-37-21h0m46 0h0m-5 26h0m-6-31h0m-9 11h0m5 4h0m5-31h0m5 43h0m-52 2h0m56-12h0m-29 12h0m-39-7h0m42 3h0m17-23h0m-31-13h0m25 23h0m-27-44h0m46 50h0m-23-15h0m7 14h0m-19 9h0m26-14h0m3-16h0m-14 17h0m23 17h0m-10-9h0m8 9h0m-40-3h0m41-10h0m-45 6h0m4-11h0m-29 3h0m39-18h0m13 24h0m18-64h0m-23 21h0m25 50h0m-28-7h0m16-1h0m-7-16h0m-1-2h0m10 12h0m-30-1h0m1 5h0m14 1h0m-15 9h0m40-3h0m-120 5h0m111-36h0m-59 25h0m43-11h0m6 13h0m-23-24h0m30-8h0m-44 26h0m4 2h0m-30-25h0m80 33h0m-65-11h0m26 13h0m16 2h0m-59-8h0m-3 9h0m75-15h0m4-10h0m7 4h0m-23-12h0m-14 20h0m-10-10h0m14 22h0m0 1h0m15-14h0m-2 7h0m-21-3h0m20-11h0m14-18h0m-67 32h0m59-20h0m7 11h0m-83 3h0m69-3h0m-7-17h0m-1 33h0m-51-5h0m50 3h0m-19-7h0m2-10h0m46 5h0m-8-7h0m-10 0h0m7-17h0m-1 28h0m-43-51h0m14 62h0m3-36h0m5 30h0m22-22h0m-49-1h0m46 18h0m-44 9h0m10-2h0m5-9h0m44 3h0m0-25h0m-8 35h0m-7-5h0m7-8h0m-16-24h0m24-2h0m-1 34h0m-10-23h0m-13-13h0m-21 20h0m-19 13h0m6-3h0m55 10h0m-22-26h0m-43 24h0m41 1h0m22-20h0m-19 18h0m-4-20h0m16-44h0m-3 68h0m17-12h0m-7 11h0m-60-11h0m15-27h0m27 1h0m-3 12h0m-44 26h0m26-4h0m15-5h0m-13-35h0m6 20h0m-25-3h0m47 20h0m-25-17h0m-25-24h0m55-40h0m-12 65h0m20 11h0m-47-7h0m14 10h0m13-7h0m10-9h0m-19-105h0m-3 109h0m18-96h0m-15 80h0m-2 6h0m6 7h0m-31-40h0m43 9h0m-11 8h0m8 27h0m-45-33h0m-22 22h0m78-8h0m-63-35h0m51 7h0m-122-11h0m20 54h0m99 0h0m-2 5h0m17-47h0m-30-59h0m6 89h0m-4 18h0m-7-48h0m-8 41h0m37-61h0m-31 28h0m-63 53h0m65-55h0m20 9h0m-15 41h0m6-78h0m-33 36h0m13 29h0m-43-36h0m42-13h0m-41 57h0m10 10h0m20-145h0m2 142h0m21-40h0m29-13h0m-9 25h0m-100 19h0m80 5h0m15-48h0m-7-62h0m-11 59h0m25 10h0m-7-16h0m-89 9h0m111 30h0m-67 15h0m37-105h0m-60 114h0m-33-48h0m85 14h0m17-45h0m-90 48h0m64 10h0m-10-95h0m2 67h0m46 10h0m2 7h0m-48 0h0m7-34h0m-13 5h0m34 42h0m12-94h0m-32 83h0m42-7h0m-62-35h0m-10 42h0m7 23h0m7 6h0m53-39h0m-43-9h0m24-217h0m0 246h0m-15-46h0m-11-34h0m45 12h0m-46 78h0m12-100h0m18 51h0m5 32h0m-64 9h0m19-42h0m37-49h0m-37 16h0m21 64h0m-62 21h0m55-5h0m13-97h0m-32 86h0m64-64h0m-13 35h0m-11-93h0m18 83h0m17 39h0m-38-48h0m-10 73h0m43-82h0m-27-210h0m-46 34h0m34 24h0m-21 26h0m21 15h0m-89 95h0m4 13h0m26 73h0" stroke="#5a2fb0" stroke-width="5.2" stroke-linecap="round" fill="none"/>
<path d="M1764 1844h0m-40 9h0m23-4h0m34 5h0m-9-1h0m-49-8h0m83 10h0m-64-12h0m3-4h0m9-8h0m32 18h0m-54 3h0m67 2h0m-46-20h0m-27 5h0m24 9h0m28 0h0m-41 7h0m5-11h0m51-4h0m-57 7h0m54-9h0m-37 5h0m44-38h0m-29 37h0m-3 13h0m-13-15h0m19 11h0m-43-2h0m-1-14h0m5-4h0m22 15h0m-14-10h0m-8 14h0m2-8h0m2 1h0m14 11h0m31-2h0m-40 2h0m-20-2h0m19 2h0m0-10h0m-7 7h0m22-12h0m3-21h0m-14 32h0m-10 2h0m35-10h0m-15 9h0m-25-3h0m16-14h0m-4 10h0m18 8h0m-8-16h0m-20 13h0m29 2h0m-18 0h0m15-11h0m37-6h0m-49-3h0m0 15h0m-20-12h0m37 5h0m1-16h0m-17 18h0m4 6h0m-2-11h0m-11 16h0m10-6h0m11 1h0m-22-1h0m-10-13h0m-2 10h0m12-7h0m-7 16h0m19 0h0m22 2h0m66-1h0m-83 1h0m-6-20h0m-26 17h0m6-6h0m15-27h0m23 24h0m10 5h0m-41-3h0m41 11h0m-34-28h0m7 20h0m-14 6h0m5-5h0m28-31h0m-11 26h0m53 0h0m-55 6h0m-29-2h0m2 8h0m-1-7h0m24-9h0m-9-5h0m-8 13h0m84-11h0m-58 6h0m19 3h0m-44-17h0m11 16h0m18 6h0m-35-22h0m22 27h0m-17-15h0m12-22h0m2 36h0m103-8h0m-93-3h0m-21 5h0m5 5h0m7-3h0m27 0h0m-47 3h0m14-11h0m5-1h0m8-11h0m3 14h0m-16-5h0m17 8h0m-19 8h0m6-10h0m-20-4h0m18-2h0m7 3h0m26 11h0m-52 1h0m33-1h0m-21-12h0m-2-5h0m19 14h0m15 3h0m-22-11h0m-17 7h0m-7-50h0m1 47h0m39-7h0m-24 4h0m26 9h0m-40-28h0m54 27h0m-50-7h0m5-5h0m10 12h0m-3-4h0m25-9h0m-36 7h0m57 1h0m-29-15h0m9 21h0m-44-4h0m97-5h0m-92-20h0m7 8h0m11 23h0m-16-14h0m57 2h0m-24 4h0m-20 4h0m51 0h0m-61 4h0m59-7h0m4 5h0m-18-2h0m-10-1h0m-40-15h0m15 8h0m-16-18h0m41 21h0m-45 4h0m33-10h0m41 12h0m-66 1h0m-9-11h0m21 12h0m-11-4h0m13 2h0m53-4h0m-64-10h0m26-14h0m-4 23h0m-12-28h0m-19 28h0m41 8h0m41-38h0m-40 18h0m-27 15h0m-16-1h0m4-7h0m9 13h0m-13-15h0m38-2h0m56-9h0m-26 25h0m-57-6h0m6-15h0m8-30h0m-15 52h0m2-3h0m11 1h0m-10-22h0m-15 2h0m34 23h0m-30-12h0m-3-3h0m35 6h0m-18-15h0m8 20h0m-20 0h0m14-2h0m16 2h0m4-6h0m24 9h0m-19-12h0m-28 10h0m-7-9h0m45-2h0m-20-17h0m83 27h0m-66 2h0m3-6h0m-8-3h0m-18-5h0m5-6h0m-18 19h0m0-1h0m5-2h0m-6-9h0m4 10h0m-14-8h0m48 9h0m-7 0h0m-32-22h0m43 15h0m-26-21h0m23 23h0m-28 2h0m54 2h0m37-28h0m-97 30h0m11-10h0m21-14h0m-46 7h0m-2-5h0m76 17h0m-49-25h0m12 17h0m-30 10h0m54 4h0m-52-4h0m30-6h0m3 8h0m-48-12h0m14 6h0m-3-23h0m3 32h0m-14-1h0m60-20h0m-2 20h0m-39-5h0m23-9h0m12 3h0m-28 2h0m2-8h0m-16-11h0m20 16h0m-4-6h0m-8 6h0m57 9h0m-68-12h0m14 0h0m4 16h0m-2-18h0m-10 20h0m41-12h0m-48 2h0m-8 0h0m80 3h0m-61-34h0m-10 32h0m15-4h0m-2-46h0m27 56h0m-42-10h0m12-36h0m5 37h0m22-38h0m38 33h0m-56-10h0m-4 27h0m2-10h0m67 7h0m-39 0h0m-40-13h0m25 12h0m30-26h0m-59 21h0m55 8h0m-50-16h0m15 6h0m59 7h0m-82-2h0m5-2h0m52 2h0m-48-11h0m32-12h0m-29 9h0m-14 16h0m13-5h0m22-22h0m18-2h0m-21 8h0m-30 10h0m-6 3h0m24 4h0m-14-9h0m22-19h0m-27 27h0m22 3h0m5-10h0m-29 12h0m27-2h0m10-2h0m-22 1h0m16 3h0m-11 3h0m-8-31h0m28-6h0m-33-13h0m7 48h0m40 2h0m-27-19h0m-5 6h0m-8 6h0m45-5h0m-47-6h0m21 7h0m-1 8h0m18-15h0m4 5h0m-38-2h0m-6-7h0m-10 16h0m8-4h0m-13 4h0m27-9h0m5 13h0m23-18h0m8 18h0m-52-7h0m-8-12h0m11 10h0m5-5h0m-10 13h0m20-8h0m31 7h0m-4 3h0m-23-26h0m-8 25h0m24-27h0m-45 23h0m38 5h0m36-6h0m-46 1h0m-19-3h0m-8-18h0m24 21h0m-17-17h0m8 9h0m-12 14h0m17-8h0m59 7h0m-57-39h0m2 37h0m-8-26h0m-20 28h0m57-16h0m-30-2h0m-5 7h0m12 4h0m-22 0h0m-2-14h0m11 10h0m-7-9h0m-10 6h0m21 5h0m5 1h0m-17 6h0m24-7h0m-14-2h0m-17 1h0m31 11h0m-38-10h0m130 8h0m-116-7h0m24-14h0m-25 24h0m-3-6h0m57-6h0m21-11h0m-22 12h0m-41-7h0m-10 3h0m-10 10h0m67 0h0m-63-1h0m-7-16h0m27 6h0m2-12h0m-17 22h0m8-10h0m35 6h0m-41 2h0m39 3h0m-38-5h0m29 0h0m-20-33h0m-20 40h0m27-13h0m-32 15h0m47-36h0m-38 21h0m21 4h0m27-2h0m42 4h0m-92 0h0m44 8h0m5-12h0m-34 3h0m-13 1h0m5 7h0m-5-2h0m-9 1h0m22-27h0m8-4h0m4 16h0m-28 18h0m13-3h0m-10-8h0m41 4h0m-24-13h0m11 18h0m-18-2h0m28 0h0m-34 0h0m26-1h0m-6 0h0m-10-17h0m-18 21h0m61-9h0m-13 1h0m-19-5h0m29 8h0m-25-2h0m-35-7h0m22 7h0m10-1h0m42-11h0m-55 9h0m33-8h0m76-3h0m-120 1h0m36 2h0m10 13h0m-34 1h0m-17-29h0m45 16h0m12 16h0m2-5h0m-35 5h0m-14-6h0m4 6h0m32-6h0m-51-5h0m19-4h0m42 8h0m-51-4h0m11 12h0m1 0h0m-6-1h0m49-2h0m-26-8h0m-3-16h0m24 22h0m-31-2h0m-18-40h0m95 29h0m-92 10h0m26 1h0m-34-17h0m69 21h0m-69-34h0m7 33h0m-12-51h0m43 51h0m-15-1h0m-5-37h0m-21 26h0m45 8h0m11-12h0m-12 18h0m-24-16h0m-13-16h0m39 25h0m-44 3h0m11-4h0m67 5h0m-51-3h0m-16-1h0m16 4h0m-16-3h0m34-17h0m-13 17h0m-21 5h0m6-10h0m-16-6h0m8 18h0m124-19h0m-61 12h0m-68-6h0m70 8h0m-68-22h0m21 26h0m10-12h0m-16 5h0m34 2h0m-50 5h0m41-10h0m-9-4h0m-14-6h0m39-14h0m-20 26h0m-42 10h0m7-24h0m22 12h0m-33 5h0m84 5h0m-63-22h0m-2 14h0m1-7h0m19 15h0m-18-17h0m-17 11h0m63-11h0m-7 12h0m-45-5h0m-7 3h0m24 0h0m54-14h0m-71-11h0m-4 3h0m-1 26h0m-1-12h0m0-6h0m1-38h0m90 61h0m-84-3h0m-12-12h0m49-1h0m-26-3h0m-12-11h0m52 26h0m-52-3h0m60-8h0m-74-11h0m26 24h0m-8-7h0m57 0h0m-35 4h0m-41 1h0m14-16h0m-15 9h0m49-10h0m-39 20h0m27-3h0m-37 0h0m43 2h0m-31-4h0m3 7h0m-2-6h0m0-17h0m-13-8h0m25-7h0m1 22h0m-19-7h0m11 10h0m1-7h0m4 14h0m24-15h0m-21-11h0m15 32h0m-9-1h0m-22-16h0m55-31h0m-45 49h0m-10-6h0m19-16h0m-7-11h0m-23 26h0m13-4h0m37-7h0m-16 15h0m23-17h0m-40-4h0m9-3h0m3 17h0m3-19h0m-32 23h0m29-6h0m-14 7h0m53-7h0m-29-1h0m-3 2h0m-7-5h0m-28-4h0m40 19h0m30-24h0m-69 20h0m28 1h0m-21-20h0m-6 3h0m6-1h0m17-12h0m-1 16h0m0-11h0m-14 14h0m-11-1h0m10 1h0m44-11h0m-2 3h0m3 10h0m55-16h0m-36 13h0m-26-2h0m-30 4h0m-1-5h0m5 4h0m14-3h0m-25 7h0m52-10h0m-44 5h0m45-7h0m-17 0h0m-39 15h0m26-24h0m-18 26h0m12-36h0m7 37h0m-4-19h0m1 1h0m8-12h0m-12 25h0m-24 0h0m29-4h0m-14 13h0m16-7h0m30-1h0m-28 2h0m-9-25h0m-3 4h0m-1 20h0m24-1h0m-5-16h0m-30 24h0m69-27h0m-80 16h0m57-6h0m46-2h0m-57-11h0m-41 2h0m-1 18h0m61-4h0m-7 12h0m-6-13h0m-16 13h0m-16-11h0m12-2h0m-13-3h0m82 9h0m-44-9h0m-34-18h0m38 27h0m-36 5h0m-6-18h0m39 13h0m-13-5h0m9-45h0m-20 33h0m-11-5h0m11 26h0m-4 3h0m-26-13h0m53 8h0m-17 1h0m20-10h0m-37 16h0m-21-21h0m4 9h0m3-13h0m0 18h0m58-11h0m-64 13h0m2-1h0m13-19h0m5 21h0m25-20h0m32 12h0m-47-2h0m-22-3h0m-3 16h0m-7-11h0m4 10h0m59-15h0m-56-1h0m2 14h0m-10-9h0m33-10h0m-2 15h0m5 2h0m-9 4h0m51-8h0m-72-1h0m32 8h0m-13-11h0m-18 1h0m44 12h0m-46-22h0m45 18h0m-3-7h0m3-33h0m-47 34h0m32-14h0m34 14h0m17 0h0m-77 2h0m35 6h0m-35-23h0m34 7h0m-14 10h0m61-2h0m-73-14h0m17 19h0m-33-16h0m30 15h0m5 0h0m-8 2h0m-3-23h0m14 16h0m-7 8h0m-35-5h0m27-1h0m-18-9h0m19 8h0m-3-5h0m48 6h0m-56-4h0m23-2h0m5 9h0m-16 5h0m8-36h0m10 19h0m-30 7h0m9-20h0m10-1h0m9 17h0m-27 2h0m48-10h0m-38 0h0m-17 20h0m14-36h0m-11 22h0m108 10h0m-63 0h0m-39-2h0m33 0h0m-34 0h0m12-10h0m3 16h0m36-3h0m-17 1h0m-48-4h0m31 4h0m-12 4h0m4 2h0m22-10h0m-29 3h0m23-5h0m28-9h0m-43 3h0m3 11h0m0-3h0m36 4h0m-50-14h0m-18 18h0m46-29h0m-18 29h0m-11-5h0m32 1h0m6-17h0m-27 10h0m-12 2h0m6 7h0m13-13h0m-30 18h0m41-43h0m33 34h0m-5-7h0m-69 10h0m40 3h0m-19-27h0m-7 11h0m58 13h0m-54-10h0m-20 12h0m34-11h0m-29-1h0m68 9h0m-65-11h0m-2-1h0m28 17h0m-21-7h0m68-3h0m-65-28h0m1 30h0m62 9h0m-29-32h0m-30 24h0m-12 1h0m29-3h0m-30-6h0m9 13h0m2-19h0m13-10h0m-27-26h0m24 33h0m26 23h0m-25-15h0m-2 5h0m66 10h0m-86-10h0m46 9h0m-5-8h0m-19 7h0m-14 4h0m46-8h0m-24-12h0m-36 10h0m59 7h0m-17-11h0m-31 1h0m35-11h0m-14 4h0m11 8h0m-25 3h0m28-11h0m-20 15h0m-18-1h0m6 5h0m-14-3h0m42-13h0m-43-2h0m82 12h0m-8 5h0m-41-23h0m-30 7h0m30 17h0m-32-15h0m2-6h0m46 13h0m-49-20h0m134 28h0m-96-5h0m22-7h0m-56-12h0m17-6h0m2 20h0m-15-12h0m14-7h0m-1 3h0m33-25h0m-33 39h0m2 11h0m-12 0h0m0-18h0m52 8h0m5-6h0m-63-4h0m35 14h0m26 0h0m-46 6h0m43-15h0m-3-3h0m-38-32h0m22 27h0m-34 6h0m5-5h0m6 1h0m6 15h0m24 1h0m-38 2h0m9 0h0m46-4h0m-42-4h0m-19 11h0m7 0h0m5-1h0m6-32h0m-27 16h0m72 15h0m-15 4h0m-40-49h0m66 32h0m-28 8h0m-27-1h0m2-2h0m15 4h0m-29-2h0m15 7h0m46-8h0m-54-15h0m12 0h0m29-7h0m-44 3h0m19 21h0m14-2h0m17-5h0m33-71h0m-16 55h0m-79-24h0m-7 54h0m67-2h0m-29-4h0m3 5h0m-27-7h0m6 3h0m13 4h0m-9-9h0m22 11h0m-45 0h0m36-15h0m20-4h0m-38-3h0m2 16h0m-19-6h0m23-5h0m67 3h0m-80-22h0m35 30h0m-42-36h0m2 35h0m49-21h0m-27 25h0m67-5h0m-81-8h0m100 15h0m-86-15h0m54 13h0m-64-4h0m-9-3h0m69 7h0m-54-10h0m68 13h0m-31-4h0m-53-6h0m9-15h0m54 17h0m-69-15h0m46 19h0m-42-19h0m25 7h0m20 5h0m-42-7h0m14 3h0m4 6h0m14-28h0m-13 16h0m16 21h0m-10-15h0m16-3h0m-26 3h0m-25 8h0m22-27h0m-14 11h0m45 17h0m-38-4h0m22-4h0m13 10h0m-10 1h0m-19 4h0m48-19h0m-45 14h0m16 3h0m28-11h0m16 10h0m-54-33h0m71 27h0m-101-32h0m41 34h0m-34-31h0m-4 36h0m53-7h0m0-13h0m-56 0h0m10-8h0m9 21h0m92-22h0m-71 6h0m41-18h0m-75 24h0m23 20h0m-15-46h0m101 29h0m-23-2h0m-41 14h0m-12 4h0m43-13h0m-68-4h0m45-18h0m-38 26h0m1-1h0m1-14h0m5 24h0m8-14h0m-6-8h0m-29 7h0m33-15h0m56 30h0m-32-63h0m-6 42h0m48 3h0m-99-6h0m8-7h0m20-1h0m-30 22h0m29 6h0m3-8h0m-32 8h0m25-37h0m15 27h0m9-7h0m52 7h0m-54-7h0m-9 7h0m35-17h0m-5 31h0m-13-5h0m11-8h0m-61 7h0m24-11h0m30-3h0m-54 13h0m-3 7h0m13-13h0m-3-13h0m-4 13h0m38 13h0m15-7h0m-43 2h0m-12-40h0m44 29h0m4 11h0m-49-27h0m12 26h0m10 1h0m13-28h0m12 26h0m-35 2h0m36-5h0m-44-9h0m34 11h0m-36-18h0m83 25h0m-28-20h0m-35 18h0m-28-34h0m5 36h0m34-11h0m-22-11h0m11 17h0m-13-44h0m7 33h0m-17 9h0m17-24h0m-11 12h0m0-24h0m3 31h0m31-37h0m-21 35h0m21 5h0m-18 9h0m6-7h0m-11-27h0m-1 11h0m-2 15h0m20-2h0m-4 4h0m-28 4h0m60-3h0m-55 6h0m-6-8h0m0-7h0m17 12h0m4-34h0m-16 35h0m29-9h0m43 6h0m-76-24h0m11 14h0m34 12h0m-9-21h0m24 21h0m-56-16h0m27 10h0m24-10h0m-45 18h0m0-33h0m-8-1h0m36 22h0m-27-33h0m32 31h0m7 0h0m-57 4h0m66-24h0m-12 33h0m-27-22h0m17 20h0m2-11h0m-14 4h0m26-7h0m-39-10h0m32 13h0m40-13h0m-77 2h0m-9-8h0m69 32h0m35-39h0m-2 27h0m-91-4h0m61 7h0m-69 1h0m15-14h0m11-5h0m44-1h0m-68 23h0m-6 2h0m84-5h0m-1-12h0m-40 13h0m6-17h0m-51 23h0m81 1h0m-63-14h0m-5 16h0m17-41h0m5 26h0m-23-15h0m33-6h0m-20 36h0m-11-20h0m17-16h0m25 33h0m5-2h0m-56-7h0m54 0h0m-23-4h0m-16 0h0m1-1h0m50 8h0m-69-2h0m-1 5h0m10-18h0m11 24h0m34-14h0m-16 4h0m61 4h0m-32-14h0m-6-6h0m13 9h0m14 0h0m5 9h0m-26-3h0m-41-19h0m21 3h0m2-11h0m-44 34h0m26-24h0m40 12h0m-59-8h0m23 6h0m-20-35h0m59 29h0m-15 7h0m-29 5h0m81-46h0m-105 25h0m18 21h0m8 1h0m3-22h0m-23 10h0m0-8h0m-6 21h0m81-45h0m6 40h0m-34-39h0m22 17h0m8 5h0m-59-30h0m-19 44h0m49-6h0m-20-18h0m-21 1h0m17 39h0m40-2h0m44-1h0m-48-46h0m5 24h0m51 20h0m-30-20h0m-51 2h0m9-67h0m-3 61h0m-35-7h0m17 9h0m34-6h0m-47 17h0m-26-6h0m53-5h0m-44 27h0m-3-15h0m100 15h0m-47-8h0m3-120h0m22 3h0m-46 5h0" stroke="#e0401e" stroke-width="5.2" stroke-linecap="round" fill="none"/>
<path d="M1693.8 1552.7V1866.8M1720 1552.7V1866.8M1549.5 1856H1864.3" stroke="#000" stroke-width="2.0" stroke-dasharray="5 4" fill="none"/>
<path d="M1549.5 1551.6V1866.8H1864.3" fill="none" stroke="#000" stroke-width="2.1" stroke-linejoin="miter" stroke-linecap="square"/>
<path d="M1545 1866.8H1549.5M1545 1762.1H1549.5M1545 1657.4H1549.5M1545 1552.7H1549.5M1546.8 1814.5H1549.5M1546.8 1709.8H1549.5M1546.8 1605H1549.5M1575.7 1866.8V1871.3M1706.9 1866.8V1871.3M1838.1 1866.8V1871.3" stroke="#000" stroke-width="2.1" fill="none"/>
<text x="1543" y="1875.1" font-size="23" font-weight="bold" text-anchor="end">0</text>
<text x="1543" y="1770.4" font-size="23" font-weight="bold" text-anchor="end">20</text>
<text x="1543" y="1665.7" font-size="23" font-weight="bold" text-anchor="end">40</text>
<text x="1543" y="1561" font-size="23" font-weight="bold" text-anchor="end">60</text>
<text x="1575.7" y="1894" font-size="23" font-weight="bold" text-anchor="middle">-10</text>
<text x="1706.9" y="1894" font-size="23" font-weight="bold" text-anchor="middle">0</text>
<text x="1838.1" y="1894" font-size="23" font-weight="bold" text-anchor="middle">10</text>
<text x="1736.6" y="1752" font-size="16.6" font-weight="bold">CEACAM1</text>
<text x="1759.7" y="1774.5" font-size="16.6" font-weight="bold">CEACAM6</text>
<text x="1797.7" y="1795.7" font-size="16.6" font-weight="bold">CEACAM7</text>
<text x="1833" y="1832.9" font-size="16.6" font-weight="bold">CEACAM5</text>
<line x1="1745" y1="1754" x2="1738.7" y2="1836" stroke="#000" stroke-width="2.0"/>
<polygon points="1738,1845 1735.2,1835.8 1742.2,1836.3" fill="#000"/>
<line x1="1763.5" y1="1776" x2="1755.2" y2="1837.6" stroke="#000" stroke-width="2.0"/>
<polygon points="1754,1846.5 1751.7,1837.1 1758.7,1838" fill="#000"/>
<line x1="1799.3" y1="1795" x2="1767.9" y2="1839.2" stroke="#000" stroke-width="2.0"/>
<polygon points="1762.7,1846.5 1765.1,1837.1 1770.8,1841.2" fill="#000"/>
<line x1="1851" y1="1818" x2="1847.3" y2="1813.8" stroke="#000" stroke-width="1.5"/>
<polygon points="1844,1810 1849.2,1812.1 1845.4,1815.4" fill="#000"/>
<circle cx="1738" cy="1843" r="2.8" fill="#e2441b" stroke="#f0901e" stroke-width="1.4"/>
<circle cx="1754" cy="1846" r="2.8" fill="#e2441b" stroke="#f0901e" stroke-width="1.4"/>
<circle cx="1763" cy="1846" r="2.8" fill="#e2441b" stroke="#f0901e" stroke-width="1.4"/>
<circle cx="1842.5" cy="1810" r="2.8" fill="#e2441b" stroke="#f0901e" stroke-width="1.4"/>
<text transform="translate(1505.5,1712) rotate(-90)" font-size="28" font-weight="bold" text-anchor="middle">P-value (-log<tspan font-size="13.2" dy="4.8">10</tspan><tspan dy="-4.8">)</tspan></text>
<text x="1720.5" y="1928.0" font-size="28.9" font-weight="bold" text-anchor="middle">Fold change (log<tspan font-size="13.0" dy="5.2">2</tspan><tspan dy="-5.2">)</tspan></text>
<text transform="translate(5.9,2002.9) scale(1.169,1)" font-size="49.4" font-weight="bold">I</text>
<text x="312.2" y="1998.3" font-size="36.8" font-weight="bold" text-anchor="middle">NT</text>
<text x="840" y="1998.3" font-size="35.7" font-weight="bold" text-anchor="middle">GBC</text>
<text transform="translate(55.6,2131.7) rotate(-90)" font-size="28.3" font-weight="bold" text-anchor="middle">Intensity score 0</text>
<text transform="translate(55.6,2371.5) rotate(-90)" font-size="28.3" font-weight="bold" text-anchor="middle">Intensity score 3</text>
<text transform="translate(589.6,2131.7) rotate(-90)" font-size="28.3" font-weight="bold" text-anchor="middle">Intensity score 0</text>
<text transform="translate(589.6,2371.5) rotate(-90)" font-size="28.3" font-weight="bold" text-anchor="middle">Intensity score 3</text>
<defs><filter id="texw" x="0" y="0" width="1" height="1" color-interpolation-filters="sRGB"><feTurbulence type="fractalNoise" baseFrequency="0.05 0.09" numOctaves="3" seed="3" result="n"/><feColorMatrix in="n" values="0 0 0 0 1  0 0 0 0 1  0 0 0 0 1  2.2 0 0 0 -0.95" result="c"/><feComposite in="c" in2="SourceGraphic" operator="in"/></filter><filter id="texd" x="0" y="0" width="1" height="1" color-interpolation-filters="sRGB"><feTurbulence type="fractalNoise" baseFrequency="0.07" numOctaves="3" seed="5" result="n"/><feColorMatrix in="n" values="0 0 0 0 0.42  0 0 0 0 0.52  0 0 0 0 0.78  2.0 0 0 0 -0.9" result="c"/><feComposite in="c" in2="SourceGraphic" operator="in"/></filter><filter id="texbr" x="0" y="0" width="1" height="1" color-interpolation-filters="sRGB"><feTurbulence type="fractalNoise" baseFrequency="0.09" numOctaves="3" seed="7" result="n"/><feColorMatrix in="n" values="0 0 0 0 0.18  0 0 0 0 0.07  0 0 0 0 0.02  2.6 0 0 0 -1.05" result="c"/><feComposite in="c" in2="SourceGraphic" operator="in"/></filter><filter id="texlb" x="0" y="0" width="1" height="1" color-interpolation-filters="sRGB"><feTurbulence type="fractalNoise" baseFrequency="0.06" numOctaves="3" seed="9" result="n"/><feColorMatrix in="n" values="0 0 0 0 0.95  0 0 0 0 0.93  0 0 0 0 0.9  2.4 0 0 0 -1.0" result="c"/><feComposite in="c" in2="SourceGraphic" operator="in"/></filter><filter id="bl2"><feGaussianBlur stdDeviation="1.6"/></filter><filter id="bl4"><feGaussianBlur stdDeviation="4"/></filter><clipPath id="c1"><rect x="69.2" y="2019.2" width="229.3" height="229.3"/></clipPath><clipPath id="c2"><rect x="306" y="2019.2" width="229.5" height="229.3"/></clipPath><clipPath id="c3"><rect x="69.2" y="2256" width="229.3" height="229"/></clipPath><clipPath id="c4"><rect x="306" y="2256" width="229.5" height="229"/></clipPath><clipPath id="c5"><rect x="601.3" y="2019.2" width="229.7" height="228.5"/></clipPath><clipPath id="c6"><rect x="837.9" y="2019.2" width="228.5" height="228.5"/></clipPath><clipPath id="c7"><rect x="601.3" y="2255.7" width="229.7" height="228.6"/></clipPath><clipPath id="c8"><rect x="837.9" y="2255.7" width="228.5" height="228.6"/></clipPath></defs>
<g clip-path="url(#c1)">
<rect x="69" y="2019" width="230" height="230" fill="#ebebe9"/>
<path d="M69,2068 C85,2066 100,2068 112,2072 C120,2074 124,2086 130,2094 C136,2100 146,2104 156,2098 C162,2094 164,2086 170,2088 C176,2092 178,2104 186,2108 C196,2112 204,2104 210,2112 C222,2126 236,2146 250,2166 C266,2188 284,2212 299,2236 L299,2249 L69,2249 Z" fill="#d2dbe9"/>
<path d="M69,2068 C85,2066 100,2068 112,2072 C120,2074 124,2086 130,2094 C136,2100 146,2104 156,2098 C162,2094 164,2086 170,2088 C176,2092 178,2104 186,2108 C196,2112 204,2104 210,2112 C222,2126 236,2146 250,2166 C266,2188 284,2212 299,2236 L299,2249 L69,2249 Z" fill="#000" filter="url(#texw)" opacity="0.7"/>
<path d="M69,2068 C85,2066 100,2068 112,2072 C120,2074 124,2086 130,2094 C136,2100 146,2104 156,2098 C162,2094 164,2086 170,2088 C176,2092 178,2104 186,2108 C196,2112 204,2104 210,2112 C222,2126 236,2146 250,2166 C266,2188 284,2212 299,2236 L299,2249 L69,2249 Z" fill="#000" filter="url(#texd)" opacity="0.35"/>
<g fill="none" stroke="#4d70cc" stroke-linecap="round" opacity="0.85"><path d="M99 2157l0 1m0 81l-1 2m122-125l2 1m-35 97l0 3m9-63l1 2m56 68l2 1m-167 4l0 1m27 1l1 1m34-81l-2 1m-74-57l-2 0m191 78l1 1m-3-23l2 1m-151-69l1 0m69 139l1 1m111 14l1 2m-21-34l2 0m-152-74l2 0m-21 26l2 1m-29-72l0 2m138 42l1 1m-127 38l-3 0m-2 44l-1 1m46-4l1 1m53-94l-1 2m-18 47l-1 2m86 14l-2 1m-30-55l-1 1m14 83l0 3m-131-37l1 2m0-21l-1 1m92-73l0 1m-22 51l-2 2m-62-9l0 1m14 3l-2 2m-37 10l-3 1m195 86l1 2m-177-6l-2 1m128-98l1 1m-118 19l2 1m38-59l-1 2m134 139l-1 1m-119-99l3 0m-86 12l-1 1m144-56l2 0m-146 79l1 1m79-50l-1 3m-44 43l2 0m85 7l-2 2m92 35l-1 0m-171-75l-1 1m13 55l-1 2m-51-88l3 0m61 61l1 2m-20 58l1 1m35-37l-2 1m13-107l-2 1m60 45l1 2m7 99l-2 1m-57-78l-2 2m38 19l2 1m-22-58l-1 2m-46 31l1 2m33-47l2 2m68 55l-1 2m-32-63l2 0m43 138l-3 1m-149-140l1 1m-35 128l1 2m166-26l1 2m-107-108l1 1m11 18l-1 1m-27 108l1 1m-13-73l-1 2m80 50l2 1m-98-132l0 3m51-1l0 2m72 29l-2 1m-62 103l3 0m9-97l0 1m126 58l-2 2m-202 20l2 1m-14-37l0 1m70-40l-1 1m69 109l1 0m-90-143l1 0m59 88l1 1m-51-89l0 2m-45 47l1 2m158 46l2 1m-95-99l2 0m40-10l0 2m-43 108l0 2m-18-5l2 2m103 1l2 2m-66-16l2 2m-45-89l0 2m56 106l-2 1m-52 29l-2 2m40-7l2 2m-53-95l2 0m-44-13l-1 1m124 4l0 2m-90-18l-1 2m50-32l0 1m-35 37l0 1m79 98l2 0m-81-31l0 2m73-61l0 1m-23-24l-1 2m-35-29l0 1m34 71l3 0m36-43l-1 2m-31 64l-1 2m-87-63l1 2m50-30l0 1m-51 105l0 2m65-28l0 3m-17-26l-2 1m-64 43l0 1m99-64l1 2m-13 115l0 1m65-95l2 1m65 43l1 0m-155 37l1 1m-33-59l2 0m133 23l0 2m-89-109l1 2m6 55l0 1m113 74l2 0m-161-93l-1 1m9 109l-2 1m109-68l0 1m-140-79l1 2m27 117l1 3m113-78l-2 1m-104 19l-2 0m87 96l2 1m-49-136l0 2m25 68l-2 1m-105 49l1 1m69-102l-2 1m2 39l1 1m-20 47l-1 1m106 2l0 2m14-9l0 2m-174-126l2 0m37 147l1 0m-46-120l-1 2m150 58l2 0m-102-36l2 2m-13 67l-2 2m23-54l-2 1m105 85l-1 0m-94-153l-2 2m-48 30l-1 2m131 108l-1 0m32-3l0 1m-92-95l-2 1m140 63l-1 1m-153 0l-2 1m76 19l-1 1m58-43l2 0m-136 48l1 1m10-2l-1 1m-53-33l-1 0m34-78l-2 2m69 4l2 0m31 79l2 1m-77 3l0 2m-4-3l0 2m2 40l0 2m-22-9l-2 2m131-9l-2 2m-15-11l0 1m46-8l-1 2m-109-132l1 1m-56 49l0 1m-18 107l2 1m24-111l0 2m37 8l-1 1m-65-49l-1 1m153 45l-1 0m-39-31l1 3m-35-5l1 1m83 37l-1 2m-89-58l-1 1m74 98l-2 0m-154-105l1 1m164 120l-2 1m-80-129l-1 1m-61 116l1 1m32-84l2 0m-19 85l2 1m-6-45l0 2m77 75l1 0m-69-153l0 3m73 135l-1 1m-66-66l-1 1m-27-29l2 2m175 107l-1 2m-189-58l2 0m148 53l2 2m-34-81l-2 1m49 36l-1 1m-46 14l-1 2m-110-57l1 2m133 44l-3 1m-117-1l-1 0m115-15l-1 1m-19-43l-2 1m51 22l0 1m-125 9l2 0m77-1l1 1m-10-35l2 1m53 36l-2 0m-147-28l-2 0m85 38l-1 2m-99-36l-1 1m72 67l-1 1m-2 21l3 1m50-22l0 1m-127-75l-1 1m75-5l0 2m90 19l1 2m-145 82l0 2m98-145l1 2m-28 57l-2 0m46-20l-2 1m8 72l-2 0m-27-6l-1 1m-98-89l-1 1m45 49l1 2m4-23l-1 1m126 85l2 1m-144 12l-2 1m140-67l3 0m-160-77l2 2m73-7l-1 0m-18 63l0 3m97-3l-1 1m-156-15l0 2m90-62l0 2m-62 126l1 2m-27-48l1 3m182 51l0 1m-199-24l2 1m82 3l1 1" stroke-width="1.5"/><path d="M84 2175l-1 0m1-36l2 2m109 45l-1 2m-91-8l1 1m-23 31l-1 2m133-83l-1 1m-69 34l1 0m127 26l-1 1m-99-24l2 0m-83 10l0 2m-5-31l-1 0m109-32l2 2m-92 51l2 1m39 20l0 1m-67-56l0 2m142 7l2 2m-110 56l-1 2m159-31l-1 0m-185 48l-1 2m54 20l-2 1m-55-63l-2 0m136 37l-1 1m-63 16l1 1m-38-36l-3 0m170 44l0 1m-148-73l-2 2m-1 15l0 2m-33-92l0 2m70-6l-1 2m-29 122l-1 0m131-50l0 1m-12-2l2 1m-162-34l-1 1m104 26l-2 0m33 16l1 1m-132-12l2 0m183 54l-1 2m6 23l1 0m-1-36l0 2m-169-100l-1 2m85-35l-1 1m-127 59l0 2m210 77l1 2m-60-68l-1 1m-133 48l1 2m153 38l-1 0m-168-167l0 2m43 161l0 1m95-58l2 0m-50-30l0 2m-35 53l1 0m-48-69l-2 1m132 71l-2 0m-72-120l0 1m89 93l0 1m-90-96l0 1m77 76l-1 0m-133-75l0 2m15 89l0 1m25 54l0 1m25-86l1 2m-43 68l-1 0m47-121l-1 2m-6 9l-1 0m-9-16l-2 0m91 38l2 1m28 12l1 2m-120-1l2 1m-22 67l1 0m-30-106l1 1m114 37l1 0m-110 80l0 1m143-28l2 1m-104 13l1 1m-34-99l1 1m44 22l0 1m-69 17l-2 1m118 24l-1 2m104 13l2 0m-87-49l1 1m69 78l-1 1m-131-114l0 2m66 71l0 2" stroke-width="2.0"/></g>
</g>
<g clip-path="url(#c2)">
<rect x="306" y="2019" width="230" height="230" fill="#ebebe9"/>
<path d="M306,2039 C325,2040 340,2046 349,2053 C356,2062 356,2082 363,2091 C372,2102 384,2108 398,2106 C414,2103 426,2090 436,2085 C446,2080 452,2076 458,2079 C464,2086 464,2100 472,2104 C484,2108 498,2104 508,2106 C516,2110 518,2120 522,2126 C528,2128 532,2118 536,2114 L536,2249 L306,2249 Z" fill="#d4ddea"/>
<circle cx="523" cy="2140" r="11" fill="#ebebe9"/>
<path d="M306,2039 C325,2040 340,2046 349,2053 C356,2062 356,2082 363,2091 C372,2102 384,2108 398,2106 C414,2103 426,2090 436,2085 C446,2080 452,2076 458,2079 C464,2086 464,2100 472,2104 C484,2108 498,2104 508,2106 C516,2110 518,2120 522,2126 C528,2128 532,2118 536,2114 L536,2249 L306,2249 Z" fill="#000" filter="url(#texw)" opacity="0.75"/>
<g fill="#4a6ccc" opacity="0.9"><ellipse cx="309.8" cy="2046.9" rx="2.2" ry="3.4"/><ellipse cx="312.3" cy="2045.8" rx="2.2" ry="3.4"/><ellipse cx="316.5" cy="2048.8" rx="2.2" ry="3.4"/><ellipse cx="323.8" cy="2051.4" rx="2.2" ry="3.4"/><ellipse cx="329.7" cy="2057.0" rx="2.2" ry="3.4"/><ellipse cx="333.9" cy="2054.2" rx="2.2" ry="3.4"/><ellipse cx="339.9" cy="2054.1" rx="2.2" ry="3.4"/><ellipse cx="344.9" cy="2061.4" rx="2.2" ry="3.4"/><ellipse cx="350.1" cy="2057.7" rx="2.2" ry="3.4"/><ellipse cx="349.3" cy="2062.6" rx="2.2" ry="3.4"/><ellipse cx="350.4" cy="2067.7" rx="2.2" ry="3.4"/><ellipse cx="351.2" cy="2070.2" rx="2.2" ry="3.4"/><ellipse cx="354.5" cy="2076.8" rx="2.2" ry="3.4"/><ellipse cx="355.6" cy="2077.8" rx="2.2" ry="3.4"/><ellipse cx="358.6" cy="2081.5" rx="2.2" ry="3.4"/><ellipse cx="359.0" cy="2088.8" rx="2.2" ry="3.4"/><ellipse cx="362.4" cy="2093.2" rx="2.2" ry="3.4"/><ellipse cx="363.2" cy="2099.7" rx="2.2" ry="3.4"/><ellipse cx="363.7" cy="2101.7" rx="2.2" ry="3.4"/><ellipse cx="366.5" cy="2101.0" rx="2.2" ry="3.4"/><ellipse cx="368.3" cy="2100.3" rx="2.2" ry="3.4"/><ellipse cx="372.9" cy="2102.5" rx="2.2" ry="3.4"/><ellipse cx="377.6" cy="2104.4" rx="2.2" ry="3.4"/><ellipse cx="381.4" cy="2110.8" rx="2.2" ry="3.4"/><ellipse cx="383.0" cy="2108.7" rx="2.2" ry="3.4"/><ellipse cx="388.4" cy="2109.3" rx="2.2" ry="3.4"/><ellipse cx="390.6" cy="2115.0" rx="2.2" ry="3.4"/><ellipse cx="391.6" cy="2117.3" rx="2.2" ry="3.4"/><ellipse cx="397.7" cy="2113.5" rx="2.2" ry="3.4"/><ellipse cx="402.1" cy="2108.1" rx="2.2" ry="3.4"/><ellipse cx="409.5" cy="2107.1" rx="2.2" ry="3.4"/><ellipse cx="415.2" cy="2101.8" rx="2.2" ry="3.4"/><ellipse cx="417.3" cy="2102.0" rx="2.2" ry="3.4"/><ellipse cx="422.8" cy="2095.0" rx="2.2" ry="3.4"/><ellipse cx="429.2" cy="2096.6" rx="2.2" ry="3.4"/><ellipse cx="434.4" cy="2094.3" rx="2.2" ry="3.4"/><ellipse cx="434.8" cy="2091.0" rx="2.2" ry="3.4"/><ellipse cx="438.0" cy="2092.5" rx="2.2" ry="3.4"/><ellipse cx="439.3" cy="2091.6" rx="2.2" ry="3.4"/><ellipse cx="442.3" cy="2093.5" rx="2.2" ry="3.4"/><ellipse cx="446.6" cy="2087.4" rx="2.2" ry="3.4"/><ellipse cx="447.5" cy="2086.8" rx="2.2" ry="3.4"/><ellipse cx="451.5" cy="2088.5" rx="2.2" ry="3.4"/><ellipse cx="455.8" cy="2088.7" rx="2.2" ry="3.4"/><ellipse cx="457.8" cy="2087.4" rx="2.2" ry="3.4"/><ellipse cx="458.2" cy="2085.1" rx="2.2" ry="3.4"/><ellipse cx="458.4" cy="2088.9" rx="2.2" ry="3.4"/><ellipse cx="461.8" cy="2090.2" rx="2.2" ry="3.4"/><ellipse cx="463.0" cy="2092.5" rx="2.2" ry="3.4"/><ellipse cx="462.7" cy="2100.2" rx="2.2" ry="3.4"/><ellipse cx="466.7" cy="2104.0" rx="2.2" ry="3.4"/><ellipse cx="467.7" cy="2103.5" rx="2.2" ry="3.4"/><ellipse cx="470.5" cy="2109.1" rx="2.2" ry="3.4"/><ellipse cx="471.6" cy="2114.6" rx="2.2" ry="3.4"/><ellipse cx="469.0" cy="2114.8" rx="2.2" ry="3.4"/><ellipse cx="472.9" cy="2112.6" rx="2.2" ry="3.4"/><ellipse cx="478.3" cy="2108.9" rx="2.2" ry="3.4"/><ellipse cx="484.2" cy="2109.9" rx="2.2" ry="3.4"/><ellipse cx="489.6" cy="2111.7" rx="2.2" ry="3.4"/><ellipse cx="492.2" cy="2108.7" rx="2.2" ry="3.4"/><ellipse cx="498.5" cy="2113.2" rx="2.2" ry="3.4"/><ellipse cx="503.6" cy="2111.6" rx="2.2" ry="3.4"/><ellipse cx="508.7" cy="2109.2" rx="2.2" ry="3.4"/><ellipse cx="508.7" cy="2114.4" rx="2.2" ry="3.4"/><ellipse cx="507.3" cy="2118.5" rx="2.2" ry="3.4"/><ellipse cx="509.1" cy="2119.5" rx="2.2" ry="3.4"/><ellipse cx="511.6" cy="2121.7" rx="2.2" ry="3.4"/><ellipse cx="515.8" cy="2120.3" rx="2.2" ry="3.4"/><ellipse cx="515.7" cy="2128.4" rx="2.2" ry="3.4"/><ellipse cx="518.2" cy="2125.8" rx="2.2" ry="3.4"/><ellipse cx="518.5" cy="2128.2" rx="2.2" ry="3.4"/><ellipse cx="520.4" cy="2132.5" rx="2.2" ry="3.4"/><ellipse cx="523.1" cy="2133.2" rx="2.2" ry="3.4"/><ellipse cx="522.0" cy="2131.0" rx="2.2" ry="3.4"/><ellipse cx="525.2" cy="2130.1" rx="2.2" ry="3.4"/><ellipse cx="527.4" cy="2130.3" rx="2.2" ry="3.4"/><ellipse cx="529.5" cy="2127.8" rx="2.2" ry="3.4"/><ellipse cx="528.2" cy="2127.9" rx="2.2" ry="3.4"/><ellipse cx="532.9" cy="2126.1" rx="2.2" ry="3.4"/><ellipse cx="533.1" cy="2125.7" rx="2.2" ry="3.4"/><ellipse cx="533.4" cy="2123.2" rx="2.2" ry="3.4"/></g>
<g fill="none" stroke="#4d70cc" stroke-linecap="round" opacity="0.8"><path d="M440 2192l6 1m-99-37l-1 3m112 84l-2 2m-76-87l3 4m64 15l0 2m-97 26l-3 0m91-67l1 5m9 70l1 2m11-25l5 2m-64 2l0 4m114 34l0 3m-131-48l-4 2m106-4l-1 5m-1 24l2 1m-176-134l4 5m95 56l5 3m-81 26l-4 1m84 51l-1 5m-68-140l-2 4m1 75l5 1m12 17l-3 2" stroke-width="2.5"/><path d="M438 2191l-2 2m-101-20l-2 2m18-40l0 5m62 21l-2 3m-68-41l0 3m164 13l4 2m-89-8l4 2m9 7l3 0m-49-38l-4 1m-48 85l2 5m8-2l-4 3m53 27l-1 2m90-106l1 2m-74 25l-2 4m-100 23l-3 2m66-12l2 2m-36 37l0 3m20-64l-1 4m162 38l4 2m-154-36l-2 2m129 15l-4 1m0-11l-3 4m-78 80l1 5m-72-109l-5 2m179 23l-3 3m-21 62l2 1m-94-126l-4 1m-59 49l-3 3m57-67l3 1m87 59l3 4m21 22l-2 5m-165-91l-1 2m197 39l1 4m-163 46l-1 4m21 45l1 1m82-33l-2 1" stroke-width="3.0"/><path d="M424 2153l2 0m-46 42l2 1m-53 3l0 4m152-43l2 1m-143-45l2 4m134 106l2 4m-130-99l1 2m160 39l3 3m17-29l1 4m-144-28l0 1m-4-9l2 3m31 39l-1 2m20-46l-3 1m47 111l-3 0m-6-113l-2 0m-7 91l-3 1m-86-28l-1 1m23 32l1 2m-68-3l-2 0m10-48l-3 3m24-46l0 2m-22-16l-1 1m141 32l2 2m-143-31l4 1m100 9l-3 0m12 98l-1 2m-27 22l-3 1m-33-101l-1 4m16 10l4 1m-51 26l4 2m-6 26l2 0m147-47l2 2m-7-3l-1 2" stroke-width="3.5"/></g>
</g>
<g clip-path="url(#c3)">
<rect x="69" y="2256" width="230" height="230" fill="#d6deeb"/>
<path d="M69,2256 H299 V2326 C270,2314 240,2300 220,2295 C200,2291 180,2288 160,2284 C130,2280 100,2274 69,2271 Z" fill="#ebebe9"/>
<path d="M69,2436 C110,2446 160,2466 210,2486 L69,2486 Z" fill="#d9cbbd" filter="url(#bl4)"/>
<path d="M69,2256 H299 V2486 H69 Z" fill="none"/>
<path d="M69,2280 H299 V2486 H69 Z" fill="#000" filter="url(#texw)" opacity="0.7"/>
<path d="M69,2286 C100,2291 130,2296 160,2300 C180,2304 200,2307 220,2311 C240,2316 270,2330 299,2342 L299,2352 C270,2340 240,2326 220,2322 C200,2318 180,2314 160,2311 C130,2307 100,2302 69,2298 Z" fill="#c4a285" opacity="0.75" filter="url(#bl2)"/>
<path d="M69,2271 C100,2274 130,2280 160,2284 C180,2288 200,2291 220,2295 C240,2300 270,2314 299,2326 L299,2343 C270,2331 240,2317 220,2312 C200,2308 180,2305 160,2301 C130,2297 100,2292 69,2288 Z" fill="#5a3214"/>
<path d="M69,2271 C100,2274 130,2280 160,2284 C180,2288 200,2291 220,2295 C240,2300 270,2314 299,2326 L299,2343 C270,2331 240,2317 220,2312 C200,2308 180,2305 160,2301 C130,2297 100,2292 69,2288 Z" fill="#000" filter="url(#texbr)" opacity="0.9"/>
<g fill="none" stroke="#4a66b8" stroke-linecap="round" opacity="0.9"><path d="M154 2285l0 2m-48 0l-2 1m63 4l0 3m54 7l2 0m-37-4l-1 1m-69-14l2 1m-42-7l1 0m168 32l1 2m-167-32l-2 2m203 41l0 2m-66-23l-2 1m58 15l2 1m-172-38l2 1m63 11l-1 2m91 22l2 1m-56-19l2 1m56 17l1 2m-155-33l-1 1m56 5l-1 0m61 8l1 0m-53-9l-2 1m43 10l0 2" stroke-width="1.5"/><path d="M285 2331l1 1m5-4l-1 2m-97-33l0 1m-31-8l0 2m-69-6l-1 2m-21-8l2 1m135 18l-1 1m-51-11l0 1m-52-8l-2 1m-14-2l-2 1m166 34l0 1m-154-36l2 0m10 3l0 2m186 48l1 1m-153-48l0 2m-15-5l1 2m110 26l1 2m-7-4l1 1m-67-20l-2 1m-8 0l0 1m-49-8l0 2m-5-6l1 2m91 17l-1 1" stroke-width="2.0"/></g>
<g fill="none" stroke="#4d70cc" stroke-linecap="round" opacity="0.8"><path d="M199 2386l-1 0m-34 72l0 0m-72-96l-1 1m-1 90l-1 0m41-37l1 1m-2 54l0 1m-20-105l1 0m-38-18l-1 1m228 74l-1 1m-122-17l0 0m-45-14l-1 1m-15 26l0 1m35 49l0 2m-6-94l-1 0m70-9l1 1m-137 111l1 1m3-132l1 0m55 21l-1 0m79 90l1 1m60-8l1 1m-91-64l0 1m-9-17l1 1m-99 98l1 1m20-57l0 1m99 32l-2 1m-77-119l-1 1m1 79l-1 1m34-69l1 1m53 131l0 1m-66-126l0 0m-35 60l1 1m-8 54l-1 2m199-43l0 1m-201-81l-1 1m11 9l-1 0m2 52l1 1m-28-57l1 1m76 2l0 2m16 2l0 1m53 7l1 1m28 26l-1 2m-4-46l-1 1m-74 105l0 1m-10-11l2 0m-20 25l0 0m70-141l-2 0m-84 30l0 1m50 39l-1 1m59 7l0 1m-119 53l-1 1m65 14l0 1m-73-102l0 2m82-41l0 0m87 20l-1 1m2 118l-1 1m-123-126l-1 2m45 3l1 1m65 101l0 1m-49 13l-2 0m-59-39l1 1m-45-97l0 1m150 94l-1 0m5-67l-2 1m-113 46l1 0m-66 47l-2 0m26-97l0 1m-25 15l1 0m-2 60l0 1m188-35l-1 0m25 80l-1 1m-156-149l-1 0m-9 121l0 2m103-9l-1 0m-46-71l1 0" stroke-width="2.0"/><path d="M255 2420l2 1m-136-4l2 1m32-8l-1 1m-66-92l1 2m141 120l1 2m20 19l0 1m-181-93l-1 2m155 53l0 1m11-4l1 1m-98-99l2 1m73 46l0 1m-134 57l-1 1m53-52l-2 1m119-33l-1 1m-62 116l0 2m-71-119l-2 0m160 65l1 2m-85-18l2 0m-77 41l1 2m115 33l-1 1m-16-143l0 2m-38 69l0 1m-19 9l1 1m65-58l2 1m-34 6l0 1m-90-54l-2 0m69 83l-2 1m99-45l1 1m15 34l2 1m-64-21l-1 1m-58 77l1 1m1 33l-1 1m-33-7l2 1m146-22l-1 1m-59-86l-2 0m65-2l1 1m-75 29l0 1m-95-61l-2 0m-6 8l-2 1m186 137l-1 1m-200-104l-1 1m63 105l-2 1m115-65l2 0m-31-72l0 2m-95 0l2 0m134 50l0 1m-91 1l1 1m-10-13l-2 0m-46 73l-1 1m-20-15l-2 1m175 5l-1 1m-146 19l-1 1m86-41l0 2m75 40l-1 1m-111-24l-1 0m-40-123l2 1m23 103l-1 1m-18-53l0 1m106 35l1 0m-152-7l2 0m13-22l0 2m50 92l0 1m97-18l1 1m-170-84l1 2m117 97l1 1m-44-17l0 1m4-77l-1 0m-80-84l0 2m46 91l1 1m-22 25l-2 0m126 17l1 1m-15-25l-1 1m-148 35l1 0m62 24l-1 1m37-82l-1 1m-24-9l1 1m-24 3l0 1m124 31l-1 1m-111 26l1 1m97-32l1 0m20 66l1 1m-58-143l1 1m51 80l-2 1m-60-72l0 1m-94 3l0 1m35-15l-1 1m77 58l-1 1m-34-7l-2 1m38-42l0 1m-123-9l1 1m9 72l-1 1m1-3l0 1m160-26l1 0m-31 40l-2 1m-49-46l0 2m76-23l0 1m15-5l0 2m23 88l0 2m-204-143l0 1m209 65l-1 0m-204 38l-1 1m155-77l-1 1m-84 100l2 1m-48-17l-1 0m165 35l-1 0m-198-147l2 1m-4-11l0 1m144 92l1 1m-113 78l2 2m79-23l-1 1m-25-61l-1 0m65 8l1 1m-8-7l1 0m-101-61l-1 1m164 85l-1 1m-5 40l-1 1m-124 18l-1 2m-39-45l-1 1m177-12l0 1m-149-74l-1 2m1 33l-1 1m94 77l0 1m-38-75l1 0m-5 92l-1 1m-107-41l0 2m217-52l0 2m-210-19l-2 1m160 66l-2 1m-4 26l1 2m-124-159l0 1m126 33l2 1m-36 36l-2 0m-76 71l1 2m69 29l-1 1m-89-107l1 0m-26-63l-1 0m129 120l1 1m-13 38l1 1m35-118l-2 0m-72 13l0 1m132 112l1 1m-171-148l0 2m68 46l-2 0m-40-56l1 1m-9 150l-1 1m47-92l-2 0m-55-74l0 2m156 121l0 1m-57-4l1 1m-129-82l1 1m82 94l1 0m-2-82l0 1m61 106l2 1m-5-66l-2 2m-124-35l2 1m33 26l-2 1m-32-61l0 2m24 17l-1 1m-3 24l-1 1m138 73l0 1m-172-131l-1 1m57 145l-1 0m-63-72l0 2m119-62l1 2m47 119l0 1m-72-39l-2 0m-45 48l1 1m70-92l-1 1m16-4l0 1m-154-48l1 1m45 102l1 1m58-94l0 1m-56 35l1 0m158 46l1 1m-1-6l-1 0m-159-38l-2 1m71 48l1 0m-54-14l1 0m94 63l1 1m-75-121l-2 2m131 39l2 2m-188 40l-1 2m35-109l0 1m144 117l2 0m-143-104l0 1m11 35l1 0" stroke-width="1.5"/></g>
</g>
<g clip-path="url(#c4)">
<rect x="306" y="2256" width="230" height="230" fill="#d8e0ec"/>
<path d="M345,2256 H536 V2320 C520,2319 512,2322 502,2321 C488,2306 476,2296 464,2293 C450,2290 436,2289 421,2287 C405,2285 394,2282 386,2281 C372,2268 360,2262 345,2256 Z" fill="#ebebe9"/>
<path d="M306,2285 L536,2360 L536,2486 L306,2486 Z" fill="#000" filter="url(#texw)" opacity="0.7"/>
<path d="M306,2282 C330,2296 360,2312 400,2330 C440,2348 490,2368 536,2380 L536,2410 C490,2396 440,2372 400,2352 C360,2334 330,2314 306,2300 Z" fill="#c0a48c" opacity="0.5" filter="url(#bl4)"/>
<path d="M306,2256 L345,2256 C360,2262 372,2268 386,2281 C394,2282 405,2285 421,2287 C436,2289 450,2290 464,2293 C476,2296 488,2306 502,2321 C512,2322 520,2319 536,2320 L536,2374 C525,2370 516,2368 507,2365 C490,2358 478,2352 464,2348 C450,2343 436,2340 421,2336 C405,2330 390,2322 377,2316 C365,2306 356,2300 348,2296 C335,2292 320,2288 306,2284 Z" fill="#6a3814"/>
<path d="M306,2256 L345,2256 C360,2262 372,2268 386,2281 C394,2282 405,2285 421,2287 C436,2289 450,2290 464,2293 C476,2296 488,2306 502,2321 C512,2322 520,2319 536,2320 L536,2374 C525,2370 516,2368 507,2365 C490,2358 478,2352 464,2348 C450,2343 436,2340 421,2336 C405,2330 390,2322 377,2316 C365,2306 356,2300 348,2296 C335,2292 320,2288 306,2284 Z" fill="#000" filter="url(#texbr)" opacity="0.95"/>
<g fill="none" stroke="#4b6dc4" stroke-linecap="round" opacity="0.85"><path d="M364 2303l0 2m150 34l1 5m-11 1l1 5m14 3l1 5m-7-15l1 5m-161-57l1 5m7-3l1 3m144 32l1 5" stroke-width="5.0"/><path d="M536 2343l1 4m-75-22l1 4m48 15l1 5m-160-56l1 3m84 20l1 4m69 34l0 2m-19-12l1 3m-18-6l1 3m-35-30l1 5m24 9l1 4m37 9l0 3m-107-37l1 5" stroke-width="4.5"/><path d="M360 2302l1 5m24 6l1 4m108 29l1 5m-147-51l1 4m146 22l1 4" stroke-width="3.5"/><path d="M526 2357l0 2m-7-18l1 3m-102-28l1 4m116 21l1 4m-31-10l1 4m-21-13l0 1m-146-29l1 3m77 7l1 3m-92-17l1 3m24 6l1 4m70 1l1 3m36 27l0 2m-113-40l0 2m139 25l1 3m45 14l0 1m4-4l1 3" stroke-width="5.5"/><path d="M394 2310l1 3m-49-19l1 5m14 5l1 5m114 17l1 5m39 4l1 5m-171-45l1 5m-1 1l1 4m38-2l1 6m108 38l1 3m-48-26l1 4m-16-2l1 3m-76-34l1 6" stroke-width="4.0"/><path d="M415 2318l0 1m29 14l0 2" stroke-width="6.0"/></g>
<g fill="none" stroke="#4d70cc" stroke-linecap="round" opacity="0.8"><path d="M529 2432l0 2m-25 41l3 0m9-83l0 2m-161-7l0 2m108 67l0 3m-37-79l0 3m64 97l-2 3m-58-103l-3 1m-59-34l-4 0m142 74l-2 3m17-43l3 1m-97 65l1 1m17-20l3 1m-118 12l3 4m151-37l1 2m28 63l-3 3m-181-104l2 3m173 78l-1 4m-8-84l0 3m19 27l-3 3m-33 65l2 2m45-23l4 2m-84-75l2 2m76 78l1 4" stroke-width="2.5"/><path d="M505 2454l-2 1m27-8l1 2m-31-58l1 2m-154-27l3 1m59 108l-1 0m72-70l2 0m9 29l3 1m-56 3l-1 3m-20-94l-2 2m-20 118l1 3m7-40l2 1m-51-12l-1 1m171 52l2 2m-147-119l1 3m7 4l-1 2m94 36l-1 2m-55-26l1 2m-47-44l1 2m-17 123l-2 2m-19-70l2 3m183 85l0 2m-150-85l-3 3m54 11l-3 2m-1 56l0 1m-9-61l0 1" stroke-width="3.0"/><path d="M459 2405l-2 1m-102 69l2 2m149-67l0 3m-143 8l1 1m141 58l2 3m-76-62l-2 1" stroke-width="3.5"/></g>
</g>
<g clip-path="url(#c5)">
<rect x="601" y="2019" width="231" height="230" fill="#b9c8e5"/>
<path d="M601,2193 C610,2205 620,2214 640,2226 C665,2236 700,2240 730,2238 C760,2236 785,2236 800,2232 C815,2225 825,2215 832,2205 L832,2249 L601,2249 Z" fill="#ebebe9"/>
<path d="M601,2070 C625,2095 640,2140 660,2180 C675,2205 700,2222 730,2232 L700,2236 C670,2220 650,2200 635,2170 C620,2140 610,2110 601,2092 Z" fill="#d0d9ea" filter="url(#bl4)"/>
<path d="M782,2120 C800,2140 815,2170 832,2180 L832,2125 C815,2115 800,2105 785,2095 Z" fill="#d0d9ea" filter="url(#bl4)"/>
<path d="M601,2019 H832 V2205 C825,2215 815,2225 800,2232 C785,2236 760,2236 730,2238 C700,2240 665,2236 640,2226 C620,2214 610,2205 601,2193 Z" fill="#000" filter="url(#texw)" opacity="0.55"/>
<g fill="none" stroke="#5877d4" stroke-linecap="round" opacity="0.62"><path d="M765 2058l1 0m-46-28l0 0m-42 17l0 0m97-22l-1 1m-16 111l0 0m-6-108l0 0m-141 61l1 0m31-66l0 2m92 46l-1 0m87 41l1 0m-180-7l0 0m-7 94l0 0m152-10l-1 0m12-67l0 1m-116-97l0 0m133 157l2 0m-70-128l-1 1m-89 147l0 0m75-114l0 0m7 42l1 0m-100 70l0 0m137-41l0 1m-139-113l0 0m-17 129l0 0m99 36l-1 1m34-21l2 1m30-169l-1 1m9 140l0 0m-114 4l0 0m0 64l0 2m79-179l0 0m-119 107l0 1m93-56l1 1m-97-15l-1 1m99 80l0 0m-26-23l0 1m82-8l0 0m-26-95l0 0m37-5l-1 0m-145 101l1 1m-49-72l0 0m4-45l0 0m214 38l0 0m-112-10l0 0m88 65l-1 0m-132-21l-1 0m-36 55l0 1m172-16l-1 1m-69 50l-1 0m-70-81l0 2m129-48l1 0m-56 38l0 1m-35 8l1 0m81 44l0 0m-130-88l0 0m22-34l0 1m3 54l-1 0m111-61l0 0m-80 72l0 0m20 134l1 0m36-140l-1 0m-112 73l0 0m6-73l1 1m17 39l0 0m18 4l1 0m127-102l0 0m-79 81l0 1m22-68l0 1m20 124l0 0m-51-108l-1 0m-51 96l1 1m98-118l0 0m-164-19l0 0m57 110l0 1m156 36l1 0m-21-90l0 0m-104-12l1 0m-66 30l0 1m12-39l0 0m115 27l1 1m-45-66l0 0m30-3l1 0m-65 48l-1 1m-54 95l-1 0m38-129l0 0m95 87l0 0m-153-10l1 1m36-97l-1 0m101 119l0 0m27 37l0 0m-76 54l0 0m70-105l-1 1m-155-87l0 0m61 1l0 0m8 132l0 1m84-99l0 0m-24-34l1 0m-127 105l-1 0m46 60l0 0m15-9l1 0m-26-128l-1 1m51 75l0 0m-76-120l0 0m181 38l1 1m-86 58l0 1m-59-4l0 0m44 26l0 1m117-28l-1 1m-82 22l1 1m-123 5l0 0m89 60l0 0m32-182l-2 0m-27 58l0 1m109 71l1 1m-41 26l1 0m-45-34l0 0m-52 56l0 0m86-117l0 0m-124 4l0 0m140 67l0 0m-175-106l0 0m58-29l0 1m69 133l0 0m-135-48l0 0m138-46l-1 0m55 92l0 1m-98-86l0 0m115 94l0 1m-102 70l0 0m59-90l0 0m-94 15l-1 0m-60-77l-1 1m147 121l-1 0m-144-124l1 0m186-25l1 0m-64 105l0 0m-39-33l-1 1m81 10l1 0m-30 11l0 0m-83 66l0 0m-56-122l0 0m72 103l1 1m44-29l0 0m-55 62l0 1m-52-130l0 0m38 53l1 0m-34-92l0 0m28 84l0 0m-49-82l-1 1m223 13l0 0m-177 99l-1 1m19-88l-1 0m60 47l-1 0m21-24l1 1m-53-14l0 0m31 120l0 0m-97-189l0 0m-14 8l0 0m134 195l0 0m-72-91l0 1m136 19l-1 0m-153-105l2 0m92 74l0 0m-121 1l0 1m66 44l0 0m-73-20l-1 1m174-64l0 0m-22-3l0 0m-163 39l1 1m43-72l0 1m164 78l0 0m-57 15l1 0m-133-64l0 0m58-44l0 1m-41 62l0 0m14 37l0 0m-65-111l1 0m178 21l0 0m-18 0l0 1m-116-1l2 0m79 0l1 1m-66 150l0 1m123-108l0 1m-166-1l0 0m170-35l0 1m-132 48l0 1m163 11l0 0m-134-7l0 1m-52 67l0 1m134-16l0 0m35 24l2 0m-77 22l1 1m-72-76l0 0m10-22l0 0m97 97l-1 0m0-116l0 0m-89-49l-1 1m-35 59l0 0m84-56l0 0m-45 117l-1 1m139-99l0 0m-170 64l0 0m184 0l0 0m-211-87l-1 1m20 69l1 1m-8-77l0 0m138-23l-1 1m-78 202l2 0m39-36l-1 1m52-136l0 1m-92 30l-1 1m-66 90l1 1m118-31l-1 0m-2 2l-1 1m0-105l0 0m-133 98l0 0m84 91l0 0m13-4l1 0m43-96l0 0m1 79l0 1m-14-168l-1 2m57 101l0 0m-160-115l1 2m197 19l0 1m-15 8l-1 0m-156 150l0 0m91-86l-1 1m-45 48l0 1m-61 25l0 0m14-87l0 0m42-79l2 1m-33 145l1 0m-40-79l0 0m15-16l0 0m152-60l0 0m39 0l0 0m-196 147l-1 1m97-46l1 1m-130-37l0 1m194-18l0 0m-175 35l0 0m-5 63l1 1m105 51l0 0m-43-41l0 0m130-135l1 0m-81 120l0 0m16-85l0 0m68-14l0 0m-199 89l1 1m61-120l-1 1m81-2l1 1m25 139l-1 1m-22-154l0 0m-67-11l0 0m101 4l0 1m-108 32l0 0m0-30l0 0m136 165l0 0m-134-4l-1 1m50 15l0 1m-109-19l0 0m124-94l0 1m14 123l-1 0m29-53l0 0m-34 24l0 0m-74-108l-1 0m70-53l0 0m-38 189l0 0m74-140l0 1m-127-48l0 1m143 72l0 0m-108-46l1 0m77 80l1 1m-15-115l-1 1m0 137l0 0m-38-21l0 1m40-108l1 0m-106 83l0 0m-30-14l0 0m101 85l0 1m10-162l0 2m23 166l0 0m-22-54l1 1m-22-65l0 0m112 90l0 0m-137 20l1 0m-3-165l0 0m-66 177l0 0m79-129l0 0m-93 3l0 0m204 124l1 0m-192-69l0 0m175 19l0 0m26-119l1 0m-208 60l0 0m-2 6l0 1m199-50l1 1m14 64l0 1m-25-16l0 0m-92 30l0 0m82 15l1 1m-111-66l0 0m86-4l1 2m-2 86l0 0m-9-73l0 1m-38 122l0 1m-101-159l1 0m166-4l0 0m-19 152l1 0m-43-120l-1 1m44-22l0 1m-71-30l1 1m40 203l0 1m-101-124l0 0m-30-10l0 0m51 95l0 0m-2-66l1 0m-15-35l0 0m-19-68l2 1m162 19l1 1m-161 139l-1 1m173-151l-1 1m0 164l0 0m-74 28l1 1m-115-65l1 0m31-124l0 0m61-10l0 0m88 172l1 1m-167-177l1 0m68 107l0 0m0-21l0 0m50-10l0 0m-102 115l-1 1m153-177l0 0m-159 161l0 0m140-163l0 1m-6 172l0 0m-7-83l-1 1m-1 57l1 0m-105 32l0 0m1-123l0 0m130 26l0 0m-103-53l0 0m32 166l0 0m65-61l0 0m20-142l0 1m20 21l0 0m-39 106l-1 0m-75 64l1 0m83-138l0 1m-33 117l0 0m33-156l0 0m-168 20l-1 0m16-32l0 0m101 143l1 1m11 11l1 1m29-70l0 1m-44 84l0 1m-9-164l1 0m-52 81l0 0m-34-31l-1 0m5-57l0 0m12-16l0 0m37 187l0 0m10-170l0 0m78 49l0 1m-117-33l-2 0m105-3l-1 0m56-21l1 1m-138 121l0 0m104 55l0 1m32-81l0 0m-153 49l0 0m7-134l0 1m119 163l0 0m-157-68l0 0m73-66l-2 0m75-31l1 1m-129-21l2 1m27 213l0 0m76-68l0 0m-72 39l0 0m126-182l1 1m-179 146l0 0m127-23l0 0m-14-97l0 1m50 49l0 0m-73 13l-1 0m92-48l0 0m-209 58l0 1m57 63l1 1m-45-50l1 0m179-63l1 0m-18 70l0 0m-58 41l0 1m96-11l0 0m-173 24l1 0m140-76l-1 1m-176-52l0 1m24 37l-1 1m40-43l1 0m118 126l-1 0m-39-66l-1 0m-23 31l0 0m45-140l1 1m-169 75l0 0m-5-67l1 1m152 44l0 0m15 124l1 1m41-144l-2 1m-100-17l0 0m-21-16l0 0m41 209l-1 1m1-143l0 1m61 56l-1 0m-92 39l1 1m-41-111l0 0m-3 121l0 2m24-117l-1 1m25-7l0 1m-84 104l0 1m5-39l1 2m197-115l0 1m-46 187l1 0m7-189l1 1m-122 59l0 1m17 103l0 2m42-167l1 1m-4 112l0 0m-78-89l0 0m28 85l1 1m71 59l0 0m-42-120l0 0m-24 95l0 0m5-40l1 1m83 5l0 0m-105-16l0 1m-59 24l1 0m158-6l-1 1m-96-107l0 0m-57 103l0 0m10-100l0 2m11 3l0 0m159 114l0 1m21 7l0 0m9 28l-1 0m-173-99l1 0m32-11l0 0m-25 25l0 0m66 103l0 0m-57-82l0 1m161-36l-1 1m-23-19l1 1m-155-53l0 0m72 63l0 0m87 81l0 1m-179-97l0 1m49 131l0 0m135-25l0 0m-159-31l0 0m-17 1l0 0m90 20l-1 1m-51-146l0 0m126 107l1 1m-103 41l0 0m24-145l-1 1m14 173l0 0m-85-17l1 0m65-61l0 0m-37 77l0 0m114-99l0 2m-88 75l-1 1m99-81l0 0m-79 38l-1 1m106-105l0 1m-200 27l0 0m26-30l0 0m128 112l0 0m-54 31l0 0m-26-122l0 2m2 29l-1 0m-3 132l0 0m-81-115l0 0m194-48l0 0m-16 70l-1 1m-9-53l0 0m-173 34l2 0m93 90l0 0m93 2l0 0m-52 12l-1 1m-71-96l0 1m-7 119l-1 0m15-61l0 1m97-61l0 0m16 78l-1 0m-80-9l-1 1m-101-103l0 0m75 78l0 1m-28-112l1 1m106 74l0 0m9-39l0 0m21 91l0 0m-145-91l0 0m174-46l0 1m-178 17l0 0m168 67l1 0m-152 92l-2 1m126-47l0 0m-110-141l-1 1m41 65l0 1m7 22l0 0m-51 24l-1 0m40-18l0 0m-69-17l0 1m77 40l0 1m70-111l-1 0m-104 125l0 0m-36-9l0 0m107-24l1 1m-130-60l0 1m17-10l1 0m-37 99l0 0m51-76l0 0m101 89l0 1m40-41l1 0m-177 47l-1 0m76-83l0 0m-19-61l1 1m92 46l0 1m-45-33l0 0m-51 173l0 0m129-90l-1 1m-154 21l0 0m35 53l0 0m-87-159l1 0m43 54l0 0m29 24l1 0m-15 70l0 1m-61-176l0 1m50 182l1 1m27-19l0 0m-63-76l0 1m13-74l-1 0m105 69l1 1m-96 63l0 1m-6-133l0 0m17 149l0 0m22-140l0 0m-13 160l-1 0m169-49l0 1m-69 73l0 0m-3-109l0 0m-25 83l0 1m-31-54l-1 0m-51 17l0 1m80 39l0 0m-24-90l-1 0m0-34l-1 0m101 41l-1 0m-29 3l1 0m-102 99l0 0m10 2l-1 1m-25-130l0 0m92 98l1 1m-18-139l1 0m98 10l-1 1m-146 78l0 0m-42-41l2 0m182 73l0 0m-5-41l0 0m-212-118l0 1m68 194l0 0m-54-106l-1 1m94-34l0 2m44 57l0 0m-137 15l-1 1m86 29l0 0m103-113l0 0m-168 74l-2 0m178-55l0 0m-133 20l0 0m145 22l0 0m-211-70l1 0m206 129l1 0m-138-89l0 0m-19-5l-1 1m0 104l1 0m27 12l0 2m116-158l0 0m-164 128l0 1m121-59l1 0m-49-108l0 1m25 129l-1 1m80 12l0 0m-41-81l0 0m-176-54l0 0m200 160l0 0m12 1l0 0m-143-90l0 0m10-35l1 0m-36-5l0 1m59 142l0 0m-82-43l-1 1m123-27l0 0m80 43l1 1m-104-89l0 0m57 84l1 0m-71-61l0 0m37 96l0 0m-54-31l0 0m41-23l0 2m-69 45l0 1m1-71l0 0m61 0l1 0m-43 53l0 0m62 37l-1 0m40-65l-1 1m-25-53l0 0m-83 66l0 0m2-95l0 1m-1 122l1 1m95-129l0 0m-19 64l1 1m-1 29l-1 1m41-28l0 0m-168-33l0 0m44 83l1 1m34-127l-1 1m94 42l1 0m-65 93l0 1m-13-133l0 0m82-14l0 0m-45 182l0 0m-22-102l0 0m-5 6l-1 0m-40 47l0 0m129-49l0 0m-56 63l0 0m-12-75l-1 1m66-84l-1 1m-49 158l-1 0m-19-148l0 1m-140 5l-1 1m139 79l0 0m-23-58l0 1m67-28l1 1m-115 113l0 0m-11-76l1 0m46 131l1 1m-3-183l1 0m-99 14l-1 0m84 49l-1 1m-69-21l0 0m17 32l1 0m-39 44l-1 0m9-96l0 1m-12 11l-1 1m40-54l1 1m15 129l0 0m-51-121l0 1m75 203l0 0m89-89l1 1m-109 39l-2 0m-7 12l0 0m90-1l0 0m-91-10l0 0m92-37l1 1m-30-40l0 0m-27-20l0 0m59 77l0 0m-131-108l-1 0m175-4l0 0m12 37l-1 0m-21 56l0 0m-6-125l0 0m-120 86l0 1m11 121l0 0m-6-38l-1 0m42 44l-1 0m-82-110l-1 0m167 45l1 1m-25-91l0 0m-33 35l0 0m35-76l0 1m-19 189l1 1m70-42l0 0m-91-8l-1 1m-90-133l-1 1m-5 81l0 0m143-106l-1 1m-20 115l0 0m-7 30l0 1m-10 27l0 0m9-176l0 1m22 90l0 0m-88-74l0 0m153 87l-1 1m1-22l0 0m-175 32l0 1m1-65l-1 1m82-48l-1 1m16 66l0 0m16 133l0 1m-62-89l0 0m90-38l1 0m-83 41l1 0m113-115l1 0m-222 116l-1 1m61 47l0 1m-22-78l0 0m175-76l0 1m-135 163l1 0m-1-101l0 0m90-63l1 0m-18-9l0 0m5 184l1 0m-45 17l0 0m-95-170l0 1m129 104l0 1m-117-119l1 1m94 80l0 0m-14-6l-1 1m73 81l0 1m14-14l0 1m27-138l1 0m-162 121l0 0m29-47l1 1m58 19l0 0m51-109l-1 0m-10 64l0 0m-140 98l-1 1m94-137l0 0m-18-26l0 0m-85 0l0 1m23 130l-1 1m129-92l-1 1m-169 58l0 0m160 47l1 0m18-77l0 0m-74 8l-1 1m-94-77l0 0m57 116l1 1m49 44l0 1m-67-33l0 0m-13-131l0 0m27 169l0 0m-77-134l0 1m118 101l0 0m69-77l0 1m-98 56l-1 1m-71-40l-1 1m96 55l0 0m-46-127l-1 1m10 80l0 0m114-95l0 1m-52 128l1 0m5 27l0 0m-92-159l0 0m-57 31l0 1m104 11l-1 0m-51 67l0 0m78 17l0 0m-75-98l1 0m43 175l1 0m50-184l0 1m-90 123l0 1m123-6l0 0m-166-120l0 1m20 38l0 0m82 97l0 0m-4-63l0 0m17-68l0 0m25 49l0 0m-136 65l0 1m155 14l-1 0m-150-73l0 0m135 71l1 0m-140-61l0 0m129 65l0 0m51-49l0 0m-170 55l1 0m-17-28l1 1m69-142l0 0m13 68l0 0m35-30l0 1m-12 38l-1 0m-87 53l-1 0m26-21l0 0m139 41l0 0m28-41l0 1m-63 46l0 1m24-154l1 0m-28 199l0 1m-105-86l1 0m116 26l0 0m-63-118l1 0m-39 99l0 1m121 52l0 0m-1-120l-1 1m-46-54l0 0m-49 12l0 1m-19-10l0 0m27 96l0 1m81-48l0 0m-78-2l0 2m-19 32l-1 2m-11-68l0 1m-31 60l0 0m-26 21l0 1m80 40l1 1m1-130l0 0m67 21l1 1m-56 81l0 0m2 62l-1 0m75-19l0 0m-129-63l-1 0m75-76l0 0m-11 14l0 2m43 156l0 0m-28-136l0 0m31 74l-1 0m-114 25l0 0m94 10l-1 0m74-129l-1 0m-213 44l0 1m103 115l-1 0m-24-3l0 0m76-35l0 0m-19 4l0 0m-142-88l0 0m59 125l-1 0m77-188l0 0m-133 5l0 1m26 55l-1 0m13 61l0 1m27-84l0 0m-37-32l0 1m102 99l0 0m-80-55l0 0m122 97l0 1m-111-88l-1 1m125 98l-1 0m19-79l0 0m-122 87l0 0m142-24l2 0m-52-158l1 0m-108 140l0 0m-37-61l-1 1m197 9l0 0m-216-61l-1 0m95 136l0 0m5-118l-1 1m-54 52l0 0m-30-80l0 0m108 167l1 1m-52-82l1 0m115-79l-2 0m-148 13l0 1m93 52l0 2m-65-2l0 0m79 76l1 1m-100 8l-1 1m21-20l-1 1m10-139l0 0m10 114l0 0m45-106l0 0m-23 152l0 0m-32 4l0 1m101-91l1 1m-64 122l0 1m40-186l0 0m32 129l0 0m-87-36l-1 0m-46-4l-1 0m125-73l0 0m7-17l0 0m-49 116l0 0m13-138l0 0m-78-6l0 1m79 156l1 1m-113-80l1 0m77 74l1 1m-109-123l-2 1m57-35l0 1m94 35l1 0m-147 68l1 0m180 3l-1 1m-67 11l0 0m-131 14l0 1m189 50l0 1m-7-151l0 0m-157 109l0 0m142 8l0 1m50 17l0 0m-13-78l-1 0m-141 90l0 0m68-54l-1 0m47-49l0 1m-158 96l0 0m-11-62l0 0m190-65l-1 1m-95 115l-1 0m127-71l0 0m-223-57l-1 1m159 53l0 0m43-53l-1 1m-126 24l1 1m-13 64l-1 0m-23-17l0 0m62-24l0 0m-94 16l0 0m93 9l0 0m5-90l1 1m113 131l1 1m-165-100l0 1m168-19l0 2m-70 23l0 0m-54 109l1 1m-38-45l1 0m131 17l-1 0m26-134l-1 1m-220 130l1 1m-5-115l1 1m13 69l0 0m202-90l1 0m-171-3l-1 0m152 28l0 0m-102 17l0 0m-52-42l0 1m68 62l0 0m40 75l0 0m-85-32l-1 0m55 89l0 0m27-101l0 0m-6-62l0 0m80 58l0 1m-170 91l0 0m32-21l1 1m-31-143l1 0m92 72l0 0m-131-27l0 0m147-63l0 0m4 91l0 0m-32-88l0 0m61 108l0 0m-156-51l0 0m174-47l0 0m-107 88l0 0m29-44l-1 0m-55 39l-1 0m119 47l-1 1m-28 4l1 1m-107-156l0 0m-1 50l-1 2m128 138l0 0m-98-132l0 0m-86 31l1 1m14 28l0 1m54 55l0 0m143-115l-1 0m-105 69l1 0m52 19l1 0m-98-54l1 0m61 56l-1 0m63-119l1 1m-8 133l0 1m-114-105l-1 0m137 27l0 1m21-56l1 1m-5 118l0 1m-109-62l0 0m-106 12l1 1m138-91l0 0m-117-5l-1 0m38-3l0 1m6 170l0 0m35-144l0 0m-82 133l-1 1m122-107l0 0m18 42l0 0m-157-79l-1 1m170 74l0 1m-116 4l0 1m95-50l1 1m-11 149l-1 1m14-31l2 1m8-96l0 0m-1 69l0 0m10-88l0 2m-136 21l0 0m23 85l1 1m-11-123l0 1m76 145l0 1m68-172l0 1m-71 21l0 0m-61 112l-1 0m77-66l0 0m61-78l0 1m-31-3l1 1m-45 7l-1 1m-106 95l0 0m90-38l-1 1m29 54l0 0m37 26l0 0m-139-77l0 0m193 20l0 0m-104-23l0 0m-93 112l0 0m114-154l0 0m-94 124l0 0m16-70l0 0m-11-36l0 1m150 8l0 0m-204-53l0 1m76 58l-1 0m151-18l0 0m-44 130l0 1m-179-177l0 1m122 7l0 0m28 149l-1 1m31-64l0 2m-105-95l0 0m23 166l0 0m70-104l1 1m27 114l0 1m-104-170l0 0m-60 54l0 0m146 105l0 1m-37-154l-1 1m-119 134l0 2m100 7l0 0m-51 50l0 1m-69-77l0 1m97-106l0 0m-25 105l0 1m131-134l0 0m-135 11l0 0m6 51l0 0m102-23l0 0m-84 78l0 0m-90-105l-1 1m76 35l0 1m81-13l0 1m4-13l-1 0m-31-9l0 1m-81 159l0 0m-47-102l0 0m141 111l0 0m-35 20l0 1m89-138l0 0m-123 12l1 0m31 13l0 0m-41 116l0 1m140-60l0 0m-98-5l1 2m-65-104l-1 0m77 114l0 1m25 33l-1 0m-11-128l0 0m8-16l-1 0m-139-42l0 0m127 99l0 1m7-55l2 0m-106 112l-2 0m87-72l0 1m94-6l0 0m-20-73l-1 0m-22-10l1 0m-167 88l0 0m134-20l0 0m90-1l-2 0m-207 79l0 0m158-12l0 0m-6-128l-1 1m-149 156l0 0m65-71l1 1m-24 66l-1 0m103 33l0 1m-2-56l0 0m-21-7l0 1m-46 44l0 0m108-103l0 1m-105 73l1 0m59-121l-1 1m-91 145l0 0m60-62l0 1m-29 90l1 1m-36-110l-1 1m22 3l0 0m34 113l0 0m-11-46l0 1m-47 11l0 1m114-109l0 0m9 100l-1 0m-22 11l1 0m6-109l1 1m-88-67l0 0m124 101l0 0m-65 95l0 0m-120-64l0 0m121-39l0 1m52 68l0 1m-5-146l1 1m-104 79l0 0m-41-77l1 0m168 48l-1 1m-44 108l0 1m-42-17l1 1m-36-143l-1 0m-73 125l-1 1m5-143l2 0m9 30l-1 0m117 62l1 1m19 65l0 1m-25 6l0 0m-84-109l-1 0m61 136l1 0m-32-122l0 0m1-9l1 0m-3 2l-1 0m39 52l0 0m-7 75l0 0m21-110l1 0m-49-79l0 0m48 78l1 0m14 102l-1 1m-112-132l0 1m123-34l0 0m-147 67l0 0m140 38l1 1m-20-58l0 1m-140-56l-1 1m0 111l0 0m142-32l0 0m-122 75l0 0m60 20l-1 0m88-165l1 1m-100 180l-1 0m-42-73l0 1m149-27l0 1m-75-26l-1 0m54 32l-1 0m68 8l0 0m-214-51l0 0m127 85l-1 1m15-141l0 0m-67 166l1 1m95-70l-1 0m-64 56l0 1m21-146l0 1m-60 34l0 0m75 147l0 0m-16-92l0 0m16 61l0 0m-125-154l-1 1m162 118l0 1m-48-122l0 1m-4 164l-1 0m-61-2l1 1m-12-40l0 1m-25-14l0 0m129-79l0 2m-99 67l0 0m-38-73l0 0m181-30l1 0m15 145l0 0m-176-11l0 1m108 13l0 1m-96-6l1 1m104-78l0 0m-88 5l0 0m104 27l1 0m45 33l0 0m-200-113l0 1m-14-8l0 0m-2 90l0 1m40-22l0 1m55-59l0 0m40 114l0 0m47-77l0 0m6-19l0 0m-167-23l1 1m-10 32l1 1m44 126l1 1m85-124l1 1m29 41l1 0m-130 55l1 1m124-35l0 0m-27-65l-1 1m-48 63l0 1m-39 54l-1 1m115-141l0 0m-98 149l0 2m28-44l1 2m-45-71l0 0m-44-21l0 1m55 53l0 0m-43 12l-1 1m170 7l0 0m-32 58l-1 0m-72-163l0 0m-13 135l0 2m13-5l0 1m18-89l0 0m8 82l0 1m5-134l1 1m90 106l1 0m-23 22l0 0m-183-35l0 0m206 50l0 0m-131-115l0 0m-57 16l-1 1m56 107l1 0m19-130l-1 1m82 36l1 0m-48 9l0 0m-94-35l-1 1m14 108l-1 1m-48-87l0 0m15 27l0 0m20 24l-1 1m34 43l-2 0m36-124l0 0m44 65l0 2m-99 70l0 1m170-86l-1 1m-215-2l0 0m69-65l0 0m1 149l0 1m132-78l1 1m-201-77l-2 0m177-7l1 1m19 113l0 1m-38-65l0 1m54 31l0 1m-137 89l0 1m40-93l0 2m-107 29l0 0m45-69l0 1m145-68l-1 0m-24 176l-1 1m-156-111l0 0m116 24l0 0m-28-58l0 0m-9 120l0 0m-38-49l0 0m-44-28l0 0m152-80l0 1m-61 111l1 1m-46 20l0 0m117-125l0 1m-36 129l-1 0m-79 3l0 0m47-17l0 1m23 37l0 1m-131-158l0 0m186 152l0 0m-10-126l-1 1m-173 19l0 1m25 29l0 0m107 55l0 1m-11-46l0 1m84 65l1 0m-31-158l0 0m-30 35l1 1m58 22l0 1m-96 20l0 0m55-31l1 1m56-13l0 1m-72 28l0 0m-110-48l0 1m-38 138l-1 0m23-101l1 0m-20 44l2 0m100-70l-1 1m63 141l1 0m-44-22l0 0m-106 2l0 0" stroke-width="2.5"/><path d="M617 2063l-1 1m138 53l1 1m-6 51l0 1m55-122l0 1m-146 40l0 0m120 36l0 0m-9-106l1 1m-76 51l0 0m-61-24l-1 0m140 157l-1 1m-123-179l1 1m110 95l-1 0m-126-28l1 1m160 114l0 0m-91-51l0 0m65-136l0 2m-6 140l-1 0m-83 56l1 0m88-52l1 1m-135-33l-1 0m-4-89l-1 1m118 116l0 1m52-50l1 1m-170 36l2 0m41-11l0 1m106-66l1 1m-143-55l-1 1m26 169l2 1m65-134l0 1m7-10l0 0m-79-25l1 0m-12 47l0 0m-18-35l0 0m-16 103l1 1m218-65l1 1m-197 11l-1 1m30 93l-1 1m-26-45l-1 1m148 27l0 1m34-43l0 1m-130-62l0 0m68 131l-1 0m-116-73l1 0m160-69l1 0m-52 93l1 1m-136-5l-1 2m115 45l1 0m48-38l0 1m-54 51l-2 0m-61-139l0 2m84-36l1 1m-70 166l0 0m7-115l-1 0m-3 153l1 0m-45-158l0 0m197-51l0 2m-105 86l1 1m-83 95l0 0m49-68l-1 1m38 7l0 0m-117-51l1 1m61 131l0 0m97-102l0 1m-90 71l0 1m15-88l-1 1m74-47l0 0m-51 121l0 0m-108-20l0 1m31 38l-1 1m-12-34l0 1m124-110l0 1m35 21l-1 0m-84-27l1 2m-98-28l0 2m42 170l-2 0m-29-138l0 1m17 70l-1 0m185 23l-1 1m-196-20l-1 1m129 60l1 0m13-175l-1 0m-116 51l2 0m146 3l0 0m-167-22l-1 0m86 151l1 1m114-148l-1 1m-2 91l-1 0m-53 25l-1 2m-42-142l0 0m26 60l-1 1m50-74l0 0m29 31l0 2m-126 154l-1 0m-12-114l-2 1m-58-71l0 1m148 36l1 1m-77 108l-1 0m10-80l0 0m61 115l1 1m2-90l-1 0m-54 45l0 0m78-56l-1 1m-113 102l0 1m123-173l0 2m-130 132l-2 1m-1-2l0 0m5-54l-2 0m-8-39l-1 1m-48 9l-2 0m89 35l0 0m-85-76l1 1m82 45l0 1m-52 18l0 0m31-68l1 1m73 133l1 0m12 3l1 0m-150-1l-2 0m44-164l0 1m24 149l-1 0m-9 49l0 1m25-132l-1 1m45 26l0 0m-49-64l1 1m-96 51l-1 0m116 120l0 0m-57-94l-1 0m98-18l0 2m-9-35l-1 1m8 17l-1 2m-124 98l1 1m-2-18l0 1m70-52l0 1m72-26l-1 1m-93 6l-2 1m-12-45l1 0m-56 98l-1 0m44-48l0 0m142-43l0 0m-62 60l0 1m-52-65l1 0m124 69l0 1m-134-122l1 1m12 28l0 0m91-13l0 0m-65 100l-1 1m-5-116l1 1m45 71l1 1m81-45l0 0m-78-23l-2 1m4 14l-2 0m-151 52l-1 0m42-51l0 0m133 159l2 1m25-80l1 1m-22 58l0 1m-38 20l1 0m-31-39l0 2m-14 56l1 1m-2-77l1 1m37-119l0 0m93 150l1 1m-6 17l0 1m-184 1l0 1m122-117l-1 1m-17 58l0 0m-141-88l-2 1m61 86l-2 0m142-41l-1 0m-55 60l1 1m-48-62l-2 0m67-35l0 1m-142 57l0 2m-1-50l-2 0m27-31l0 1m182 124l1 1m-140 11l-1 0m134-108l2 1m-91 0l0 1m16 70l0 1m56 51l1 1m-63-46l-1 1m-93-16l1 1m156 55l0 0m-67-127l1 1m62 76l-2 1m18-67l1 0m-82 77l-1 2m-135 4l1 0m167 33l-2 1m-77-89l-2 1m90 87l0 1m-12 2l0 1m6 9l0 1m-132-140l-2 0m116 4l0 0m8-31l0 0m32 165l1 0m-42 1l1 1m-8-58l1 1m6 73l-1 0m74-166l0 0m2-17l0 1m-85 148l0 1m31 10l0 1m-91-103l-1 2m-30-1l-1 1m152-42l1 0m-50 179l0 0m-40-159l0 0m18 70l0 0m-2-72l-2 1m66 119l1 0m-80-45l0 0m55-121l1 2m3 32l2 0m-28 18l0 1m-123 20l-1 1m108-22l0 1m12 150l-1 0m-101-86l0 0m155-84l2 0m-171 42l0 0m-3 32l-1 0m125 57l-1 1m-107-49l0 0m20 49l-1 2m-51-24l0 0m14 19l0 0m200-139l1 0m-121 171l0 0m-55-74l1 0m152-63l0 1m-121 13l-1 1m-45-19l0 1m127 94l0 1m-106-55l0 1m-16-31l1 0m92 0l-1 1m-48 58l1 1m-66-69l1 1m127 155l0 0m-120-197l1 0m144 168l0 0m11-68l2 1m-15 58l0 1m-31 26l1 1m38-129l0 1m19-1l-2 0m-90-53l0 1m27 169l-2 1m-21-46l-1 1m109-3l-2 1m-28-102l0 0m36 53l-2 1m-53-11l0 0m-46 82l1 0m-46-165l0 0m97 128l0 1m-108 35l0 1m90-90l0 0m-124 7l-1 1m126 22l2 1m27 57l0 2m-122-25l0 2m106-81l1 1m-135-65l-1 0m-21 65l1 0m168-22l0 1m-54 7l1 1m-32 19l1 0m2-29l0 2m48 56l1 0m62-94l-1 2m-210 31l0 0m161 2l0 2m49-34l-1 0m-175 70l2 0m114-31l-1 0m51 107l0 0m-96-73l0 1m67 79l-1 0m-32-52l-1 0m-93 15l1 1m12-80l-1 1m19 30l1 0m28 37l0 2m112-114l0 1m-107 155l-1 0m-39-133l0 1m34 105l0 0m68-44l0 1m-67 125l-1 1m114-56l0 0m-29-69l0 1m-160-28l0 0m159 82l1 0m-46-12l1 0m74-62l-1 0m-46 90l-2 1m11-96l0 0m-126-61l-1 0m153 76l0 0m-138 100l0 0m14-119l-1 1m88 106l0 0m-23-12l0 2m79-30l2 1m-37-132l1 1m-183 97l1 1m199-9l2 1m-185-85l-1 0m131 129l0 1m68-97l1 0m-140-36l0 1m52 80l-1 0m-79 67l0 2m5 47l0 0m-3-21l0 0m108-181l1 2m-165 41l0 0m36 119l0 0m115 29l-1 1m-125-174l0 2m52 9l0 1m-70 12l-1 1m82-14l0 1m63 14l-1 1m-54 106l1 0m7-16l0 1m97-10l0 1m-167-72l-1 2m67 70l0 0m76 6l-1 0m9 51l-1 1m-54 23l0 0m-36-61l1 1m74-138l0 2m0 173l2 1m-101 27l0 1m156-193l-1 1m-172 46l0 2m140-2l1 0m-45 126l1 0m-62-72l1 1m-53-8l0 0m123 25l-1 0m43 22l0 1m-35 26l0 2m-18-12l2 1m-126-169l1 2m84 144l0 0m75 36l-2 0m17-18l1 1m-130-86l0 1m2-64l0 1m13-3l0 1m-15 63l1 0m60-57l1 0m-44-31l-1 1m92 151l1 2m-125-107l-1 1m90 0l1 2m51 54l0 1m-146 84l1 0m96-2l1 1m76-129l0 1m-57 30l1 1m-111-78l-1 0m89 51l-1 1m63 5l1 2m-100-40l-1 0m9 98l0 1m19-32l1 1m-81-78l-1 0m4 155l1 0m-48-112l0 1m59 96l-1 0m146-100l1 0m-168-25l0 1m2 163l1 0m57-16l0 1m31-114l0 0m-136 3l0 0m150 13l0 0m34-80l0 0m-188-8l2 0m224 87l0 2m-109 47l0 1m34-115l1 0m11-22l1 1m-134 160l2 0m124-39l-1 1m56-84l-2 0m-66 130l-1 1m45-46l0 2m-34 42l-1 0m-96 27l-1 0m71-55l-1 0m80-86l0 1m-98 31l2 0m30 75l-2 0m27-124l0 0m-45-1l1 0m63 75l0 0m-134 26l0 0m68 53l1 1m34-116l1 1m-55 98l0 0m-66-143l2 1m120 81l0 0m-17 36l0 1m-78-87l1 1m-5-2l0 1m88 85l0 1m-21-118l-1 1m0 128l0 1m50-7l-1 1m9-98l0 0m17 84l-1 1m-42 25l0 0m-137-18l0 2m214-36l0 1m-110-76l-1 1" stroke-width="2.0"/><path d="M743 2082l-1 0m-5 143l-1 0m-73-102l0 0m23 86l0 1m114-33l0 1m-7-103l1 1m-97 62l0 0m-52-51l0 0m11-17l0 0m94 145l0 1m11-108l-1 0m21 90l0 0m-108-29l0 0m-55-136l0 0m5 40l0 0m134 155l0 1m-98-58l0 0m60-85l0 0m-41 76l0 0m10-44l1 1m96-85l0 0m-117 74l0 0m26 47l0 1m79-122l0 0m-20 63l0 1m28-66l0 0m-98 155l-1 1m123 3l0 1m-76-89l0 0m81 2l0 0m10-54l0 0m-68 75l0 1m49-63l0 0m-145 11l-1 1m90 100l0 0m18-128l0 0m3 60l0 0m-66 44l1 1m25-121l0 0m88 31l0 0m-132-20l0 1m140 70l-1 0m-166-12l-1 0m160-70l0 0m2 54l1 0m-75 118l0 1m10 6l1 0m78-99l0 0m-106 122l0 0m-74-83l0 0m13-79l0 1m-9-13l0 1m105 60l0 0m-46-50l0 0m107-49l1 0m-43 113l0 1m-7 25l0 0m0-70l0 0m-62-10l0 0m48 14l0 1m37-42l0 0m-75 118l0 0m-104-20l-1 0m68-43l-1 1m62 18l0 0m36-82l0 1m-45 174l1 1m-21-118l0 1m32-42l1 0m-76 142l0 0m32 15l0 0m-35-56l0 1m38-138l0 0m125 158l1 1m-168 35l1 1m-30-191l1 1m155 159l0 0m-38-103l0 0m-139 16l0 0m129 99l0 0m19 6l0 0m-21-19l0 0m-129-26l0 0m20-86l0 0m86 39l0 0m73 64l0 1m-144-71l0 0m68 105l0 0m62-111l1 0m-118 77l0 1m106-60l-1 0m-143 68l0 0m25-155l0 0m142-15l0 0m-124 166l0 0m66-45l1 0m-3-102l0 0m33 9l0 0m-18 182l1 0m42-23l0 0m-164-69l-1 1m99-13l0 0m9-36l0 1m98 3l0 1m-158 21l0 1m2 90l0 0m42-26l-1 0m-4-77l0 0m93 38l0 1m-118-92l1 0m-54-16l0 0m153 85l-1 1m-75 45l0 0m-64 29l0 0m179-95l1 0m-199-76l-1 0m119 19l0 0m45 86l0 1m7 78l0 0m32-37l0 0m-154-85l-1 1m103-49l0 1m-108 125l0 0m-5-16l0 0m145-10l0 0m-169-115l1 0m169 11l0 0m18 93l-1 0m-74-100l0 1m6 140l0 0m-108-74l-1 0m-18-29l1 1m187 12l0 0m-84 131l0 0m-118-32l0 0m66-82l0 1m35 78l0 0m48 24l0 0m-148-158l-1 0m207 48l0 1m-171-27l0 0m-13-30l0 1m55 198l0 0m-12-156l0 0m93-11l0 0m-13 111l0 0m-116-7l0 0m28 45l0 1m-12-69l1 0m0-93l0 0m-42 117l0 0m79 7l0 0m-25-61l0 0m-42 41l0 0m121 63l0 0m-76-98l-1 0m120-78l-1 0m-101 42l0 1m-50-67l0 1m61 32l0 0m0 109l0 0m-21 28l-1 0m-63-69l0 1m67-10l0 1m121 38l0 0m-174-117l0 0m42 1l1 1m55 132l0 0m-62-95l-1 0m104 30l0 0m-29 124l1 1m-99-162l-1 0m37 23l0 0m56 134l0 0m-44-192l-1 1m105 82l0 0m-80 78l0 1m82-85l-1 1m-100 116l0 0m-59-192l0 0m17 74l0 1m47-84l0 0m-59 98l0 1m96-101l0 0m-127 93l1 1m-8-42l-1 1m128 145l0 1m-72-55l0 0m113 28l0 1m-121-111l-1 0m33 30l0 0m70 80l0 1m-119-14l0 1m29-34l0 0m31 30l0 0m-14-121l0 1m130 37l0 0m-95 97l0 0m-33-121l0 0m-36 131l0 0m69-69l0 0m52-61l0 0m-45 162l0 0m-10-91l-1 0m-20-60l0 1m-21 144l0 1m72-204l0 1m-34 136l1 0m-30 19l0 0m104 16l0 0m-15-92l-1 1m18 3l0 0m-112 9l-1 0m57-71l1 0m13 30l0 0m-62 97l-1 0m-11 26l-1 0m-17-73l0 0m68 99l0 0m-21-178l0 0m-12 108l0 0m-26-17l0 0m-44-21l0 1m58-45l0 0m2 28l0 0m-37-18l0 0m126 6l0 0m-142-25l1 1m68 150l-1 0m-71-136l0 0m56-4l1 0m43 159l-1 1m10-64l0 1m23-92l0 0m-73 124l0 0m-41-38l0 0m134 34l-1 0m-143-35l0 1m28-130l0 1m115 166l0 1m4-90l0 1m-169 11l-1 0m81-47l0 0m71-11l0 0m-42 65l0 1m-17-4l0 0m24-42l1 0m14-51l0 1m89 94l0 0m-156 17l-1 0m-45 1l-1 0m78-84l0 0m74 2l0 1m-67-51l0 0m-9 27l1 0m50 164l-1 1m-39-146l0 0m13 167l0 0m-28-194l-1 1m-27-3l0 0m111 131l0 0m-64-33l0 0m86 63l0 0m11-124l-1 0m-144 53l0 0m-1-15l0 1m-49-32l0 1m1 40l1 1m2-26l1 1m13-51l1 0m-13 32l0 1m73-53l-1 0m74 107l-1 1m-96 76l0 0m8-40l-1 0m105-78l-1 1m35-68l-1 1m-59 82l0 0m-139 27l1 0m-16-110l-1 0m69 75l0 0m70 133l0 0m-22-40l0 0m-99-131l0 0m43 14l1 0m72 139l1 1m2-145l-1 0m70 86l0 1m-160 33l0 0m37-137l0 0m141-21l0 1m-68 92l0 1m15 8l0 0m-119 34l0 0m-32 21l0 0m40-126l0 1m19 87l0 0m14-39l1 1m-46-64l0 0m156 76l0 1m-158 40l1 0m132-61l0 0m-34-9l0 1m-2 75l1 1m-7-140l0 1m21 48l1 0m46 30l0 1m-114 51l-1 0m52 19l0 0m-94 27l0 0m102 5l0 0m58-62l0 1m-192-2l0 0m108 21l0 0m-88-100l0 0m44 14l0 1m85 33l0 1m-69 107l1 0m-24-209l0 0m74 114l1 0m-4 45l0 0m76-16l0 0m-32-86l1 0m-82 106l0 0m-47-95l0 1m-28 92l1 0m9-54l0 1m100 62l0 0m-35-163l0 1m15 160l0 0m-76 10l0 0m50 20l0 0m72-149l0 0m-71 44l0 1m6-55l-1 1m-36-26l0 0m-15 19l0 0m-19 81l0 1m63-61l0 0m-73 80l1 0m150 7l0 0m-48-32l0 0m-67-52l0 0m50 94l0 0m76-82l-1 0m-78 62l0 0m2-68l0 0m-63 103l0 1m178 3l0 0m-216-32l0 1m43-26l1 0m51 37l0 1m-58-1l0 0m-35 3l0 0m161-106l-1 0m33-33l0 0m-49 123l0 1m-110-45l-1 0m147 0l0 1m-84-15l0 1m-79-34l1 0m171 96l0 0m-112-129l0 0m75 55l0 0m-19 91l0 0m-33-104l0 0m69 100l0 0m-45-99l0 0m-50 159l-1 1m68-25l1 1m-5-171l-1 0m-100 154l1 0m66-154l0 1m-10-18l0 1m69 81l0 0m6 24l0 0m-166-102l0 1m18 62l1 0m126 61l0 1m-64-127l0 0m-8 121l0 0m26-34l-1 0m48 102l0 0m3 1l0 0m-124-138l0 0m72 70l0 0m116-115l0 1m-126 49l0 0m127-15l0 1m-19 82l-1 0m-61-92l0 0m-121-11l-1 0m67 118l0 1m-66-101l0 0m4-4l0 0m170 129l0 1m-87-41l0 0m-62-114l0 1m47 96l0 0m-3 71l1 1m-48-110l0 0m21 97l0 0m-38-46l0 1m140-8l0 1m-36-85l0 0m71 81l0 1m-113 18l0 0m9-63l0 0m21 89l0 0m-86-125l0 0m-36 67l0 0m148 24l-1 0m-7-59l0 0m16 11l-1 0m-110 41l0 0m169-81l0 1m-34 126l1 0m-101-31l0 0m-11-36l0 0m64 25l1 0m-54 61l0 0m68-123l0 0m-40 71l1 0m-93-120l-1 0m16 140l0 0m107 61l0 1m-104-155l1 0m101 31l0 0m-104-33l1 0m145 40l0 0m-60-18l0 0m31 62l0 0m-94-14l0 0m64 20l0 1m35 10l-1 1m-156-90l0 0m196-10l-1 0m-165-33l-1 0m179 107l0 1m-84-81l0 0m-38 42l0 0m106 68l0 0m-77-94l0 0m-83-1l0 0m159-18l-1 0m-177-20l0 1m39 4l0 0m146-17l-1 0m32 46l0 0m-46-57l0 0m-99 36l0 0m-20-7l-1 0m110 81l1 0m-24-117l0 0m21 192l0 0m-58-165l0 0m61-19l0 0m-5 170l1 0m58-163l0 1m-93-2l-1 1m-113 72l-1 0m68-33l0 1m49-25l-1 1m-115 69l0 1m8-6l0 0m75 45l-1 1m117-106l0 0m-174 25l-1 0m61 74l0 0m-88-136l0 1m74 129l0 0m54-84l0 1m-13 92l1 0m-134-100l0 0m192 82l0 0m2-118l0 0m-85 50l0 1m-97-35l0 0m-11 38l0 1m94-13l0 1m124 69l-1 1m-148-35l-1 1m1 92l0 0m-35-94l-1 0m69 61l0 0m-48-128l0 0m126 129l1 0m-42-28l0 0m31 25l1 0m-12-51l0 0m-158-30l0 0m27 61l0 0m25-3l0 0m-35-56l0 0m49-37l0 0m69 162l0 0m31-81l0 0m32-60l0 0m-174 62l1 0m88 31l1 0m7-31l0 0m-44-29l-1 0m-53 34l-1 1m204 1l1 1m-170 89l0 0m62-114l1 1m-16 62l0 0m102-39l0 0m-10-6l0 0m-172-25l0 0m135 27l-1 0m17 13l1 0m-78 26l0 0m116-124l0 1m-8 17l0 0m-19 110l1 1m-172-95l0 0m206 109l0 1m-146-125l0 0m-61-13l0 0m170 83l-1 0m-48-59l1 1m54 6l-1 1m-100 15l1 1m-62-9l1 0m93 45l0 0m49-116l0 0m13 26l0 0m-60 175l1 1m97-147l-1 0m-198 20l0 1m112 56l0 0m90-71l1 0m-173 83l0 0m6 63l-1 0m48-131l0 0m18-4l0 0m60-70l-1 1m-114 78l0 0m-51 61l0 0m1-4l0 0m-5-62l-1 1m112 121l0 0m20-79l1 1m-14-36l0 0m-13-69l0 0m109 28l0 0m-101 60l1 0m4-58l0 0m-12-31l0 1m23 85l0 1m-63-92l-1 1m4 82l0 0m32 3l0 0m67-49l0 0m-9 51l0 0m-2 86l0 0m-74-159l0 0m-27 168l0 0m157-81l1 0m-216-93l0 1m163 179l-1 0m-84-27l1 0m-55-151l0 0m-38 107l-1 0m171-112l-1 0m-134 34l0 1m177-45l0 1m0 3l1 0m-194 73l0 0m142-63l1 0m-95 157l0 0m74-162l0 0m-121 150l0 0m61-162l-1 0m-24 186l0 0m60-97l0 0m83-52l0 0m-170 76l0 0m90-56l0 0m-14 151l-1 0m-7-77l0 1m14-95l0 0m68 135l0 0m-84-98l0 0m62 17l0 1m23-16l0 0m-65 3l-1 1m22 128l0 0m-82-159l0 0m6 48l0 0m-31 71l-1 0m121-88l1 1m58-64l0 0m-109 174l0 0m54-161l0 0m-47 106l0 0m-62-74l0 0m-17 42l0 0" stroke-width="3.0"/></g>
</g>
<g clip-path="url(#c6)">
<rect x="838" y="2019" width="229" height="230" fill="#c6d2ea"/>
<ellipse cx="880" cy="2110" rx="22" ry="14" fill="#e2e7ef" filter="url(#bl4)"/>
<ellipse cx="962" cy="2150" rx="25" ry="32" fill="#e2e7ef" filter="url(#bl4)"/>
<ellipse cx="1050" cy="2058" rx="20" ry="28" fill="#e2e7ef" filter="url(#bl4)"/>
<ellipse cx="1000" cy="2228" rx="15" ry="15" fill="#e2e7ef" filter="url(#bl4)"/>
<ellipse cx="950" cy="2088" rx="12" ry="14" fill="#e2e7ef" filter="url(#bl4)"/>
<ellipse cx="905" cy="2190" rx="12" ry="10" fill="#e2e7ef" filter="url(#bl4)"/>
<path d="M838,2019 H1067 V2249 H838 Z" fill="#000" filter="url(#texw)" opacity="0.45"/>
<g fill="none" stroke="#7593dc" stroke-linecap="round" opacity="0.85"><path d="M1027 2141l1 1m-8-116l-1 1m-88 216l1 0m-2-210l2 1m-53 83l0 0m180-24l0 1m-51 116l1 0m-51-161l3 1m-45-20l1 1m-46 9l0 0m66 54l0 0m-85 128l0 0m23-141l-2 1m92 83l0 1m16-78l-1 2m-38-42l1 0m-67 54l-2 0m48-56l0 1m-68 60l-1 1m204 56l0 1m-119 36l-1 1m-76 6l0 1m153-74l2 0m-109-6l2 1m56 14l0 0m-45-90l0 2m-35 172l-3 1m166-146l-1 2m9 150l0 1m-113-134l-1 1m99 79l0 0m-191-158l3 1m48 81l0 1m-18-84l1 1m-28 181l3 1m46 25l1 1m20-45l0 3m91-157l0 0m25 29l0 1m-31 140l-3 0m-146 25l0 0m71-31l1 3m51-87l3 1m14 70l0 1m-49 50l0 1m-6 9l0 1m-5-183l0 0m-47 29l0 0m65-57l1 0m-77 56l2 0m-42 55l0 1m126 71l0 0m-13-197l0 0m-107 198l1 3m-7-85l0 3m45-11l-1 1m62 68l-1 1m43-53l0 2m-129-93l0 0m63 77l0 1m95 3l2 1m38 37l2 2m-91 53l0 0m-87-1l-1 0m78-159l0 0m9 120l0 1m26-134l0 0m-56-28l2 2m87 104l0 0m27 82l2 2m-84-147l0 0m-42 170l3 1m64-11l1 1m-99 1l1 0m115-1l-2 0m-98-20l0 0m98-3l0 2m-170-97l3 1m206-74l0 0m-26 153l1 2m-183 9l-1 1m122-81l0 1m-127 59l0 1m137-15l0 0m89-115l0 0" stroke-width="6.0"/><path d="M882 2208l0 0m3-79l0 0m169-42l0 3m-42 101l0 2m-21-19l0 0m-10-149l0 0m-18 15l-2 1m-104 94l0 0m100-81l-1 0m30 187l-1 2m45-144l-1 1m-57 62l0 1m35-86l2 0m-101-4l1 0m74 173l-1 2m2-36l2 1m9-53l3 0m-65-105l3 2m21 176l0 1m5-6l0 0m33-74l2 2m-68-51l-1 1m-56 9l0 0m40-57l1 1m82-12l-1 1m-70 29l0 0m-68 7l0 1m16 3l-1 0m36 3l0 0m85 143l0 0m-73-175l-2 0m-66 122l0 0m24-64l2 1m70 115l-1 2m63-135l0 0m-6 98l3 0m-122-49l0 1m79-71l0 0m-79-32l-1 1m159 126l-1 2m-11-152l1 0m-48 101l1 1m-17 6l0 0m23-68l0 0m-71 122l-1 1m141-39l1 1m-209 30l0 1m76 44l-1 1m70-167l0 2m62 184l0 2m-158-183l0 0m-22 127l-2 1m67-121l1 0m115 148l1 0m-115-97l-1 2m28 2l0 1m-110 105l-1 2m93-85l1 2m55 76l-1 0m-158-169l-1 0m50 101l0 0m119 48l1 2m-101-158l0 0m114 18l1 1m-188 160l2 1m51-140l1 1m-28 117l0 1m2-155l-2 0m180 19l0 2m-49 17l0 0m25 115l0 0m-65-136l1 2m-33-24l0 0m-85 95l2 0m123-81l-2 0m-55 40l1 1" stroke-width="6.5"/><path d="M899 2177l1 3m150-52l2 0m-152-68l-2 2m62 154l3 2m70 12l0 1m-85-201l2 2m-64 164l0 1m85 21l0 1m70-64l0 3m-7-59l2 2m-39-53l2 0m37 36l0 4m-25 119l-1 1m-93-95l1 1m35-8l1 0m-12-44l-3 1m17 38l-1 1m-73 38l1 0m131-95l0 1m16 122l2 0m-55 65l0 1m12-172l-3 3m27 16l2 0m10 32l-2 1m-121-63l2 2m51 121l1 3m-53 14l0 1m157-97l-1 2m-103 123l-1 4m-11-104l3 2m65-10l-3 0m-128 101l-2 1m-13-27l-1 4m147-111l1 2m-112 63l3 1m-6-123l-2 1m4 71l-3 2m26-10l0 0m-30 38l-3 1m168 108l1 0m0-72l-3 2m-83-53l2 2m-131 71l3 1m93-84l-2 0m17 46l0 1m-7 6l3 0m16-75l3 0m-81-23l1 2m-7 73l-1 1m159-89l-1 4m-197 56l-2 0m49 0l-1 2m22-52l1 3m58-11l2 0m19 84l-3 3m-143 112l1 3m8-65l-1 1m115-12l3 2m-84-124l2 1m-14 184l2 1m154-84l3 1m-55 1l1 4m-137-18l0 1m57 67l0 4m-59 23l-1 4m155-124l-4 0m12 118l-3 0m66-136l0 1" stroke-width="5.0"/><path d="M895 2075l0 0m33 103l-1 1m-16 43l1 2m96-60l-1 1m49-134l1 1m-207 189l1 1m172-11l-1 1m11-35l0 1m-114-15l-2 2m-50 48l3 2m14-155l0 3m162 18l2 1m-16 4l0 0m-154 11l0 2m143 9l4 1m-168 136l-3 0m205-83l-3 0m-90 77l3 1m-100-145l2 3m2 91l-1 0m27-97l3 0m124-72l-1 1m-131 214l1 0m-5-187l0 1m92-20l0 1m-55 112l1 1m99-55l0 0m-170-65l1 1m154 15l-1 0m-106 96l3 2m-25-91l0 0m96 24l-2 0m-136 139l0 1m19-37l1 0m179 25l1 2m14-12l3 2m-58-37l0 1m20 46l1 0m-20 40l0 0m-140-181l3 0m199 184l2 1m-179-18l1 0m-26-148l2 2m-12-56l0 1m-5 39l0 1m171 136l0 0m-9-91l2 1m-144 124l-1 0m67-91l0 0m0 31l-2 3m67-138l0 0m7 188l0 1m-111-50l-1 1m-19-43l0 1m146-8l0 0m-96-32l0 1m119-52l0 0m-115 27l1 0m82-23l0 0m-83 8l2 2m14 83l0 0m44 16l2 2m-15 76l0 2m-110-131l-3 0m50 33l0 0m105 82l1 1m11-112l-1 2m15 64l2 2m-15 1l-1 1m-35-77l0 1m-98-58l-1 2m-10 160l0 3m-46-3l3 2m104-30l-1 2m-99-63l-1 0m206-81l-3 1m16 113l1 3m-145 43l0 1m85-141l1 0m32-13l0 1m-86 165l-1 1m80-86l1 1m31 74l0 0m-21-58l-2 1m-81-72l1 0m4 98l0 1m-81 24l0 2m70-53l-3 1m64 45l-1 1m-7-106l3 1m-125-13l1 0m93 95l1 2m-89-150l0 0m50 97l1 1m62 45l2 1m-62 56l-2 2m0-200l-2 2" stroke-width="5.5"/><path d="M1021 2200l1 1m-94-180l1 2m126 51l1 2m-29 29l0 1m-53-38l0 2m-78 58l1 0m-44-19l-1 0m76 53l0 0m62-41l1 1m-80 1l-1 1m58 96l1 2m-33-83l-1 1m-47-3l-2 1m21-114l-1 0m113 65l1 1m-124 31l0 1m128 100l0 1m-182 20l-2 0m28-74l1 2m-16-19l0 0m44 69l-2 0m165-149l0 0m-133 176l0 0m12-51l-1 2m16-86l0 1m-105-35l0 1m40-12l0 0m158 165l1 2m-112-216l0 0m-21 110l0 2m-39-29l0 0m143 137l0 0m-66-180l-1 1m6 56l0 0m65 23l-2 1m-58 8l-2 1m-21 91l2 2m-100-59l0 1m124-39l0 1m94 82l0 1m-33-2l-1 0m-10 2l0 0m-82-58l2 0m33-78l0 2m75 86l1 0m21-76l0 0m-66 8l0 0m-15-31l0 0m19 33l0 0m-81-95l-1 1m141 21l-1 0m-110 182l0 0m-99-42l1 1m2-162l0 0" stroke-width="7.0"/></g>
<g fill="none" stroke="#3a55b8" stroke-linecap="round" opacity="0.8"><path d="M921 2130l-1 1m-58 107l-1 1m156-212l1 2m-141 194l-2 2m11-189l1 1m102 57l2 1m-77 149l2 1m39-150l-1 1m38 133l-1 3m-79-100l0 1m49-15l-1 0m-22-41l1 1m115 100l0 0m-34 62l0 1m-4-150l-2 0m-10 90l-1 1m-35 10l-1 2" stroke-width="3.5"/><path d="M878 2051l0 2m79 165l-1 1m-43-60l1 1m77 8l1 3m44-104l3 1m-166 135l-1 2m45-57l-1 2m-69-126l0 3m48 98l-2 1m50 18l0 1m-12-34l-1 3m2-61l1 1m-35-24l-2 2m43 198l2 2" stroke-width="3.0"/><path d="M942 2126l1 1m84-5l-1 2m41 96l-1 0m-130-110l-2 1m59-86l1 0" stroke-width="4.0"/><path d="M997 2222l1 3m-57-165l2 0m-15-24l2 3m54 153l-1 0" stroke-width="2.5"/></g>
</g>
<g clip-path="url(#c7)">
<rect x="601" y="2255" width="231" height="230" fill="#b9c7e2"/>
<path d="M601,2255 H832 V2485 H601 Z" fill="#000" filter="url(#texw)" opacity="0.5"/>
<g fill="none" stroke="#5a7bd6" stroke-linecap="round" opacity="0.55"><path d="M817 2411l0 1m-214 44l1 0m112-83l0 1m72-100l0 0m-112 124l-1 0m26-77l0 0m-26 51l0 0m15-50l0 1m-68 47l1 0m183 57l0 0m-113-129l0 0m21-14l0 0m38 41l-1 0m-119-11l1 0m57 126l1 0m-61-157l-1 0m64 0l0 0m-65 94l0 0m168-7l1 0m-193 49l0 1m204-163l0 0m-131 20l0 0m119 187l-1 0m-11-114l0 1m-144-13l0 1m33-61l0 0m102 170l0 1m30-183l0 0m-64-3l0 1m-11 4l0 0m-98 123l-1 0m47-36l0 1m-21-41l0 1m104 11l1 1m-144-31l1 0m54 181l0 1m-12-72l-1 1m56 71l0 0m99-69l-1 1m-180-4l1 0m140-62l0 0m-171 122l0 0m65-14l0 1m83-146l1 0m42 84l-1 0m-179-13l0 0m35 43l0 0m171 21l1 1m-187-169l0 0m68-19l0 0m117 58l0 1m-3 132l0 0m-4-184l0 0m-93 152l-1 0m-63-5l0 0m72 48l-1 0m-79-164l0 0m-47 97l0 0m71-23l0 0m97 81l0 1m-75 30l0 0m69-179l0 1m-94 66l0 0m50-6l-1 1m51-48l0 0m-70 50l1 0m-4-40l1 1m58 155l-1 0m-78-132l0 0m143-92l1 0m-76 167l0 0m26-145l0 0m-93-15l0 0m-44 175l1 0m34-5l0 1m95-90l0 0m-106 4l0 1m-14 104l0 0m111-112l0 0m-138 15l0 1m182-56l0 0m-100 24l0 0m-23 96l0 0m140-109l0 0m-133 25l0 0m-16-79l0 0m59 187l1 1m-109-31l0 0m133 4l-1 0m49-53l-1 0m-61-110l0 0m-8 171l0 0m30-146l0 0m-84 102l0 0m67-18l0 1m-2 3l1 1m-84 82l0 0m134-88l0 0m-55-95l0 0m87 209l1 1m-190-65l1 0m165-96l0 1m-95 26l1 0m101-34l1 1m-145 32l0 0m4-36l0 0m121 169l-1 1m27-178l0 0m-46 135l0 0m-60-116l1 0m92 142l1 0m-160-62l0 0m-14-14l0 1m140-79l-1 0m-109-36l-1 0m-24 172l0 0m190 20l1 1m-75-195l0 0m-127 1l0 0m158 4l0 0m26 69l0 0m-204-58l0 0m100 3l0 0m-4-31l0 1m22 165l0 0m49 40l1 0m-17-164l0 1m-30 88l1 1m40-16l0 0m8-94l0 0m-51-12l0 0m64-13l-1 0m-84 99l-1 1m24 74l0 0m-111-48l-1 0m200 32l1 1m-1-129l0 0m4 91l-1 0m-132-60l0 0m66 114l-1 1m72 41l0 0m-82-162l0 0m-104 73l0 1m143 69l0 0m0-36l0 0m-69-87l-1 0m37 23l-1 0m-133 106l0 0m119-68l0 0m81-28l0 1m-27 38l0 0m-150-128l-1 0m191 163l0 0m-185-48l0 1m63-109l0 1m-88 137l-1 0m2 13l1 1m207 10l1 1m-148-122l1 1m29-44l-1 0m83 133l1 0m-153-65l0 0m172 63l0 0m21-106l0 1m-54-43l0 1m-151 62l1 0m164-56l0 0m-51 93l0 1m30 108l0 0m65-137l0 1m-153 132l-1 0m-46-190l0 0m99 0l-1 1m-101 73l0 0m197 77l0 1m-109-48l0 0m82 82l0 0m-89-69l1 1m-91 9l0 1m158-130l0 1m-76 53l0 0m77 80l0 1m34-67l0 0m-209 93l0 0m108 2l0 0m33 31l-1 1m55-156l0 0m-15 130l-1 1m-36-62l0 0m33-49l-1 0m-149 100l-1 1m-3 46l0 0m18-80l-1 1m87-116l1 1m55 109l0 0m-41-6l0 1m36 48l1 0m-85 23l1 0m85-87l0 0m42 70l1 1m-33-128l0 0m-27-5l1 1m60 28l0 1m-160 118l1 1m-57-191l1 1m36 134l-1 0m181-10l0 0m-110-41l1 0m-16-55l0 1m7 38l0 1m-8 111l1 1m-37-142l0 1m66-34l0 0m10 164l0 1m21-186l0 0m-138 92l-1 1m-16 55l-1 1m86-67l0 1m-10 138l1 0m-68-158l0 0m184-3l0 0m30 100l0 1m-151 54l0 0m-32-50l0 1m-8-50l0 0m120-107l0 0m-60 206l0 1m73-86l-1 0m5-76l0 0m-155-21l0 1m64 176l0 1m-24-43l0 0m67-93l1 1m-38 134l0 0m80-60l1 1m-62-100l-1 1m-15 35l0 0m-17 114l1 1m122-8l0 1m-7-100l0 1m-73 120l-1 1m115-21l0 1m-194-119l-1 1m139 125l0 0m-147-27l0 0m201 51l1 1m-40-83l0 1m-90 66l0 0m-83-37l0 0m43-87l-1 1m-23-86l0 1m149 173l1 1m-17-78l0 0m10-18l1 0m-48 54l0 0m-57 37l-1 1m5-55l0 0m80-116l0 1m-121 210l0 0m17-209l0 0m-40 9l1 0m149 77l0 0m-107 49l0 1m-15-23l0 0m111 17l0 0m-41-115l0 0m-42-4l0 0m107 36l1 0m48-10l1 1m-31 44l0 0m-174 117l0 0m185-148l0 0m-3 161l1 1m-41-40l0 0m-155-9l0 0m143-54l0 1m75 78l0 1m-61-146l0 0m-132 57l-1 1m126-93l1 0m-123 150l-1 0m97-80l-1 1m66 91l0 0m-126 48l0 0" stroke-width="2.5"/><path d="M662 2349l2 1m117-4l-1 0m-13 61l0 0m-137 59l0 1m70-165l0 1m58 141l0 0m-92-120l0 1m-51-18l0 2m58-18l0 1m40 127l-1 1m89-11l0 0m-120 49l0 0m-70-29l0 0m103-32l-1 2m11-103l2 1m41 169l1 0m30-126l1 0m13 116l0 0m-135-150l1 1m60-22l1 1m76 27l0 1m-205 83l0 0m187-61l1 1m-107 90l1 1m72-146l0 0m-111 14l-1 1m178 58l-2 1m-164 26l-1 0m37-88l1 0m125 153l1 0m-205 28l1 1m-13-16l0 1m205-81l2 1m-92-111l0 1m-80 110l1 1m149 67l-1 0m-94-68l2 1m-42-4l-1 1m-20 24l0 2m112 29l0 0m-84 27l1 2m33-97l0 0m-2-23l0 0m6 20l-1 1m79-22l2 0m-41 33l0 0m21 80l-1 0m-58-69l1 1m66-51l0 2m-82 138l0 0m40-131l1 0m-37 138l0 0m-47-195l-1 0m91 80l-1 0m-30 113l0 0m37-223l1 0m-109 13l0 0m161 28l0 0m-136-32l0 0m137 188l1 0m-108-101l0 1m-50 17l-1 1m110 42l0 0m-20-83l1 1m-68 125l0 1m105-190l-2 1m47 76l0 1m-6 111l-1 0m-65-112l0 1m-101 90l2 1m-15 12l-1 1m177-34l-2 0m-142-99l0 0m132 106l2 0m9-139l0 1m-180 125l0 0m20 18l1 1m73-116l0 0m88 144l1 0m10-41l-1 1m-106-55l1 1m2 25l1 0m43 28l1 1m-63 46l0 1m-32-187l0 0m-7 151l-1 1m23-53l-1 1m132 31l-1 1m-175 42l-1 0m104-191l1 1m-44 117l0 0m68 97l-1 1m-43-38l0 2m-89 41l1 0m4-93l-1 1m171 49l0 1m-88-6l1 1m-18 37l1 1m124-194l0 1m-210 52l0 1m123 31l1 1m-134 11l0 1m21-80l0 1m-10 37l0 0m3-42l-1 0m50 6l-1 1m76 93l2 1m-32-4l-1 1m-64 20l0 0m84-152l0 1m59 23l0 0m-66 7l0 1m65 125l1 0m-31-131l-1 1m18 38l0 2m-165 88l0 2m214-90l1 1m-164-41l-1 1m-9-15l-1 2m67-17l0 1m-102 181l0 0m-7-14l0 2m4-8l0 1m142-144l0 0m-142 168l-2 0m73-64l0 1m14 49l1 0m-76-171l0 2m124 70l-1 0m81-2l0 0m-44-26l0 1m-157 177l0 0m138-165l0 0m6 47l1 1m-40 10l-1 0m-98 31l1 1m103 60l1 1m29-80l0 0m-104 1l0 0m118-35l0 1m-168-52l0 0m197-16l0 1m-95 192l-2 0m-29-60l0 1m-63 64l-1 0m42-123l0 0m70 9l-2 0m-44-6l-1 1m-64 90l1 1m162-96l1 0m28 104l0 0m-98-62l0 1m87-19l0 1m9-62l-1 0m-67 86l1 1m64-89l1 0m-80 125l1 1m27-7l0 1m-105 8l1 1m44 3l-1 1m-14-143l0 1m25-11l0 0m100-15l0 1m22 186l-1 0m-65-186l0 0m19-30l0 1m-42 73l-1 0m-103 105l0 0m0 44l0 1m115-173l0 0m-24 65l1 1m-63 1l1 0m141 52l1 0m-71 48l0 1m21-101l0 2m-147-121l0 1m93 201l0 0m110-154l1 0m-108 21l1 0m112-5l0 1m-125-30l0 1m-48 78l0 1m124-115l0 1m-76 69l0 0m-64 102l1 1m101-122l1 1m-2-2l0 0m36-16l0 0m-63-33l-1 2m7 222l0 0m-51-183l-1 1m60 55l-1 1m-80-22l0 1m-31-29l1 1m40 28l0 0m25-64l1 0m-22 134l-2 0m138 26l1 0m38-160l-1 1m-110-3l2 0m50 136l-1 0m13 48l-1 1m-157-29l0 0m189 10l0 1m1 41l-1 1m20-117l1 0m-153-25l1 0m48-3l0 0m-55 13l-1 2m54 9l0 0m-21-50l0 1m34 118l-2 0m-27 18l1 1m58-51l0 1m-141-74l-2 0m179-43l0 0m-110 184l1 1m19-160l0 0m113 41l-1 0m-27-38l1 0m-139 52l1 1m35-42l1 0m99 91l-1 0m-62 70l0 1m77-207l1 1m-102 195l1 0m116-64l-1 1m-53-16l1 0m11 1l-1 1m-66-96l-1 2m-73 125l0 0m122-141l0 0m35 6l0 0m-155-26l1 1m59 35l0 0m100-16l0 1m-93 1l0 1m-84 73l-2 0m8 89l1 0m153-32l2 1m-97-11l1 0m-20 58l0 1m158-172l0 0m-204 11l0 0m88 1l-1 1m-97-48l-2 0m18 84l-1 0m101 107l0 0m-26-151l1 1m122 100l-2 0m-90-102l-1 2m-43 161l0 2m9-143l-1 1m-27 147l0 0m-31-155l1 1m112 121l2 0m-117-64l-1 0m-32-60l0 0m18 36l1 0m196 12l0 1m-20 18l1 1m-122-63l-1 0m121 157l-1 1m-169-10l-1 1m26 9l0 1m-9-210l1 0m45 141l0 0m32 71l1 1m63-159l0 1m21 61l0 1m-29 29l0 0m-3-150l0 0m35 148l-1 0m-19 56l-1 1m-88-68l0 1m-63 62l0 0m174-170l-1 0m-1 92l1 1m15 41l1 1m-142 37l1 0m109-146l1 1m-101-46l-2 1m8 76l-1 1m68 29l1 1m-144-17l0 0m19-101l-1 2m-10 4l1 1m191 193l1 1m-44-59l-1 2m-125-135l0 2m142 116l1 1m-185-55l1 1m40 33l-1 1m22 8l0 0m27 100l1 1m85-119l1 0m15-28l-1 1m-199-42l0 0m29 111l0 1m-29-99l-2 0m10 43l1 0m102-72l-1 0m82 142l1 0m-101 8l1 0m111 13l-1 1m-157-166l0 0m-46 127l0 0m186-22l1 1m-23 62l1 0m-95-149l-1 1m96 163l0 0m-104-114l0 0m103 141l0 0m-82-163l0 1m101 36l0 0m-138 79l0 0" stroke-width="2.0"/></g>
<ellipse cx="728" cy="2295" rx="34" ry="37" transform="rotate(5 728 2295)" fill="#a4673a" opacity="0.88" filter="url(#bl2)"/>
<ellipse cx="728" cy="2295" rx="34" ry="37" transform="rotate(5 728 2295)" fill="#000" filter="url(#texbr)" opacity="0.85"/>
<ellipse cx="645" cy="2355" rx="14" ry="68" transform="rotate(10 645 2355)" fill="#a4673a" opacity="0.88" filter="url(#bl2)"/>
<ellipse cx="645" cy="2355" rx="14" ry="68" transform="rotate(10 645 2355)" fill="#000" filter="url(#texbr)" opacity="0.85"/>
<ellipse cx="684.3" cy="2358" rx="13" ry="38" transform="rotate(10 684.3 2358)" fill="#a4673a" opacity="0.88" filter="url(#bl2)"/>
<ellipse cx="684.3" cy="2358" rx="13" ry="38" transform="rotate(10 684.3 2358)" fill="#000" filter="url(#texbr)" opacity="0.85"/>
<ellipse cx="739.3" cy="2340" rx="14" ry="23" transform="rotate(15 739.3 2340)" fill="#a4673a" opacity="0.88" filter="url(#bl2)"/>
<ellipse cx="739.3" cy="2340" rx="14" ry="23" transform="rotate(15 739.3 2340)" fill="#000" filter="url(#texbr)" opacity="0.85"/>
<ellipse cx="742" cy="2391" rx="19" ry="20" transform="rotate(0 742 2391)" fill="#a4673a" opacity="0.88" filter="url(#bl2)"/>
<ellipse cx="742" cy="2391" rx="19" ry="20" transform="rotate(0 742 2391)" fill="#000" filter="url(#texbr)" opacity="0.85"/>
<ellipse cx="758.8" cy="2431.6" rx="16" ry="18" transform="rotate(0 758.8 2431.6)" fill="#a4673a" opacity="0.88" filter="url(#bl2)"/>
<ellipse cx="758.8" cy="2431.6" rx="16" ry="18" transform="rotate(0 758.8 2431.6)" fill="#000" filter="url(#texbr)" opacity="0.85"/>
<ellipse cx="632.7" cy="2462" rx="12" ry="28" transform="rotate(5 632.7 2462)" fill="#a4673a" opacity="0.88" filter="url(#bl2)"/>
<ellipse cx="632.7" cy="2462" rx="12" ry="28" transform="rotate(5 632.7 2462)" fill="#000" filter="url(#texbr)" opacity="0.85"/>
<ellipse cx="662" cy="2468" rx="16" ry="20" transform="rotate(0 662 2468)" fill="#a4673a" opacity="0.88" filter="url(#bl2)"/>
<ellipse cx="662" cy="2468" rx="16" ry="20" transform="rotate(0 662 2468)" fill="#000" filter="url(#texbr)" opacity="0.85"/>
<ellipse cx="812" cy="2265" rx="18" ry="9" transform="rotate(0 812 2265)" fill="#a4673a" opacity="0.88" filter="url(#bl2)"/>
<ellipse cx="812" cy="2265" rx="18" ry="9" transform="rotate(0 812 2265)" fill="#000" filter="url(#texbr)" opacity="0.85"/>
<ellipse cx="607" cy="2280" rx="5" ry="22" transform="rotate(0 607 2280)" fill="#a4673a" opacity="0.88" filter="url(#bl2)"/>
<ellipse cx="607" cy="2280" rx="5" ry="22" transform="rotate(0 607 2280)" fill="#000" filter="url(#texbr)" opacity="0.85"/>
<ellipse cx="700" cy="2300" rx="9" ry="12" transform="rotate(0 700 2300)" fill="#a4673a" opacity="0.88" filter="url(#bl2)"/>
<ellipse cx="700" cy="2300" rx="9" ry="12" transform="rotate(0 700 2300)" fill="#000" filter="url(#texbr)" opacity="0.85"/>
<ellipse cx="612" cy="2420" rx="5" ry="25" transform="rotate(0 612 2420)" fill="#a4673a" opacity="0.88" filter="url(#bl2)"/>
<ellipse cx="612" cy="2420" rx="5" ry="25" transform="rotate(0 612 2420)" fill="#000" filter="url(#texbr)" opacity="0.85"/>
<g fill="none" stroke="#7f95cf" stroke-linecap="round" opacity="0.55"><path d="M750 2390l1 0m-2 6l-1 1m-21-130l0 0m-91 216l1 0m18-141l0 0m29 9l-1 1m32-46l0 0m-100 112l0 0m-1-1l1 0m25 47l0 0m39-85l0 0m-34-16l-1 0m98-43l1 1m59-59l0 0m-72 59l0 0" stroke-width="3.5"/><path d="M708 2277l0 0m48 162l1 0m-98 36l0 1m-19-165l1 0m8 87l1 0m-7 0l-2 1m15-60l0 1m78-8l0 1m-87 9l-1 0m-11 142l0 0m92-205l0 0m-9 45l0 0m-36 54l0 0m-76-114l1 1m23 213l0 0m8-21l-1 1m96-178l-2 1m33 143l0 0m-48-107l-2 0m18 32l1 0m-90 35l0 1m-13 83l0 1m91-199l-1 0m50 158l-1 0m-122-102l0 0m31 52l0 1m-13 101l0 1m33-182l2 0m33 55l0 0m-94-43l0 1m69-29l0 1m32 71l-2 0m-57 4l1 0m4-6l-2 0m30-79l0 0m28 53l1 0m-133 89l1 0m125-110l1 1m-11 6l2 0m-52 57l0 0m87 55l0 0m-153-130l-1 0m63 167l1 1m30-158l0 1m-39 168l0 1m15-94l-1 0m-53 88l-1 1m52-105l2 1m-37 21l1 0m29 81l-1 0m81-184l0 1m-25 37l1 1m-53 150l1 1m-33-166l1 2m99-10l1 1m5 124l0 2m-5-38l-1 1m-12-110l1 0m-11-13l0 0m-80 69l0 1m84-39l0 0m-116 134l2 1m38-110l0 0m100 69l-1 2m7-101l-1 1" stroke-width="2.5"/><path d="M634 2359l0 0m109 23l0 0m-23-114l0 0m-5 24l0 1m-34 57l0 0m-27-28l0 0m-18 61l0 0m119 9l0 0m-143 19l0 0m79-43l2 1m-83-82l0 0m207-28l1 1m-84 17l0 0m-125 2l0 1m132 69l1 1m23 93l0 0m-140 8l0 0m20-72l0 0m87 11l0 0m-49-54l0 1m7 34l0 0m-80-92l1 0m121 42l0 0m15-21l0 1m19 141l0 0m-53-138l0 1m5-6l1 0m8 7l0 0m-78 30l1 0m83-16l0 2m10-21l0 0m8 131l1 0m-34-131l0 0m-27 48l0 0m-40-27l-1 0m156-63l0 0m-165 50l0 0m40 65l0 0m-21 101l-1 1m91-166l0 0m-14 35l1 1m-25-49l-1 0m-55 157l0 0m27-82l0 0m51 9l0 0m-91 12l0 1m94-84l0 0m-99 71l0 0m40-36l0 0m3 27l0 2m40-56l0 0m9-26l1 2m16 100l0 1m-133 25l0 0m129-84l0 0m-26-39l0 1m-83 152l0 1m43-90l1 1m63-61l0 1m9 4l0 1m-98 26l-1 1m4 21l0 1m-19 88l0 0m105-144l1 1m-92 3l0 0m46 1l1 0m123-46l1 1m-77 15l1 1m-106 91l0 1m13-28l0 0m35-10l1 2m-60 124l0 0m108-136l0 0m-5-34l0 0m-82 180l0 0m45-112l0 0m49 40l-1 1m-51-26l-1 1" stroke-width="3.0"/><path d="M651 2380l0 1m30 2l0 0" stroke-width="2.0"/></g>
<ellipse cx="655" cy="2290" rx="4" ry="5" fill="#2a1206"/>
<ellipse cx="646" cy="2350" rx="4" ry="4" fill="#2a1206"/>
<ellipse cx="640" cy="2375" rx="4" ry="5" fill="#2a1206"/>
<ellipse cx="685" cy="2352" rx="3" ry="11" fill="#2a1206"/>
<ellipse cx="724" cy="2290" rx="6" ry="9" fill="#2a1206"/>
<ellipse cx="758" cy="2432" rx="7" ry="8" fill="#2a1206"/>
<ellipse cx="742" cy="2388" rx="3" ry="6" fill="#2a1206"/>
<ellipse cx="630" cy="2455" rx="3" ry="6" fill="#2a1206"/>
<ellipse cx="738" cy="2338" rx="5" ry="6" fill="#2a1206"/>
<ellipse cx="608" cy="2285" rx="3" ry="4" fill="#2a1206"/>
<ellipse cx="662" cy="2466" rx="3" ry="5" fill="#2a1206"/>
<path d="M806,2337.6 L817,2343 L832,2360 L832,2485 L764,2485 C768,2470 771,2455 772,2440 C774,2420 778,2400 782,2390 C786,2378 792,2366 792,2360 C790,2352 786,2350 788,2345 C794,2340 800,2338 806,2337.6 Z" fill="#f5f5f3"/>
<path d="M733,2442 L744,2448 L742,2485 L722,2485 Z" fill="#f5f5f3"/>
<path d="M720,2280 l6,-7 l5,9 l-5,14 z M604,2262 l5,0 l-3,32 z M756,2426 l5,0 l2,9 l-6,4 z" fill="#f5f5f3"/>
<path d="M788,2345 C794,2340 800,2338 806,2337.6 L817,2343 L832,2360" fill="none" stroke="#7a4a22" stroke-width="2.5"/>
</g>
<g clip-path="url(#c8)">
<rect x="838" y="2255" width="229" height="230" fill="#c5d1e9"/>
<path d="M838,2255 H1067 V2485 H838 Z" fill="#000" filter="url(#texw)" opacity="0.45"/>
<g fill="none" stroke="#7191dc" stroke-linecap="round" opacity="0.75"><path d="M1064 2326l-2 2m-156 17l-2 3m83-40l0 0m76 120l0 2m-195-23l-3 2m105-133l-1 0m91 203l2 1m-132-185l2 0m-93 34l1 3m131 40l-1 3m-15-50l0 2m-33 0l0 1m-11-10l0 0m-16 48l2 1m106-58l0 1m9 138l-3 1m-46-2l-3 1m-64 2l0 3m-34-65l-1 2m148-136l1 2m-36 64l-1 0m-35-62l1 2m77 141l3 2m-16 9l0 1m-106-110l-3 2m159 150l-1 1m-13-105l0 0m-83 40l1 2m26 80l-1 2m81-176l-1 2m-153 118l0 1m3 59l0 0m96-193l-4 0m-130-30l1 3m162-3l-1 2m-51 6l0 3m56 201l-1 1m-22-78l2 0m8-47l-1 0m-111 80l-1 1m43-133l0 1m-42-8l-3 2m87 192l0 1m-129-54l-1 0m72-27l-1 1m125 14l-1 2m-18-26l3 2m-158-39l-1 1m35-34l-1 0m13-51l2 2" stroke-width="4.5"/><path d="M898 2272l0 1m83 67l-1 1m-63-34l-3 2m92 9l-2 1m-120 41l0 1m61-105l0 1m-62 47l0 3m101 27l3 1m-50 66l-2 3m-7-85l3 1m42 122l-2 0m22-67l2 1m-60 66l1 1m19-148l3 0m-90 147l0 1m134-101l4 1m-79-17l-3 2m-49-67l2 2m148 42l0 4m-52-3l1 0m89 35l1 0m-184 5l-2 1m50 100l1 2m112-38l-3 1m-197-59l0 2m82 106l-1 2m133-59l-1 2m-41-42l-1 0m-122 82l0 2m138-2l-1 0m-90-28l0 2m113 57l0 3m8-38l0 1m-73-117l0 2m-121 45l0 2m60 7l-2 2m-52-64l-2 1m74 82l-3 2m-25-50l2 2m22-41l0 1m11 40l-1 1m41 54l-4 0m-116-103l-2 3m68 125l-1 1m11-47l-3 0m-102 13l2 1m110 51l-4 1m-67-45l-3 3m-40-34l2 4m198-24l2 4m-194 99l-1 2m161-169l0 4m-138 101l1 2m58-104l-1 1m12 171l-1 3m62-16l1 3m-19-140l0 3m-63-54l3 0" stroke-width="4.0"/><path d="M968 2315l-2 2m23-46l-1 2m-105 139l0 1m35-27l0 2m-4 48l1 0m71-3l0 2m50-38l-1 1m-14 86l2 1m1-200l1 2m1 10l0 0m-75-39l1 1m11 45l0 2m-38 18l0 0m59 127l0 0m43-88l2 1m-65 38l1 1m6-56l-1 3m88-35l2 0m-53 154l0 0m-120-39l3 1m15-99l0 2m26 76l0 0m10-145l-1 1m30 162l0 1m-68-161l0 1m39 63l1 1m39-46l-3 0m-53 157l1 2m8-90l1 0m-89 124l-1 0m96-121l0 1m1-16l0 2m-96-14l0 0m42-12l3 1m101 155l0 0m-91-207l0 1m18-6l0 0m-69 154l-2 0m106-163l1 3m-100 158l0 0m13-101l-1 0m11 83l1 2m59-116l-2 0m113 192l0 1m-187-103l1 1m97-82l-2 3m86 49l-1 0m-149-34l0 1m146 154l-1 0m-80-99l-1 1m13-109l0 0m-107 225l-1 1" stroke-width="5.0"/><path d="M918 2372l1 1m-71-63l1 1m40-41l-2 1m77 185l1 1m46-133l0 1m-63-25l1 2m104 110l0 0m-196-147l-1 1m137 205l1 2m-38-81l1 2m102-89l-1 1m-93 106l0 0m-103-65l1 2m159-93l1 0m-173 77l0 0m143 37l0 1m15 83l1 1m-8-19l0 0m-103-72l0 0m58-108l0 0m76 134l0 1m-13 1l0 0m29-31l1 3" stroke-width="5.5"/><path d="M1049 2347l0 4m-105 73l1 1m-107-102l0 1m34 125l-1 3m102-124l-2 1m-86 80l0 3m151-36l-1 2" stroke-width="3.5"/></g>
<path d="M838,2256 L918,2256 C925,2280 928,2320 926,2360 C923,2400 915,2440 905,2485 L838,2485 Z" fill="#9a5e2c" filter="url(#bl2)"/>
<path d="M838,2256 L918,2256 C925,2280 928,2320 926,2360 C923,2400 915,2440 905,2485 L838,2485 Z" fill="#000" filter="url(#texbr)" opacity="0.85"/>
<path d="M958,2262 C982,2258 1000,2290 1000,2330 C1000,2370 992,2402 968,2412 C948,2402 940,2362 942,2322 C944,2292 946,2268 958,2262 Z" fill="#a06a3a" filter="url(#bl2)"/>
<path d="M958,2262 C982,2258 1000,2290 1000,2330 C1000,2370 992,2402 968,2412 C948,2402 940,2362 942,2322 C944,2292 946,2268 958,2262 Z" fill="#000" filter="url(#texbr)" opacity="0.85"/>
<path d="M1003,2410 C1014,2404 1020,2436 1020,2458 C1020,2475 1012,2485 1000,2485 C996,2466 996,2430 1003,2410 Z" fill="#9a6a42" filter="url(#bl2)"/>
<path d="M1003,2410 C1014,2404 1020,2436 1020,2458 C1020,2475 1012,2485 1000,2485 C996,2466 996,2430 1003,2410 Z" fill="#000" filter="url(#texbr)" opacity="0.85"/>
<path d="M1030,2256 L1067,2256 L1067,2284 C1052,2280 1040,2272 1030,2256 Z" fill="#a87c58" filter="url(#bl2)"/>
<path d="M1030,2256 L1067,2256 L1067,2284 C1052,2280 1040,2272 1030,2256 Z" fill="#000" filter="url(#texbr)" opacity="0.85"/>
<g fill="none" stroke="#6d86c8" stroke-linecap="round" opacity="0.55"><path d="M992 2339l0 0m-39 2l0 1m-51 48l0 2m-7 48l0 0m15-70l-1 1m-69 104l-1 1m67-68l-2 0m87-102l-1 2m-4 24l0 1" stroke-width="5.5"/><path d="M866 2471l-2 0m52-147l-2 2m-44 88l0 0m-3 12l-1 0m106-25l0 1m-84 16l0 0m5-31l1 1m20-16l0 0m-46-96l0 1m110 4l0 1m-135-8l1 2m62 27l-2 1m-53 98l2 1m4 26l-1 3m102-114l0 3m-75 8l-2 2m95 15l-1 3m-64 127l0 0m-41-80l0 0" stroke-width="5.0"/><path d="M857 2419l0 1m95-41l-1 1m-34 92l-1 0m49-183l2 0m-113 98l2 1m117-7l4 1m-121-25l1 0m-6-16l-1 1m118-61l0 1m-78 31l-2 1m-49-23l-1 2m32-8l0 3m114 33l-2 3m-118 127l2 2m27-67l1 1m57-96l1 3m4 18l2 0m-102 38l-4 1m45 46l-1 3" stroke-width="4.0"/><path d="M862 2388l-2 1m107 12l0 0m-115-69l2 3m9 39l-3 0m43-18l-3 0m13 58l-3 2m-64-152l-1 1m12 104l2 1m-14-17l0 3m44-14l1 2m1-34l-2 2m-21-29l-1 3m83 28l-3 2m5-44l-3 0m-87 133l-1 0m-11-117l-1 0m20 105l-3 1m-12-129l1 3m133 110l3 1m0 15l-2 1m-144-10l1 0m119-102l1 3" stroke-width="4.5"/><path d="M954 2379l2 1" stroke-width="3.5"/></g>
<ellipse cx="868" cy="2290" rx="6" ry="8" fill="#1e0c04"/>
<ellipse cx="892" cy="2370" rx="9" ry="11" fill="#1e0c04"/>
<ellipse cx="880" cy="2322" rx="5" ry="5" fill="#1e0c04"/>
<ellipse cx="975" cy="2300" rx="5" ry="26" fill="#1e0c04"/>
<ellipse cx="900" cy="2430" rx="5" ry="5" fill="#1e0c04"/>
<ellipse cx="1008" cy="2445" rx="4" ry="5" fill="#1e0c04"/>
<ellipse cx="866" cy="2465" rx="6" ry="8" fill="#1e0c04"/>
<ellipse cx="852" cy="2400" rx="4" ry="6" fill="#1e0c04"/>
</g>
<rect x="69.2" y="2019.2" width="229.3" height="229.3" fill="none" stroke="#222" stroke-width="2"/>
<rect x="306" y="2019.2" width="229.5" height="229.3" fill="none" stroke="#222" stroke-width="2"/>
<rect x="69.2" y="2256" width="229.3" height="228.9" fill="none" stroke="#222" stroke-width="2"/>
<rect x="306" y="2256" width="229.5" height="228.9" fill="none" stroke="#222" stroke-width="2"/>
<rect x="601.3" y="2019.1" width="229.7" height="228.6" fill="none" stroke="#222" stroke-width="2"/>
<rect x="837.9" y="2019.1" width="228.5" height="228.6" fill="none" stroke="#222" stroke-width="2"/>
<rect x="601.3" y="2255.7" width="229.7" height="228.6" fill="none" stroke="#222" stroke-width="2"/>
<rect x="837.9" y="2255.7" width="228.5" height="228.6" fill="none" stroke="#222" stroke-width="2"/>
<rect x="96.7" y="2059.3" width="92.6" height="93" fill="none" stroke="#1a1a1a" stroke-width="3.6"/>
<path d="M189.3 2059.3L298.5 2019.2M189.3 2152.3L298.5 2248.5" stroke="#1a1a1a" stroke-width="3.6"/>
<rect x="182" y="2280" width="92" height="93.3" fill="none" stroke="#1a1a1a" stroke-width="3.6"/>
<path d="M274 2280L298.5 2256M274 2373.3L298.5 2484.9" stroke="#1a1a1a" stroke-width="3.6"/>
<rect x="675" y="2066.7" width="91.7" height="92.6" fill="none" stroke="#1a1a1a" stroke-width="3.6"/>
<path d="M766.7 2066.7L831 2019.1M766.7 2159.3L831 2247.7" stroke="#1a1a1a" stroke-width="3.6"/>
<rect x="620" y="2335" width="91.7" height="91.7" fill="none" stroke="#1a1a1a" stroke-width="3.6"/>
<path d="M711.7 2335L831 2255.7M711.7 2426.7L831 2484.3" stroke="#1a1a1a" stroke-width="3.6"/>
<line x1="250.7" y1="2234" x2="276" y2="2234" stroke="#111" stroke-width="3.2"/>
<line x1="471.7" y1="2234" x2="519.3" y2="2234" stroke="#111" stroke-width="3.2"/>
<line x1="250.7" y1="2469.3" x2="276" y2="2469.3" stroke="#111" stroke-width="3.2"/>
<line x1="471.7" y1="2469.3" x2="519.3" y2="2469.3" stroke="#111" stroke-width="3.2"/>
<line x1="786" y1="2234" x2="811" y2="2234" stroke="#111" stroke-width="3.2"/>
<line x1="1003" y1="2236" x2="1050" y2="2236" stroke="#111" stroke-width="3.2"/>
<line x1="786" y1="2469" x2="811" y2="2469" stroke="#111" stroke-width="3.2"/>
<line x1="1003" y1="2470" x2="1050" y2="2470" stroke="#111" stroke-width="3.2"/>
<text transform="translate(1115.0,2006.9) scale(0.983,1)" font-size="53.9" font-weight="bold">J</text>
<rect x="1238" y="1979" width="15" height="17.5" fill="#5a2fb0" stroke="#000" stroke-width="2.6"/>
<text x="1272.4" y="1999.6" font-size="29.8">NT</text>
<rect x="1352.5" y="1979" width="15" height="17.5" fill="#e0401e" stroke="#000" stroke-width="2.6"/>
<text x="1387" y="1999.6" font-size="28.7">GBC</text>
<path d="M1199 2011.7V2399.7H1458.5" fill="none" stroke="#000" stroke-width="3.3"/>
<path d="M1199 2399.7V2414.4M1250.6 2399.7V2414.4M1302.2 2399.7V2414.4M1353.8 2399.7V2414.4M1405.4 2399.7V2414.4M1457 2399.7V2414.4M1183 2059.8H1199M1183 2157.8H1199M1183 2256.3H1199M1183 2354.1H1199" stroke="#000" stroke-width="3.3" fill="none"/>
<text x="1198" y="2449.3" font-size="27.5" font-weight="bold" text-anchor="middle">0</text>
<text x="1250.1" y="2449.3" font-size="27.5" font-weight="bold" text-anchor="middle">10</text>
<text x="1301.7" y="2449.3" font-size="27.5" font-weight="bold" text-anchor="middle">20</text>
<text x="1353.3" y="2449.3" font-size="27.5" font-weight="bold" text-anchor="middle">30</text>
<text x="1404.9" y="2449.3" font-size="27.5" font-weight="bold" text-anchor="middle">40</text>
<text x="1456.5" y="2449.3" font-size="27.5" font-weight="bold" text-anchor="middle">50</text>
<text x="1177.5" y="2069.6" font-size="27.5" font-weight="bold" text-anchor="end">3</text>
<text x="1177.5" y="2167.6" font-size="27.5" font-weight="bold" text-anchor="end">2</text>
<text x="1177.5" y="2266.1" font-size="27.5" font-weight="bold" text-anchor="end">1</text>
<text x="1177.5" y="2363.9" font-size="27.5" font-weight="bold" text-anchor="end">0</text>
<rect x="1199" y="2031.2" width="225.5" height="22.9" fill="#e0401e" stroke="#000" stroke-width="3.2"/>
<rect x="1199" y="2066.2" width="60.4" height="22.8" fill="#5a2fb0" stroke="#000" stroke-width="3.2"/>
<rect x="1199" y="2129.5" width="148.1" height="23" fill="#e0401e" stroke="#000" stroke-width="3.2"/>
<rect x="1199" y="2164.7" width="112" height="22.8" fill="#5a2fb0" stroke="#000" stroke-width="3.2"/>
<rect x="1199" y="2227.5" width="34.6" height="23.6" fill="#e0401e" stroke="#000" stroke-width="3.2"/>
<rect x="1199" y="2262.5" width="96.5" height="23.6" fill="#5a2fb0" stroke="#000" stroke-width="3.2"/>
<rect x="1199" y="2325.3" width="158.5" height="23.6" fill="#e0401e" stroke="#000" stroke-width="3.2"/>
<rect x="1199" y="2360.5" width="50.1" height="23.6" fill="#5a2fb0" stroke="#000" stroke-width="3.2"/>
<text x="1318.6" y="2481" font-size="28.2" font-weight="bold" text-anchor="middle">Frequency</text>
<text transform="translate(1149,2207.3) rotate(-90)" font-size="28.2" font-weight="bold" text-anchor="middle">Intensity score</text>
<text transform="translate(1494.6,2007.1) scale(1.006,1)" font-size="50.7" font-weight="bold">K</text>
<rect x="1569" y="1980" width="15" height="17.5" fill="#5a2fb0" stroke="#000" stroke-width="2.6"/>
<text x="1603.5" y="2003.5" font-size="29.2">Negative</text>
<rect x="1750.5" y="1980" width="15" height="17.5" fill="#e0401e" stroke="#000" stroke-width="2.6"/>
<text x="1785.5" y="2003.5" font-size="28.8">Positive</text>
<path d="M1592.1 2036.3000000000002V2401.2H1834.3" fill="none" stroke="#000" stroke-width="3.3"/>
<path d="M1576.5 2401.2H1592.1M1576.5 2219.6H1592.1M1576.5 2037.9H1592.1M1644 2401.2V2416.8M1711.8 2401.2V2416.8M1779 2401.2V2416.8" stroke="#000" stroke-width="3.3" fill="none"/>
<text x="1572.5" y="2410.5" font-size="26" font-weight="bold" text-anchor="end">0</text>
<text x="1572.5" y="2228.9" font-size="26" font-weight="bold" text-anchor="end">50</text>
<text x="1572.5" y="2047.2" font-size="26" font-weight="bold" text-anchor="end">100</text>
<rect x="1621.7" y="2040.7" width="47.59999999999991" height="360.5" fill="#e0401e" stroke="#000" stroke-width="3.2"/>
<rect x="1689.1" y="2040.7" width="47.600000000000136" height="360.5" fill="#e0401e" stroke="#000" stroke-width="3.2"/>
<rect x="1689.1" y="2279.7" width="47.600000000000136" height="121.5" fill="#5a2fb0" stroke="#000" stroke-width="3.2"/>
<rect x="1756.1" y="2040.7" width="47.600000000000136" height="360.5" fill="#e0401e" stroke="#000" stroke-width="3.2"/>
<rect x="1756.1" y="2264.2" width="47.600000000000136" height="137" fill="#5a2fb0" stroke="#000" stroke-width="3.2"/>
<text transform="translate(1652.8,2444) rotate(-45)" font-size="27.8" font-weight="bold" text-anchor="end">UICC2</text>
<text transform="translate(1720.6,2444) rotate(-45)" font-size="27.8" font-weight="bold" text-anchor="end">UICC3</text>
<text transform="translate(1787.8,2444) rotate(-45)" font-size="27.8" font-weight="bold" text-anchor="end">UICC4</text>
<text transform="translate(1523.5,2200) rotate(-90)" font-size="28.2" font-weight="bold" text-anchor="middle">Percentage (%)</text>
</svg>
</body></html>
